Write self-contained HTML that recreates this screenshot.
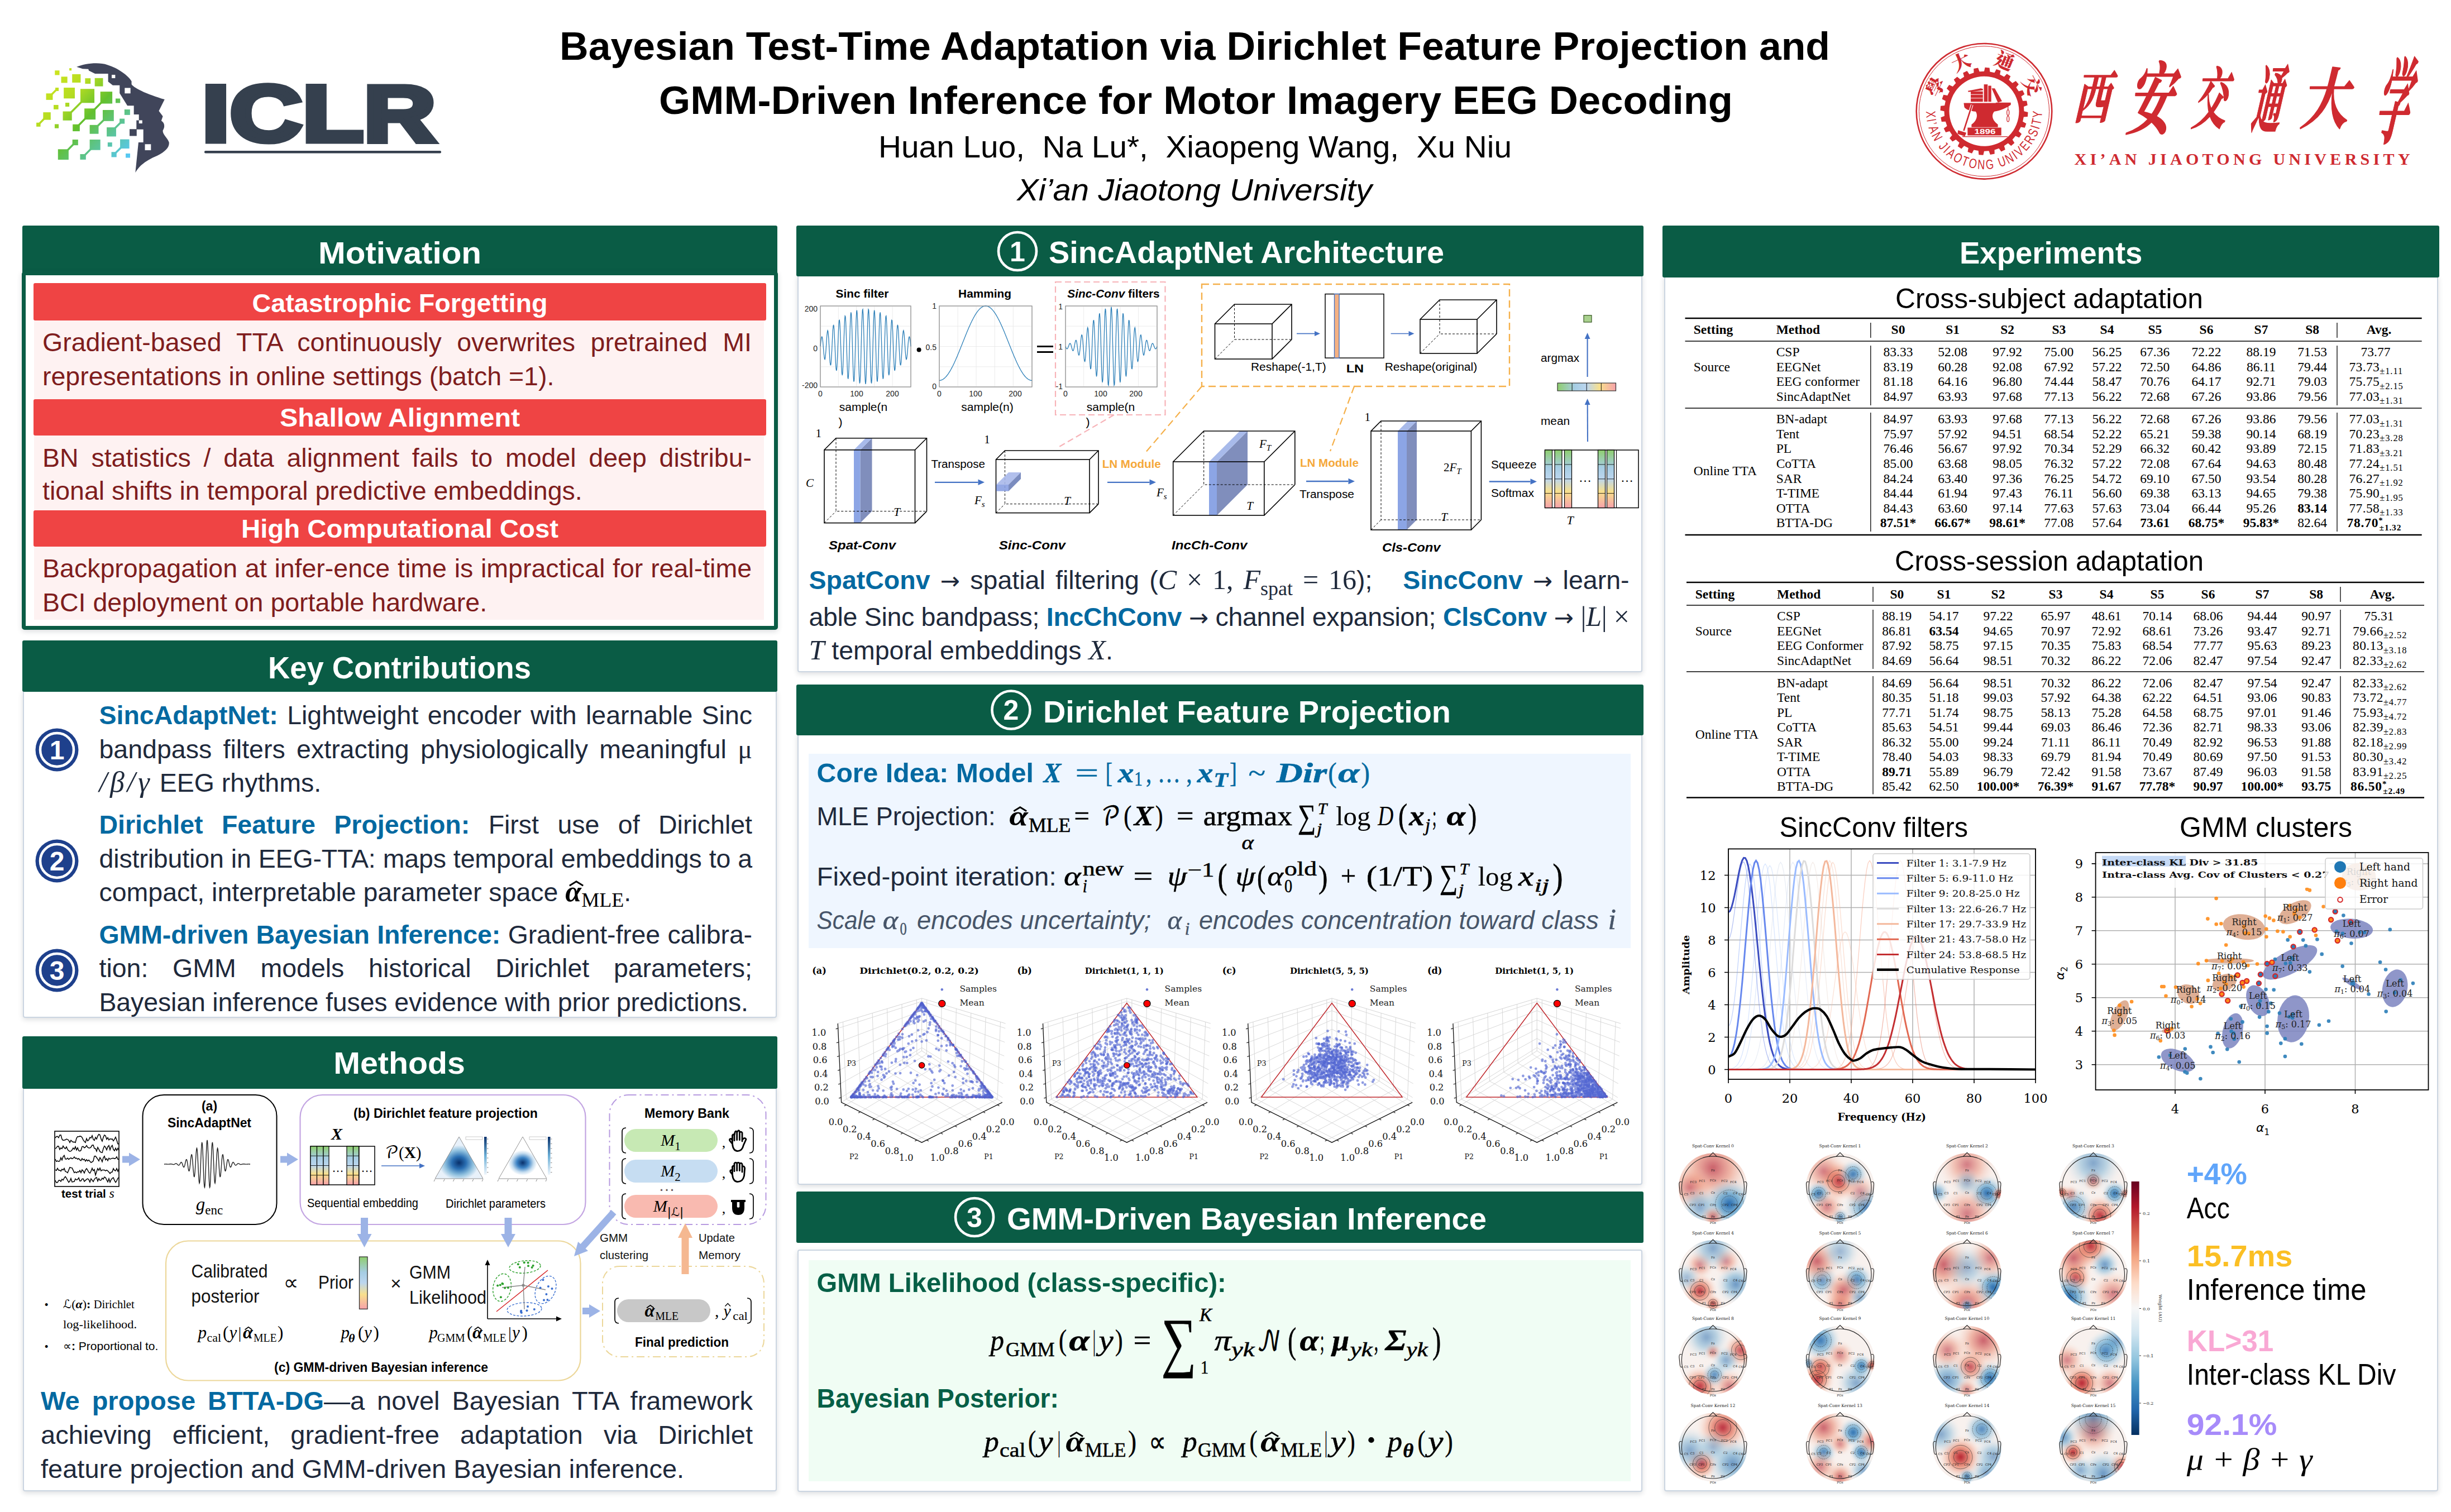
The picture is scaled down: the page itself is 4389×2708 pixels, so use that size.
<!DOCTYPE html>
<html lang="en"><head><meta charset="utf-8"><title>BTTA-DG poster</title><style>
html,body{margin:0;padding:0;background:#fff}
body{width:4389px;height:2708px;position:relative;overflow:hidden;font-family:"Liberation Sans",sans-serif;color:#000}
svg#pg{position:absolute;left:0;top:0}
svg text{white-space:pre}
.ln{position:absolute;white-space:nowrap;text-align:justify;text-align-last:justify;color:#1e293b}
.ln span,.ln i,.ln b,.ln sub,.ln sup{line-height:0}
.m{font-family:"Liberation Serif","DejaVu Serif",serif;font-style:italic}
.mr{font-family:"Liberation Serif","DejaVu Serif",serif;font-style:normal}
.dm{font-family:"DejaVu Math TeX Gyre","DejaVu Serif",serif;font-style:normal}
.bl{color:#0369a1;font-weight:bold}
.box{position:absolute;box-sizing:border-box}
</style></head>
<body>
<div class="box" style="left:40px;top:404px;width:1352px;height:90px;background:#0a5c45;border-radius:3px"></div><div class="box" style="left:39px;top:486px;width:1354px;height:642px;background:#fff;border:7px solid #0a5c45;border-radius:5px;box-shadow:0 3px 10px rgba(30,41,59,.16);"></div><div class="box" style="left:61px;top:574px;width:1307px;height:141px;background:#fef2f2"></div><div class="box" style="left:60px;top:507px;width:1312px;height:67px;background:#ef4444;border-radius:3px"></div><div class="box" style="left:61px;top:780px;width:1307px;height:134px;background:#fef2f2"></div><div class="box" style="left:60px;top:715px;width:1312px;height:65px;background:#ef4444;border-radius:3px"></div><div class="box" style="left:61px;top:979px;width:1307px;height:131px;background:#fef2f2"></div><div class="box" style="left:60px;top:914px;width:1312px;height:65px;background:#ef4444;border-radius:3px"></div><div class="box" style="left:40.5px;top:1236px;width:1350px;height:587px;background:#fff;border:2px solid #cbd5e1;border-radius:4px;box-shadow:0 3px 10px rgba(30,41,59,.16);"></div><div class="box" style="left:40px;top:1147px;width:1352px;height:92px;background:#0a5c45;border-radius:3px"></div><div class="box" style="left:40.5px;top:1946px;width:1350px;height:725px;background:#fff;border:2px solid #cbd5e1;border-radius:4px;box-shadow:0 3px 10px rgba(30,41,59,.16);"></div><div class="box" style="left:40px;top:1856px;width:1352px;height:94px;background:#0a5c45;border-radius:3px"></div><div class="box" style="left:1427.5px;top:492px;width:1513.5px;height:712px;background:#fff;border:2px solid #cbd5e1;border-radius:4px;box-shadow:0 3px 10px rgba(30,41,59,.16);"></div><div class="box" style="left:1427.5px;top:1314px;width:1513.5px;height:808px;background:#fff;border:2px solid #cbd5e1;border-radius:4px;box-shadow:0 3px 10px rgba(30,41,59,.16);"></div><div class="box" style="left:1427.5px;top:2237.6px;width:1513.5px;height:434.4px;background:#fff;border:2px solid #cbd5e1;border-radius:4px;box-shadow:0 3px 10px rgba(30,41,59,.16);"></div><div class="box" style="left:1426px;top:404px;width:1517px;height:91px;background:#0a5c45;border-radius:3px"></div><div class="box" style="left:1426px;top:1226px;width:1517px;height:91px;background:#0a5c45;border-radius:3px"></div><div class="box" style="left:1426px;top:2133.8px;width:1517px;height:92.2px;background:#0a5c45;border-radius:3px"></div><div class="box" style="left:1447.7px;top:1349.5px;width:1472.3px;height:348px;background:#eff6ff"></div><div class="box" style="left:1447.7px;top:2257px;width:1472.3px;height:395.7px;background:#f0fdf4"></div><div class="box" style="left:2980px;top:494px;width:1385.5px;height:2177px;background:#fff;border:2px solid #cbd5e1;border-radius:4px;box-shadow:0 3px 10px rgba(30,41,59,.16);"></div><div class="box" style="left:2977px;top:404px;width:1391px;height:93.4px;background:#0a5c45;border-radius:3px"></div>
<svg id="pg" width="4389" height="2708" viewBox="0 0 4389 2708" font-family='"Liberation Sans", sans-serif'>
<defs><linearGradient id="gq" gradientUnits="userSpaceOnUse" x1="250" y1="250" x2="1200" y2="1200"><stop offset="0" stop-color="#d2e61e"/><stop offset=".3" stop-color="#b4dc22"/><stop offset=".52" stop-color="#62c02e"/><stop offset=".75" stop-color="#5cc492"/><stop offset="1" stop-color="#56c8f6"/></linearGradient></defs><g transform="translate(40 90) scale(.15873)"><g fill="url(#gq)" stroke="url(#gq)"><rect x="367" y="228" width="52" height="52" stroke="none"/><rect x="530" y="202" width="25" height="27" stroke="none"/><rect x="438" y="298" width="70" height="70" stroke="none"/><rect x="562" y="270" width="96" height="95" stroke="none"/><rect x="708" y="316" width="62" height="62" stroke="none"/><rect x="817" y="314" width="93" height="93" stroke="none"/><rect x="372" y="422" width="38" height="38" stroke="none"/><rect x="268" y="487" width="75" height="73" stroke="none"/><rect x="467" y="422" width="125" height="122" stroke="none"/><rect x="655" y="436" width="158" height="158" stroke="none"/><rect x="880" y="467" width="135" height="135" stroke="none"/><rect x="1052" y="545" width="52" height="50" stroke="none"/><rect x="485" y="592" width="45" height="44" stroke="none"/><rect x="353" y="617" width="54" height="50" stroke="none"/><rect x="235" y="700" width="85" height="85" stroke="none"/><rect x="457" y="690" width="102" height="102" stroke="none"/><rect x="700" y="657" width="126" height="125" stroke="none"/><rect x="907" y="674" width="125" height="125" stroke="none"/><rect x="1152" y="668" width="63" height="62" stroke="none"/><rect x="1097" y="772" width="57" height="57" stroke="none"/><rect x="158" y="817" width="47" height="45" stroke="none"/><rect x="365" y="834" width="45" height="46" stroke="none"/><rect x="568" y="836" width="80" height="78" stroke="none"/><rect x="760" y="843" width="100" height="100" stroke="none"/><rect x="952" y="870" width="106" height="103" stroke="none"/><rect x="565" y="1008" width="64" height="64" stroke="none"/><rect x="760" y="1008" width="120" height="118" stroke="none"/><rect x="963" y="1040" width="50" height="48" stroke="none"/><rect x="1103" y="1005" width="104" height="104" stroke="none"/><rect x="402" y="1117" width="120" height="118" stroke="none"/><rect x="652" y="1172" width="65" height="62" stroke="none"/><rect x="1005" y="1148" width="58" height="58" stroke="none"/><rect x="1166" y="1165" width="50" height="48" stroke="none"/><line x1="390" y1="440" x2="305" y2="525" stroke-width="22"/><line x1="735" y1="515" x2="510" y2="740" stroke-width="22"/><line x1="945" y1="535" x2="763" y2="720" stroke-width="22"/><line x1="277" y1="742" x2="181" y2="840" stroke-width="22"/><line x1="760" y1="720" x2="608" y2="875" stroke-width="22"/><line x1="970" y1="737" x2="810" y2="893" stroke-width="22"/><line x1="1125" y1="800" x2="1005" y2="920" stroke-width="22"/><line x1="597" y1="1040" x2="462" y2="1176" stroke-width="22"/><line x1="820" y1="1067" x2="685" y2="1203" stroke-width="22"/><line x1="1155" y1="1057" x2="1034" y2="1177" stroke-width="22"/></g><path d="M612,188C700,150 860,130 960,165C1080,200 1200,290 1232,350L1232,385C1260,430 1420,500 1605,555L1540,685L1585,745L1568,795C1600,815 1615,855 1585,905C1580,950 1640,990 1655,1040C1660,1090 1620,1140 1520,1190C1400,1240 1320,1300 1275,1380L1310,1040L1365,1040L1365,893L1290,893L1290,967L1210,967L1210,890L1287,890L1287,790L1315,790L1315,725L1258,725L1258,625L1185,625L1098,485L1098,395L1020,395L968,355L968,265L820,265L750,230L745,212L680,210Z" fill="#40455a"/><rect x="1008" y="277" width="40" height="38" fill="#fff"/><rect x="1155" y="425" width="65" height="62" fill="#fff"/><rect x="1315" y="790" width="38" height="36" fill="#fff"/><rect x="1383" y="1060" width="68" height="68" fill="#fff"/></g><text x="361.6" y="252.5" font-size="143" textLength="419" lengthAdjust="spacingAndGlyphs" fill="#35404e" font-family='"Liberation Sans", sans-serif' font-weight="bold" stroke="#35404e" stroke-width="9" stroke-linejoin="miter">ICLR</text><rect x="366" y="270" width="424" height="4.5" fill="#35404e" rx="2"/><g fill="none" stroke="#cf2a30"><circle cx="3553" cy="199.3" r="121.3" stroke-width="2.6"/><circle cx="3553" cy="199.3" r="116.6" stroke-width="1"/></g><path d="M3624.5,199.3L3631.5,200.9L3630.9,208.9L3623.8,209.6L3622.1,217.8L3628.4,221.2L3625.8,228.8L3618.7,227.5L3614.9,235.1L3620.1,240.0L3615.7,246.6L3609.2,243.6L3603.6,249.9L3607.3,256.0L3601.3,261.2L3595.8,256.6L3588.8,261.2L3590.8,268.1L3583.6,271.6L3579.5,265.7L3571.5,268.4L3571.7,275.5L3563.9,277.0L3561.4,270.3L3553.0,270.8L3551.4,277.8L3543.4,277.2L3542.7,270.1L3534.5,268.4L3531.1,274.7L3523.5,272.1L3524.8,265.0L3517.2,261.2L3512.3,266.4L3505.7,262.0L3508.7,255.5L3502.4,249.9L3496.3,253.6L3491.1,247.6L3495.7,242.1L3491.1,235.1L3484.2,237.1L3480.7,229.9L3486.6,225.8L3483.9,217.8L3476.8,218.0L3475.3,210.2L3482.0,207.7L3481.5,199.3L3474.5,197.7L3475.1,189.7L3482.2,189.0L3483.9,180.8L3477.6,177.4L3480.2,169.8L3487.3,171.1L3491.1,163.6L3485.9,158.6L3490.3,152.0L3496.8,155.0L3502.4,148.7L3498.7,142.6L3504.7,137.4L3510.2,142.0L3517.2,137.4L3515.2,130.5L3522.4,127.0L3526.5,132.9L3534.5,130.2L3534.3,123.1L3542.1,121.6L3544.6,128.3L3553.0,127.8L3554.6,120.8L3562.6,121.4L3563.3,128.5L3571.5,130.2L3574.9,123.9L3582.5,126.5L3581.2,133.6L3588.8,137.4L3593.7,132.2L3600.3,136.6L3597.3,143.1L3603.6,148.7L3609.7,145.0L3614.9,151.0L3610.3,156.5L3614.9,163.5L3621.8,161.5L3625.3,168.7L3619.4,172.8L3622.1,180.8L3629.2,180.6L3630.7,188.4L3624.0,190.9Z M3490.5,199.3 a62.5,62.5 0 1,0 125,0 a62.5,62.5 0 1,0 -125,0Z" fill="#cf2a30" fill-rule="evenodd"/><g transform="translate(3410 60) scale(0.18519)" fill="#cf2a30" stroke="none"><path d="M575,672L885,672L885,668L1030,668L1030,690C990,720 930,745 870,755C840,790 850,840 905,880L650,880C700,845 715,790 690,755C640,750 590,735 580,710Z"/><rect x="650" y="880" width="255" height="26"/><rect x="612" y="910" width="326" height="76"/><rect x="643" y="560" width="117" height="100"/><rect x="770" y="492" width="36" height="168"/><rect x="812" y="505" width="29" height="155"/><path d="M845,530L875,530L945,655L905,668Z"/><path d="M615,555L740,530L760,536L760,549L620,566Z"/><path d="M520,935L600,960L585,995L515,970Z"/><rect x="560" y="994" width="440" height="7"/><g stroke="#fff" stroke-width="5"><line x1="643" y1="590" x2="760" y2="590"/><line x1="643" y1="625" x2="760" y2="625"/></g><line x1="655" y1="690" x2="575" y2="940" stroke="#fff" stroke-width="26"/><line x1="655" y1="690" x2="575" y2="940" stroke="#cf2a30" stroke-width="14"/><g fill="none" stroke="#cf2a30" stroke-width="7"><ellipse cx="1003" cy="765" rx="11" ry="27"/><ellipse cx="1003" cy="826" rx="11" ry="27"/><line x1="1003" y1="690" x2="1003" y2="740"/></g><text x="780" y="972" text-anchor="middle" font-size="72" font-weight="bold" fill="#fff" textLength="205" lengthAdjust="spacingAndGlyphs" font-family='"Liberation Sans", sans-serif'>1896</text></g><g fill="#cf2a30" font-size="24" font-family='"Liberation Sans", sans-serif' text-anchor="middle"><text transform="translate(3449.4 205.4) rotate(86.6) scale(0.760 1)">X</text><text transform="translate(3450.7 216.7) rotate(80.3) scale(0.760 1)">I</text><text transform="translate(3452.1 223.9) rotate(76.3) scale(0.760 1)">’</text><text transform="translate(3455.3 234.3) rotate(70.3) scale(0.760 1)">A</text><text transform="translate(3461.5 248.4) rotate(61.8) scale(0.760 1)">N</text><text transform="translate(3473.7 266.3) rotate(49.8) scale(0.760 1)">J</text><text transform="translate(3480.5 273.5) rotate(44.3) scale(0.760 1)">I</text><text transform="translate(3489.0 281.0) rotate(38.1) scale(0.760 1)">A</text><text transform="translate(3502.3 289.9) rotate(29.2) scale(0.760 1)">O</text><text transform="translate(3516.3 296.4) rotate(20.7) scale(0.760 1)">T</text><text transform="translate(3531.1 300.8) rotate(12.2) scale(0.760 1)">O</text><text transform="translate(3547.4 302.9) rotate(3.1) scale(0.760 1)">N</text><text transform="translate(3563.8 302.5) rotate(-6.0) scale(0.760 1)">G</text><text transform="translate(3587.5 297.2) rotate(-19.4) scale(0.760 1)">U</text><text transform="translate(3602.1 290.8) rotate(-28.2) scale(0.760 1)">N</text><text transform="translate(3612.2 284.6) rotate(-34.8) scale(0.760 1)">I</text><text transform="translate(3621.2 277.6) rotate(-41.1) scale(0.760 1)">V</text><text transform="translate(3631.7 267.0) rotate(-49.3) scale(0.760 1)">E</text><text transform="translate(3640.9 254.5) rotate(-57.8) scale(0.760 1)">R</text><text transform="translate(3648.1 240.9) rotate(-66.4) scale(0.760 1)">S</text><text transform="translate(3652.1 230.2) rotate(-72.7) scale(0.760 1)">I</text><text transform="translate(3654.8 219.7) rotate(-78.7) scale(0.760 1)">T</text><text transform="translate(3656.6 205.4) rotate(-86.6) scale(0.760 1)">Y</text></g><text x="0" y="12" text-anchor="middle" font-size="34" font-weight="900" fill="#cf2a30" font-family='"Noto Serif CJK TC","Noto Sans CJK TC",serif' transform="translate(3466.3 155.7) rotate(296.7)">學</text><text x="0" y="12" text-anchor="middle" font-size="34" font-weight="900" fill="#cf2a30" font-family='"Noto Serif CJK TC","Noto Sans CJK TC",serif' transform="translate(3512.0 111.4) rotate(335.0)">大</text><text x="0" y="12" text-anchor="middle" font-size="34" font-weight="900" fill="#cf2a30" font-family='"Noto Serif CJK TC","Noto Sans CJK TC",serif' transform="translate(3589.3 109.4) rotate(382.0)">通</text><text x="0" y="12" text-anchor="middle" font-size="34" font-weight="900" fill="#cf2a30" font-family='"Noto Serif CJK TC","Noto Sans CJK TC",serif' transform="translate(3638.4 153.3) rotate(421.7)">交</text><g fill="#cf2a30" stroke="#cf2a30" stroke-width="1.6" stroke-linejoin="round" font-size="100" font-weight="700" font-family='"Noto Serif CJK SC","Noto Sans CJK SC",serif'><text transform="translate(3712.2 212.4) skewX(-13) scale(0.638 1.016)">西</text><text transform="translate(3807.0 228.4) skewX(-13) scale(0.798 1.404)">安</text><text transform="translate(3923.7 220.3) skewX(-13) scale(0.608 1.191)">交</text><text transform="translate(4029.1 226.2) skewX(-13) scale(0.527 1.312)">通</text><text transform="translate(4118.5 220.4) skewX(-13) scale(0.849 1.181)">大</text><text transform="translate(4249.3 242.5) skewX(-13) scale(0.588 1.665)">学</text></g><text x="3714.6" y="295" font-size="30" textLength="601" lengthAdjust="spacing" fill="#cf2a30" font-family='"Liberation Serif", serif' font-weight="bold">XI’AN JIAOTONG UNIVERSITY</text><text x="2139.5" y="107" font-size="71" text-anchor="middle" textLength="2275" lengthAdjust="spacingAndGlyphs" font-family='"Liberation Sans", sans-serif' font-weight="bold">Bayesian Test-Time Adaptation via Dirichlet Feature Projection and</text><text x="2141.5" y="204" font-size="71" text-anchor="middle" textLength="1923" lengthAdjust="spacingAndGlyphs" font-family='"Liberation Sans", sans-serif' font-weight="bold">GMM-Driven Inference for Motor Imagery EEG Decoding</text><text x="2140" y="282" font-size="56" text-anchor="middle" textLength="1134" lengthAdjust="spacingAndGlyphs" font-family='"Liberation Sans", sans-serif' xml:space="preserve">Huan Luo,  Na Lu*,  Xiaopeng Wang,  Xu Niu</text><text x="2139" y="359" font-size="56" text-anchor="middle" textLength="636" lengthAdjust="spacingAndGlyphs" font-family='"Liberation Sans", sans-serif' font-style="italic">Xi’an Jiaotong University</text><text x="716" y="472" font-size="56" text-anchor="middle" textLength="292" lengthAdjust="spacingAndGlyphs" fill="#fff" font-family='"Liberation Sans", sans-serif' font-weight="bold">Motivation</text><text x="716" y="558.7" font-size="47" text-anchor="middle" textLength="529" lengthAdjust="spacingAndGlyphs" fill="#fff" font-family='"Liberation Sans", sans-serif' font-weight="bold">Catastrophic Forgetting</text><text x="716" y="764" font-size="47" text-anchor="middle" textLength="430" lengthAdjust="spacingAndGlyphs" fill="#fff" font-family='"Liberation Sans", sans-serif' font-weight="bold">Shallow Alignment</text><text x="716" y="962.6" font-size="47" text-anchor="middle" textLength="568" lengthAdjust="spacingAndGlyphs" fill="#fff" font-family='"Liberation Sans", sans-serif' font-weight="bold">High Computational Cost</text><text x="715.5" y="1215" font-size="56" text-anchor="middle" textLength="471" lengthAdjust="spacingAndGlyphs" fill="#fff" font-family='"Liberation Sans", sans-serif' font-weight="bold">Key Contributions</text><circle cx="102" cy="1343" r="38.5" fill="#1e408c"/><circle cx="102" cy="1343" r="30" fill="none" stroke="#fff" stroke-width="4.5"/><text x="102" y="1360" font-size="48" text-anchor="middle" fill="#fff" font-family='"Liberation Sans", sans-serif' font-weight="bold">1</text><circle cx="102" cy="1542" r="38.5" fill="#1e408c"/><circle cx="102" cy="1542" r="30" fill="none" stroke="#fff" stroke-width="4.5"/><text x="102" y="1559" font-size="48" text-anchor="middle" fill="#fff" font-family='"Liberation Sans", sans-serif' font-weight="bold">2</text><circle cx="102" cy="1738" r="38.5" fill="#1e408c"/><circle cx="102" cy="1738" r="30" fill="none" stroke="#fff" stroke-width="4.5"/><text x="102" y="1755" font-size="48" text-anchor="middle" fill="#fff" font-family='"Liberation Sans", sans-serif' font-weight="bold">3</text><text x="715" y="1923" font-size="56" text-anchor="middle" textLength="235.5" lengthAdjust="spacingAndGlyphs" fill="#fff" font-family='"Liberation Sans", sans-serif' font-weight="bold">Methods</text><rect x="98" y="2026" width="115" height="99" fill="#fff" stroke="#000" stroke-width="1.6"/><path d="M99,2038.0 L101.0,2035.4 L103.0,2035.3 L105.0,2037.7 L107.0,2033.0 L109.0,2032.8 L111.0,2040.1 L113.0,2042.5 L115.0,2041.9 L117.0,2041.5 L119.0,2040.1 L121.0,2040.9 L123.0,2042.2 L125.0,2046.3 L127.0,2042.3 L129.0,2044.2 L131.0,2045.6 L133.0,2045.2 L135.0,2046.3 L137.0,2038.5 L139.0,2035.5 L141.0,2036.0 L143.0,2034.9 L145.0,2035.2 L147.0,2037.3 L149.0,2041.6 L151.0,2044.3 L153.0,2046.4 L155.0,2039.2 L157.0,2043.3 L159.0,2041.6 L161.0,2037.1 L163.0,2038.2 L165.0,2033.8 L167.0,2040.6 L169.0,2042.4 L171.0,2036.9 L173.0,2040.1 L175.0,2034.6 L177.0,2031.6 L179.0,2032.8 L181.0,2039.9 L183.0,2044.0 L185.0,2037.1 L187.0,2032.8 L189.0,2034.2 L191.0,2040.5 L193.0,2037.5 L195.0,2041.7 L197.0,2039.6 L199.0,2040.3 L201.0,2039.9 L203.0,2043.4 L205.0,2040.3 L207.0,2036.6 L209.0,2042.0 L211.0,2048.7 L213.0,2048.8" fill="none" stroke="#000" stroke-width="1.5"/><path d="M99,2057.0 L101.0,2055.8 L103.0,2052.7 L105.0,2052.9 L107.0,2058.9 L109.0,2055.9 L111.0,2057.3 L113.0,2052.4 L115.0,2055.7 L117.0,2057.3 L119.0,2054.0 L121.0,2058.8 L123.0,2060.9 L125.0,2062.3 L127.0,2061.7 L129.0,2059.6 L131.0,2056.1 L133.0,2058.3 L135.0,2053.7 L137.0,2059.7 L139.0,2055.7 L141.0,2060.9 L143.0,2061.6 L145.0,2060.2 L147.0,2053.6 L149.0,2053.3 L151.0,2055.7 L153.0,2054.7 L155.0,2051.6 L157.0,2054.9 L159.0,2056.0 L161.0,2056.1 L163.0,2054.4 L165.0,2050.9 L167.0,2050.7 L169.0,2056.8 L171.0,2057.0 L173.0,2061.9 L175.0,2055.0 L177.0,2058.4 L179.0,2062.4 L181.0,2063.9 L183.0,2064.4 L185.0,2057.2 L187.0,2052.5 L189.0,2054.6 L191.0,2059.5 L193.0,2053.9 L195.0,2051.5 L197.0,2059.4 L199.0,2053.8 L201.0,2051.4 L203.0,2058.6 L205.0,2061.0 L207.0,2056.4 L209.0,2060.6 L211.0,2056.4 L213.0,2060.5" fill="none" stroke="#000" stroke-width="1.5"/><path d="M99,2076.0 L101.0,2080.2 L103.0,2079.0 L105.0,2080.2 L107.0,2079.5 L109.0,2073.4 L111.0,2077.8 L113.0,2071.7 L115.0,2069.3 L117.0,2075.9 L119.0,2076.0 L121.0,2074.1 L123.0,2076.4 L125.0,2074.8 L127.0,2073.7 L129.0,2075.3 L131.0,2074.4 L133.0,2071.9 L135.0,2074.8 L137.0,2074.1 L139.0,2076.2 L141.0,2074.8 L143.0,2077.4 L145.0,2078.7 L147.0,2074.9 L149.0,2077.4 L151.0,2076.0 L153.0,2079.8 L155.0,2076.8 L157.0,2079.4 L159.0,2077.5 L161.0,2080.0 L163.0,2082.0 L165.0,2081.0 L167.0,2079.4 L169.0,2070.7 L171.0,2070.5 L173.0,2073.2 L175.0,2076.1 L177.0,2079.2 L179.0,2073.3 L181.0,2076.3 L183.0,2080.7 L185.0,2073.6 L187.0,2070.7 L189.0,2077.4 L191.0,2075.0 L193.0,2078.8 L195.0,2074.3 L197.0,2076.2 L199.0,2075.1 L201.0,2074.5 L203.0,2074.3 L205.0,2075.1 L207.0,2074.6 L209.0,2071.8 L211.0,2076.3 L213.0,2076.3" fill="none" stroke="#000" stroke-width="1.5"/><path d="M99,2095.0 L101.0,2096.4 L103.0,2092.3 L105.0,2096.0 L107.0,2095.7 L109.0,2097.6 L111.0,2094.1 L113.0,2095.4 L115.0,2092.5 L117.0,2098.2 L119.0,2098.8 L121.0,2100.6 L123.0,2095.8 L125.0,2090.7 L127.0,2091.4 L129.0,2091.6 L131.0,2095.9 L133.0,2100.4 L135.0,2099.0 L137.0,2100.5 L139.0,2098.6 L141.0,2099.2 L143.0,2096.3 L145.0,2100.3 L147.0,2095.2 L149.0,2097.3 L151.0,2100.9 L153.0,2095.6 L155.0,2092.9 L157.0,2095.9 L159.0,2099.5 L161.0,2101.1 L163.0,2097.6 L165.0,2092.3 L167.0,2096.8 L169.0,2094.6 L171.0,2104.5 L173.0,2098.6 L175.0,2092.7 L177.0,2096.2 L179.0,2091.9 L181.0,2097.1 L183.0,2095.5 L185.0,2095.5 L187.0,2095.6 L189.0,2097.1 L191.0,2095.7 L193.0,2097.1 L195.0,2099.3 L197.0,2101.8 L199.0,2099.4 L201.0,2099.1 L203.0,2092.8 L205.0,2096.1 L207.0,2097.1 L209.0,2092.6 L211.0,2097.9 L213.0,2092.7" fill="none" stroke="#000" stroke-width="1.5"/><path d="M99,2114.0 L101.0,2118.2 L103.0,2117.8 L105.0,2114.1 L107.0,2113.9 L109.0,2116.0 L111.0,2111.9 L113.0,2113.6 L115.0,2109.8 L117.0,2107.2 L119.0,2110.1 L121.0,2113.8 L123.0,2117.6 L125.0,2115.5 L127.0,2110.5 L129.0,2117.0 L131.0,2116.6 L133.0,2116.1 L135.0,2111.3 L137.0,2113.2 L139.0,2112.4 L141.0,2109.4 L143.0,2115.1 L145.0,2115.0 L147.0,2111.4 L149.0,2111.2 L151.0,2115.9 L153.0,2114.1 L155.0,2112.2 L157.0,2111.1 L159.0,2112.7 L161.0,2117.2 L163.0,2111.1 L165.0,2113.7 L167.0,2116.4 L169.0,2112.1 L171.0,2109.9 L173.0,2108.9 L175.0,2115.4 L177.0,2110.9 L179.0,2113.9 L181.0,2113.6 L183.0,2110.0 L185.0,2111.9 L187.0,2108.0 L189.0,2109.0 L191.0,2113.2 L193.0,2116.9 L195.0,2111.0 L197.0,2117.3 L199.0,2112.8 L201.0,2110.4 L203.0,2109.2 L205.0,2114.2 L207.0,2117.6 L209.0,2114.9 L211.0,2110.2 L213.0,2109.0" fill="none" stroke="#000" stroke-width="1.5"/><text x="110" y="2145" font-size="20.5" font-weight="bold" font-family='"Liberation Sans", sans-serif'>test trial <tspan font-family='"Liberation Serif", serif' font-style="italic" font-weight="normal" font-size="24">s</tspan></text><path d="M219,2070.5 L231,2070.5 L231,2064.5 L251,2076.5 L231,2088.5 L231,2082.5 L219,2082.5Z" fill="#9cb3e6"/><rect x="255.5" y="1961" width="240" height="232" fill="#fff" stroke="#000" stroke-width="2" rx="38"/><text x="375" y="1989" font-size="23" text-anchor="middle" font-family='"Liberation Sans", sans-serif' font-weight="bold">(a)</text><text x="375" y="2019" font-size="23.5" text-anchor="middle" textLength="150" lengthAdjust="spacingAndGlyphs" font-family='"Liberation Sans", sans-serif' font-weight="bold">SincAdaptNet</text><path d="M294.0,2085.0L294.5,2085.0L295.0,2085.0L295.5,2085.0L296.0,2084.9L296.5,2084.9L297.0,2084.9L297.5,2084.9L298.0,2085.0L298.5,2085.0L299.0,2085.0L299.5,2085.1L300.0,2085.1L300.5,2085.1L301.0,2085.1L301.5,2085.1L302.0,2085.1L302.5,2085.1L303.0,2085.0L303.5,2085.0L304.0,2084.9L304.5,2084.8L305.0,2084.8L305.5,2084.7L306.0,2084.7L306.5,2084.7L307.0,2084.8L307.5,2084.9L308.0,2085.0L308.5,2085.1L309.0,2085.3L309.5,2085.4L310.0,2085.5L310.5,2085.6L311.0,2085.6L311.5,2085.5L312.0,2085.3L312.5,2085.1L313.0,2084.8L313.5,2084.5L314.0,2084.2L314.5,2084.0L315.0,2083.9L315.5,2083.9L316.0,2084.0L316.5,2084.3L317.0,2084.7L317.5,2085.2L318.0,2085.7L318.5,2086.2L319.0,2086.6L319.5,2086.9L320.0,2087.0L320.5,2086.9L321.0,2086.4L321.5,2085.8L322.0,2085.0L322.5,2084.1L323.0,2083.2L323.5,2082.4L324.0,2081.8L324.5,2081.6L325.0,2081.7L325.5,2082.3L326.0,2083.2L326.5,2084.5L327.0,2086.0L327.5,2087.5L328.0,2088.9L328.5,2089.9L329.0,2090.5L329.5,2090.4L330.0,2089.7L330.5,2088.4L331.0,2086.5L331.5,2084.2L332.0,2081.8L332.5,2079.6L333.0,2077.8L333.5,2076.7L334.0,2076.5L334.5,2077.3L335.0,2079.1L335.5,2081.7L336.0,2085.0L336.5,2088.5L337.0,2091.9L337.5,2094.8L338.0,2096.7L338.5,2097.4L339.0,2096.7L339.5,2094.5L340.0,2091.1L340.5,2086.6L341.0,2081.7L341.5,2076.7L342.0,2072.4L342.5,2069.3L343.0,2067.8L343.5,2068.2L344.0,2070.7L344.5,2074.9L345.0,2080.7L345.5,2087.3L346.0,2094.0L346.5,2100.1L347.0,2104.8L347.5,2107.4L348.0,2107.6L348.5,2105.2L349.0,2100.2L349.5,2093.3L350.0,2085.0L350.5,2076.3L351.0,2068.2L351.5,2061.6L352.0,2057.5L352.5,2056.4L353.0,2058.5L353.5,2063.7L354.0,2071.7L354.5,2081.5L355.0,2092.1L355.5,2102.3L356.0,2110.8L356.5,2116.7L357.0,2119.2L357.5,2117.8L358.0,2112.6L358.5,2104.1L359.0,2093.1L359.5,2080.9L360.0,2068.8L360.5,2058.3L361.0,2050.5L361.5,2046.5L362.0,2046.9L362.5,2051.5L363.0,2060.1L363.5,2071.7L364.0,2085.0L364.5,2098.5L365.0,2110.7L365.5,2120.1L366.0,2125.7L366.5,2126.7L367.0,2123.0L367.5,2115.0L368.0,2103.5L368.5,2089.8L369.0,2075.5L369.5,2062.2L370.0,2051.4L370.5,2044.4L371.0,2042.0L371.5,2044.4L372.0,2051.4L372.5,2062.2L373.0,2075.5L373.5,2089.8L374.0,2103.5L374.5,2115.0L375.0,2123.0L375.5,2126.7L376.0,2125.7L376.5,2120.1L377.0,2110.7L377.5,2098.5L378.0,2085.0L378.5,2071.7L379.0,2060.1L379.5,2051.5L380.0,2046.9L380.5,2046.5L381.0,2050.5L381.5,2058.3L382.0,2068.8L382.5,2080.9L383.0,2093.1L383.5,2104.1L384.0,2112.6L384.5,2117.8L385.0,2119.2L385.5,2116.7L386.0,2110.8L386.5,2102.3L387.0,2092.1L387.5,2081.5L388.0,2071.7L388.5,2063.7L389.0,2058.5L389.5,2056.4L390.0,2057.5L390.5,2061.6L391.0,2068.2L391.5,2076.3L392.0,2085.0L392.5,2093.3L393.0,2100.2L393.5,2105.2L394.0,2107.6L394.5,2107.4L395.0,2104.8L395.5,2100.1L396.0,2094.0L396.5,2087.3L397.0,2080.7L397.5,2074.9L398.0,2070.7L398.5,2068.2L399.0,2067.8L399.5,2069.3L400.0,2072.4L400.5,2076.7L401.0,2081.7L401.5,2086.6L402.0,2091.1L402.5,2094.5L403.0,2096.7L403.5,2097.4L404.0,2096.7L404.5,2094.8L405.0,2091.9L405.5,2088.5L406.0,2085.0L406.5,2081.7L407.0,2079.1L407.5,2077.3L408.0,2076.5L408.5,2076.7L409.0,2077.8L409.5,2079.6L410.0,2081.8L410.5,2084.2L411.0,2086.5L411.5,2088.4L412.0,2089.7L412.5,2090.4L413.0,2090.5L413.5,2089.9L414.0,2088.9L414.5,2087.5L415.0,2086.0L415.5,2084.5L416.0,2083.2L416.5,2082.3L417.0,2081.7L417.5,2081.6L418.0,2081.8L418.5,2082.4L419.0,2083.2L419.5,2084.1L420.0,2085.0L420.5,2085.8L421.0,2086.4L421.5,2086.9L422.0,2087.0L422.5,2086.9L423.0,2086.6L423.5,2086.2L424.0,2085.7L424.5,2085.2L425.0,2084.7L425.5,2084.3L426.0,2084.0L426.5,2083.9L427.0,2083.9L427.5,2084.0L428.0,2084.2L428.5,2084.5L429.0,2084.8L429.5,2085.1L430.0,2085.3L430.5,2085.5L431.0,2085.6L431.5,2085.6L432.0,2085.5L432.5,2085.4L433.0,2085.3L433.5,2085.1L434.0,2085.0L434.5,2084.9L435.0,2084.8L435.5,2084.7L436.0,2084.7L436.5,2084.7L437.0,2084.8L437.5,2084.8L438.0,2084.9L438.5,2085.0L439.0,2085.0L439.5,2085.1L440.0,2085.1L440.5,2085.1L441.0,2085.1L441.5,2085.1L442.0,2085.1L442.5,2085.1L443.0,2085.0L443.5,2085.0L444.0,2085.0L444.5,2084.9L445.0,2084.9L445.5,2084.9L446.0,2084.9L446.5,2085.0L447.0,2085.0L447.5,2085.0L448.0,2085.0" fill="none" stroke="#222" stroke-width="1.4"/><text x="375" y="2168" text-anchor="middle" font-size="33" font-style="italic" font-family='"Liberation Serif", serif'>g<tspan font-style="normal" font-size="23" dy="7">enc</tspan></text><path d="M502,2070.5 L514,2070.5 L514,2064.5 L534,2076.5 L514,2088.5 L514,2082.5 L502,2082.5Z" fill="#9cb3e6"/><rect x="537.5" y="1961" width="511" height="232" fill="#fff" stroke="#c3a5e2" stroke-width="2.2" rx="40"/><text x="798" y="2002" font-size="23.5" text-anchor="middle" textLength="330" lengthAdjust="spacingAndGlyphs" font-family='"Liberation Sans", sans-serif' font-weight="bold">(b) Dirichlet feature projection</text><text x="603" y="2041" font-size="30" text-anchor="middle" font-family='"Liberation Serif", serif' font-weight="bold" font-style="italic">X</text><defs><linearGradient id="rb" x1="0" y1="0" x2="0" y2="1"><stop offset="0" stop-color="#8fce6e"/><stop offset=".3" stop-color="#a6cde4"/><stop offset=".5" stop-color="#bcd6ee"/><stop offset=".72" stop-color="#f8e08c"/><stop offset="1" stop-color="#f6a2aa"/></linearGradient></defs><rect x="556" y="2053" width="115" height="69" fill="#fff" stroke="#000" stroke-width="1.5"/><rect x="556" y="2053" width="11.5" height="69" fill="url(#rb)" stroke="#000" stroke-width="1.2"/><line x1="556" y1="2070.2" x2="566.5" y2="2070.2" stroke="#000" stroke-width="0.8" /><line x1="556" y1="2087.5" x2="566.5" y2="2087.5" stroke="#000" stroke-width="0.8" /><line x1="556" y1="2104.8" x2="566.5" y2="2104.8" stroke="#000" stroke-width="0.8" /><rect x="567.5" y="2053" width="11.5" height="69" fill="url(#rb)" stroke="#000" stroke-width="1.2"/><line x1="567.5" y1="2070.2" x2="578" y2="2070.2" stroke="#000" stroke-width="0.8" /><line x1="567.5" y1="2087.5" x2="578" y2="2087.5" stroke="#000" stroke-width="0.8" /><line x1="567.5" y1="2104.8" x2="578" y2="2104.8" stroke="#000" stroke-width="0.8" /><rect x="579" y="2053" width="10" height="69" fill="url(#rb)" stroke="#000" stroke-width="1.2"/><line x1="579" y1="2070.2" x2="589.5" y2="2070.2" stroke="#000" stroke-width="0.8" /><line x1="579" y1="2087.5" x2="589.5" y2="2087.5" stroke="#000" stroke-width="0.8" /><line x1="579" y1="2104.8" x2="589.5" y2="2104.8" stroke="#000" stroke-width="0.8" /><rect x="621" y="2053" width="11.5" height="69" fill="url(#rb)" stroke="#000" stroke-width="1.2"/><line x1="621" y1="2070.2" x2="631.5" y2="2070.2" stroke="#000" stroke-width="0.8" /><line x1="621" y1="2087.5" x2="631.5" y2="2087.5" stroke="#000" stroke-width="0.8" /><line x1="621" y1="2104.8" x2="631.5" y2="2104.8" stroke="#000" stroke-width="0.8" /><rect x="632.5" y="2053" width="10" height="69" fill="url(#rb)" stroke="#000" stroke-width="1.2"/><line x1="632.5" y1="2070.2" x2="643" y2="2070.2" stroke="#000" stroke-width="0.8" /><line x1="632.5" y1="2087.5" x2="643" y2="2087.5" stroke="#000" stroke-width="0.8" /><line x1="632.5" y1="2104.8" x2="643" y2="2104.8" stroke="#000" stroke-width="0.8" /><line x1="643" y1="2053" x2="643" y2="2122" stroke="#000" stroke-width="1.2" /><text x="605" y="2099" font-size="22" text-anchor="middle" font-family='"Liberation Sans", sans-serif'>…</text><text x="657" y="2099" font-size="22" text-anchor="middle" font-family='"Liberation Sans", sans-serif'>…</text><text x="722" y="2074" text-anchor="middle" font-size="29" font-family='"Liberation Serif", serif'><tspan font-family='"DejaVu Math TeX Gyre", "DejaVu Serif", serif'>𝒫</tspan>(<tspan font-weight="bold">X</tspan>)</text><line x1="683" y1="2088" x2="754" y2="2088" stroke="#4472c4" stroke-width="1.6" /><path d="M761,2088 L751,2083.5 L751,2092.5Z" fill="#4472c4"/><defs><radialGradient id="dg1" cx=".5" cy=".62" r=".42"><stop offset="0" stop-color="#08306b"/><stop offset=".35" stop-color="#2a6fb3"/><stop offset=".7" stop-color="#8fc0de"/><stop offset="1" stop-color="#e8f1fa"/></radialGradient><radialGradient id="dg2" cx=".5" cy=".62" r=".3"><stop offset="0" stop-color="#08306b"/><stop offset=".4" stop-color="#3b82c4"/><stop offset=".75" stop-color="#c4dcef"/><stop offset="1" stop-color="#fff"/></radialGradient><linearGradient id="cbb" x1="0" y1="0" x2="0" y2="1"><stop offset="0" stop-color="#08306b"/><stop offset=".5" stop-color="#6aaed6"/><stop offset="1" stop-color="#f0f6fc"/></linearGradient></defs><path d="M822,2036 L779,2111 L865,2111Z" fill="url(#dg1)" stroke="#777" stroke-width="0.8"/><rect x="867" y="2036" width="4.5" height="68" fill="url(#cbb)"/><rect x="834" y="2036" width="30" height="5" fill="#fff" stroke="#999" stroke-width="0.5"/><line x1="872" y1="2040" x2="874.5" y2="2040" stroke="#555" stroke-width="0.7" /><line x1="872" y1="2048.5" x2="874.5" y2="2048.5" stroke="#555" stroke-width="0.7" /><line x1="872" y1="2057" x2="874.5" y2="2057" stroke="#555" stroke-width="0.7" /><line x1="872" y1="2065.5" x2="874.5" y2="2065.5" stroke="#555" stroke-width="0.7" /><line x1="872" y1="2074" x2="874.5" y2="2074" stroke="#555" stroke-width="0.7" /><line x1="872" y1="2082.5" x2="874.5" y2="2082.5" stroke="#555" stroke-width="0.7" /><line x1="872" y1="2091" x2="874.5" y2="2091" stroke="#555" stroke-width="0.7" /><line x1="872" y1="2099.5" x2="874.5" y2="2099.5" stroke="#555" stroke-width="0.7" /><line x1="779" y1="2112" x2="777" y2="2116" stroke="#555" stroke-width="0.7" /><line x1="796.2" y1="2112" x2="794.2" y2="2116" stroke="#555" stroke-width="0.7" /><line x1="813.4" y1="2112" x2="811.4" y2="2116" stroke="#555" stroke-width="0.7" /><line x1="830.6" y1="2112" x2="828.6" y2="2116" stroke="#555" stroke-width="0.7" /><line x1="847.8" y1="2112" x2="845.8" y2="2116" stroke="#555" stroke-width="0.7" /><line x1="865" y1="2112" x2="863" y2="2116" stroke="#555" stroke-width="0.7" /><path d="M936,2036 L893,2111 L979,2111Z" fill="url(#dg2)" stroke="#777" stroke-width="0.8"/><rect x="981" y="2036" width="4.5" height="68" fill="url(#cbb)"/><rect x="948" y="2036" width="30" height="5" fill="#fff" stroke="#999" stroke-width="0.5"/><line x1="986" y1="2040" x2="988.5" y2="2040" stroke="#555" stroke-width="0.7" /><line x1="986" y1="2048.5" x2="988.5" y2="2048.5" stroke="#555" stroke-width="0.7" /><line x1="986" y1="2057" x2="988.5" y2="2057" stroke="#555" stroke-width="0.7" /><line x1="986" y1="2065.5" x2="988.5" y2="2065.5" stroke="#555" stroke-width="0.7" /><line x1="986" y1="2074" x2="988.5" y2="2074" stroke="#555" stroke-width="0.7" /><line x1="986" y1="2082.5" x2="988.5" y2="2082.5" stroke="#555" stroke-width="0.7" /><line x1="986" y1="2091" x2="988.5" y2="2091" stroke="#555" stroke-width="0.7" /><line x1="986" y1="2099.5" x2="988.5" y2="2099.5" stroke="#555" stroke-width="0.7" /><line x1="893" y1="2112" x2="891" y2="2116" stroke="#555" stroke-width="0.7" /><line x1="910.2" y1="2112" x2="908.2" y2="2116" stroke="#555" stroke-width="0.7" /><line x1="927.4" y1="2112" x2="925.4" y2="2116" stroke="#555" stroke-width="0.7" /><line x1="944.6" y1="2112" x2="942.6" y2="2116" stroke="#555" stroke-width="0.7" /><line x1="961.8" y1="2112" x2="959.8" y2="2116" stroke="#555" stroke-width="0.7" /><line x1="979" y1="2112" x2="977" y2="2116" stroke="#555" stroke-width="0.7" /><text x="550" y="2162" font-size="21.5" textLength="199" lengthAdjust="spacingAndGlyphs" font-family='"Liberation Sans", sans-serif'>Sequential embedding</text><text x="798" y="2163" font-size="21.5" textLength="179" lengthAdjust="spacingAndGlyphs" font-family='"Liberation Sans", sans-serif'>Dirichlet parameters</text><rect x="1091.5" y="1961" width="280" height="232" fill="#fff" stroke="#b79be0" stroke-width="2" rx="34" stroke-dasharray="14 6 3 6"/><text x="1230" y="2002" font-size="23.5" text-anchor="middle" textLength="152" lengthAdjust="spacingAndGlyphs" font-family='"Liberation Sans", sans-serif' font-weight="bold">Memory Bank</text><rect x="1118" y="2022" width="167" height="41" fill="#c7e9b4" rx="20.5"/><path d="M1121,2020 q-7,0 -7,7 v31 q0,7 7,7" fill="none" stroke="#000" stroke-width="1.7"/><path d="M1342,2020 q7,0 7,7 v31 q0,7 -7,7" fill="none" stroke="#000" stroke-width="1.7"/><text x="1201" y="2052" text-anchor="middle" font-size="30" font-style="italic" font-family='"Liberation Serif", serif'>M<tspan font-size="21" dy="8" font-style="normal" font-family='"Liberation Serif", serif'>1</tspan></text><text x="1296" y="2055" font-size="26" text-anchor="middle" font-family='"Liberation Serif", serif'>,</text><g transform="translate(1322 2044) scale(1.17)" fill="none" stroke="#000" stroke-width="2.4" stroke-linecap="round" stroke-linejoin="round"><path d="M-9,4 L-9,-9 Q-7.5,-12 -6,-9 L-6,-1 M-6,-9 L-5,-14 Q-3.5,-17 -2,-14 L-2,-2 M-2,-14 L-1,-15 Q1,-18 2,-15 L2,-2 M2,-13 Q4,-16 6,-13 L6,0 M6,-2 Q10,-7 12,-3 L8,6 Q6,15 -1,15 Q-8,15 -9,4 L-13,-1 Q-14,-4 -11,-4 L-9,-1"/></g><rect x="1118" y="2077" width="167" height="41" fill="#c6ddf2" rx="20.5"/><path d="M1121,2075 q-7,0 -7,7 v31 q0,7 7,7" fill="none" stroke="#000" stroke-width="1.7"/><path d="M1342,2075 q7,0 7,7 v31 q0,7 -7,7" fill="none" stroke="#000" stroke-width="1.7"/><text x="1201" y="2107" text-anchor="middle" font-size="30" font-style="italic" font-family='"Liberation Serif", serif'>M<tspan font-size="21" dy="8" font-style="normal" font-family='"Liberation Serif", serif'>2</tspan></text><text x="1296" y="2110" font-size="26" text-anchor="middle" font-family='"Liberation Serif", serif'>,</text><g transform="translate(1322 2099) scale(1.17)" fill="none" stroke="#000" stroke-width="2.4" stroke-linecap="round" stroke-linejoin="round"><path d="M-9,4 L-9,-8 Q-7.5,-11 -6,-8 L-6,-1 M-6,-8 L-6,-13 Q-4,-16 -2,-13 L-2,-2 M-2,-13 Q0,-16 2,-13 L2,-2 M2,-12 Q4,-15 6,-12 L6,0 M6,-8 Q9,-10 10,-6 L9,6 Q7,15 -1,15 Q-8,15 -9,4 L-12,0 Q-13,-3 -10,-3 L-9,-1"/></g><rect x="1118" y="2140" width="167" height="41" fill="#f9bab0" rx="20.5"/><path d="M1121,2138 q-7,0 -7,7 v31 q0,7 7,7" fill="none" stroke="#000" stroke-width="1.7"/><path d="M1342,2138 q7,0 7,7 v31 q0,7 -7,7" fill="none" stroke="#000" stroke-width="1.7"/><text x="1197" y="2170" text-anchor="middle" font-size="30" font-style="italic" font-family='"Liberation Serif", serif'>M<tspan font-size="21" dy="8" font-style="normal" font-family='"DejaVu Sans", sans-serif'>|ℒ|</tspan></text><text x="1296" y="2173" font-size="26" text-anchor="middle" font-family='"Liberation Serif", serif'>,</text><g transform="translate(1322 2161)"><path d="M-11,-9 L11,-9 L11,2 Q11,15 0,15 Q-11,15 -11,2Z" fill="#000"/><path d="M-3,-9 L-3,1 Q0,4 3,1 L3,-9" fill="#fff" stroke="#000" stroke-width="1.5"/><rect x="-13" y="-12" width="26" height="4" fill="#000"/></g><text x="1194" y="2133" font-size="30" text-anchor="middle" fill="#6b5b5b" font-family='"Liberation Sans", sans-serif'>…</text><rect x="297" y="2222.5" width="742.5" height="250" fill="#fff" stroke="#ecd79a" stroke-width="2.2" rx="40"/><path d="M646.0,2181.0 L646.0,2210.0 L639.5,2210.0 L652.5,2234.0 L665.5,2210.0 L659.0,2210.0 L659.0,2181.0Z" fill="#9cb3e6"/><path d="M903.5,2181.0 L903.5,2210.0 L897.0,2210.0 L910.0,2234.0 L923.0,2210.0 L916.5,2210.0 L916.5,2181.0Z" fill="#9cb3e6"/><path d="M1094.5,2167.0 L1039.6,2228.1 L1035.1,2224.1 L1028.0,2250.0 L1053.0,2240.2 L1048.5,2236.2 L1103.5,2175.0Z" fill="#9cb3e6"/><text x="342.5" y="2288" font-size="33.5" textLength="137" lengthAdjust="spacingAndGlyphs" fill="#111" font-family='"Liberation Sans", sans-serif'>Calibrated</text><text x="342.5" y="2333" font-size="33.5" textLength="122" lengthAdjust="spacingAndGlyphs" fill="#111" font-family='"Liberation Sans", sans-serif'>posterior</text><text x="521" y="2310" font-size="38" text-anchor="middle" fill="#111" font-family='"DejaVu Sans", sans-serif'>∝</text><text x="570" y="2308" font-size="33.5" textLength="63" lengthAdjust="spacingAndGlyphs" fill="#111" font-family='"Liberation Sans", sans-serif'>Prior</text><rect x="643.5" y="2251" width="14.5" height="93.5" fill="url(#rb)" stroke="#333" stroke-width="1.3"/><text x="709" y="2310" font-size="33" text-anchor="middle" fill="#111" font-family='"Liberation Sans", sans-serif'>×</text><text x="733" y="2290" font-size="33.5" textLength="74" lengthAdjust="spacingAndGlyphs" fill="#111" font-family='"Liberation Sans", sans-serif'>GMM</text><text x="733" y="2334.5" font-size="33.5" textLength="138" lengthAdjust="spacingAndGlyphs" fill="#111" font-family='"Liberation Sans", sans-serif'>Likelihood</text><line x1="873" y1="2362" x2="873" y2="2262" stroke="#000" stroke-width="1.6" /><path d="M873,2256 L868.5,2266 L877.5,2266Z" fill="#000"/><line x1="873" y1="2362" x2="1000" y2="2362" stroke="#000" stroke-width="1.6" /><path d="M1006,2362 L996,2357.5 L996,2366.5Z" fill="#000"/><line x1="889" y1="2349" x2="981" y2="2275" stroke="#d62728" stroke-width="1.5" /><ellipse cx="940" cy="2269" rx="28" ry="11" fill="none" stroke="#2ca02c" stroke-width="1.4" stroke-dasharray="4 2.5" transform="rotate(-5 940 2269)"/><line x1="937" y1="2302" x2="940" y2="2269" stroke="#888" stroke-width="1.4" /><circle cx="927.8" cy="2264.3" r="2" fill="#2ca02c"/><circle cx="945.6" cy="2261.4" r="2" fill="#2ca02c"/><circle cx="938.7" cy="2261.2" r="2" fill="#2ca02c"/><circle cx="952.6" cy="2269.9" r="2" fill="#2ca02c"/><circle cx="954.6" cy="2266.8" r="2" fill="#2ca02c"/><circle cx="946.0" cy="2267.3" r="2" fill="#2ca02c"/><circle cx="930.8" cy="2269.7" r="2" fill="#2ca02c"/><ellipse cx="899" cy="2306" rx="16" ry="25" fill="none" stroke="#2ca02c" stroke-width="1.4" stroke-dasharray="4 2.5" transform="rotate(10 899 2306)"/><line x1="937" y1="2302" x2="899" y2="2306" stroke="#888" stroke-width="1.4" /><circle cx="891.1" cy="2302.5" r="2" fill="#2ca02c"/><circle cx="904.1" cy="2306.7" r="2" fill="#2ca02c"/><circle cx="896.9" cy="2323.3" r="2" fill="#2ca02c"/><circle cx="899.4" cy="2298.8" r="2" fill="#2ca02c"/><circle cx="900.3" cy="2299.4" r="2" fill="#2ca02c"/><circle cx="895.8" cy="2301.5" r="2" fill="#2ca02c"/><circle cx="909.9" cy="2306.2" r="2" fill="#2ca02c"/><ellipse cx="977" cy="2310" rx="17" ry="26" fill="none" stroke="#3a6fd0" stroke-width="1.4" stroke-dasharray="4 2.5" transform="rotate(25 977 2310)"/><line x1="937" y1="2302" x2="977" y2="2310" stroke="#888" stroke-width="1.4" /><circle cx="978.4" cy="2318.0" r="2" fill="#3a6fd0"/><circle cx="988.5" cy="2308.0" r="2" fill="#3a6fd0"/><circle cx="974.0" cy="2328.4" r="2" fill="#3a6fd0"/><circle cx="967.6" cy="2306.4" r="2" fill="#3a6fd0"/><circle cx="980.4" cy="2327.9" r="2" fill="#3a6fd0"/><circle cx="972.4" cy="2292.3" r="2" fill="#3a6fd0"/><circle cx="981.9" cy="2304.1" r="2" fill="#3a6fd0"/><ellipse cx="939" cy="2345" rx="31" ry="12" fill="none" stroke="#3a6fd0" stroke-width="1.4" stroke-dasharray="4 2.5" transform="rotate(-3 939 2345)"/><line x1="937" y1="2302" x2="939" y2="2345" stroke="#888" stroke-width="1.4" /><circle cx="933.2" cy="2347.7" r="2" fill="#3a6fd0"/><circle cx="943.5" cy="2347.2" r="2" fill="#3a6fd0"/><circle cx="933.8" cy="2351.1" r="2" fill="#3a6fd0"/><circle cx="956.8" cy="2345.1" r="2" fill="#3a6fd0"/><circle cx="933.0" cy="2348.8" r="2" fill="#3a6fd0"/><circle cx="945.0" cy="2339.9" r="2" fill="#3a6fd0"/><circle cx="933.2" cy="2350.1" r="2" fill="#3a6fd0"/><circle cx="937" cy="2302" r="2.6" fill="#888"/><text x="354.4" y="2397" font-size="31" font-family='"Liberation Serif", serif' font-style="italic">p</text><text x="370.5" y="2403" font-size="22" textLength="25.5" lengthAdjust="spacingAndGlyphs" font-family='"Liberation Serif", serif'>cal</text><text x="399" y="2397" font-size="31" font-family='"Liberation Serif", serif'>(</text><text x="410.5" y="2397" font-size="31" font-family='"Liberation Serif", serif' font-style="italic">y</text><text x="426.5" y="2397" font-size="29" font-family='"Liberation Serif", serif'>|</text><text x="434.9" y="2397" font-size="31" textLength="17.8" lengthAdjust="spacingAndGlyphs" font-family='"Liberation Serif", serif' font-weight="bold" font-style="italic">α</text><path d="M438.5,2381.5 L444.9,2376.8 L451.3,2381.5" fill="none" stroke="#000" stroke-width="1.7"/><text x="454" y="2403" font-size="22" textLength="41.6" lengthAdjust="spacingAndGlyphs" font-family='"Liberation Serif", serif'>MLE</text><text x="497" y="2397" font-size="31" font-family='"Liberation Serif", serif'>)</text><text x="610.6" y="2397" font-size="31" font-family='"Liberation Serif", serif' font-style="italic">p</text><text x="624" y="2404" font-size="22" font-family='"Liberation Serif", serif' font-weight="bold" font-style="italic">θ</text><text x="641" y="2397" font-size="31" font-family='"Liberation Serif", serif'>(</text><text x="652" y="2397" font-size="31" font-family='"Liberation Serif", serif' font-style="italic">y</text><text x="668.5" y="2397" font-size="31" font-family='"Liberation Serif", serif'>)</text><text x="768.5" y="2397" font-size="31" font-family='"Liberation Serif", serif' font-style="italic">p</text><text x="783" y="2403" font-size="22" textLength="49.8" lengthAdjust="spacingAndGlyphs" font-family='"Liberation Serif", serif'>GMM</text><text x="836" y="2397" font-size="31" font-family='"Liberation Serif", serif'>(</text><text x="846" y="2397" font-size="31" textLength="17.8" lengthAdjust="spacingAndGlyphs" font-family='"Liberation Serif", serif' font-weight="bold" font-style="italic">α</text><path d="M849.6,2381.5 L856.0,2376.8 L862.4,2381.5" fill="none" stroke="#000" stroke-width="1.7"/><text x="865" y="2403" font-size="22" textLength="41.7" lengthAdjust="spacingAndGlyphs" font-family='"Liberation Serif", serif'>MLE</text><text x="910" y="2397" font-size="29" font-family='"Liberation Serif", serif'>|</text><text x="917" y="2397" font-size="31" font-family='"Liberation Serif", serif' font-style="italic">y</text><text x="934.5" y="2397" font-size="31" font-family='"Liberation Serif", serif'>)</text><text x="682.5" y="2456.5" font-size="23.5" text-anchor="middle" textLength="383" lengthAdjust="spacingAndGlyphs" font-family='"Liberation Sans", sans-serif' font-weight="bold">(c) GMM-driven Bayesian inference</text><text x="80" y="2343" font-size="18" font-family='"Liberation Sans", sans-serif'>•</text><text x="80" y="2418" font-size="18" font-family='"Liberation Sans", sans-serif'>•</text><text x="113" y="2343" font-size="22" font-family='"Liberation Serif", serif'><tspan font-family='"DejaVu Sans", sans-serif' font-size="21">ℒ</tspan>(<tspan font-weight="bold" font-style="italic">α</tspan>)<tspan font-weight="bold">:</tspan> <tspan font-size="20.5">Dirichlet</tspan></text><text x="113" y="2379" font-size="20.5" textLength="132" lengthAdjust="spacingAndGlyphs" font-family='"Liberation Serif", serif'>log-likelihood.</text><text x="113" y="2418" font-size="21" font-family='"Liberation Sans", sans-serif'><tspan font-family='"DejaVu Sans", sans-serif'>∝</tspan><tspan font-weight="bold">:</tspan> Proportional to.</text><path d="M1043,2342 L1055,2342 L1055,2336 L1075,2348 L1055,2360 L1055,2354 L1043,2354Z" fill="#9cb3e6"/><rect x="1079" y="2268" width="289" height="162" fill="#fff" stroke="#ecd79a" stroke-width="2" rx="30" stroke-dasharray="14 6 3 6"/><rect x="1105" y="2327" width="167" height="41" fill="#c8c8c8" rx="20.5"/><path d="M1108,2325 q-7,0 -7,7 v31 q0,7 7,7" fill="none" stroke="#000" stroke-width="1.7"/><path d="M1338,2325 q7,0 7,7 v31 q0,7 -7,7" fill="none" stroke="#000" stroke-width="1.7"/><text x="1154.5" y="2358" font-size="31" textLength="17.8" lengthAdjust="spacingAndGlyphs" font-family='"Liberation Serif", serif' font-weight="bold" font-style="italic">α</text><path d="M1158.1,2342.5 L1164.5,2337.8 L1170.9,2342.5" fill="none" stroke="#000" stroke-width="1.7"/><text x="1173.5" y="2364" font-size="22" textLength="41.5" lengthAdjust="spacingAndGlyphs" font-family='"Liberation Serif", serif'>MLE</text><text x="1280" y="2358" font-size="30" font-family='"Liberation Serif", serif'>,</text><text x="1295.6" y="2358" font-size="30" font-family='"Liberation Serif", serif' font-style="italic">y</text><path d="M1298.5,2339.5 L1303.3,2334.5 L1308,2339.5" fill="none" stroke="#000" stroke-width="1.4"/><text x="1312.3" y="2364" font-size="22" textLength="26.7" lengthAdjust="spacingAndGlyphs" font-family='"Liberation Serif", serif'>cal</text><text x="1221" y="2412" font-size="23.5" text-anchor="middle" textLength="168" lengthAdjust="spacingAndGlyphs" font-family='"Liberation Sans", sans-serif' font-weight="bold">Final prediction</text><path d="M1233.5,2282.0 L1233.5,2217.0 L1240.0,2217.0 L1227.0,2191.0 L1214.0,2217.0 L1220.5,2217.0 L1220.5,2282.0Z" fill="#f5b891"/><text x="1074" y="2224" font-size="20.5" fill="#111" font-family='"Liberation Sans", sans-serif'>GMM</text><text x="1074" y="2255" font-size="20.5" textLength="87" lengthAdjust="spacingAndGlyphs" fill="#111" font-family='"Liberation Sans", sans-serif'>clustering</text><text x="1251" y="2224" font-size="20.5" textLength="65" lengthAdjust="spacingAndGlyphs" fill="#111" font-family='"Liberation Sans", sans-serif'>Update</text><text x="1251" y="2255" font-size="20.5" textLength="75" lengthAdjust="spacingAndGlyphs" fill="#111" font-family='"Liberation Sans", sans-serif'>Memory</text><circle cx="1822" cy="450" r="34" fill="none" stroke="#fff" stroke-width="4.6"/><text x="1822" y="467.5" font-size="50" text-anchor="middle" fill="#fff" font-family='"Liberation Sans", sans-serif' font-weight="bold">1</text><text x="1878" y="471" font-size="56" textLength="708" lengthAdjust="spacingAndGlyphs" fill="#fff" font-family='"Liberation Sans", sans-serif' font-weight="bold">SincAdaptNet Architecture</text><rect x="1469" y="548" width="162" height="145" fill="#fff" stroke="#bbb" stroke-width="1"/><line x1="1501.3" y1="548" x2="1501.3" y2="693" stroke="#e6e6e6" stroke-width="0.8" /><line x1="1533.5" y1="548" x2="1533.5" y2="693" stroke="#e6e6e6" stroke-width="0.8" /><line x1="1565.8" y1="548" x2="1565.8" y2="693" stroke="#e6e6e6" stroke-width="0.8" /><line x1="1598.1" y1="548" x2="1598.1" y2="693" stroke="#e6e6e6" stroke-width="0.8" /><line x1="1630.4" y1="548" x2="1630.4" y2="693" stroke="#e6e6e6" stroke-width="0.8" /><line x1="1469" y1="584.2" x2="1631" y2="584.2" stroke="#e6e6e6" stroke-width="0.8" /><line x1="1469" y1="620.5" x2="1631" y2="620.5" stroke="#e6e6e6" stroke-width="0.8" /><line x1="1469" y1="656.8" x2="1631" y2="656.8" stroke="#e6e6e6" stroke-width="0.8" /><path d="M1469.0,620.5L1469.6,614.9L1470.2,609.6L1470.9,605.4L1471.5,603.1L1472.1,603.2L1472.7,605.9L1473.4,610.8L1474.0,617.6L1474.6,625.2L1475.2,632.7L1475.9,638.9L1476.5,642.7L1477.1,643.6L1477.7,641.3L1478.3,635.8L1479.0,627.8L1479.6,618.3L1480.2,608.7L1480.8,600.3L1481.5,594.3L1482.1,591.9L1482.7,593.4L1483.3,598.9L1484.0,607.6L1484.6,618.6L1485.2,630.3L1485.8,641.1L1486.4,649.3L1487.1,653.8L1487.7,653.7L1488.3,648.9L1488.9,639.9L1489.6,627.8L1490.2,614.3L1490.8,601.3L1491.4,590.5L1492.1,583.7L1492.7,581.8L1493.3,585.3L1493.9,594.0L1494.5,606.6L1495.2,621.5L1495.8,636.7L1496.4,650.0L1497.0,659.5L1497.7,663.8L1498.3,662.0L1498.9,654.4L1499.5,641.9L1500.2,626.0L1500.8,609.0L1501.4,593.2L1502.0,580.9L1502.6,573.9L1503.3,573.3L1503.9,579.3L1504.5,591.3L1505.1,607.5L1505.8,625.9L1506.4,643.9L1507.0,658.9L1507.6,668.9L1508.3,672.2L1508.9,668.3L1509.5,657.7L1510.1,641.7L1510.7,622.4L1511.4,602.6L1512.0,585.0L1512.6,572.0L1513.2,565.7L1513.9,566.9L1514.5,575.6L1515.1,590.8L1515.7,610.3L1516.4,631.5L1517.0,651.4L1517.6,667.3L1518.2,676.8L1518.8,678.6L1519.5,672.3L1520.1,658.7L1520.7,639.6L1521.3,617.6L1522.0,595.8L1522.6,577.2L1523.2,564.5L1523.8,559.4L1524.5,562.8L1525.1,574.3L1525.7,592.4L1526.3,614.5L1526.9,637.6L1527.6,658.6L1528.2,674.4L1528.8,682.9L1529.4,682.7L1530.1,673.8L1530.7,657.5L1531.3,635.9L1531.9,612.0L1532.6,589.1L1533.2,570.5L1533.8,558.7L1534.4,555.5L1535.0,561.2L1535.7,575.3L1536.3,595.7L1536.9,619.7L1537.5,643.9L1538.2,664.9L1538.8,679.9L1539.4,686.6L1540.0,684.2L1540.7,672.9L1541.3,654.3L1541.9,631.0L1542.5,606.1L1543.1,583.1L1543.8,565.3L1544.4,555.1L1545.0,554.0L1545.6,562.1L1546.3,578.4L1546.9,600.5L1547.5,625.4L1548.1,649.6L1548.8,669.9L1549.4,683.2L1550.0,687.9L1550.6,683.2L1551.2,669.9L1551.9,649.6L1552.5,625.4L1553.1,600.5L1553.7,578.4L1554.4,562.1L1555.0,554.0L1555.6,555.1L1556.2,565.3L1556.9,583.1L1557.5,606.1L1558.1,631.0L1558.7,654.3L1559.3,672.9L1560.0,684.2L1560.6,686.6L1561.2,679.9L1561.8,664.9L1562.5,643.9L1563.1,619.7L1563.7,595.7L1564.3,575.3L1565.0,561.2L1565.6,555.5L1566.2,558.7L1566.8,570.5L1567.4,589.1L1568.1,612.0L1568.7,635.9L1569.3,657.5L1569.9,673.8L1570.6,682.7L1571.2,682.9L1571.8,674.4L1572.4,658.6L1573.1,637.6L1573.7,614.5L1574.3,592.4L1574.9,574.3L1575.5,562.8L1576.2,559.4L1576.8,564.5L1577.4,577.2L1578.0,595.8L1578.7,617.6L1579.3,639.6L1579.9,658.7L1580.5,672.3L1581.2,678.6L1581.8,676.8L1582.4,667.3L1583.0,651.4L1583.6,631.5L1584.3,610.3L1584.9,590.8L1585.5,575.6L1586.1,566.9L1586.8,565.7L1587.4,572.0L1588.0,585.0L1588.6,602.6L1589.3,622.4L1589.9,641.7L1590.5,657.7L1591.1,668.3L1591.7,672.2L1592.4,668.9L1593.0,658.9L1593.6,643.9L1594.2,625.9L1594.9,607.5L1595.5,591.3L1596.1,579.3L1596.7,573.3L1597.4,573.9L1598.0,580.9L1598.6,593.2L1599.2,609.0L1599.8,626.0L1600.5,641.9L1601.1,654.4L1601.7,662.0L1602.3,663.8L1603.0,659.5L1603.6,650.0L1604.2,636.7L1604.8,621.5L1605.5,606.6L1606.1,594.0L1606.7,585.3L1607.3,581.8L1607.9,583.7L1608.6,590.5L1609.2,601.3L1609.8,614.3L1610.4,627.8L1611.1,639.9L1611.7,648.9L1612.3,653.7L1612.9,653.8L1613.6,649.3L1614.2,641.1L1614.8,630.3L1615.4,618.6L1616.0,607.6L1616.7,598.9L1617.3,593.4L1617.9,591.9L1618.5,594.3L1619.2,600.3L1619.8,608.7L1620.4,618.3L1621.0,627.8L1621.7,635.8L1622.3,641.3L1622.9,643.6L1623.5,642.7L1624.1,638.9L1624.8,632.7L1625.4,625.2L1626.0,617.6L1626.6,610.8L1627.3,605.9L1627.9,603.2L1628.5,603.1L1629.1,605.4L1629.8,609.6L1630.4,614.9L1631.0,620.5" fill="none" stroke="#2c7fb8" stroke-width="1.3"/><rect x="1469" y="548" width="162" height="145" fill="none" stroke="#888" stroke-width="1"/><text x="1544" y="533" text-anchor="middle" font-size="20.8" font-weight="bold" font-family='"Liberation Sans", sans-serif'>Sinc filter</text><text x="1464" y="558" font-size="14" text-anchor="end" fill="#222" font-family='"Liberation Sans", sans-serif'>200</text><text x="1464" y="629" font-size="14" text-anchor="end" fill="#222" font-family='"Liberation Sans", sans-serif'>0</text><text x="1464" y="695" font-size="14" text-anchor="end" fill="#222" font-family='"Liberation Sans", sans-serif'>-200</text><text x="1469" y="710" font-size="14" text-anchor="middle" fill="#222" font-family='"Liberation Sans", sans-serif'>0</text><text x="1534" y="710" font-size="14" text-anchor="middle" fill="#222" font-family='"Liberation Sans", sans-serif'>100</text><text x="1598" y="710" font-size="14" text-anchor="middle" fill="#222" font-family='"Liberation Sans", sans-serif'>200</text><rect x="1682" y="548" width="166" height="145" fill="#fff" stroke="#bbb" stroke-width="1"/><line x1="1715.1" y1="548" x2="1715.1" y2="693" stroke="#e6e6e6" stroke-width="0.8" /><line x1="1748.1" y1="548" x2="1748.1" y2="693" stroke="#e6e6e6" stroke-width="0.8" /><line x1="1781.2" y1="548" x2="1781.2" y2="693" stroke="#e6e6e6" stroke-width="0.8" /><line x1="1814.3" y1="548" x2="1814.3" y2="693" stroke="#e6e6e6" stroke-width="0.8" /><line x1="1847.3" y1="548" x2="1847.3" y2="693" stroke="#e6e6e6" stroke-width="0.8" /><line x1="1682" y1="584.2" x2="1848" y2="584.2" stroke="#e6e6e6" stroke-width="0.8" /><line x1="1682" y1="620.5" x2="1848" y2="620.5" stroke="#e6e6e6" stroke-width="0.8" /><line x1="1682" y1="656.8" x2="1848" y2="656.8" stroke="#e6e6e6" stroke-width="0.8" /><path d="M1682.0,681.4L1682.6,681.4L1683.3,681.3L1683.9,681.2L1684.6,681.1L1685.2,680.9L1685.8,680.7L1686.5,680.4L1687.1,680.2L1687.7,679.8L1688.4,679.5L1689.0,679.1L1689.7,678.6L1690.3,678.1L1690.9,677.6L1691.6,677.1L1692.2,676.5L1692.9,675.9L1693.5,675.2L1694.1,674.5L1694.8,673.8L1695.4,673.0L1696.0,672.2L1696.7,671.4L1697.3,670.5L1698.0,669.6L1698.6,668.7L1699.2,667.7L1699.9,666.7L1700.5,665.7L1701.2,664.6L1701.8,663.5L1702.4,662.4L1703.1,661.3L1703.7,660.1L1704.3,658.9L1705.0,657.7L1705.6,656.5L1706.3,655.2L1706.9,653.9L1707.5,652.6L1708.2,651.3L1708.8,649.9L1709.5,648.5L1710.1,647.1L1710.7,645.7L1711.4,644.3L1712.0,642.8L1712.6,641.3L1713.3,639.9L1713.9,638.4L1714.6,636.8L1715.2,635.3L1715.8,633.8L1716.5,632.2L1717.1,630.7L1717.8,629.1L1718.4,627.5L1719.0,625.9L1719.7,624.3L1720.3,622.7L1720.9,621.1L1721.6,619.5L1722.2,617.9L1722.9,616.3L1723.5,614.7L1724.1,613.1L1724.8,611.5L1725.4,609.9L1726.1,608.3L1726.7,606.7L1727.3,605.1L1728.0,603.5L1728.6,601.9L1729.2,600.3L1729.9,598.7L1730.5,597.2L1731.2,595.6L1731.8,594.1L1732.4,592.6L1733.1,591.0L1733.7,589.5L1734.4,588.1L1735.0,586.6L1735.6,585.1L1736.3,583.7L1736.9,582.3L1737.5,580.9L1738.2,579.5L1738.8,578.1L1739.5,576.8L1740.1,575.5L1740.7,574.2L1741.4,572.9L1742.0,571.7L1742.7,570.5L1743.3,569.3L1743.9,568.1L1744.6,567.0L1745.2,565.9L1745.8,564.8L1746.5,563.7L1747.1,562.7L1747.8,561.7L1748.4,560.7L1749.0,559.8L1749.7,558.9L1750.3,558.0L1751.0,557.2L1751.6,556.4L1752.2,555.6L1752.9,554.9L1753.5,554.2L1754.1,553.5L1754.8,552.9L1755.4,552.3L1756.1,551.8L1756.7,551.3L1757.3,550.8L1758.0,550.3L1758.6,549.9L1759.3,549.6L1759.9,549.2L1760.5,549.0L1761.2,548.7L1761.8,548.5L1762.4,548.3L1763.1,548.2L1763.7,548.1L1764.4,548.0L1765.0,548.0L1765.6,548.0L1766.3,548.1L1766.9,548.2L1767.6,548.3L1768.2,548.5L1768.8,548.7L1769.5,549.0L1770.1,549.2L1770.7,549.6L1771.4,549.9L1772.0,550.3L1772.7,550.8L1773.3,551.3L1773.9,551.8L1774.6,552.3L1775.2,552.9L1775.9,553.5L1776.5,554.2L1777.1,554.9L1777.8,555.6L1778.4,556.4L1779.0,557.2L1779.7,558.0L1780.3,558.9L1781.0,559.8L1781.6,560.7L1782.2,561.7L1782.9,562.7L1783.5,563.7L1784.2,564.8L1784.8,565.9L1785.4,567.0L1786.1,568.1L1786.7,569.3L1787.3,570.5L1788.0,571.7L1788.6,572.9L1789.3,574.2L1789.9,575.5L1790.5,576.8L1791.2,578.1L1791.8,579.5L1792.5,580.9L1793.1,582.3L1793.7,583.7L1794.4,585.1L1795.0,586.6L1795.6,588.1L1796.3,589.5L1796.9,591.0L1797.6,592.6L1798.2,594.1L1798.8,595.6L1799.5,597.2L1800.1,598.7L1800.8,600.3L1801.4,601.9L1802.0,603.5L1802.7,605.1L1803.3,606.7L1803.9,608.3L1804.6,609.9L1805.2,611.5L1805.9,613.1L1806.5,614.7L1807.1,616.3L1807.8,617.9L1808.4,619.5L1809.1,621.1L1809.7,622.7L1810.3,624.3L1811.0,625.9L1811.6,627.5L1812.2,629.1L1812.9,630.7L1813.5,632.2L1814.2,633.8L1814.8,635.3L1815.4,636.8L1816.1,638.4L1816.7,639.9L1817.4,641.3L1818.0,642.8L1818.6,644.3L1819.3,645.7L1819.9,647.1L1820.5,648.5L1821.2,649.9L1821.8,651.3L1822.5,652.6L1823.1,653.9L1823.7,655.2L1824.4,656.5L1825.0,657.7L1825.7,658.9L1826.3,660.1L1826.9,661.3L1827.6,662.4L1828.2,663.5L1828.8,664.6L1829.5,665.7L1830.1,666.7L1830.8,667.7L1831.4,668.7L1832.0,669.6L1832.7,670.5L1833.3,671.4L1834.0,672.2L1834.6,673.0L1835.2,673.8L1835.9,674.5L1836.5,675.2L1837.1,675.9L1837.8,676.5L1838.4,677.1L1839.1,677.6L1839.7,678.1L1840.3,678.6L1841.0,679.1L1841.6,679.5L1842.3,679.8L1842.9,680.2L1843.5,680.4L1844.2,680.7L1844.8,680.9L1845.4,681.1L1846.1,681.2L1846.7,681.3L1847.4,681.4L1848.0,681.4" fill="none" stroke="#2c7fb8" stroke-width="1.3"/><rect x="1682" y="548" width="166" height="145" fill="none" stroke="#888" stroke-width="1"/><text x="1763.5" y="533" text-anchor="middle" font-size="20.8" font-weight="bold" font-family='"Liberation Sans", sans-serif'>Hamming</text><text x="1677" y="553" font-size="14" text-anchor="end" fill="#222" font-family='"Liberation Sans", sans-serif'>1</text><text x="1677" y="627" font-size="14" text-anchor="end" fill="#222" font-family='"Liberation Sans", sans-serif'>0.5</text><text x="1677" y="697" font-size="14" text-anchor="end" fill="#222" font-family='"Liberation Sans", sans-serif'>0</text><text x="1682" y="710" font-size="14" text-anchor="middle" fill="#222" font-family='"Liberation Sans", sans-serif'>0</text><text x="1747" y="710" font-size="14" text-anchor="middle" fill="#222" font-family='"Liberation Sans", sans-serif'>100</text><text x="1818" y="710" font-size="14" text-anchor="middle" fill="#222" font-family='"Liberation Sans", sans-serif'>200</text><rect x="1890" y="505" width="196.5" height="238" fill="none" stroke="#f7b3b8" stroke-width="2.2" stroke-dasharray="11 6"/><rect x="1908" y="548" width="164" height="145" fill="#fff" stroke="#bbb" stroke-width="1"/><line x1="1940.7" y1="548" x2="1940.7" y2="693" stroke="#e6e6e6" stroke-width="0.8" /><line x1="1973.3" y1="548" x2="1973.3" y2="693" stroke="#e6e6e6" stroke-width="0.8" /><line x1="2006" y1="548" x2="2006" y2="693" stroke="#e6e6e6" stroke-width="0.8" /><line x1="2038.7" y1="548" x2="2038.7" y2="693" stroke="#e6e6e6" stroke-width="0.8" /><line x1="2071.3" y1="548" x2="2071.3" y2="693" stroke="#e6e6e6" stroke-width="0.8" /><line x1="1908" y1="584.2" x2="2072" y2="584.2" stroke="#e6e6e6" stroke-width="0.8" /><line x1="1908" y1="620.5" x2="2072" y2="620.5" stroke="#e6e6e6" stroke-width="0.8" /><line x1="1908" y1="656.8" x2="2072" y2="656.8" stroke="#e6e6e6" stroke-width="0.8" /><path d="M1908.0,620.5L1908.6,622.0L1909.3,623.3L1909.9,624.2L1910.5,624.7L1911.2,624.6L1911.8,623.9L1912.4,622.7L1913.0,621.2L1913.7,619.4L1914.3,617.7L1914.9,616.2L1915.6,615.3L1916.2,615.0L1916.8,615.5L1917.5,616.8L1918.1,618.7L1918.7,621.1L1919.4,623.5L1920.0,625.8L1920.6,627.4L1921.2,628.3L1921.9,628.0L1922.5,626.6L1923.1,624.2L1923.8,621.1L1924.4,617.5L1925.0,614.1L1925.7,611.3L1926.3,609.6L1926.9,609.4L1927.6,610.8L1928.2,613.7L1928.8,617.9L1929.4,622.8L1930.1,627.8L1930.7,632.1L1931.3,635.1L1932.0,636.2L1932.6,635.1L1933.2,631.7L1933.9,626.5L1934.5,620.1L1935.1,613.2L1935.8,606.9L1936.4,602.1L1937.0,599.7L1937.6,600.1L1938.3,603.5L1938.9,609.6L1939.5,617.6L1940.2,626.6L1940.8,635.3L1941.4,642.4L1942.1,646.7L1942.7,647.5L1943.3,644.5L1944.0,637.8L1944.6,628.3L1945.2,617.2L1945.8,605.9L1946.5,596.1L1947.1,589.4L1947.7,586.7L1948.4,588.8L1949.0,595.4L1949.6,606.0L1950.3,619.2L1950.9,633.1L1951.5,645.8L1952.2,655.5L1952.8,660.6L1953.4,660.3L1954.0,654.2L1954.7,643.1L1955.3,628.4L1955.9,612.0L1956.6,596.1L1957.2,583.2L1957.8,575.1L1958.5,573.2L1959.1,577.8L1959.7,588.7L1960.4,604.5L1961.0,623.0L1961.6,641.7L1962.2,658.0L1962.9,669.4L1963.5,674.3L1964.1,671.7L1964.8,661.9L1965.4,645.9L1966.0,626.0L1966.7,604.8L1967.3,585.3L1967.9,570.3L1968.6,562.0L1969.2,561.8L1969.8,569.8L1970.4,585.1L1971.1,605.7L1971.7,628.8L1972.3,651.1L1973.0,669.5L1973.6,681.4L1974.2,684.9L1974.9,679.5L1975.5,665.7L1976.1,645.4L1976.8,621.3L1977.4,596.8L1978.0,575.3L1978.6,559.9L1979.3,552.8L1979.9,555.0L1980.5,566.5L1981.2,585.5L1981.8,609.7L1982.4,635.5L1983.1,659.4L1983.7,678.1L1984.3,688.8L1985.0,690.1L1985.6,681.7L1986.2,664.7L1986.8,641.6L1987.5,615.4L1988.1,589.8L1988.7,568.5L1989.4,554.4L1990.0,549.5L1990.6,554.4L1991.3,568.5L1991.9,589.8L1992.5,615.4L1993.2,641.6L1993.8,664.7L1994.4,681.7L1995.0,690.1L1995.7,688.8L1996.3,678.1L1996.9,659.4L1997.6,635.5L1998.2,609.7L1998.8,585.5L1999.5,566.5L2000.1,555.0L2000.7,552.8L2001.4,559.9L2002.0,575.3L2002.6,596.8L2003.2,621.3L2003.9,645.4L2004.5,665.7L2005.1,679.5L2005.8,684.9L2006.4,681.4L2007.0,669.5L2007.7,651.1L2008.3,628.8L2008.9,605.7L2009.6,585.1L2010.2,569.8L2010.8,561.8L2011.4,562.0L2012.1,570.3L2012.7,585.3L2013.3,604.8L2014.0,626.0L2014.6,645.9L2015.2,661.9L2015.9,671.7L2016.5,674.3L2017.1,669.4L2017.8,658.0L2018.4,641.7L2019.0,623.0L2019.6,604.5L2020.3,588.7L2020.9,577.8L2021.5,573.2L2022.2,575.1L2022.8,583.2L2023.4,596.1L2024.1,612.0L2024.7,628.4L2025.3,643.1L2026.0,654.2L2026.6,660.3L2027.2,660.6L2027.8,655.5L2028.5,645.8L2029.1,633.1L2029.7,619.2L2030.4,606.0L2031.0,595.4L2031.6,588.8L2032.3,586.7L2032.9,589.4L2033.5,596.1L2034.2,605.9L2034.8,617.2L2035.4,628.3L2036.0,637.8L2036.7,644.5L2037.3,647.5L2037.9,646.7L2038.6,642.4L2039.2,635.3L2039.8,626.6L2040.5,617.6L2041.1,609.6L2041.7,603.5L2042.4,600.1L2043.0,599.7L2043.6,602.1L2044.2,606.9L2044.9,613.2L2045.5,620.1L2046.1,626.5L2046.8,631.7L2047.4,635.1L2048.0,636.2L2048.7,635.1L2049.3,632.1L2049.9,627.8L2050.6,622.8L2051.2,617.9L2051.8,613.7L2052.4,610.8L2053.1,609.4L2053.7,609.6L2054.3,611.3L2055.0,614.1L2055.6,617.5L2056.2,621.1L2056.9,624.2L2057.5,626.6L2058.1,628.0L2058.8,628.3L2059.4,627.4L2060.0,625.8L2060.6,623.5L2061.3,621.1L2061.9,618.7L2062.5,616.8L2063.2,615.5L2063.8,615.0L2064.4,615.3L2065.1,616.2L2065.7,617.7L2066.3,619.4L2067.0,621.2L2067.6,622.7L2068.2,623.9L2068.8,624.6L2069.5,624.7L2070.1,624.2L2070.7,623.3L2071.4,622.0L2072.0,620.5" fill="none" stroke="#2c7fb8" stroke-width="1.3"/><rect x="1908" y="548" width="164" height="145" fill="none" stroke="#888" stroke-width="1"/><text x="1994" y="533" text-anchor="middle" font-size="20.8" font-weight="bold" font-family='"Liberation Sans", sans-serif'><tspan font-style="italic">Sinc-Conv</tspan> filters</text><text x="1903" y="554" font-size="14" text-anchor="end" fill="#222" font-family='"Liberation Sans", sans-serif'>1</text><text x="1903" y="626" font-size="14" text-anchor="end" fill="#222" font-family='"Liberation Sans", sans-serif'>1</text><text x="1903" y="697" font-size="14" text-anchor="end" fill="#222" font-family='"Liberation Sans", sans-serif'>-1</text><text x="1908" y="710" font-size="14" text-anchor="middle" fill="#222" font-family='"Liberation Sans", sans-serif'>0</text><text x="1971" y="710" font-size="14" text-anchor="middle" fill="#222" font-family='"Liberation Sans", sans-serif'>100</text><text x="2034" y="710" font-size="14" text-anchor="middle" fill="#222" font-family='"Liberation Sans", sans-serif'>200</text><text x="1546" y="736" font-size="21" text-anchor="middle" font-family='"Liberation Sans", sans-serif'>sample(n</text><text x="1505" y="762.5" font-size="21" text-anchor="middle" font-family='"Liberation Sans", sans-serif'>)</text><text x="1768" y="736" font-size="21" text-anchor="middle" font-family='"Liberation Sans", sans-serif'>sample(n)</text><text x="1989" y="736" font-size="21" text-anchor="middle" font-family='"Liberation Sans", sans-serif'>sample(n</text><text x="1948" y="762.5" font-size="21" text-anchor="middle" font-family='"Liberation Sans", sans-serif'>)</text><circle cx="1645.6" cy="626.5" r="4" fill="#000"/><rect x="1857" y="619" width="29" height="3" fill="#000"/><rect x="1857" y="629" width="29" height="3" fill="#000"/><line x1="1995" y1="743" x2="1897" y2="800" stroke="#f7b3b8" stroke-width="2.2" stroke-dasharray="11 6"/><rect x="2152" y="509" width="551" height="183" fill="none" stroke="#f5b04a" stroke-width="2.4" stroke-dasharray="13 7"/><line x1="2152" y1="692" x2="2050" y2="812" stroke="#f5b04a" stroke-width="2.2" stroke-dasharray="13 7"/><line x1="2425" y1="692" x2="2382" y2="808" stroke="#f5b04a" stroke-width="2.2" stroke-dasharray="13 7"/><rect x="2175.5" y="580" width="102.5" height="63" fill="none" stroke="#000" stroke-width="1.6"/><path d="M2175.5,580 L2210.5,545 L2313,545 L2313,608 M2278,580 L2313,545" fill="none" stroke="#000" stroke-width="1.6"/><line x1="2278" y1="643" x2="2313" y2="608" stroke="#000" stroke-width="1.6" /><path d="M2210.5,545 L2210.5,608 L2313,608 M2175.5,643 L2210.5,608" fill="none" stroke="#000" stroke-width="1" stroke-dasharray="4 3"/><line x1="2322" y1="597.5" x2="2354" y2="597.5" stroke="#4472c4" stroke-width="1.7" /><path d="M2364.0,597.5 L2354.0,602.0 L2354.0,593.0Z" fill="#4472c4"/><rect x="2373" y="526.6" width="105" height="114.5" fill="#fff" stroke="#000" stroke-width="1.5"/><rect x="2389.5" y="526.6" width="8.5" height="114.5" fill="#f4b183" stroke="#4472c4" stroke-width="1.4"/><line x1="2490.6" y1="597.5" x2="2522.5" y2="597.5" stroke="#4472c4" stroke-width="1.7" /><path d="M2532.5,597.5 L2522.5,602.0 L2522.5,593.0Z" fill="#4472c4"/><rect x="2543" y="572" width="102" height="61" fill="none" stroke="#000" stroke-width="1.6"/><path d="M2543,572 L2578,537 L2680,537 L2680,598 M2645,572 L2680,537" fill="none" stroke="#000" stroke-width="1.6"/><line x1="2645" y1="633" x2="2680" y2="598" stroke="#000" stroke-width="1.6" /><path d="M2578,537 L2578,598 L2680,598 M2543,633 L2578,598" fill="none" stroke="#000" stroke-width="1" stroke-dasharray="4 3"/><text x="2240" y="664" font-size="20" textLength="134.6" lengthAdjust="spacingAndGlyphs" font-family='"Liberation Sans", sans-serif'>Reshape(-1,T)</text><text x="2410.7" y="667" font-size="21" textLength="31.5" lengthAdjust="spacingAndGlyphs" font-family='"Liberation Sans", sans-serif' font-weight="bold">LN</text><text x="2479.7" y="664" font-size="20" textLength="165.5" lengthAdjust="spacingAndGlyphs" font-family='"Liberation Sans", sans-serif'>Reshape(original)</text><rect x="2836" y="564.7" width="14" height="12.3" fill="#a9d18e" stroke="#385723" stroke-width="1.2"/><line x1="2842.6" y1="675" x2="2842.6" y2="607" stroke="#4472c4" stroke-width="2.1" /><path d="M2842.6,596.0 L2847.5,607.0 L2837.7,607.0Z" fill="#4472c4"/><text x="2759" y="648" font-size="20" textLength="69" lengthAdjust="spacingAndGlyphs" font-family='"Liberation Sans", sans-serif'>argmax</text><defs><linearGradient id="rbh" x1="0" y1="0" x2="1" y2="0"><stop offset="0" stop-color="#8fce6e"/><stop offset=".3" stop-color="#a6cde4"/><stop offset=".5" stop-color="#bcd6ee"/><stop offset=".72" stop-color="#f8e08c"/><stop offset="1" stop-color="#f6a2aa"/></linearGradient></defs><rect x="2789" y="686" width="104.5" height="14" fill="url(#rbh)" stroke="#333" stroke-width="1.2"/><line x1="2815.1" y1="686" x2="2815.1" y2="700" stroke="#000" stroke-width="0.9" /><line x1="2841.2" y1="686" x2="2841.2" y2="700" stroke="#000" stroke-width="0.9" /><line x1="2867.3" y1="686" x2="2867.3" y2="700" stroke="#000" stroke-width="0.9" /><line x1="2843" y1="791" x2="2842.7" y2="725" stroke="#4472c4" stroke-width="2.1" /><path d="M2842.6,714.0 L2847.6,725.0 L2837.7,725.0Z" fill="#4472c4"/><text x="2759" y="760.6" font-size="20" textLength="52" lengthAdjust="spacingAndGlyphs" font-family='"Liberation Sans", sans-serif'>mean</text><rect x="2766.5" y="806" width="167.5" height="103.5" fill="#fff" stroke="#000" stroke-width="1.5"/><rect x="2766.5" y="806" width="13" height="103.5" fill="url(#rb)" stroke="#000" stroke-width="1.2"/><line x1="2766.5" y1="831.9" x2="2779.5" y2="831.9" stroke="#000" stroke-width="0.8" /><line x1="2766.5" y1="857.8" x2="2779.5" y2="857.8" stroke="#000" stroke-width="0.8" /><line x1="2766.5" y1="883.6" x2="2779.5" y2="883.6" stroke="#000" stroke-width="0.8" /><rect x="2784" y="806" width="13" height="103.5" fill="url(#rb)" stroke="#000" stroke-width="1.2"/><line x1="2784" y1="831.9" x2="2797" y2="831.9" stroke="#000" stroke-width="0.8" /><line x1="2784" y1="857.8" x2="2797" y2="857.8" stroke="#000" stroke-width="0.8" /><line x1="2784" y1="883.6" x2="2797" y2="883.6" stroke="#000" stroke-width="0.8" /><rect x="2801.5" y="806" width="13" height="103.5" fill="url(#rb)" stroke="#000" stroke-width="1.2"/><line x1="2801.5" y1="831.9" x2="2814.5" y2="831.9" stroke="#000" stroke-width="0.8" /><line x1="2801.5" y1="857.8" x2="2814.5" y2="857.8" stroke="#000" stroke-width="0.8" /><line x1="2801.5" y1="883.6" x2="2814.5" y2="883.6" stroke="#000" stroke-width="0.8" /><rect x="2861.5" y="806" width="13" height="103.5" fill="url(#rb)" stroke="#000" stroke-width="1.2"/><line x1="2861.5" y1="831.9" x2="2874.5" y2="831.9" stroke="#000" stroke-width="0.8" /><line x1="2861.5" y1="857.8" x2="2874.5" y2="857.8" stroke="#000" stroke-width="0.8" /><line x1="2861.5" y1="883.6" x2="2874.5" y2="883.6" stroke="#000" stroke-width="0.8" /><rect x="2877.5" y="806" width="13" height="103.5" fill="url(#rb)" stroke="#000" stroke-width="1.2"/><line x1="2877.5" y1="831.9" x2="2890.5" y2="831.9" stroke="#000" stroke-width="0.8" /><line x1="2877.5" y1="857.8" x2="2890.5" y2="857.8" stroke="#000" stroke-width="0.8" /><line x1="2877.5" y1="883.6" x2="2890.5" y2="883.6" stroke="#000" stroke-width="0.8" /><line x1="2894.5" y1="806" x2="2894.5" y2="909.5" stroke="#000" stroke-width="1.2" /><text x="2838.5" y="863" font-size="24" text-anchor="middle" font-family='"Liberation Sans", sans-serif'>…</text><text x="2913.5" y="863" font-size="24" text-anchor="middle" font-family='"Liberation Sans", sans-serif'>…</text><text x="2811.7" y="939" font-size="22" text-anchor="middle" font-family='"Liberation Serif", serif' font-style="italic">T</text><path d="M1540.5,805.8 L1561.5,784.8 L1561.5,915.6 L1540.5,936.6Z" fill="#6475ad" fill-opacity=".82"/><path d="M1529,805.8 L1550,784.8 L1561.5,784.8 L1540.5,805.8Z" fill="#9fb2e8" fill-opacity=".9"/><rect x="1529" y="805.8" width="11.5" height="130.8" fill="#7f9be2" fill-opacity=".9"/><rect x="1476" y="805.8" width="162.5" height="130.8" fill="none" stroke="#000" stroke-width="1.6"/><path d="M1476,805.8 L1497,784.8 L1659.5,784.8 L1659.5,915.6 M1638.5,805.8 L1659.5,784.8" fill="none" stroke="#000" stroke-width="1.6"/><line x1="1638.5" y1="936.6" x2="1659.5" y2="915.6" stroke="#000" stroke-width="1.6" /><path d="M1497,784.8 L1497,915.6 L1659.5,915.6 M1476,936.6 L1497,915.6" fill="none" stroke="#000" stroke-width="1" stroke-dasharray="4 3"/><text x="1465.7" y="783" font-size="21" text-anchor="middle" font-family='"Liberation Serif", serif'>1</text><text x="1450" y="872" font-size="21" text-anchor="middle" font-family='"Liberation Serif", serif' font-style="italic">C</text><text x="1606" y="923.7" font-size="21" text-anchor="middle" font-family='"Liberation Serif", serif' font-style="italic">T</text><text x="1544" y="984" font-size="21.5" text-anchor="middle" textLength="120" lengthAdjust="spacingAndGlyphs" font-family='"Liberation Sans", sans-serif' font-weight="bold" font-style="italic">Spat-Conv</text><text x="1715.7" y="838" font-size="20" text-anchor="middle" textLength="96.5" lengthAdjust="spacingAndGlyphs" font-family='"Liberation Sans", sans-serif'>Transpose</text><line x1="1674" y1="863.8" x2="1751.5" y2="863.8" stroke="#4472c4" stroke-width="2.3" /><path d="M1763.0,863.8 L1751.5,869.0 L1751.5,858.6Z" fill="#4472c4"/><rect x="1783.5" y="823" width="167.5" height="95.6" fill="none" stroke="#000" stroke-width="1.6"/><path d="M1783.5,823 L1799.5,807 L1967,807 L1967,902.6 M1951,823 L1967,807" fill="none" stroke="#000" stroke-width="1.6"/><line x1="1951" y1="918.6" x2="1967" y2="902.6" stroke="#000" stroke-width="1.6" /><path d="M1799.5,807 L1799.5,902.6 L1967,902.6 M1783.5,918.6 L1799.5,902.6" fill="none" stroke="#000" stroke-width="1" stroke-dasharray="4 3"/><path d="M1784,868 L1806,868 L1828,846 L1806,846Z" fill="#a9b8ea" fill-opacity=".9"/><path d="M1806,868 L1806,879.7 L1828,857.7 L1828,846Z" fill="#6d7fb8" fill-opacity=".9"/><rect x="1784" y="868" width="22" height="11.7" fill="#8aa0e2" fill-opacity=".9"/><text x="1767.4" y="794" font-size="21" text-anchor="middle" font-family='"Liberation Serif", serif'>1</text><text x="1745" y="903" font-size="21" font-style="italic" font-family='"Liberation Serif", serif'>F<tspan font-size="15" dy="5">s</tspan></text><text x="1911" y="903.7" font-size="21" text-anchor="middle" font-family='"Liberation Serif", serif' font-style="italic">T</text><text x="1848.4" y="984" font-size="21.5" text-anchor="middle" textLength="119.3" lengthAdjust="spacingAndGlyphs" font-family='"Liberation Sans", sans-serif' font-weight="bold" font-style="italic">Sinc-Conv</text><text x="2026.2" y="838" font-size="19.5" text-anchor="middle" textLength="105" lengthAdjust="spacingAndGlyphs" fill="#f5a83a" font-family='"Liberation Sans", sans-serif' font-weight="bold">LN Module</text><line x1="1983" y1="863.8" x2="2058.5" y2="863.8" stroke="#4472c4" stroke-width="2.3" /><path d="M2070.0,863.8 L2058.5,869.0 L2058.5,858.6Z" fill="#4472c4"/><path d="M2179,827 L2234,772 L2234,868 L2179,923Z" fill="#6475ad" fill-opacity=".82"/><path d="M2165,827 L2220,772 L2234,772 L2179,827Z" fill="#9fb2e8" fill-opacity=".9"/><rect x="2165" y="827" width="14" height="96" fill="#7f9be2" fill-opacity=".9"/><rect x="2100.7" y="827" width="163.1" height="96" fill="none" stroke="#000" stroke-width="1.6"/><path d="M2100.7,827 L2155.7,772 L2318.8,772 L2318.8,868 M2263.8,827 L2318.8,772" fill="none" stroke="#000" stroke-width="1.6"/><line x1="2263.8" y1="923" x2="2318.8" y2="868" stroke="#000" stroke-width="1.6" /><path d="M2155.7,772 L2155.7,868 L2318.8,868 M2100.7,923 L2155.7,868" fill="none" stroke="#000" stroke-width="1" stroke-dasharray="4 3"/><text x="2255" y="802" font-size="21" font-style="italic" font-family='"Liberation Serif", serif'>F<tspan font-size="15" dy="5">T</tspan></text><text x="2071" y="889" font-size="21" font-style="italic" font-family='"Liberation Serif", serif'>F<tspan font-size="15" dy="5">s</tspan></text><text x="2238" y="913" font-size="21" text-anchor="middle" font-family='"Liberation Serif", serif' font-style="italic">T</text><text x="2165.8" y="984" font-size="21.5" text-anchor="middle" textLength="135.5" lengthAdjust="spacingAndGlyphs" font-family='"Liberation Sans", sans-serif' font-weight="bold" font-style="italic">IncCh-Conv</text><text x="2380.5" y="836" font-size="19.5" text-anchor="middle" textLength="105" lengthAdjust="spacingAndGlyphs" fill="#f5a83a" font-family='"Liberation Sans", sans-serif' font-weight="bold">LN Module</text><line x1="2339" y1="862" x2="2414.5" y2="862" stroke="#4472c4" stroke-width="2.3" /><path d="M2426.0,862.0 L2414.5,867.2 L2414.5,856.8Z" fill="#4472c4"/><text x="2376" y="891.5" font-size="20" text-anchor="middle" textLength="98" lengthAdjust="spacingAndGlyphs" font-family='"Liberation Sans", sans-serif'>Transpose</text><path d="M2519,772 L2537,754 L2537,931 L2519,949Z" fill="#6475ad" fill-opacity=".82"/><path d="M2503,772 L2521,754 L2537,754 L2519,772Z" fill="#9fb2e8" fill-opacity=".9"/><rect x="2503" y="772" width="16" height="177" fill="#7f9be2" fill-opacity=".9"/><rect x="2455" y="772" width="179.4" height="177" fill="none" stroke="#000" stroke-width="1.6"/><path d="M2455,772 L2473,754 L2652.4,754 L2652.4,931 M2634.4,772 L2652.4,754" fill="none" stroke="#000" stroke-width="1.6"/><line x1="2634.4" y1="949" x2="2652.4" y2="931" stroke="#000" stroke-width="1.6" /><path d="M2473,754 L2473,931 L2652.4,931 M2455,949 L2473,931" fill="none" stroke="#000" stroke-width="1" stroke-dasharray="4 3"/><text x="2448.8" y="754" font-size="21" text-anchor="middle" font-family='"Liberation Serif", serif'>1</text><text x="2585" y="844" font-size="21" font-family='"Liberation Serif", serif'>2<tspan font-style="italic">F</tspan><tspan font-style="italic" font-size="15" dy="5">T</tspan></text><text x="2586" y="933" font-size="21" text-anchor="middle" font-family='"Liberation Serif", serif' font-style="italic">T</text><text x="2527.3" y="988" font-size="21.5" text-anchor="middle" textLength="104.6" lengthAdjust="spacingAndGlyphs" font-family='"Liberation Sans", sans-serif' font-weight="bold" font-style="italic">Cls-Conv</text><text x="2710.8" y="839" font-size="20" text-anchor="middle" textLength="81.7" lengthAdjust="spacingAndGlyphs" font-family='"Liberation Sans", sans-serif'>Squeeze</text><line x1="2666.7" y1="862.5" x2="2740.5" y2="862.5" stroke="#4472c4" stroke-width="2.3" /><path d="M2752.0,862.5 L2740.5,867.7 L2740.5,857.3Z" fill="#4472c4"/><text x="2708.5" y="889.6" font-size="20" text-anchor="middle" textLength="77" lengthAdjust="spacingAndGlyphs" font-family='"Liberation Sans", sans-serif'>Softmax</text><circle cx="1810.5" cy="1271.5" r="34" fill="none" stroke="#fff" stroke-width="4.6"/><text x="1810.5" y="1289" font-size="50" text-anchor="middle" fill="#fff" font-family='"Liberation Sans", sans-serif' font-weight="bold">2</text><text x="1868" y="1293.5" font-size="56" textLength="730" lengthAdjust="spacingAndGlyphs" fill="#fff" font-family='"Liberation Sans", sans-serif' font-weight="bold">Dirichlet Feature Projection</text><text x="1462.6" y="1401" font-size="49" textLength="388.4" lengthAdjust="spacingAndGlyphs" fill="#0369a1" font-family='"Liberation Sans", sans-serif' font-weight="bold">Core Idea: Model</text><text x="1868.4" y="1401.2" font-size="50" textLength="31.8" lengthAdjust="spacingAndGlyphs" fill="#0369a1" font-family='"Liberation Serif", serif' font-weight="bold" font-style="italic" stroke="#0369a1" stroke-width=".55">X</text><text x="1925.3" y="1401.2" font-size="50" textLength="42.2" lengthAdjust="spacingAndGlyphs" fill="#0369a1" font-family='"Liberation Serif", serif' stroke="#0369a1" stroke-width=".55">=</text><text x="1979.8" y="1401.2" font-size="50" textLength="12.2" lengthAdjust="spacingAndGlyphs" fill="#0369a1" font-family='"Liberation Serif", serif' stroke="#0369a1" stroke-width=".55">[</text><text x="2001.8" y="1401.2" font-size="50" textLength="28.8" lengthAdjust="spacingAndGlyphs" fill="#0369a1" font-family='"Liberation Serif", serif' font-weight="bold" font-style="italic" stroke="#0369a1" stroke-width=".55">x</text><text x="2031.2" y="1407.3" font-size="35" textLength="14.7" lengthAdjust="spacingAndGlyphs" fill="#0369a1" font-family='"Liberation Serif", serif' stroke="#0369a1" stroke-width=".55">1</text><text x="2052" y="1401.2" font-size="50" textLength="82.6" lengthAdjust="spacingAndGlyphs" fill="#0369a1" font-family='"Liberation Serif", serif' stroke="#0369a1" stroke-width=".55">, … ,</text><text x="2143.8" y="1401.2" font-size="50" textLength="28.8" lengthAdjust="spacingAndGlyphs" fill="#0369a1" font-family='"Liberation Serif", serif' font-weight="bold" font-style="italic" stroke="#0369a1" stroke-width=".55">x</text><text x="2173.2" y="1408.5" font-size="35" textLength="25.7" lengthAdjust="spacingAndGlyphs" fill="#0369a1" font-family='"Liberation Serif", serif' font-weight="bold" font-style="italic" stroke="#0369a1" stroke-width=".55">T</text><text x="2201.9" y="1401.2" font-size="50" textLength="12.9" lengthAdjust="spacingAndGlyphs" fill="#0369a1" font-family='"Liberation Serif", serif' stroke="#0369a1" stroke-width=".55">]</text><text x="2235.6" y="1401.2" font-size="50" textLength="30.6" lengthAdjust="spacingAndGlyphs" fill="#0369a1" font-family='"Liberation Serif", serif' stroke="#0369a1" stroke-width=".55">~</text><text x="2285.8" y="1401.2" font-size="50" textLength="90.6" lengthAdjust="spacingAndGlyphs" fill="#0369a1" font-family='"Liberation Serif", serif' font-weight="bold" font-style="italic" stroke="#0369a1" stroke-width=".55">Dir</text><text x="2378.2" y="1401.2" font-size="50" textLength="15.3" lengthAdjust="spacingAndGlyphs" fill="#0369a1" font-family='"Liberation Serif", serif' stroke="#0369a1" stroke-width=".55">(</text><text x="2395.9" y="1401.2" font-size="50" textLength="38.6" lengthAdjust="spacingAndGlyphs" fill="#0369a1" font-family='"Liberation Serif", serif' font-weight="bold" font-style="italic" stroke="#0369a1" stroke-width=".55">α</text><text x="2437.6" y="1401.2" font-size="50" textLength="15.3" lengthAdjust="spacingAndGlyphs" fill="#0369a1" font-family='"Liberation Serif", serif' stroke="#0369a1" stroke-width=".55">)</text><text x="1462.6" y="1477.7" font-size="46.5" textLength="320" lengthAdjust="spacingAndGlyphs" fill="#1e293b" font-family='"Liberation Sans", sans-serif'>MLE Projection:</text><text x="1807.2" y="1477.7" font-size="50" textLength="33.7" lengthAdjust="spacingAndGlyphs" fill="#000" font-family='"Liberation Serif", serif' font-weight="bold" font-style="italic">α</text><path d="M1815.3,1452.7 L1826.7,1445.7 L1838.2,1452.7" fill="none" stroke="#000" stroke-width="2.8" stroke-linejoin="miter"/><text x="1842.1" y="1489.9" font-size="35" textLength="75.3" lengthAdjust="spacingAndGlyphs" font-family='"Liberation Serif", serif' stroke="#000" stroke-width=".55">MLE</text><text x="1923.5" y="1477.7" font-size="50" textLength="27.5" lengthAdjust="spacingAndGlyphs" font-family='"Liberation Serif", serif' stroke="#000" stroke-width=".55">=</text><text x="1972.4" y="1477.7" font-size="46" textLength="33.7" lengthAdjust="spacingAndGlyphs" font-family='"DejaVu Math TeX Gyre", "DejaVu Serif", serif' stroke="#000" stroke-width=".55">𝒫</text><text x="2012.2" y="1477.7" font-size="50" textLength="14.1" lengthAdjust="spacingAndGlyphs" font-family='"Liberation Serif", serif' stroke="#000" stroke-width=".55">(</text><text x="2030.6" y="1477.7" font-size="50" textLength="34.9" lengthAdjust="spacingAndGlyphs" font-family='"Liberation Serif", serif' font-weight="bold" font-style="italic" stroke="#000" stroke-width=".55">X</text><text x="2069.1" y="1477.7" font-size="50" textLength="13.5" lengthAdjust="spacingAndGlyphs" font-family='"Liberation Serif", serif' stroke="#000" stroke-width=".55">)</text><text x="2107.1" y="1477.7" font-size="50" textLength="30.6" lengthAdjust="spacingAndGlyphs" font-family='"Liberation Serif", serif' stroke="#000" stroke-width=".55">=</text><text x="2154.8" y="1477.7" font-size="50" textLength="159.1" lengthAdjust="spacingAndGlyphs" font-family='"Liberation Serif", serif' stroke="#000" stroke-width=".55">argmax</text><text x="2223.4" y="1520.5" font-size="36" textLength="21.4" lengthAdjust="spacingAndGlyphs" font-family='"Liberation Serif", serif' font-style="italic" stroke="#000" stroke-width=".55">α</text><text x="2323.7" y="1482" font-size="60" textLength="32.4" lengthAdjust="spacingAndGlyphs" font-family='"Liberation Serif", serif' stroke="#000" stroke-width=".55">∑</text><text x="2359.8" y="1458.1" font-size="30" textLength="16.5" lengthAdjust="spacingAndGlyphs" font-family='"Liberation Serif", serif' font-style="italic" stroke="#000" stroke-width=".55">T</text><text x="2358" y="1494.2" font-size="30" textLength="9.2" lengthAdjust="spacingAndGlyphs" font-family='"Liberation Serif", serif' font-style="italic" stroke="#000" stroke-width=".55">j</text><text x="2392" y="1477.7" font-size="49" textLength="62.3" lengthAdjust="spacingAndGlyphs" font-family='"Liberation Serif", serif'>log</text><text x="2467" y="1477.7" font-size="50" textLength="28.4" lengthAdjust="spacingAndGlyphs" font-family='"Liberation Serif", serif' font-style="italic">D</text><text x="2503.7" y="1482" font-size="62" textLength="16.5" lengthAdjust="spacingAndGlyphs" font-family='"Liberation Serif", serif' stroke="#000" stroke-width=".55">(</text><text x="2523.2" y="1477.7" font-size="50" textLength="27.5" lengthAdjust="spacingAndGlyphs" font-family='"Liberation Serif", serif' font-weight="bold" font-style="italic" stroke="#000" stroke-width=".55">x</text><text x="2552" y="1488.7" font-size="34" textLength="9.2" lengthAdjust="spacingAndGlyphs" font-family='"Liberation Serif", serif' font-style="italic" stroke="#000" stroke-width=".55">j</text><text x="2564.9" y="1477.7" font-size="50" textLength="7.3" lengthAdjust="spacingAndGlyphs" font-family='"Liberation Serif", serif' stroke="#000" stroke-width=".55">;</text><text x="2590.6" y="1477.7" font-size="50" textLength="33.7" lengthAdjust="spacingAndGlyphs" font-family='"Liberation Serif", serif' font-weight="bold" font-style="italic" stroke="#000" stroke-width=".55">α</text><text x="2629.1" y="1482" font-size="62" textLength="15.3" lengthAdjust="spacingAndGlyphs" font-family='"Liberation Serif", serif' stroke="#000" stroke-width=".55">)</text><text x="1462.6" y="1586" font-size="46.5" textLength="429" lengthAdjust="spacingAndGlyphs" fill="#1e293b" font-family='"Liberation Sans", sans-serif'>Fixed-point iteration:</text><text x="1905.1" y="1586" font-size="50" textLength="30.6" lengthAdjust="spacingAndGlyphs" font-family='"Liberation Serif", serif' font-style="italic" stroke="#000" stroke-width=".55">α</text><text x="1938.8" y="1598.3" font-size="34" textLength="8" lengthAdjust="spacingAndGlyphs" font-family='"Liberation Serif", serif' font-style="italic" stroke="#000" stroke-width=".55">i</text><text x="1938.8" y="1567.7" font-size="35" textLength="73.4" lengthAdjust="spacingAndGlyphs" font-family='"Liberation Serif", serif' stroke="#000" stroke-width=".55">new</text><text x="2029.4" y="1586" font-size="50" textLength="34.9" lengthAdjust="spacingAndGlyphs" font-family='"Liberation Serif", serif' stroke="#000" stroke-width=".55">=</text><text x="2090.6" y="1586" font-size="50" textLength="34.9" lengthAdjust="spacingAndGlyphs" font-family='"Liberation Serif", serif' font-style="italic" stroke="#000" stroke-width=".55">ψ</text><text x="2126.7" y="1569.5" font-size="35" textLength="47.7" lengthAdjust="spacingAndGlyphs" font-family='"Liberation Serif", serif' stroke="#000" stroke-width=".55">−1</text><text x="2180.5" y="1590.9" font-size="64" textLength="17.1" lengthAdjust="spacingAndGlyphs" font-family='"Liberation Serif", serif' stroke="#000" stroke-width=".55">(</text><text x="2212.3" y="1586" font-size="50" textLength="35.5" lengthAdjust="spacingAndGlyphs" font-family='"Liberation Serif", serif' font-style="italic" stroke="#000" stroke-width=".55">ψ</text><text x="2250.9" y="1589.7" font-size="58" textLength="15.3" lengthAdjust="spacingAndGlyphs" font-family='"Liberation Serif", serif' stroke="#000" stroke-width=".55">(</text><text x="2269.3" y="1586" font-size="50" textLength="28.8" lengthAdjust="spacingAndGlyphs" font-family='"Liberation Serif", serif' font-style="italic" stroke="#000" stroke-width=".55">α</text><text x="2299.9" y="1598.3" font-size="34" textLength="14.1" lengthAdjust="spacingAndGlyphs" font-family='"Liberation Serif", serif' stroke="#000" stroke-width=".55">0</text><text x="2299.9" y="1567.7" font-size="35" textLength="58.1" lengthAdjust="spacingAndGlyphs" font-family='"Liberation Serif", serif' stroke="#000" stroke-width=".55">old</text><text x="2361.1" y="1589.7" font-size="58" textLength="16.5" lengthAdjust="spacingAndGlyphs" font-family='"Liberation Serif", serif' stroke="#000" stroke-width=".55">)</text><text x="2400.8" y="1586" font-size="50" textLength="27.5" lengthAdjust="spacingAndGlyphs" font-family='"Liberation Serif", serif' stroke="#000" stroke-width=".55">+</text><text x="2446.7" y="1586" font-size="50" textLength="119.3" lengthAdjust="spacingAndGlyphs" font-family='"Liberation Serif", serif' stroke="#000" stroke-width=".55">(1/T)</text><text x="2577.7" y="1590.3" font-size="60" textLength="32.4" lengthAdjust="spacingAndGlyphs" font-family='"Liberation Serif", serif' stroke="#000" stroke-width=".55">∑</text><text x="2613.8" y="1566.4" font-size="30" textLength="16.5" lengthAdjust="spacingAndGlyphs" font-family='"Liberation Serif", serif' font-style="italic" stroke="#000" stroke-width=".55">T</text><text x="2612" y="1603.2" font-size="30" textLength="9.2" lengthAdjust="spacingAndGlyphs" font-family='"Liberation Serif", serif' font-style="italic" stroke="#000" stroke-width=".55">j</text><text x="2646.5" y="1586" font-size="49" textLength="62.5" lengthAdjust="spacingAndGlyphs" font-family='"Liberation Serif", serif'>log</text><text x="2719.1" y="1586" font-size="50" textLength="27.5" lengthAdjust="spacingAndGlyphs" font-family='"Liberation Serif", serif' font-style="italic" stroke="#000" stroke-width=".55">x</text><text x="2747.8" y="1597" font-size="34" textLength="26.3" lengthAdjust="spacingAndGlyphs" font-family='"Liberation Serif", serif' font-style="italic" stroke="#000" stroke-width=".55">ij</text><text x="2780.3" y="1590.9" font-size="64" textLength="18.4" lengthAdjust="spacingAndGlyphs" font-family='"Liberation Serif", serif' stroke="#000" stroke-width=".55">)</text><text x="1462.6" y="1664.4" font-size="46.5" textLength="105.9" lengthAdjust="spacingAndGlyphs" fill="#475569" font-family='"Liberation Sans", sans-serif' font-style="italic">Scale</text><text x="1580.8" y="1664.4" font-size="48" textLength="27.5" lengthAdjust="spacingAndGlyphs" fill="#475569" font-family='"Liberation Serif", serif' font-style="italic" stroke="#475569" stroke-width=".55">α</text><text x="1611.4" y="1673.5" font-size="32" textLength="12.2" lengthAdjust="spacingAndGlyphs" fill="#475569" font-family='"Liberation Serif", serif' stroke="#475569" stroke-width=".55">0</text><text x="1642" y="1664.4" font-size="46.5" textLength="419.2" lengthAdjust="spacingAndGlyphs" fill="#475569" font-family='"Liberation Sans", sans-serif' font-style="italic">encodes uncertainty;</text><text x="2090.6" y="1664.4" font-size="48" textLength="25.7" lengthAdjust="spacingAndGlyphs" fill="#475569" font-family='"Liberation Serif", serif' font-style="italic" stroke="#475569" stroke-width=".55">α</text><text x="2121.8" y="1673.5" font-size="32" textLength="8.6" lengthAdjust="spacingAndGlyphs" fill="#475569" font-family='"Liberation Serif", serif' font-style="italic" stroke="#475569" stroke-width=".55">i</text><text x="2146.9" y="1664.4" font-size="46.5" textLength="716" lengthAdjust="spacingAndGlyphs" fill="#475569" font-family='"Liberation Sans", sans-serif' font-style="italic">encodes concentration toward class</text><text x="2879.4" y="1664.4" font-size="52" fill="#475569" font-family='"Liberation Serif", serif' font-style="italic" stroke="#475569" stroke-width=".55">i</text><path d="M1641.8,1887.7 L1786.0,1978.7 M1659.4,1887.7 L1515.4,1978.7 M1616.5,1903.9 L1760.6,1991.3 M1684.8,1903.9 L1540.7,1991.3 M1591.3,1920.1 L1735.4,2003.9 M1710.0,1920.1 L1565.9,2003.9 M1565.9,1936.3 L1710.0,2016.6 M1735.4,1936.3 L1591.3,2016.6 M1540.7,1952.5 L1684.8,2029.2 M1760.6,1952.5 L1616.5,2029.2 M1515.4,1968.7 L1659.4,2041.8 M1786.0,1968.7 L1641.8,2041.8 M1641.8,1887.7 L1641.4,1790.6 M1650.6,1876.3 L1506.2,1965.7 M1616.5,1903.9 L1615.0,1798.6 M1650.6,1859.8 L1505.1,1940.8 M1591.3,1920.1 L1588.7,1806.5 M1650.6,1843.3 L1504.0,1916.1 M1565.9,1936.3 L1562.2,1814.4 M1650.6,1826.7 L1502.9,1891.3 M1540.7,1952.5 L1535.9,1822.4 M1650.6,1810.2 L1501.8,1866.6 M1515.4,1968.7 L1509.5,1830.3 M1650.6,1793.6 L1500.7,1841.7 M1659.4,1887.7 L1659.7,1790.6 M1650.6,1876.3 L1795.2,1965.7 M1684.8,1903.9 L1686.1,1798.6 M1650.6,1859.8 L1796.2,1940.8 M1710.0,1920.1 L1712.4,1806.5 M1650.6,1843.3 L1797.2,1916.1 M1735.4,1936.3 L1738.8,1814.4 M1650.6,1826.7 L1798.2,1891.3 M1760.6,1952.5 L1765.1,1822.4 M1650.6,1810.2 L1799.2,1866.6 M1786.0,1968.7 L1791.5,1830.3 M1650.6,1793.6 L1800.3,1841.7 " fill="none" stroke="#d4d4d4" stroke-width="0.9"/><path d="M1500.3,1833.1 L1650.6,1787.9 L1800.6,1833.1 M1650.6,1787.9 L1650.6,1882.1 M1506.6,1974.3 L1650.6,1882.1 L1794.8,1974.3" fill="none" stroke="#cfcfcf" stroke-width="0.9"/><path d="M1500.3,1833.1 L1506.6,1974.3 L1650.6,2046.2 L1794.8,1974.3" fill="none" stroke="#111" stroke-width="1.3"/><path d="M1506.2,1965.7 l-4,1.2 M1515.4,1978.7 l-3.5,2 M1786.0,1978.7 l3.5,2 M1505.1,1940.8 l-4,1.2 M1540.7,1991.3 l-3.5,2 M1760.6,1991.3 l3.5,2 M1504.0,1916.1 l-4,1.2 M1565.9,2003.9 l-3.5,2 M1735.4,2003.9 l3.5,2 M1502.9,1891.3 l-4,1.2 M1591.3,2016.6 l-3.5,2 M1710.0,2016.6 l3.5,2 M1501.8,1866.6 l-4,1.2 M1616.5,2029.2 l-3.5,2 M1684.8,2029.2 l3.5,2 M1500.7,1841.7 l-4,1.2 M1641.8,2041.8 l-3.5,2 M1659.4,2041.8 l3.5,2 " fill="none" stroke="#111" stroke-width="1.1"/><path d="M1776.7,1965.0 L1524.2,1965.0 L1650.6,1796.6Z" fill="none" stroke="#c0282d" stroke-width="1.5"/><path d="M1615.1 1964.3h0M1775.2 1965.0h0M1619.6 1965.0h0M1740.0 1964.9h0M1525.6 1963.6h0M1656.4 1811.2h0M1645.3 1826.9h0M1776.7 1965.0h0M1681.7 1838.2h0M1606.0 1950.3h0M1546.8 1961.4h0M1666.5 1817.9h0M1525.2 1963.7h0M1541.4 1944.7h0M1657.4 1827.6h0M1648.8 1800.6h0M1769.4 1957.9h0M1701.6 1965.0h0M1563.4 1963.8h0M1650.5 1797.5h0M1651.1 1797.5h0M1604.3 1964.7h0M1682.3 1908.6h0M1681.2 1880.5h0M1559.3 1928.8h0M1676.2 1843.9h0M1649.2 1798.4h0M1647.4 1856.2h0M1582.5 1964.5h0M1763.0 1965.0h0M1615.9 1842.9h0M1608.6 1856.9h0M1698.2 1860.2h0M1524.9 1964.3h0M1764.7 1961.5h0M1621.7 1835.1h0M1766.8 1965.0h0M1774.3 1961.9h0M1689.0 1935.9h0M1722.9 1964.9h0M1754.5 1961.0h0M1524.4 1964.8h0M1543.4 1965.0h0M1525.0 1965.0h0M1772.2 1959.1h0M1530.2 1964.9h0M1761.8 1951.6h0M1717.5 1965.0h0M1526.5 1965.0h0M1637.3 1814.3h0M1584.6 1884.5h0M1594.8 1964.6h0M1650.7 1796.8h0M1637.5 1824.0h0M1663.5 1964.8h0M1650.7 1796.8h0M1701.3 1867.4h0M1562.8 1916.6h0M1691.2 1939.8h0M1644.7 1804.8h0M1726.0 1965.0h0M1648.3 1800.9h0M1731.8 1961.1h0M1653.9 1801.2h0M1543.5 1939.2h0M1776.2 1964.3h0M1650.0 1809.7h0M1774.0 1962.5h0M1727.1 1899.2h0M1662.5 1812.5h0M1557.0 1944.0h0M1766.9 1964.2h0M1649.0 1798.8h0M1650.1 1797.3h0M1705.6 1904.2h0M1587.7 1880.4h0M1674.2 1828.4h0M1646.6 1942.6h0M1654.0 1829.6h0M1775.6 1963.7h0M1771.7 1965.0h0M1585.4 1891.7h0M1671.7 1826.2h0M1583.2 1930.1h0M1758.0 1946.7h0M1559.0 1965.0h0M1773.9 1965.0h0M1636.7 1815.3h0M1645.1 1964.4h0M1650.1 1797.5h0M1776.7 1965.0h0M1774.7 1964.1h0M1775.7 1965.0h0M1563.1 1952.8h0M1728.8 1901.0h0M1666.3 1892.3h0M1545.8 1942.2h0M1645.2 1821.8h0M1748.6 1927.7h0M1765.0 1964.9h0M1536.8 1948.3h0M1676.4 1838.6h0M1572.6 1945.4h0M1551.2 1965.0h0M1623.4 1835.2h0M1679.4 1854.1h0M1645.5 1820.8h0M1524.2 1965.0h0M1631.4 1822.2h0M1678.9 1834.5h0M1776.7 1965.0h0M1671.5 1964.8h0M1772.0 1958.7h0M1586.3 1888.1h0M1670.0 1822.6h0M1688.6 1960.6h0M1600.7 1863.9h0M1666.5 1817.9h0M1728.5 1915.9h0M1534.7 1965.0h0M1524.6 1965.0h0M1656.6 1806.6h0M1649.1 1809.2h0M1775.9 1965.0h0M1760.0 1944.2h0M1597.3 1964.5h0M1712.5 1879.8h0M1621.2 1837.0h0M1763.6 1947.5h0M1596.8 1946.5h0M1741.7 1938.1h0M1766.3 1965.0h0M1569.1 1964.7h0M1611.6 1857.1h0M1679.8 1863.8h0M1609.9 1965.0h0M1775.7 1965.0h0M1706.8 1871.6h0M1659.0 1863.4h0M1749.1 1963.6h0M1732.4 1923.1h0M1617.8 1951.4h0M1538.1 1965.0h0M1613.2 1958.6h0M1687.7 1846.2h0M1541.0 1964.9h0M1638.2 1813.3h0M1650.6 1796.7h0M1747.6 1965.0h0M1669.5 1920.8h0M1524.5 1964.7h0M1652.1 1798.6h0M1650.6 1796.9h0M1650.6 1796.6h0M1689.8 1950.3h0M1567.5 1907.4h0M1571.6 1927.1h0M1524.3 1964.9h0M1632.8 1853.0h0M1774.6 1963.0h0M1621.5 1964.1h0M1680.5 1947.8h0M1535.9 1950.1h0M1743.3 1922.0h0M1776.7 1965.0h0M1759.5 1947.6h0M1585.6 1964.9h0M1648.1 1960.7h0M1605.4 1856.9h0M1604.3 1896.8h0M1742.9 1920.0h0M1650.6 1796.6h0M1616.2 1878.3h0M1524.4 1964.7h0M1540.9 1965.0h0M1650.6 1796.7h0M1542.8 1941.0h0M1651.9 1798.5h0M1635.4 1965.0h0M1753.9 1965.0h0M1760.7 1954.9h0M1768.7 1954.7h0M1642.4 1925.6h0M1650.3 1797.0h0M1635.5 1876.9h0M1654.9 1804.6h0M1717.8 1891.3h0M1684.1 1916.6h0M1776.7 1965.0h0M1579.0 1901.2h0M1530.6 1961.5h0M1776.7 1965.0h0M1533.3 1963.0h0M1773.5 1965.0h0M1652.7 1965.0h0M1721.4 1957.4h0M1776.3 1964.4h0M1609.4 1851.5h0M1638.0 1900.2h0M1636.2 1827.8h0M1555.8 1923.3h0M1769.9 1965.0h0M1763.6 1947.6h0M1554.6 1961.6h0M1652.8 1800.0h0M1644.2 1807.0h0M1568.6 1965.0h0M1557.4 1946.9h0M1753.9 1935.0h0M1543.7 1939.0h0M1697.0 1959.8h0M1663.0 1813.4h0M1761.2 1947.0h0M1689.1 1848.1h0M1524.3 1965.0h0M1628.3 1826.4h0M1634.7 1951.4h0M1595.1 1962.2h0M1708.2 1961.5h0M1524.3 1964.9h0M1552.7 1931.1h0M1643.5 1806.1h0M1753.0 1933.4h0M1669.5 1821.8h0M1643.1 1965.0h0M1666.0 1965.0h0M1776.2 1964.4h0M1662.7 1841.8h0M1657.6 1806.4h0M1527.6 1960.5h0M1703.4 1964.9h0M1776.6 1965.0h0M1697.1 1962.8h0M1628.1 1960.5h0M1769.3 1955.2h0M1650.3 1797.1h0M1581.8 1925.3h0M1644.0 1829.5h0M1763.2 1964.6h0M1762.4 1949.9h0M1700.9 1864.0h0M1590.7 1876.5h0M1651.8 1798.2h0M1565.0 1964.9h0M1649.6 1809.5h0M1762.2 1945.7h0M1705.8 1952.9h0M1651.2 1797.7h0M1524.5 1964.9h0M1772.5 1961.4h0M1682.5 1918.5h0M1655.5 1851.8h0M1769.2 1960.3h0M1775.9 1963.9h0M1598.9 1937.3h0M1556.4 1935.9h0M1583.6 1962.4h0M1643.5 1806.3h0M1556.8 1961.1h0M1651.0 1797.3h0M1684.7 1843.0h0M1710.3 1910.8h0M1645.5 1810.0h0M1546.0 1952.1h0M1629.8 1824.4h0M1573.5 1899.3h0M1573.7 1949.3h0M1643.0 1806.8h0M1559.7 1946.3h0M1533.4 1962.8h0M1650.6 1796.6h0M1769.8 1955.9h0M1600.1 1940.9h0M1650.4 1796.9h0M1654.3 1802.5h0M1619.0 1965.0h0M1627.3 1833.2h0M1752.9 1960.5h0M1543.4 1939.4h0M1726.9 1913.3h0M1667.1 1952.4h0M1524.4 1965.0h0M1776.7 1965.0h0M1532.2 1956.0h0M1524.3 1965.0h0M1775.0 1964.9h0M1525.6 1963.4h0M1747.0 1963.4h0M1624.3 1964.3h0M1641.1 1964.5h0M1526.3 1962.8h0M1704.1 1963.0h0M1660.4 1810.8h0M1616.7 1965.0h0M1776.7 1965.0h0M1656.2 1804.4h0M1742.3 1961.5h0M1557.7 1942.0h0M1539.5 1958.6h0M1776.6 1964.8h0" fill="none" stroke="#4a5fd0" stroke-width="4.8" stroke-linecap="round" stroke-opacity=".62"/><path d="M1776.7 1965.0h0M1619.3 1903.6h0M1757.4 1939.2h0M1654.9 1817.0h0M1637.2 1814.7h0M1599.1 1865.2h0M1525.4 1963.4h0M1664.1 1814.7h0M1758.6 1965.0h0M1729.7 1962.5h0M1657.3 1806.2h0M1751.4 1931.3h0M1687.7 1959.0h0M1739.4 1916.2h0M1773.5 1965.0h0M1650.8 1797.1h0M1719.8 1963.9h0M1767.7 1965.0h0M1612.1 1878.6h0M1768.3 1965.0h0M1660.6 1810.2h0M1759.1 1941.8h0M1770.9 1965.0h0M1763.2 1964.9h0M1776.6 1964.8h0M1639.3 1935.2h0M1587.5 1922.4h0M1668.6 1965.0h0M1648.7 1799.2h0M1701.5 1872.0h0M1776.3 1965.0h0M1525.5 1964.8h0M1634.9 1817.5h0M1697.9 1901.3h0M1560.5 1965.0h0M1775.8 1964.7h0M1748.5 1964.3h0M1763.0 1965.0h0M1681.1 1957.6h0M1663.7 1814.2h0M1655.3 1804.6h0M1649.6 1798.2h0M1665.7 1817.0h0M1753.0 1951.0h0M1538.6 1946.4h0M1573.3 1899.8h0M1596.9 1903.3h0M1706.5 1871.2h0M1524.3 1964.9h0M1577.2 1895.1h0M1661.3 1811.9h0M1626.8 1869.2h0M1676.6 1878.3h0M1717.2 1957.8h0M1533.7 1952.4h0M1762.9 1947.8h0M1654.9 1802.3h0M1657.2 1805.4h0M1650.0 1797.8h0M1581.7 1889.9h0M1722.8 1901.1h0M1731.2 1965.0h0M1563.5 1912.7h0M1763.7 1965.0h0M1539.2 1947.4h0M1765.3 1949.8h0M1652.1 1804.6h0M1776.7 1965.0h0M1650.6 1963.2h0M1676.9 1965.0h0M1644.0 1805.8h0M1619.7 1964.4h0M1743.5 1920.7h0M1650.9 1797.1h0M1686.2 1859.4h0M1772.3 1959.1h0M1526.0 1963.6h0M1581.7 1888.4h0M1765.2 1965.0h0M1775.9 1965.0h0M1524.8 1965.0h0M1524.5 1965.0h0M1594.9 1948.2h0M1664.3 1906.2h0M1650.7 1797.0h0M1761.2 1959.0h0M1650.6 1796.6h0M1672.6 1828.5h0M1776.6 1965.0h0M1766.7 1963.3h0M1758.5 1943.9h0M1733.0 1915.1h0M1721.1 1892.3h0M1603.5 1922.6h0M1644.4 1805.0h0M1774.6 1962.6h0M1752.9 1964.9h0M1656.1 1804.0h0M1660.5 1848.5h0M1650.6 1797.7h0M1534.3 1954.2h0M1724.6 1965.0h0M1529.2 1965.0h0M1524.2 1965.0h0M1686.0 1873.4h0M1624.2 1965.0h0M1745.7 1923.6h0M1774.6 1964.7h0M1776.2 1964.5h0M1776.7 1964.9h0M1722.5 1960.4h0M1664.8 1835.4h0M1750.9 1930.5h0M1540.4 1963.6h0M1776.7 1965.0h0M1558.6 1919.2h0M1548.3 1965.0h0M1773.3 1964.9h0M1649.7 1797.9h0M1741.8 1918.4h0M1639.3 1955.1h0M1637.4 1832.6h0M1747.5 1964.3h0M1598.8 1872.9h0M1634.9 1820.4h0M1740.9 1964.8h0M1762.3 1960.0h0M1524.8 1964.4h0M1776.7 1965.0h0M1612.1 1922.1h0M1766.5 1955.6h0M1697.4 1862.7h0M1597.7 1868.5h0M1776.7 1965.0h0M1585.1 1914.5h0M1651.2 1797.5h0M1625.7 1829.8h0M1600.6 1873.5h0M1649.8 1799.5h0M1546.7 1964.9h0M1596.4 1951.3h0M1652.3 1812.4h0M1540.2 1943.7h0M1693.2 1963.4h0M1562.8 1929.0h0M1726.0 1954.0h0M1650.6 1796.8h0M1774.8 1962.4h0M1719.3 1962.7h0M1624.1 1953.8h0M1554.0 1956.2h0M1524.2 1965.0h0M1720.6 1909.6h0M1636.2 1831.1h0M1557.2 1965.0h0M1539.0 1957.1h0M1524.3 1964.9h0M1650.3 1797.0h0M1774.7 1964.8h0M1582.6 1887.3h0M1539.4 1959.9h0M1578.5 1910.7h0M1524.2 1965.0h0M1596.7 1868.6h0M1775.9 1964.5h0M1555.5 1965.0h0M1768.7 1954.3h0M1648.8 1952.8h0M1772.5 1965.0h0M1644.4 1955.1h0M1776.6 1964.9h0M1776.7 1965.0h0M1579.8 1902.9h0M1544.2 1964.9h0M1699.1 1926.3h0M1642.2 1821.2h0M1774.9 1963.2h0M1650.6 1796.7h0M1679.8 1853.9h0M1776.7 1965.0h0M1525.6 1963.8h0M1776.6 1965.0h0M1608.3 1862.0h0M1722.8 1900.7h0M1771.5 1958.2h0M1656.8 1915.1h0M1524.9 1964.2h0M1635.6 1816.7h0M1759.3 1942.0h0M1524.7 1964.4h0M1752.6 1953.1h0M1767.3 1952.4h0M1733.3 1964.7h0M1653.6 1805.4h0M1638.7 1816.7h0M1632.5 1820.7h0M1720.7 1951.3h0M1539.0 1946.0h0M1708.5 1964.7h0M1694.8 1881.5h0M1650.6 1796.6h0M1676.0 1846.3h0M1694.8 1953.6h0M1654.0 1803.1h0M1571.4 1953.5h0M1724.5 1932.1h0M1668.6 1965.0h0M1524.4 1964.8h0M1650.5 1796.8h0M1667.7 1939.9h0M1737.9 1937.0h0M1588.9 1878.9h0M1546.9 1965.0h0M1650.1 1797.3h0M1581.7 1953.3h0M1770.2 1957.4h0M1674.3 1828.3h0M1652.9 1802.5h0M1650.4 1796.9h0M1634.3 1818.4h0M1649.7 1797.9h0M1615.3 1964.9h0M1768.5 1960.0h0M1574.9 1904.2h0M1776.7 1965.0h0M1650.2 1797.1h0M1765.1 1950.6h0M1776.7 1965.0h0M1546.2 1964.8h0M1649.8 1797.6h0M1769.4 1955.3h0M1649.4 1798.5h0M1541.5 1963.8h0M1753.5 1963.4h0M1524.2 1965.0h0M1750.5 1930.0h0M1711.8 1964.3h0M1526.9 1961.6h0M1524.2 1965.0h0M1764.3 1965.0h0M1705.5 1965.0h0M1713.1 1886.1h0M1693.4 1855.9h0M1584.3 1963.8h0M1771.8 1964.0h0M1754.5 1951.0h0M1574.1 1964.9h0M1638.3 1814.6h0M1545.0 1937.5h0M1664.8 1965.0h0M1624.7 1831.2h0M1568.2 1964.9h0M1644.0 1845.2h0M1572.5 1965.0h0M1774.9 1964.6h0M1602.2 1861.2h0M1537.0 1952.6h0M1633.3 1865.2h0M1775.9 1964.2h0M1651.7 1798.1h0M1776.2 1965.0h0M1633.6 1819.3h0M1742.1 1949.0h0M1611.8 1907.0h0M1670.5 1823.3h0M1549.9 1944.3h0M1761.4 1961.2h0M1582.4 1965.0h0M1686.0 1846.0h0M1524.4 1964.8h0M1720.5 1890.0h0M1730.1 1936.0h0M1598.2 1961.8h0M1697.3 1859.0h0M1646.2 1803.0h0M1756.6 1965.0h0M1651.3 1797.7h0M1525.3 1963.7h0M1652.9 1800.5h0M1548.4 1965.0h0M1723.2 1894.3h0M1775.7 1963.9h0M1624.0 1832.2h0M1659.5 1808.5h0M1570.7 1903.1h0M1650.6 1796.7h0M1530.9 1964.8h0M1524.3 1964.9h0M1713.5 1880.7h0M1643.4 1963.9h0M1659.6 1811.1h0M1711.4 1879.4h0M1596.4 1869.3h0M1535.4 1965.0h0M1572.8 1963.4h0M1551.3 1928.9h0M1776.4 1964.5h0M1524.6 1964.5h0M1759.0 1964.8h0M1770.0 1956.0h0" fill="none" stroke="#4a5fd0" stroke-width="4.8" stroke-linecap="round" stroke-opacity=".62"/><path d="M1668.8 1965.0h0M1735.3 1951.5h0M1591.9 1918.9h0M1741.7 1964.5h0M1762.7 1965.0h0M1776.2 1965.0h0M1681.4 1847.1h0M1642.5 1823.4h0M1633.6 1819.2h0M1748.2 1965.0h0M1557.1 1921.1h0M1626.9 1950.1h0M1640.8 1965.0h0M1526.0 1965.0h0M1592.8 1880.4h0M1662.4 1892.0h0M1525.8 1963.3h0M1647.8 1800.6h0M1651.2 1797.7h0M1767.3 1960.9h0M1543.2 1939.7h0M1665.6 1963.9h0M1706.6 1872.3h0M1539.0 1945.3h0M1639.2 1811.9h0M1646.0 1802.9h0M1738.1 1914.2h0M1731.5 1909.0h0M1711.1 1877.4h0M1575.5 1964.9h0M1771.0 1960.3h0M1626.3 1962.1h0M1776.7 1965.0h0M1566.7 1959.8h0M1524.2 1965.0h0M1526.6 1964.5h0M1769.9 1955.8h0M1539.2 1945.0h0M1532.4 1964.9h0M1669.4 1821.7h0M1708.1 1919.9h0M1710.7 1928.9h0M1530.0 1963.3h0M1650.5 1796.9h0M1590.4 1876.8h0M1629.9 1889.7h0M1657.0 1810.3h0M1665.4 1831.2h0M1640.9 1824.3h0M1771.9 1963.2h0M1531.2 1956.2h0M1651.1 1797.3h0M1667.4 1824.8h0M1651.4 1803.2h0M1630.3 1823.7h0M1652.6 1799.4h0M1626.4 1965.0h0M1624.3 1903.9h0M1537.8 1963.5h0M1712.0 1878.8h0M1642.2 1965.0h0M1534.1 1965.0h0M1765.2 1953.4h0M1530.5 1956.5h0M1653.0 1800.8h0M1619.7 1837.8h0M1549.5 1932.3h0M1524.3 1964.9h0M1587.3 1965.0h0M1650.5 1796.8h0M1607.4 1965.0h0M1652.0 1798.6h0M1641.7 1811.1h0M1652.7 1801.2h0M1650.8 1799.9h0M1528.3 1959.5h0M1689.2 1848.3h0M1578.8 1915.3h0M1567.1 1916.4h0M1758.3 1941.2h0M1651.2 1804.0h0M1748.8 1929.6h0M1618.2 1893.2h0M1537.7 1951.9h0M1758.5 1940.6h0M1524.3 1964.9h0M1527.4 1963.0h0M1650.6 1865.4h0M1529.7 1965.0h0M1757.7 1948.6h0M1549.7 1965.0h0M1650.2 1797.2h0M1650.6 1796.6h0M1759.1 1965.0h0M1526.6 1964.9h0M1651.0 1797.7h0M1763.0 1946.7h0M1558.6 1920.3h0M1527.3 1964.2h0M1622.3 1883.3h0M1651.3 1797.6h0M1648.2 1908.0h0M1657.6 1806.1h0M1774.1 1965.0h0M1775.6 1964.3h0M1603.8 1876.7h0M1775.7 1963.8h0M1568.4 1906.2h0M1557.0 1921.8h0M1650.2 1801.6h0M1649.1 1805.0h0M1632.6 1820.6h0M1748.7 1931.1h0M1623.6 1893.1h0M1756.8 1938.5h0M1771.7 1964.8h0M1565.0 1964.8h0M1749.5 1932.5h0M1675.4 1959.4h0M1541.2 1965.0h0M1648.8 1799.3h0M1646.7 1803.4h0M1652.8 1799.6h0M1647.0 1801.6h0M1760.9 1965.0h0M1702.9 1869.9h0M1532.1 1965.0h0M1776.5 1964.8h0M1527.7 1960.7h0M1740.0 1937.0h0M1735.8 1911.7h0M1771.2 1957.6h0M1524.2 1965.0h0M1540.1 1943.9h0M1715.3 1883.3h0M1663.9 1816.3h0M1525.6 1964.8h0M1525.2 1964.7h0M1650.8 1800.7h0M1584.4 1927.9h0M1650.6 1796.6h0M1776.1 1964.9h0M1775.2 1964.8h0M1775.2 1962.9h0M1650.6 1798.6h0M1755.2 1964.6h0M1529.1 1960.0h0M1616.8 1879.3h0M1622.8 1833.7h0M1525.6 1963.1h0M1576.1 1910.1h0M1645.0 1964.6h0M1653.5 1853.0h0M1547.8 1933.6h0M1662.6 1812.7h0M1601.8 1868.7h0M1775.7 1963.6h0M1616.0 1852.3h0M1650.3 1797.1h0M1548.6 1936.7h0M1535.4 1950.0h0M1526.2 1962.3h0M1580.1 1965.0h0M1626.2 1831.2h0M1724.7 1939.5h0M1607.1 1882.8h0M1535.8 1965.0h0M1665.8 1820.0h0M1712.7 1962.4h0M1776.7 1964.9h0M1635.7 1939.7h0M1730.3 1913.9h0M1620.7 1884.0h0M1548.3 1933.6h0M1540.8 1943.5h0M1705.4 1961.6h0M1524.6 1964.7h0M1650.5 1796.8h0M1635.2 1818.0h0M1528.7 1959.0h0M1762.0 1945.3h0M1776.5 1964.7h0M1524.3 1965.0h0M1767.5 1952.6h0M1775.5 1965.0h0M1674.5 1830.0h0M1600.7 1863.1h0M1649.3 1798.5h0M1641.8 1808.3h0M1608.1 1882.2h0M1603.8 1901.0h0M1650.6 1796.6h0M1690.4 1851.7h0M1768.9 1954.6h0M1715.7 1963.5h0M1615.6 1858.5h0M1650.6 1796.7h0M1775.7 1964.5h0M1667.7 1917.9h0M1745.1 1962.6h0M1651.3 1797.7h0M1748.1 1927.9h0M1650.7 1797.1h0M1764.7 1961.8h0M1596.2 1958.5h0M1537.8 1964.2h0M1776.7 1965.0h0M1712.3 1879.0h0M1775.0 1965.0h0M1530.9 1965.0h0M1705.7 1944.4h0M1760.5 1964.0h0M1776.6 1964.9h0M1674.4 1828.4h0M1671.4 1825.2h0M1669.0 1821.2h0M1526.0 1962.7h0M1539.0 1964.7h0M1571.7 1962.4h0M1734.9 1965.0h0M1569.7 1911.5h0M1640.5 1863.4h0M1525.5 1964.8h0M1775.8 1964.0h0M1640.0 1950.2h0M1688.3 1935.2h0M1676.8 1831.7h0M1611.1 1861.4h0M1525.0 1964.8h0M1524.2 1965.0h0M1652.7 1801.1h0M1651.5 1797.9h0M1769.1 1955.5h0M1674.9 1829.2h0M1572.2 1919.9h0M1527.1 1964.3h0M1628.0 1856.0h0M1524.3 1964.9h0M1570.9 1905.2h0M1729.3 1901.8h0M1772.7 1963.8h0M1524.3 1964.9h0M1775.9 1963.9h0M1673.2 1933.9h0M1541.1 1942.5h0M1719.9 1889.2h0M1631.0 1921.5h0M1716.7 1884.9h0M1600.8 1866.6h0M1773.8 1961.1h0M1756.0 1944.8h0M1539.2 1961.1h0M1581.0 1890.3h0M1644.5 1804.8h0M1612.4 1962.4h0M1714.2 1891.2h0M1610.1 1881.1h0M1722.1 1965.0h0M1531.0 1956.6h0M1595.4 1870.2h0M1749.4 1937.6h0M1717.6 1889.4h0M1566.7 1964.1h0M1694.3 1855.5h0M1653.6 1803.7h0M1561.1 1921.4h0M1776.7 1965.0h0M1669.5 1945.9h0M1630.7 1880.6h0M1711.1 1965.0h0M1646.9 1820.3h0M1737.2 1964.9h0M1650.6 1796.6h0M1749.4 1962.7h0M1634.1 1960.6h0M1533.4 1963.1h0M1732.6 1906.2h0M1578.6 1933.7h0M1649.1 1799.3h0M1695.1 1872.5h0M1531.0 1956.1h0M1531.7 1955.1h0M1776.6 1964.8h0M1618.4 1877.3h0M1708.7 1907.9h0M1681.3 1841.1h0M1754.2 1964.9h0M1650.6 1796.6h0M1630.5 1829.1h0M1749.0 1964.7h0M1621.1 1836.3h0M1764.6 1962.0h0M1665.0 1914.8h0M1776.5 1964.8h0M1776.5 1964.8h0M1537.3 1948.5h0M1651.6 1798.0h0M1598.1 1875.0h0M1773.4 1960.6h0M1525.2 1964.4h0" fill="none" stroke="#4a5fd0" stroke-width="4.8" stroke-linecap="round" stroke-opacity=".62"/><circle cx="1650.6" cy="1908.0" r="5.2" fill="#f00" stroke="#000" stroke-width="1.2"/><text x="1454.3" y="1744.4" font-size="16" font-family='"DejaVu Serif", serif' font-weight="bold">(a)</text><text x="1646.1" y="1744.4" font-size="15" text-anchor="middle" textLength="213.6" lengthAdjust="spacingAndGlyphs" font-family='"DejaVu Serif", serif' font-weight="bold">Dirichlet(0.2, 0.2, 0.2)</text><circle cx="1686.8" cy="1772.3" r="2.2" fill="#6b7bd6"/><circle cx="1686.8" cy="1797.4" r="6" fill="#f00" stroke="#000" stroke-width="1.3"/><text x="1718.4" y="1775.8" font-size="15.5" fill="#222" font-family='"DejaVu Serif", serif'>Samples</text><text x="1718.4" y="1800.9" font-size="15.5" fill="#222" font-family='"DejaVu Serif", serif'>Mean</text><text x="1466.4" y="1855.4" font-size="16.2" text-anchor="middle" fill="#111" font-family='"DejaVu Serif", serif'>1.0</text><text x="1467.5" y="1879.8" font-size="16.2" text-anchor="middle" fill="#111" font-family='"DejaVu Serif", serif'>0.8</text><text x="1468.6" y="1904.3" font-size="16.2" text-anchor="middle" fill="#111" font-family='"DejaVu Serif", serif'>0.6</text><text x="1469.8" y="1928.7" font-size="16.2" text-anchor="middle" fill="#111" font-family='"DejaVu Serif", serif'>0.4</text><text x="1470.9" y="1953.1" font-size="16.2" text-anchor="middle" fill="#111" font-family='"DejaVu Serif", serif'>0.2</text><text x="1472" y="1977.6" font-size="16.2" text-anchor="middle" fill="#111" font-family='"DejaVu Serif", serif'>0.0</text><text x="1496.5" y="2015.2" font-size="16.2" text-anchor="middle" fill="#111" font-family='"DejaVu Serif", serif'>0.0</text><text x="1803.6" y="2015.2" font-size="16.2" text-anchor="middle" fill="#111" font-family='"DejaVu Serif", serif'>0.0</text><text x="1521.8" y="2028.1" font-size="16.2" text-anchor="middle" fill="#111" font-family='"DejaVu Serif", serif'>0.2</text><text x="1778.7" y="2028.1" font-size="16.2" text-anchor="middle" fill="#111" font-family='"DejaVu Serif", serif'>0.2</text><text x="1547" y="2040.9" font-size="16.2" text-anchor="middle" fill="#111" font-family='"DejaVu Serif", serif'>0.4</text><text x="1753.7" y="2040.9" font-size="16.2" text-anchor="middle" fill="#111" font-family='"DejaVu Serif", serif'>0.4</text><text x="1572.2" y="2053.7" font-size="16.2" text-anchor="middle" fill="#111" font-family='"DejaVu Serif", serif'>0.6</text><text x="1728.7" y="2053.7" font-size="16.2" text-anchor="middle" fill="#111" font-family='"DejaVu Serif", serif'>0.6</text><text x="1597.5" y="2066.5" font-size="16.2" text-anchor="middle" fill="#111" font-family='"DejaVu Serif", serif'>0.8</text><text x="1703.7" y="2066.5" font-size="16.2" text-anchor="middle" fill="#111" font-family='"DejaVu Serif", serif'>0.8</text><text x="1622.7" y="2079.3" font-size="16.2" text-anchor="middle" fill="#111" font-family='"DejaVu Serif", serif'>1.0</text><text x="1678.7" y="2079.3" font-size="16.2" text-anchor="middle" fill="#111" font-family='"DejaVu Serif", serif'>1.0</text><text x="1529.2" y="2075.6" font-size="12.5" text-anchor="middle" fill="#111" font-family='"DejaVu Serif", serif'>P2</text><text x="1770.5" y="2075.6" font-size="12.5" text-anchor="middle" fill="#111" font-family='"DejaVu Serif", serif'>P1</text><text x="1524.9" y="1908.7" font-size="12.5" text-anchor="middle" fill="#111" font-family='"DejaVu Serif", serif'>P3</text><path d="M2009.0,1887.7 L2153.2,1978.7 M2026.6,1887.7 L1882.6,1978.7 M1983.7,1903.9 L2127.8,1991.3 M2052.0,1903.9 L1907.9,1991.3 M1958.5,1920.1 L2102.6,2003.9 M2077.2,1920.1 L1933.1,2003.9 M1933.1,1936.3 L2077.2,2016.6 M2102.6,1936.3 L1958.5,2016.6 M1907.9,1952.5 L2052.0,2029.2 M2127.8,1952.5 L1983.7,2029.2 M1882.6,1968.7 L2026.6,2041.8 M2153.2,1968.7 L2009.0,2041.8 M2009.0,1887.7 L2008.6,1790.6 M2017.8,1876.3 L1873.4,1965.7 M1983.7,1903.9 L1982.2,1798.6 M2017.8,1859.8 L1872.3,1940.8 M1958.5,1920.1 L1955.9,1806.5 M2017.8,1843.3 L1871.2,1916.1 M1933.1,1936.3 L1929.4,1814.4 M2017.8,1826.7 L1870.1,1891.3 M1907.9,1952.5 L1903.1,1822.4 M2017.8,1810.2 L1869.0,1866.6 M1882.6,1968.7 L1876.7,1830.3 M2017.8,1793.6 L1867.9,1841.7 M2026.6,1887.7 L2026.9,1790.6 M2017.8,1876.3 L2162.4,1965.7 M2052.0,1903.9 L2053.3,1798.6 M2017.8,1859.8 L2163.4,1940.8 M2077.2,1920.1 L2079.6,1806.5 M2017.8,1843.3 L2164.4,1916.1 M2102.6,1936.3 L2106.0,1814.4 M2017.8,1826.7 L2165.4,1891.3 M2127.8,1952.5 L2132.3,1822.4 M2017.8,1810.2 L2166.4,1866.6 M2153.2,1968.7 L2158.7,1830.3 M2017.8,1793.6 L2167.5,1841.7 " fill="none" stroke="#d4d4d4" stroke-width="0.9"/><path d="M1867.5,1833.1 L2017.8,1787.9 L2167.8,1833.1 M2017.8,1787.9 L2017.8,1882.1 M1873.8,1974.3 L2017.8,1882.1 L2162.0,1974.3" fill="none" stroke="#cfcfcf" stroke-width="0.9"/><path d="M1867.5,1833.1 L1873.8,1974.3 L2017.8,2046.2 L2162.0,1974.3" fill="none" stroke="#111" stroke-width="1.3"/><path d="M1873.4,1965.7 l-4,1.2 M1882.6,1978.7 l-3.5,2 M2153.2,1978.7 l3.5,2 M1872.3,1940.8 l-4,1.2 M1907.9,1991.3 l-3.5,2 M2127.8,1991.3 l3.5,2 M1871.2,1916.1 l-4,1.2 M1933.1,2003.9 l-3.5,2 M2102.6,2003.9 l3.5,2 M1870.1,1891.3 l-4,1.2 M1958.5,2016.6 l-3.5,2 M2077.2,2016.6 l3.5,2 M1869.0,1866.6 l-4,1.2 M1983.7,2029.2 l-3.5,2 M2052.0,2029.2 l3.5,2 M1867.9,1841.7 l-4,1.2 M2009.0,2041.8 l-3.5,2 M2026.6,2041.8 l3.5,2 " fill="none" stroke="#111" stroke-width="1.1"/><path d="M2143.9,1965.0 L1891.4,1965.0 L2017.8,1796.6Z" fill="none" stroke="#c0282d" stroke-width="1.5"/><path d="M1998.5 1899.3h0M2022.3 1900.4h0M1934.7 1923.1h0M1944.9 1898.1h0M2118.1 1943.0h0M1984.1 1843.7h0M1995.6 1874.5h0M2057.1 1904.1h0M1971.6 1874.3h0M2063.6 1889.6h0M1996.2 1826.6h0M2119.0 1964.5h0M1995.7 1938.6h0M2074.5 1923.2h0M1927.9 1932.9h0M2062.0 1947.6h0M2046.8 1963.7h0M2081.4 1956.9h0M1979.9 1868.5h0M1996.5 1844.3h0M2043.8 1866.7h0M2029.4 1879.8h0M1979.9 1949.3h0M1989.0 1897.4h0M2038.2 1924.0h0M1941.5 1926.6h0M2044.4 1905.2h0M1956.4 1951.6h0M2028.0 1947.3h0M2122.9 1940.3h0M2009.3 1834.6h0M1996.8 1929.9h0M2045.9 1860.5h0M1999.4 1882.4h0M1933.0 1916.4h0M2007.7 1813.4h0M2035.8 1844.2h0M2063.2 1924.5h0M2014.9 1849.0h0M2001.0 1871.0h0M1954.2 1896.1h0M1914.9 1955.2h0M2018.7 1837.4h0M1916.7 1951.2h0M1939.6 1946.7h0M1947.6 1943.4h0M2042.3 1905.6h0M2042.3 1859.9h0M2112.7 1951.4h0M2010.5 1859.1h0M2027.9 1833.1h0M1934.3 1938.1h0M2009.6 1951.9h0M1973.6 1939.9h0M2003.2 1851.2h0M2034.0 1948.5h0M2094.0 1957.5h0M1990.7 1879.7h0M2035.4 1826.1h0M2018.2 1840.3h0M1947.6 1921.1h0M1975.2 1908.9h0M2038.8 1936.7h0M2008.2 1943.6h0M2031.4 1950.9h0M2030.4 1836.7h0M2056.5 1926.2h0M1958.7 1915.2h0M2035.0 1830.9h0M2107.0 1959.1h0M1905.5 1953.4h0M1905.7 1947.8h0M1997.6 1872.2h0M2006.8 1822.1h0M1994.2 1941.1h0M1987.8 1865.8h0M1942.5 1918.3h0M1910.1 1953.3h0M2064.0 1863.1h0M2010.1 1826.3h0M1961.1 1911.6h0M2097.6 1953.7h0M2012.9 1811.3h0M2011.8 1852.7h0M2054.6 1854.5h0M1903.0 1961.7h0M2041.3 1913.5h0M1970.6 1916.9h0M1993.6 1887.0h0M2041.5 1917.0h0M1988.7 1964.5h0M2029.5 1896.3h0M2061.9 1928.2h0M1976.2 1961.6h0M1961.3 1888.5h0M1981.1 1897.4h0M2030.5 1881.2h0M1978.4 1880.7h0M2007.9 1880.0h0M2023.3 1805.1h0M2079.1 1904.5h0M2001.9 1862.6h0M2054.4 1896.9h0M1998.4 1842.7h0M2050.0 1854.7h0M2059.3 1919.0h0M2102.2 1945.2h0M1937.9 1944.4h0M1990.6 1851.4h0M2018.1 1941.4h0M2057.2 1926.4h0M2056.1 1872.6h0M1937.6 1930.1h0M1970.1 1938.4h0M1992.3 1941.6h0M2009.9 1861.1h0M1968.3 1923.0h0M1975.9 1960.4h0M2102.2 1917.9h0M2026.2 1900.4h0M2000.4 1908.1h0M2050.9 1963.0h0M1983.5 1916.2h0M2019.4 1843.8h0M2050.0 1883.7h0M1982.0 1848.3h0M2032.2 1899.0h0M2009.5 1862.7h0M2084.7 1887.9h0M2031.8 1934.8h0M2022.5 1868.4h0M2032.4 1958.0h0M1965.2 1930.6h0M2025.3 1844.8h0M2014.9 1853.8h0M2001.4 1899.7h0M2004.3 1962.8h0M1974.5 1945.2h0M1996.6 1851.4h0M2078.6 1946.6h0M2098.5 1956.6h0M2033.9 1865.5h0M1998.5 1877.3h0M2032.6 1882.6h0M2014.7 1870.5h0M2060.7 1942.4h0M2102.7 1947.8h0M1991.1 1905.6h0M2026.3 1852.8h0M1977.7 1954.8h0M2031.2 1835.4h0M2114.2 1940.6h0M2075.1 1939.0h0M2091.3 1901.6h0M2014.9 1960.7h0M2055.5 1895.2h0M1989.7 1926.5h0M2010.2 1942.4h0M2004.6 1819.1h0M2023.9 1849.8h0M2092.8 1954.4h0M1955.0 1887.7h0M2098.1 1905.5h0M2032.7 1893.6h0M1992.2 1856.9h0M2000.3 1843.9h0M2009.1 1945.2h0M1954.9 1885.9h0M1998.2 1881.3h0M1982.6 1858.0h0M2015.0 1865.6h0M2015.7 1869.5h0M2017.2 1947.6h0M2039.3 1885.2h0M1985.8 1946.4h0M1995.1 1871.8h0M1961.3 1917.7h0M1915.4 1963.5h0M2037.1 1897.4h0M2052.8 1948.0h0M2086.7 1962.5h0M1922.8 1956.7h0M1996.2 1953.3h0M2053.8 1947.6h0M2104.5 1961.7h0M1953.6 1940.2h0M1991.6 1877.4h0M2109.8 1957.7h0M1962.7 1877.8h0M2026.3 1851.8h0M2098.4 1915.8h0M2035.0 1936.8h0M2112.4 1957.0h0M2059.3 1873.6h0M2036.4 1887.8h0M1965.9 1920.3h0M2038.4 1860.5h0M2110.0 1949.5h0M2039.6 1943.5h0M1959.6 1944.2h0M2012.6 1928.4h0M1982.3 1870.3h0M2113.6 1938.2h0M2013.5 1941.0h0M2021.9 1805.7h0M2095.3 1952.0h0M1906.0 1950.9h0M2004.4 1882.7h0M2067.5 1941.0h0M2025.7 1847.7h0M2072.4 1935.1h0M2016.9 1854.8h0M2078.4 1937.1h0M2000.3 1851.5h0M2004.3 1830.3h0M2084.1 1924.0h0M2048.0 1948.5h0M2052.9 1905.4h0M2095.8 1954.3h0M2068.8 1945.8h0M2017.4 1845.0h0M1948.9 1958.3h0M2107.3 1953.9h0M2069.2 1909.4h0M1928.6 1922.0h0M1976.9 1903.7h0M2009.3 1818.2h0M2082.8 1962.6h0M2012.8 1823.0h0M2021.4 1961.0h0M1950.5 1915.0h0M1917.7 1936.6h0M1979.3 1931.8h0M2021.1 1910.1h0M1925.7 1943.4h0M2098.1 1950.6h0M2022.8 1881.4h0M2048.2 1918.8h0M1973.6 1909.3h0M2059.4 1883.7h0M2015.3 1943.8h0M2016.3 1887.2h0M2050.4 1854.7h0M1952.3 1949.3h0M1930.1 1944.0h0M1983.1 1941.8h0M1927.4 1945.0h0M2077.5 1915.1h0M2017.8 1861.2h0M2091.6 1957.8h0M2044.9 1953.7h0M1977.5 1935.8h0M2028.0 1858.5h0M1959.3 1909.7h0M1965.8 1931.0h0M1996.2 1872.3h0M2031.2 1835.6h0M1908.3 1949.5h0M2087.4 1961.2h0M1980.7 1955.9h0M1944.3 1915.2h0M1932.3 1927.9h0M2035.7 1868.8h0M1980.5 1943.6h0M2038.7 1874.2h0M1942.8 1915.5h0M2002.0 1828.7h0M1943.3 1923.3h0M2040.0 1931.4h0M2019.5 1940.0h0M1953.0 1906.1h0M1993.6 1961.9h0M2094.3 1958.8h0M1975.8 1936.4h0M1982.6 1946.8h0M2114.1 1950.5h0M2020.7 1915.3h0M2091.6 1957.3h0M1938.8 1915.0h0M1906.8 1963.6h0M1993.4 1921.9h0M1922.0 1964.2h0M2083.6 1885.6h0M1984.4 1901.5h0M2089.4 1911.4h0M2005.0 1947.2h0M1964.6 1964.3h0M2070.7 1890.2h0M1970.2 1871.3h0M1966.0 1890.5h0M2088.5 1905.4h0M1985.6 1946.2h0M2035.6 1918.7h0M1984.0 1917.7h0M2101.5 1953.2h0M2132.4 1957.0h0M2115.9 1950.4h0M1971.2 1887.7h0M2054.7 1854.1h0M2010.7 1806.3h0" fill="none" stroke="#4a5fd0" stroke-width="4.8" stroke-linecap="round" stroke-opacity=".62"/><path d="M2046.2 1840.4h0M1959.3 1932.4h0M1947.3 1963.7h0M1950.9 1935.0h0M2071.9 1931.7h0M2081.2 1950.9h0M1978.8 1927.0h0M1957.7 1956.2h0M2089.8 1903.5h0M1923.6 1941.3h0M2043.1 1962.9h0M1978.4 1884.3h0M2033.8 1959.5h0M2086.5 1933.6h0M2009.9 1826.8h0M1979.9 1909.9h0M1990.8 1913.0h0M2020.0 1835.3h0M2038.9 1897.7h0M2026.1 1877.2h0M2034.6 1903.5h0M1935.0 1931.1h0M1979.4 1895.7h0M2081.1 1930.3h0M2006.1 1853.6h0M1976.7 1885.7h0M1987.5 1936.4h0M2015.8 1818.3h0M2083.7 1951.5h0M1959.5 1885.8h0M2065.2 1876.5h0M2035.8 1901.0h0M1975.7 1912.8h0M2122.7 1959.7h0M2022.3 1861.5h0M2040.6 1861.1h0M1999.5 1937.4h0M1984.3 1845.9h0M2108.1 1958.3h0M1997.2 1835.5h0M1977.3 1884.3h0M2024.6 1943.8h0M2014.2 1866.3h0M1991.1 1847.0h0M1972.9 1889.1h0M2027.5 1874.2h0M2003.6 1937.1h0M2081.2 1894.1h0M1971.5 1921.3h0M2012.4 1826.1h0M2039.1 1895.9h0M2017.4 1927.8h0M2073.0 1931.1h0M2091.2 1896.7h0M2039.7 1895.2h0M2020.6 1804.2h0M2014.1 1879.8h0M2008.1 1913.2h0M2053.5 1871.7h0M2070.7 1892.3h0M2097.2 1951.2h0M2090.7 1953.7h0M2065.3 1928.1h0M2036.7 1887.4h0M2021.7 1944.8h0M2039.6 1925.9h0M1947.2 1937.5h0M2121.5 1958.7h0M1950.9 1956.8h0M2012.7 1820.8h0M2001.9 1844.8h0M2031.0 1881.6h0M1989.9 1964.0h0M1945.9 1952.5h0M2077.9 1899.7h0M1956.6 1919.7h0M2005.2 1948.1h0M1994.5 1891.3h0M2005.6 1914.6h0M2128.4 1944.7h0M2014.1 1808.9h0M2075.1 1932.2h0M2113.9 1952.7h0M2065.6 1935.4h0M2023.0 1875.8h0M2057.4 1890.0h0M1971.4 1922.7h0M1960.9 1941.9h0M2067.6 1895.1h0M1949.7 1924.7h0M2073.4 1877.3h0M1997.4 1895.3h0M2014.8 1820.6h0M1970.1 1934.5h0M1991.0 1880.3h0M2006.3 1915.4h0M2057.4 1890.0h0M2036.1 1832.6h0M1939.6 1906.3h0M2072.6 1923.4h0M1987.6 1922.9h0M1960.4 1906.9h0M2096.9 1928.3h0M1936.3 1937.5h0M1995.1 1836.3h0M2051.8 1956.4h0M2106.2 1955.7h0M2083.6 1886.4h0M1976.5 1908.9h0M2052.5 1910.7h0M2027.1 1944.3h0M2080.3 1951.3h0M2051.2 1950.9h0M2120.0 1960.0h0M1969.7 1878.8h0M1968.2 1897.8h0M2029.8 1928.4h0M1990.9 1944.7h0M2005.1 1871.1h0M2036.4 1909.4h0M1992.9 1922.5h0M1953.8 1933.8h0M2048.7 1872.8h0M2048.8 1925.1h0M2003.8 1843.6h0M2012.2 1872.8h0M2058.1 1932.6h0M1959.3 1941.9h0M2042.9 1875.2h0M2032.4 1829.9h0M1999.3 1833.4h0M2083.9 1958.9h0M2048.2 1956.8h0M1990.0 1846.8h0M1905.1 1955.8h0M2015.2 1819.3h0M2101.9 1923.6h0M1915.8 1953.0h0M2013.0 1964.1h0M2051.6 1880.6h0M2109.2 1949.7h0M1983.8 1906.2h0M2086.7 1943.5h0M2001.5 1834.8h0M2059.8 1878.1h0M2004.5 1889.5h0M1965.1 1878.7h0M1986.4 1846.1h0M2030.5 1909.5h0M1983.7 1888.2h0M2042.2 1862.9h0M2033.0 1871.4h0M1998.9 1859.3h0M2040.5 1915.8h0M2067.8 1952.0h0M2015.1 1895.7h0M2044.4 1836.9h0M1944.4 1947.8h0M2032.7 1949.1h0M2006.5 1939.8h0M1982.3 1909.7h0M2014.0 1955.4h0M1948.0 1940.0h0M2087.2 1937.8h0M1937.3 1953.6h0M2017.5 1893.9h0M1994.5 1911.8h0M2088.0 1900.3h0M1978.8 1908.6h0M2052.5 1850.4h0M2009.3 1823.3h0M2072.3 1949.1h0M1929.8 1947.4h0M2010.0 1932.8h0M2088.9 1915.4h0M2081.9 1916.3h0M2023.7 1960.0h0M2003.5 1839.3h0M2050.8 1941.2h0M2036.4 1832.5h0M2055.3 1889.7h0M1950.0 1928.4h0M1945.7 1931.7h0M1990.0 1957.6h0M2014.0 1900.8h0M1963.4 1912.9h0M2107.7 1959.5h0M1952.1 1913.6h0M2021.6 1883.2h0M2070.1 1911.9h0M2008.1 1845.3h0M2034.8 1830.6h0M1979.0 1876.2h0M2017.5 1829.1h0M2057.1 1960.1h0M1982.8 1964.0h0M1988.2 1870.2h0M2104.7 1964.7h0M2121.2 1962.2h0M2083.7 1897.5h0M2055.0 1952.8h0M1912.2 1938.2h0M2002.2 1817.9h0M1966.4 1869.8h0M2013.8 1850.1h0M2086.9 1925.8h0M2072.8 1938.4h0M1910.8 1962.1h0M2038.7 1907.7h0M2098.9 1912.9h0M2001.3 1908.3h0M1932.4 1916.1h0M2057.9 1896.9h0M1963.3 1943.3h0M2020.7 1939.6h0M2037.0 1826.7h0M2057.8 1933.6h0M1970.9 1954.5h0M2052.1 1898.3h0M2000.3 1834.7h0M2019.9 1864.7h0M2059.9 1889.2h0M2032.3 1846.1h0M1961.6 1913.1h0M1976.2 1889.5h0M1925.0 1950.0h0M2013.2 1916.9h0M2046.5 1909.6h0M2004.8 1898.2h0M2078.7 1890.9h0M1944.1 1921.3h0M1909.3 1951.3h0M2080.3 1948.7h0M2027.2 1921.7h0M2086.3 1912.8h0M1966.9 1926.2h0M2067.3 1929.2h0M1987.8 1916.0h0M1902.3 1960.2h0M2073.6 1962.3h0M2012.2 1837.0h0M1960.9 1890.1h0M1961.6 1917.6h0M2015.2 1839.3h0M2018.2 1838.3h0M1994.2 1950.9h0M1988.3 1926.3h0M1915.2 1935.3h0M1996.4 1876.3h0M2014.9 1831.7h0M2060.1 1912.3h0M2026.2 1964.0h0M1966.7 1934.8h0M2019.9 1940.5h0M1997.7 1864.7h0M2096.6 1925.6h0M2056.7 1915.3h0M2094.1 1931.2h0M2006.0 1944.0h0M1989.1 1902.7h0M2048.4 1876.0h0M2058.5 1863.1h0M2020.7 1921.0h0M2105.5 1934.3h0M2023.9 1905.4h0M2066.5 1877.9h0M2008.3 1838.3h0M2029.0 1922.9h0M1925.0 1951.2h0M2069.3 1922.3h0M2025.8 1946.8h0M2064.3 1946.5h0M2051.7 1904.8h0M2007.4 1840.5h0M1998.5 1865.2h0M1946.6 1895.2h0M2057.0 1909.8h0M1941.5 1935.4h0M2095.4 1906.0h0M1980.1 1856.6h0M1985.0 1842.5h0M2032.8 1828.6h0M1930.0 1921.5h0M2042.3 1869.3h0M2039.4 1931.6h0M2066.0 1901.3h0M1924.6 1927.0h0M2011.5 1939.9h0M2040.9 1837.1h0M1915.4 1934.1h0M2023.6 1960.5h0M2020.7 1890.5h0M2047.0 1957.1h0M2051.2 1929.2h0M2048.0 1887.4h0M2028.0 1952.9h0M2096.6 1962.9h0M2113.6 1953.0h0M1959.2 1901.0h0M2015.4 1811.5h0" fill="none" stroke="#4a5fd0" stroke-width="4.8" stroke-linecap="round" stroke-opacity=".62"/><path d="M1964.0 1902.4h0M2088.1 1895.4h0M1924.0 1928.1h0M1968.3 1945.3h0M2033.7 1924.9h0M1984.6 1896.3h0M1925.1 1924.2h0M2052.5 1873.3h0M2007.6 1875.2h0M1981.0 1863.2h0M1995.0 1829.7h0M2064.9 1902.9h0M1938.3 1944.9h0M1976.6 1889.1h0M2013.1 1866.7h0M2049.4 1920.9h0M2014.5 1941.4h0M2034.5 1908.9h0M1960.8 1949.9h0M2064.2 1867.4h0M2126.4 1942.5h0M2082.1 1912.4h0M1991.4 1867.1h0M1965.3 1934.4h0M2033.4 1825.5h0M2038.4 1853.5h0M2021.5 1910.0h0M2051.1 1848.1h0M2024.4 1955.1h0M2080.5 1945.5h0M2028.1 1905.3h0M2014.5 1895.3h0M2069.5 1945.6h0M2030.5 1927.5h0M2048.6 1898.8h0M2000.6 1927.7h0M2098.9 1948.0h0M2005.4 1911.8h0M2029.9 1930.6h0M2079.5 1923.5h0M2046.2 1928.4h0M2049.1 1907.0h0M2005.6 1887.8h0M2080.1 1913.5h0M2024.1 1851.5h0M2076.3 1912.9h0M2034.3 1822.0h0M2035.1 1923.7h0M1930.4 1931.4h0M2011.6 1943.4h0M2000.8 1848.8h0M2072.3 1875.1h0M2006.9 1937.7h0M2013.3 1842.2h0M1990.6 1923.1h0M1937.7 1945.1h0M1999.8 1866.6h0M1959.1 1923.6h0M2027.9 1885.3h0M1923.6 1961.9h0M2132.0 1955.7h0M2108.0 1961.9h0M2013.3 1831.2h0M1966.3 1921.8h0M1977.1 1930.7h0M2026.4 1826.9h0M1975.2 1943.5h0M2065.3 1924.5h0M1975.0 1930.9h0M2051.1 1940.2h0M2024.3 1813.6h0M2035.2 1939.9h0M1923.9 1957.8h0M2069.6 1894.6h0M1960.8 1963.0h0M1910.8 1952.8h0M2022.4 1907.2h0M2087.8 1941.0h0M2102.0 1949.6h0M2024.7 1907.4h0M1967.2 1924.7h0M1946.0 1913.2h0M2066.4 1920.7h0M2094.2 1951.1h0M1981.1 1893.7h0M1968.8 1865.6h0M2032.7 1892.6h0M2013.5 1884.1h0M2085.3 1950.6h0M2091.3 1933.1h0M2068.9 1896.9h0M1960.7 1873.5h0M1904.5 1956.2h0M2023.0 1810.0h0M2015.8 1824.6h0M2031.7 1956.3h0M2056.4 1912.9h0M2092.5 1896.9h0M1998.8 1936.1h0M1983.5 1955.8h0M1937.6 1931.5h0M2053.8 1880.3h0M1932.6 1930.2h0M2023.3 1909.0h0M1997.1 1874.4h0M1993.1 1926.0h0M1955.7 1892.7h0M2045.8 1911.0h0M2029.2 1946.8h0M1996.9 1920.1h0M2045.4 1930.5h0M2083.0 1951.6h0M2080.6 1915.7h0M2082.7 1944.0h0M2045.3 1853.2h0M2079.8 1935.1h0M1968.3 1918.9h0M2035.7 1824.6h0M2050.0 1848.9h0M1892.8 1964.9h0M2104.2 1918.7h0M2036.0 1849.4h0M2047.5 1920.9h0M1903.3 1953.7h0M2035.4 1829.4h0M1947.8 1920.7h0M2040.9 1845.5h0M2026.5 1875.3h0M1991.0 1950.0h0M2005.3 1917.6h0M2103.1 1920.5h0M2055.0 1852.5h0M1999.8 1827.7h0M1940.0 1941.1h0M2077.7 1924.3h0M2011.0 1949.5h0M2056.4 1918.1h0M1957.5 1883.8h0M1960.6 1899.3h0M2072.2 1899.7h0M2031.6 1922.3h0M1953.6 1936.3h0M2094.9 1953.5h0M1985.3 1893.7h0M2022.9 1847.6h0M2126.4 1941.9h0M2026.8 1948.3h0M1989.8 1918.1h0M2084.8 1952.0h0M1916.0 1941.3h0M1985.0 1847.7h0M2046.6 1935.4h0M2067.9 1924.6h0M2081.0 1911.3h0M2096.6 1933.2h0M2009.1 1832.8h0M2053.6 1954.4h0M2129.1 1961.2h0M2101.2 1953.6h0M2067.4 1905.5h0M2092.7 1955.7h0M2136.9 1959.0h0M1942.9 1946.7h0M2045.7 1897.7h0M2111.5 1931.8h0M1930.7 1939.1h0M1997.4 1923.6h0M1992.7 1940.3h0M1957.8 1926.3h0M1899.4 1963.4h0M2133.6 1958.5h0M2078.0 1934.4h0M1940.5 1963.5h0M2065.8 1903.8h0M2052.8 1923.4h0M2026.6 1947.4h0M2024.5 1958.3h0M1978.5 1857.9h0M1988.2 1958.7h0M2026.9 1865.3h0M1965.4 1876.1h0M2019.7 1864.3h0M1950.9 1923.2h0M1966.1 1938.0h0M1975.8 1941.1h0M1959.9 1945.9h0M1939.8 1916.6h0M1992.1 1944.5h0M2032.6 1818.3h0M2113.2 1951.6h0M1938.5 1909.3h0M2081.1 1939.3h0M1973.6 1899.9h0M2044.7 1905.2h0M1998.9 1887.9h0M1913.1 1961.0h0M2081.2 1916.6h0M2103.7 1958.7h0M1942.5 1916.2h0M1944.9 1920.4h0M2000.9 1916.3h0M1972.5 1943.3h0M2050.6 1955.4h0M2035.9 1838.6h0M2029.5 1952.7h0M1999.7 1864.0h0M2102.6 1931.8h0M2040.7 1845.5h0M2092.7 1957.6h0M2031.8 1936.9h0M2037.6 1963.1h0M1966.5 1905.4h0M1967.2 1924.9h0M1918.4 1939.0h0M1954.7 1911.3h0M1984.4 1891.0h0M2009.8 1910.2h0M2034.4 1859.8h0M2019.6 1921.9h0M2082.0 1903.0h0M2016.0 1940.1h0M1944.9 1903.8h0M1988.1 1925.3h0M2061.0 1918.8h0M2029.0 1947.9h0M2059.2 1886.5h0M2100.7 1958.7h0M2025.9 1842.9h0M2016.5 1871.7h0M2072.0 1945.5h0M2062.0 1897.2h0M2040.9 1902.1h0M1976.6 1932.1h0M2041.0 1942.7h0M1938.8 1953.7h0M1915.9 1953.3h0M2003.9 1949.8h0M1959.8 1934.6h0M2030.3 1818.4h0M1993.0 1880.5h0M2023.8 1887.3h0M1966.8 1926.4h0M2058.0 1952.2h0M2043.5 1921.5h0M1950.0 1944.6h0M2074.4 1956.6h0M2066.3 1886.0h0M2112.2 1926.7h0M2027.8 1873.4h0M2023.8 1946.7h0M2022.5 1934.4h0M1952.8 1955.8h0M1951.0 1900.6h0M2077.1 1919.5h0M2050.7 1860.5h0M1981.4 1925.3h0M2035.6 1921.4h0M2040.4 1920.1h0M1957.5 1905.8h0M2091.1 1930.1h0M2006.4 1917.3h0M2049.9 1923.1h0M2054.5 1898.6h0M1957.6 1926.4h0M2007.8 1956.6h0M2025.6 1873.7h0M1936.4 1964.9h0M1928.5 1937.1h0M2089.4 1905.5h0M1987.8 1935.9h0M2090.5 1964.9h0M1995.6 1887.7h0M2026.6 1897.1h0M2118.9 1940.7h0M2031.9 1891.5h0M1957.5 1910.6h0M1973.5 1936.0h0M2097.2 1946.6h0M1950.2 1928.7h0M2021.2 1931.6h0M1996.2 1850.3h0M2030.5 1925.7h0M2126.7 1961.9h0M2002.4 1890.1h0M2061.1 1868.4h0M2061.4 1911.4h0M2072.3 1897.7h0M2033.8 1963.8h0M1947.0 1920.1h0M2018.7 1866.0h0M1962.0 1892.8h0M2047.5 1863.7h0M1987.8 1838.0h0M2032.2 1843.3h0M1943.0 1899.7h0M1985.3 1934.6h0M2028.0 1830.2h0M2001.1 1857.2h0M2071.6 1929.6h0M2079.3 1942.0h0" fill="none" stroke="#4a5fd0" stroke-width="4.8" stroke-linecap="round" stroke-opacity=".62"/><circle cx="2017.8" cy="1908.0" r="5.2" fill="#f00" stroke="#000" stroke-width="1.2"/><text x="1821.5" y="1744.4" font-size="16" font-family='"DejaVu Serif", serif' font-weight="bold">(b)</text><text x="2013.3" y="1744.4" font-size="15" text-anchor="middle" font-family='"DejaVu Serif", serif' font-weight="bold">Dirichlet(1, 1, 1)</text><circle cx="2054.0" cy="1772.3" r="2.2" fill="#6b7bd6"/><circle cx="2054.0" cy="1797.4" r="6" fill="#f00" stroke="#000" stroke-width="1.3"/><text x="2085.6" y="1775.8" font-size="15.5" fill="#222" font-family='"DejaVu Serif", serif'>Samples</text><text x="2085.6" y="1800.9" font-size="15.5" fill="#222" font-family='"DejaVu Serif", serif'>Mean</text><text x="1833.6" y="1855.4" font-size="16.2" text-anchor="middle" fill="#111" font-family='"DejaVu Serif", serif'>1.0</text><text x="1834.7" y="1879.8" font-size="16.2" text-anchor="middle" fill="#111" font-family='"DejaVu Serif", serif'>0.8</text><text x="1835.8" y="1904.3" font-size="16.2" text-anchor="middle" fill="#111" font-family='"DejaVu Serif", serif'>0.6</text><text x="1837" y="1928.7" font-size="16.2" text-anchor="middle" fill="#111" font-family='"DejaVu Serif", serif'>0.4</text><text x="1838.1" y="1953.1" font-size="16.2" text-anchor="middle" fill="#111" font-family='"DejaVu Serif", serif'>0.2</text><text x="1839.2" y="1977.6" font-size="16.2" text-anchor="middle" fill="#111" font-family='"DejaVu Serif", serif'>0.0</text><text x="1863.7" y="2015.2" font-size="16.2" text-anchor="middle" fill="#111" font-family='"DejaVu Serif", serif'>0.0</text><text x="2170.8" y="2015.2" font-size="16.2" text-anchor="middle" fill="#111" font-family='"DejaVu Serif", serif'>0.0</text><text x="1889" y="2028.1" font-size="16.2" text-anchor="middle" fill="#111" font-family='"DejaVu Serif", serif'>0.2</text><text x="2145.9" y="2028.1" font-size="16.2" text-anchor="middle" fill="#111" font-family='"DejaVu Serif", serif'>0.2</text><text x="1914.2" y="2040.9" font-size="16.2" text-anchor="middle" fill="#111" font-family='"DejaVu Serif", serif'>0.4</text><text x="2120.9" y="2040.9" font-size="16.2" text-anchor="middle" fill="#111" font-family='"DejaVu Serif", serif'>0.4</text><text x="1939.4" y="2053.7" font-size="16.2" text-anchor="middle" fill="#111" font-family='"DejaVu Serif", serif'>0.6</text><text x="2095.9" y="2053.7" font-size="16.2" text-anchor="middle" fill="#111" font-family='"DejaVu Serif", serif'>0.6</text><text x="1964.7" y="2066.5" font-size="16.2" text-anchor="middle" fill="#111" font-family='"DejaVu Serif", serif'>0.8</text><text x="2070.9" y="2066.5" font-size="16.2" text-anchor="middle" fill="#111" font-family='"DejaVu Serif", serif'>0.8</text><text x="1989.9" y="2079.3" font-size="16.2" text-anchor="middle" fill="#111" font-family='"DejaVu Serif", serif'>1.0</text><text x="2045.9" y="2079.3" font-size="16.2" text-anchor="middle" fill="#111" font-family='"DejaVu Serif", serif'>1.0</text><text x="1896.4" y="2075.6" font-size="12.5" text-anchor="middle" fill="#111" font-family='"DejaVu Serif", serif'>P2</text><text x="2137.7" y="2075.6" font-size="12.5" text-anchor="middle" fill="#111" font-family='"DejaVu Serif", serif'>P1</text><text x="1892.1" y="1908.7" font-size="12.5" text-anchor="middle" fill="#111" font-family='"DejaVu Serif", serif'>P3</text><path d="M2376.2,1887.7 L2520.4,1978.7 M2393.8,1887.7 L2249.8,1978.7 M2350.9,1903.9 L2495.0,1991.3 M2419.2,1903.9 L2275.1,1991.3 M2325.7,1920.1 L2469.8,2003.9 M2444.4,1920.1 L2300.3,2003.9 M2300.3,1936.3 L2444.4,2016.6 M2469.8,1936.3 L2325.7,2016.6 M2275.1,1952.5 L2419.2,2029.2 M2495.0,1952.5 L2350.9,2029.2 M2249.8,1968.7 L2393.8,2041.8 M2520.4,1968.7 L2376.2,2041.8 M2376.2,1887.7 L2375.8,1790.6 M2385.0,1876.3 L2240.6,1965.7 M2350.9,1903.9 L2349.4,1798.6 M2385.0,1859.8 L2239.5,1940.8 M2325.7,1920.1 L2323.1,1806.5 M2385.0,1843.3 L2238.4,1916.1 M2300.3,1936.3 L2296.6,1814.4 M2385.0,1826.7 L2237.3,1891.3 M2275.1,1952.5 L2270.3,1822.4 M2385.0,1810.2 L2236.2,1866.6 M2249.8,1968.7 L2243.9,1830.3 M2385.0,1793.6 L2235.1,1841.7 M2393.8,1887.7 L2394.1,1790.6 M2385.0,1876.3 L2529.6,1965.7 M2419.2,1903.9 L2420.5,1798.6 M2385.0,1859.8 L2530.6,1940.8 M2444.4,1920.1 L2446.8,1806.5 M2385.0,1843.3 L2531.6,1916.1 M2469.8,1936.3 L2473.2,1814.4 M2385.0,1826.7 L2532.6,1891.3 M2495.0,1952.5 L2499.5,1822.4 M2385.0,1810.2 L2533.6,1866.6 M2520.4,1968.7 L2525.9,1830.3 M2385.0,1793.6 L2534.7,1841.7 " fill="none" stroke="#d4d4d4" stroke-width="0.9"/><path d="M2234.7,1833.1 L2385.0,1787.9 L2535.0,1833.1 M2385.0,1787.9 L2385.0,1882.1 M2241.0,1974.3 L2385.0,1882.1 L2529.2,1974.3" fill="none" stroke="#cfcfcf" stroke-width="0.9"/><path d="M2234.7,1833.1 L2241.0,1974.3 L2385.0,2046.2 L2529.2,1974.3" fill="none" stroke="#111" stroke-width="1.3"/><path d="M2240.6,1965.7 l-4,1.2 M2249.8,1978.7 l-3.5,2 M2520.4,1978.7 l3.5,2 M2239.5,1940.8 l-4,1.2 M2275.1,1991.3 l-3.5,2 M2495.0,1991.3 l3.5,2 M2238.4,1916.1 l-4,1.2 M2300.3,2003.9 l-3.5,2 M2469.8,2003.9 l3.5,2 M2237.3,1891.3 l-4,1.2 M2325.7,2016.6 l-3.5,2 M2444.4,2016.6 l3.5,2 M2236.2,1866.6 l-4,1.2 M2350.9,2029.2 l-3.5,2 M2419.2,2029.2 l3.5,2 M2235.1,1841.7 l-4,1.2 M2376.2,2041.8 l-3.5,2 M2393.8,2041.8 l3.5,2 " fill="none" stroke="#111" stroke-width="1.1"/><path d="M2511.1,1965.0 L2258.6,1965.0 L2385.0,1796.6Z" fill="none" stroke="#c0282d" stroke-width="1.5"/><path d="M2356.4 1925.6h0M2382.9 1935.5h0M2361.5 1914.2h0M2423.3 1883.8h0M2406.8 1900.5h0M2339.7 1946.3h0M2416.8 1867.8h0M2405.4 1924.2h0M2371.5 1889.6h0M2408.9 1883.1h0M2400.8 1903.4h0M2380.4 1915.0h0M2352.5 1936.4h0M2427.7 1885.6h0M2364.0 1915.6h0M2424.0 1920.3h0M2376.0 1857.9h0M2392.8 1898.2h0M2403.9 1926.0h0M2391.8 1901.6h0M2375.6 1892.1h0M2343.9 1887.9h0M2408.1 1923.9h0M2365.7 1879.4h0M2397.0 1912.6h0M2370.6 1938.9h0M2372.1 1913.9h0M2364.9 1927.5h0M2409.4 1919.4h0M2372.3 1931.3h0M2421.5 1930.2h0M2432.8 1942.5h0M2374.5 1915.7h0M2400.3 1913.0h0M2419.3 1934.3h0M2406.7 1903.2h0M2318.6 1934.3h0M2385.5 1894.4h0M2351.7 1928.8h0M2405.4 1919.9h0M2409.5 1897.1h0M2393.2 1889.6h0M2392.5 1908.4h0M2384.8 1924.6h0M2412.4 1930.9h0M2384.5 1921.1h0M2373.6 1897.1h0M2400.7 1904.2h0M2404.1 1899.2h0M2398.4 1870.5h0M2371.0 1929.4h0M2349.5 1893.3h0M2417.0 1923.1h0M2406.3 1938.5h0M2374.5 1910.9h0M2409.5 1895.6h0M2359.8 1913.7h0M2390.1 1932.8h0M2369.4 1928.7h0M2387.2 1912.5h0M2371.0 1871.5h0M2384.1 1921.1h0M2411.6 1881.9h0M2372.0 1898.7h0M2336.6 1918.6h0M2421.4 1888.2h0M2338.8 1935.4h0M2385.6 1883.0h0M2372.9 1881.8h0M2358.7 1918.2h0M2401.8 1897.3h0M2362.4 1888.4h0M2369.0 1896.1h0M2350.1 1923.9h0M2375.2 1889.5h0M2392.9 1883.2h0M2401.5 1895.8h0M2370.9 1922.2h0M2350.8 1905.0h0M2353.0 1902.8h0M2435.2 1912.2h0M2402.3 1940.3h0M2387.6 1919.4h0M2384.5 1892.7h0M2407.7 1915.2h0M2400.6 1916.6h0M2384.4 1899.8h0M2333.5 1935.1h0M2430.2 1912.2h0M2375.5 1905.9h0M2392.4 1929.5h0M2356.1 1933.7h0M2408.1 1909.0h0M2368.1 1872.3h0M2390.9 1901.6h0M2397.2 1847.1h0M2348.0 1931.0h0M2371.1 1906.0h0M2378.0 1873.3h0M2380.5 1879.2h0M2413.5 1925.7h0M2396.7 1908.7h0M2344.9 1912.7h0M2379.7 1876.4h0M2397.4 1911.0h0M2361.8 1902.3h0M2347.9 1920.6h0M2377.0 1862.0h0M2344.3 1929.0h0M2394.3 1862.1h0M2353.2 1911.6h0M2391.1 1916.9h0M2382.8 1923.6h0M2379.5 1877.4h0M2406.2 1930.1h0M2414.0 1880.0h0M2364.3 1888.0h0M2400.9 1899.4h0M2398.5 1943.6h0M2342.3 1920.3h0M2348.9 1892.3h0M2422.9 1933.0h0M2347.3 1898.2h0M2411.5 1914.4h0M2396.3 1871.5h0M2389.0 1896.2h0M2357.8 1894.3h0M2429.2 1916.4h0M2420.0 1885.0h0M2380.8 1892.9h0M2374.8 1913.0h0M2365.5 1943.6h0M2398.3 1917.1h0M2408.9 1897.3h0M2384.3 1902.1h0M2348.6 1930.6h0M2427.4 1923.5h0M2355.0 1935.5h0M2388.8 1894.2h0M2372.3 1900.3h0M2374.6 1911.5h0M2417.1 1921.2h0M2377.5 1894.8h0M2352.2 1923.0h0M2388.0 1890.1h0M2385.4 1887.7h0M2371.1 1907.6h0M2373.4 1869.6h0M2420.4 1887.0h0M2435.3 1925.6h0M2410.8 1930.3h0M2381.4 1904.7h0M2413.7 1945.3h0M2413.6 1884.2h0M2430.9 1905.3h0M2393.9 1940.1h0M2323.4 1920.2h0M2434.3 1917.7h0M2418.0 1875.2h0M2393.0 1894.4h0M2431.0 1935.2h0M2372.7 1937.5h0M2422.8 1896.4h0M2403.4 1904.6h0M2389.1 1916.2h0M2399.0 1929.5h0M2417.1 1895.9h0M2298.2 1933.1h0M2393.4 1912.4h0M2390.3 1932.5h0M2390.5 1906.4h0M2376.2 1900.7h0M2383.8 1900.1h0M2388.6 1918.5h0M2421.7 1916.3h0M2374.8 1887.2h0M2366.6 1923.8h0M2376.3 1908.5h0M2396.5 1902.3h0M2385.2 1919.6h0M2377.2 1902.6h0M2383.8 1921.9h0M2375.7 1925.9h0M2401.8 1910.2h0M2430.2 1922.7h0M2342.4 1930.7h0M2409.9 1900.8h0M2372.7 1888.4h0M2401.1 1886.9h0M2370.3 1942.3h0M2398.6 1912.9h0M2373.8 1888.1h0M2330.6 1930.5h0M2362.0 1911.9h0M2387.2 1903.5h0M2379.1 1882.2h0M2391.0 1898.9h0M2360.7 1918.8h0M2410.7 1875.7h0M2397.8 1911.3h0M2382.3 1920.0h0M2425.9 1897.8h0M2380.3 1871.7h0M2334.4 1892.5h0M2396.6 1901.7h0M2373.0 1914.7h0M2415.0 1924.7h0M2389.9 1920.4h0M2353.0 1921.9h0M2362.0 1912.2h0M2379.3 1926.2h0M2373.1 1902.6h0M2393.0 1911.1h0M2442.6 1917.9h0M2359.3 1915.0h0M2434.0 1913.1h0M2392.5 1883.2h0M2340.7 1899.1h0M2385.1 1926.4h0M2358.3 1930.4h0M2394.8 1920.0h0M2390.5 1927.9h0M2408.3 1920.0h0M2393.3 1890.5h0M2394.8 1922.0h0M2424.6 1926.8h0M2369.6 1907.8h0M2359.4 1933.2h0M2412.9 1915.5h0M2376.1 1869.3h0M2375.8 1938.8h0M2374.3 1873.7h0M2391.4 1910.8h0M2387.1 1921.4h0M2402.6 1876.1h0M2396.5 1881.6h0M2343.6 1910.0h0M2347.8 1937.1h0M2403.5 1926.9h0M2409.9 1847.7h0M2361.9 1907.6h0M2346.4 1918.5h0M2362.7 1897.3h0M2420.6 1902.7h0M2362.2 1940.2h0M2368.0 1869.8h0M2393.2 1879.4h0M2316.2 1942.0h0M2362.0 1870.0h0M2387.6 1892.7h0M2367.5 1912.5h0M2429.7 1904.9h0M2359.4 1916.0h0M2376.8 1862.3h0M2371.1 1903.6h0M2333.1 1936.6h0M2376.3 1905.9h0M2379.3 1865.4h0M2384.8 1887.4h0M2365.5 1925.7h0M2404.1 1942.7h0M2406.8 1903.0h0M2401.2 1897.9h0M2374.7 1935.6h0M2404.5 1911.9h0M2393.1 1931.5h0M2381.2 1904.8h0" fill="none" stroke="#4a5fd0" stroke-width="4.8" stroke-linecap="round" stroke-opacity=".62"/><path d="M2349.3 1906.5h0M2380.2 1916.8h0M2360.7 1927.4h0M2394.8 1883.3h0M2386.1 1920.7h0M2369.8 1920.9h0M2363.7 1919.1h0M2356.4 1926.9h0M2393.5 1920.1h0M2385.0 1884.3h0M2423.6 1899.6h0M2408.5 1899.6h0M2404.8 1945.9h0M2394.8 1919.8h0M2383.9 1940.4h0M2391.6 1906.2h0M2381.4 1943.1h0M2403.0 1910.6h0M2336.2 1915.1h0M2399.2 1912.1h0M2375.7 1888.6h0M2393.1 1895.0h0M2388.8 1893.4h0M2362.2 1890.3h0M2339.4 1892.0h0M2378.2 1921.5h0M2403.3 1931.3h0M2400.7 1915.8h0M2376.0 1918.6h0M2349.9 1898.1h0M2356.7 1904.6h0M2424.9 1928.1h0M2384.0 1914.8h0M2335.9 1912.1h0M2418.1 1925.1h0M2357.9 1899.9h0M2385.4 1910.4h0M2359.6 1893.3h0M2392.3 1881.7h0M2366.5 1881.9h0M2353.1 1903.9h0M2395.4 1935.6h0M2371.3 1893.1h0M2402.5 1891.8h0M2363.5 1892.5h0M2402.2 1917.4h0M2366.8 1909.2h0M2369.1 1905.0h0M2360.0 1912.2h0M2386.7 1892.8h0M2366.1 1930.9h0M2369.8 1916.8h0M2391.8 1884.6h0M2385.4 1922.7h0M2382.8 1896.7h0M2370.4 1927.1h0M2380.8 1928.7h0M2397.3 1912.8h0M2360.6 1901.0h0M2377.6 1863.8h0M2347.8 1940.4h0M2353.9 1930.9h0M2388.6 1898.2h0M2393.4 1934.6h0M2389.2 1905.0h0M2413.6 1895.8h0M2409.4 1926.7h0M2399.0 1895.0h0M2406.6 1919.2h0M2344.1 1909.0h0M2403.1 1928.8h0M2366.9 1870.2h0M2393.6 1874.7h0M2347.6 1912.7h0M2349.9 1942.1h0M2366.1 1906.0h0M2374.8 1883.6h0M2403.3 1927.6h0M2366.1 1918.4h0M2332.6 1916.0h0M2412.6 1947.2h0M2378.8 1904.3h0M2446.2 1917.7h0M2349.9 1920.5h0M2383.6 1918.3h0M2355.7 1896.5h0M2442.8 1926.9h0M2427.7 1924.4h0M2355.1 1925.4h0M2384.9 1924.5h0M2358.9 1921.0h0M2369.2 1900.8h0M2387.6 1887.2h0M2391.6 1887.5h0M2363.2 1929.8h0M2401.8 1931.2h0M2325.1 1916.6h0M2372.4 1901.8h0M2383.0 1932.2h0M2365.3 1897.1h0M2416.4 1924.3h0M2358.8 1901.3h0M2414.0 1939.9h0M2404.4 1910.2h0M2356.3 1899.7h0M2342.0 1934.2h0M2375.2 1878.3h0M2370.7 1868.5h0M2439.1 1928.5h0M2388.7 1940.4h0M2434.2 1903.7h0M2354.3 1925.4h0M2390.7 1905.3h0M2411.5 1918.1h0M2400.4 1887.8h0M2348.4 1895.7h0M2329.5 1944.6h0M2333.0 1911.4h0M2384.8 1928.2h0M2376.5 1926.9h0M2410.8 1886.4h0M2390.5 1920.9h0M2365.9 1920.0h0M2380.7 1892.7h0M2361.2 1890.8h0M2416.6 1920.3h0M2395.9 1891.2h0M2421.0 1909.4h0M2396.5 1906.9h0M2401.0 1916.6h0M2401.4 1881.3h0M2354.5 1888.8h0M2386.9 1929.1h0M2381.8 1884.6h0M2416.7 1936.1h0M2400.1 1923.7h0M2444.9 1914.9h0M2440.4 1921.3h0M2357.6 1901.5h0M2346.2 1901.0h0M2418.3 1880.7h0M2357.4 1926.8h0M2400.3 1875.9h0M2414.8 1884.3h0M2381.4 1924.4h0M2398.5 1892.4h0M2431.1 1904.4h0M2399.3 1922.4h0M2346.7 1917.8h0M2422.4 1909.2h0M2397.9 1906.3h0M2394.3 1944.2h0M2366.4 1945.4h0M2383.4 1884.8h0M2370.9 1860.6h0M2362.8 1901.4h0M2394.5 1889.5h0M2321.0 1943.4h0M2330.1 1912.3h0M2363.8 1889.6h0M2394.4 1921.5h0M2388.1 1912.6h0M2356.0 1914.0h0M2440.2 1939.0h0M2402.8 1892.3h0M2365.1 1901.7h0M2347.9 1930.2h0M2380.5 1917.1h0M2412.1 1894.7h0M2420.5 1895.2h0M2316.8 1924.5h0M2399.9 1914.7h0M2371.8 1909.3h0M2412.6 1919.9h0M2342.3 1901.7h0M2389.3 1928.3h0M2378.3 1897.6h0M2389.5 1881.5h0M2355.9 1900.6h0M2386.1 1910.7h0M2389.8 1902.9h0M2360.6 1924.9h0M2409.4 1892.6h0M2383.9 1936.9h0M2338.6 1919.8h0M2353.9 1936.0h0M2417.3 1901.7h0M2401.7 1898.2h0M2380.4 1916.6h0M2378.3 1891.4h0M2427.8 1899.3h0M2382.6 1879.1h0M2373.4 1889.5h0M2353.4 1910.8h0M2359.0 1933.0h0M2404.8 1938.8h0M2365.1 1923.7h0M2357.7 1869.2h0M2371.7 1874.4h0M2385.6 1904.5h0M2384.1 1923.1h0M2405.2 1899.8h0M2419.8 1894.9h0M2396.1 1905.3h0M2332.2 1923.1h0M2344.4 1919.2h0M2402.0 1914.0h0M2388.7 1913.9h0M2353.7 1921.7h0M2379.5 1938.5h0M2400.5 1923.9h0M2391.2 1897.4h0M2369.5 1872.4h0M2363.7 1877.8h0M2413.6 1890.2h0M2401.4 1945.6h0M2370.7 1873.9h0M2369.7 1902.7h0M2363.9 1883.2h0M2363.3 1920.4h0M2378.1 1893.7h0M2363.1 1917.0h0M2354.4 1916.5h0M2367.8 1876.6h0M2386.3 1886.7h0M2445.3 1929.9h0M2399.6 1901.2h0M2365.4 1895.1h0M2339.2 1905.3h0M2364.7 1923.5h0M2372.4 1927.0h0M2316.9 1917.5h0M2335.0 1907.4h0M2346.2 1921.7h0M2448.2 1907.3h0M2354.6 1892.2h0M2412.9 1916.4h0M2404.8 1881.5h0M2375.3 1896.9h0M2384.4 1895.2h0M2353.2 1899.4h0M2389.1 1915.7h0M2378.2 1897.9h0M2384.0 1930.1h0M2385.7 1909.6h0M2389.8 1908.1h0M2371.5 1903.5h0M2410.0 1899.2h0M2418.0 1878.0h0M2402.3 1916.8h0M2398.0 1919.2h0M2372.4 1907.6h0M2331.9 1927.3h0M2355.7 1902.8h0M2405.4 1920.5h0M2396.0 1891.3h0M2348.7 1914.9h0M2407.8 1920.2h0M2352.6 1907.6h0M2420.4 1883.1h0M2400.6 1898.9h0M2408.4 1917.0h0M2367.1 1923.2h0M2361.4 1869.4h0M2409.1 1951.8h0M2416.5 1901.8h0M2379.2 1891.4h0" fill="none" stroke="#4a5fd0" stroke-width="4.8" stroke-linecap="round" stroke-opacity=".62"/><path d="M2344.0 1934.1h0M2353.0 1913.3h0M2388.7 1923.2h0M2371.8 1919.9h0M2390.1 1874.3h0M2377.7 1904.6h0M2410.8 1911.4h0M2340.4 1945.7h0M2394.1 1916.6h0M2399.5 1892.6h0M2344.5 1917.5h0M2359.0 1923.1h0M2414.6 1900.3h0M2358.6 1894.3h0M2360.6 1918.3h0M2392.0 1895.5h0M2368.5 1907.1h0M2417.6 1917.8h0M2378.8 1883.1h0M2348.3 1896.5h0M2403.0 1904.1h0M2370.1 1900.6h0M2377.0 1873.3h0M2389.0 1917.1h0M2349.0 1925.1h0M2402.9 1906.3h0M2419.7 1908.9h0M2384.7 1884.4h0M2389.5 1902.1h0M2342.3 1922.7h0M2459.9 1934.1h0M2404.5 1896.1h0M2407.5 1906.3h0M2414.2 1933.4h0M2381.0 1919.0h0M2386.4 1899.1h0M2346.6 1933.0h0M2395.6 1928.2h0M2369.9 1945.6h0M2406.0 1936.3h0M2400.4 1906.2h0M2388.2 1913.2h0M2384.2 1896.6h0M2403.5 1936.3h0M2347.5 1907.6h0M2346.5 1913.1h0M2458.3 1937.2h0M2366.4 1929.3h0M2393.0 1891.6h0M2395.8 1902.5h0M2402.6 1918.4h0M2423.0 1915.6h0M2402.0 1921.1h0M2425.7 1869.2h0M2358.0 1893.8h0M2400.0 1904.3h0M2378.0 1859.2h0M2400.8 1899.5h0M2405.8 1899.0h0M2362.0 1881.0h0M2408.1 1929.6h0M2395.6 1909.0h0M2369.4 1929.9h0M2403.2 1923.4h0M2411.0 1920.8h0M2375.4 1901.9h0M2395.1 1921.8h0M2380.1 1933.8h0M2371.7 1937.8h0M2383.6 1895.2h0M2396.8 1893.2h0M2345.3 1899.1h0M2377.9 1924.8h0M2448.8 1923.5h0M2372.4 1903.5h0M2339.3 1920.4h0M2350.6 1927.9h0M2368.1 1890.0h0M2393.0 1907.5h0M2417.8 1915.3h0M2356.6 1922.7h0M2403.3 1916.9h0M2383.1 1939.6h0M2408.8 1928.0h0M2433.1 1928.9h0M2413.9 1901.9h0M2383.7 1912.4h0M2369.8 1881.8h0M2403.1 1877.6h0M2353.0 1915.5h0M2352.0 1927.2h0M2392.2 1894.2h0M2426.7 1919.8h0M2365.9 1891.6h0M2383.6 1903.0h0M2372.8 1938.8h0M2359.5 1895.4h0M2380.3 1898.3h0M2375.2 1897.7h0M2382.9 1894.4h0M2392.7 1860.0h0M2338.8 1901.0h0M2410.3 1921.2h0M2393.3 1916.6h0M2389.0 1914.5h0M2398.5 1922.2h0M2408.7 1864.7h0M2353.3 1895.8h0M2390.9 1934.3h0M2406.4 1905.6h0M2427.3 1920.2h0M2416.1 1925.0h0M2400.2 1929.3h0M2409.8 1928.7h0M2431.1 1912.2h0M2356.2 1925.4h0M2374.3 1918.8h0M2360.8 1869.9h0M2394.5 1898.8h0M2381.3 1903.8h0M2395.4 1944.8h0M2395.3 1872.3h0M2375.4 1910.7h0M2361.5 1869.1h0M2368.3 1893.1h0M2365.0 1878.1h0M2409.6 1906.8h0M2363.5 1930.4h0M2388.5 1903.7h0M2373.7 1936.2h0M2354.6 1915.2h0M2378.1 1885.2h0M2448.2 1917.2h0M2444.4 1942.5h0M2383.8 1908.0h0M2404.3 1922.3h0M2407.0 1914.3h0M2393.5 1870.5h0M2381.6 1942.4h0M2380.4 1928.9h0M2379.5 1917.3h0M2329.1 1931.8h0M2367.4 1901.0h0M2433.3 1918.5h0M2381.1 1857.8h0M2420.5 1930.0h0M2401.9 1922.2h0M2399.8 1885.3h0M2387.1 1909.7h0M2371.6 1910.1h0M2398.5 1871.0h0M2377.4 1846.5h0M2391.5 1898.0h0M2378.8 1884.6h0M2357.4 1925.8h0M2420.6 1917.9h0M2389.2 1933.9h0M2393.6 1922.1h0M2425.5 1918.5h0M2381.7 1896.8h0M2420.4 1889.2h0M2400.7 1863.2h0M2346.3 1905.4h0M2388.6 1911.2h0M2377.6 1878.1h0M2392.9 1936.4h0M2417.4 1925.1h0M2393.3 1947.4h0M2348.9 1925.0h0M2374.9 1864.5h0M2381.3 1887.2h0M2377.2 1905.7h0M2345.1 1923.8h0M2368.3 1892.4h0M2375.2 1860.3h0M2360.4 1876.3h0M2397.4 1887.0h0M2364.0 1914.1h0M2324.8 1949.1h0M2360.0 1942.8h0M2413.3 1898.2h0M2423.8 1918.6h0M2411.0 1853.5h0M2388.6 1925.5h0M2394.5 1922.6h0M2427.3 1903.9h0M2402.8 1905.4h0M2365.1 1903.7h0M2367.4 1920.7h0M2409.9 1888.2h0M2387.3 1890.7h0M2418.5 1928.9h0M2362.1 1941.0h0M2373.9 1925.2h0M2353.8 1909.8h0M2360.4 1901.9h0M2442.8 1923.6h0M2403.8 1915.2h0M2373.3 1933.8h0M2369.0 1931.0h0M2394.7 1887.1h0M2376.8 1919.1h0M2374.1 1929.4h0M2374.8 1898.2h0M2400.8 1910.1h0M2355.6 1936.9h0M2407.8 1881.6h0M2404.1 1936.5h0M2407.4 1921.3h0M2389.8 1946.1h0M2388.0 1880.4h0M2421.1 1910.3h0M2400.9 1897.5h0M2408.3 1923.3h0M2407.9 1909.6h0M2424.0 1906.7h0M2371.2 1895.1h0M2409.8 1885.3h0M2394.6 1922.4h0M2342.6 1886.6h0M2366.3 1902.8h0M2389.0 1941.4h0M2423.3 1909.5h0M2387.9 1918.2h0M2413.3 1936.6h0M2411.1 1942.0h0M2428.3 1920.5h0M2400.8 1900.0h0M2405.8 1895.9h0M2394.8 1913.6h0M2400.6 1904.0h0M2409.3 1932.2h0M2408.4 1891.9h0M2401.0 1924.9h0M2384.7 1886.8h0M2419.7 1926.3h0M2398.3 1911.8h0M2403.6 1908.8h0M2365.0 1902.3h0M2396.1 1906.4h0M2415.3 1907.0h0M2407.9 1903.7h0M2350.6 1913.1h0M2360.1 1931.2h0M2402.5 1898.6h0M2398.8 1899.2h0M2370.2 1892.7h0M2370.1 1904.0h0M2348.1 1901.4h0M2379.3 1892.0h0M2406.9 1890.4h0M2356.8 1859.2h0M2403.2 1891.8h0M2354.9 1909.6h0M2411.8 1938.3h0M2429.5 1905.5h0M2321.5 1927.6h0M2407.2 1936.3h0M2403.5 1914.0h0M2401.6 1934.4h0M2314.4 1946.3h0M2363.7 1892.0h0M2413.0 1911.5h0M2394.8 1873.9h0M2426.0 1912.1h0M2360.6 1911.5h0" fill="none" stroke="#4a5fd0" stroke-width="4.8" stroke-linecap="round" stroke-opacity=".62"/><text x="2188.7" y="1744.4" font-size="16" font-family='"DejaVu Serif", serif' font-weight="bold">(c)</text><text x="2380.5" y="1744.4" font-size="15" text-anchor="middle" font-family='"DejaVu Serif", serif' font-weight="bold">Dirichlet(5, 5, 5)</text><circle cx="2421.2" cy="1772.3" r="2.2" fill="#6b7bd6"/><circle cx="2421.2" cy="1797.4" r="6" fill="#f00" stroke="#000" stroke-width="1.3"/><text x="2452.8" y="1775.8" font-size="15.5" fill="#222" font-family='"DejaVu Serif", serif'>Samples</text><text x="2452.8" y="1800.9" font-size="15.5" fill="#222" font-family='"DejaVu Serif", serif'>Mean</text><text x="2200.8" y="1855.4" font-size="16.2" text-anchor="middle" fill="#111" font-family='"DejaVu Serif", serif'>1.0</text><text x="2201.9" y="1879.8" font-size="16.2" text-anchor="middle" fill="#111" font-family='"DejaVu Serif", serif'>0.8</text><text x="2203" y="1904.3" font-size="16.2" text-anchor="middle" fill="#111" font-family='"DejaVu Serif", serif'>0.6</text><text x="2204.2" y="1928.7" font-size="16.2" text-anchor="middle" fill="#111" font-family='"DejaVu Serif", serif'>0.4</text><text x="2205.3" y="1953.1" font-size="16.2" text-anchor="middle" fill="#111" font-family='"DejaVu Serif", serif'>0.2</text><text x="2206.4" y="1977.6" font-size="16.2" text-anchor="middle" fill="#111" font-family='"DejaVu Serif", serif'>0.0</text><text x="2230.9" y="2015.2" font-size="16.2" text-anchor="middle" fill="#111" font-family='"DejaVu Serif", serif'>0.0</text><text x="2538" y="2015.2" font-size="16.2" text-anchor="middle" fill="#111" font-family='"DejaVu Serif", serif'>0.0</text><text x="2256.2" y="2028.1" font-size="16.2" text-anchor="middle" fill="#111" font-family='"DejaVu Serif", serif'>0.2</text><text x="2513.1" y="2028.1" font-size="16.2" text-anchor="middle" fill="#111" font-family='"DejaVu Serif", serif'>0.2</text><text x="2281.4" y="2040.9" font-size="16.2" text-anchor="middle" fill="#111" font-family='"DejaVu Serif", serif'>0.4</text><text x="2488.1" y="2040.9" font-size="16.2" text-anchor="middle" fill="#111" font-family='"DejaVu Serif", serif'>0.4</text><text x="2306.6" y="2053.7" font-size="16.2" text-anchor="middle" fill="#111" font-family='"DejaVu Serif", serif'>0.6</text><text x="2463.1" y="2053.7" font-size="16.2" text-anchor="middle" fill="#111" font-family='"DejaVu Serif", serif'>0.6</text><text x="2331.9" y="2066.5" font-size="16.2" text-anchor="middle" fill="#111" font-family='"DejaVu Serif", serif'>0.8</text><text x="2438.1" y="2066.5" font-size="16.2" text-anchor="middle" fill="#111" font-family='"DejaVu Serif", serif'>0.8</text><text x="2357.1" y="2079.3" font-size="16.2" text-anchor="middle" fill="#111" font-family='"DejaVu Serif", serif'>1.0</text><text x="2413.1" y="2079.3" font-size="16.2" text-anchor="middle" fill="#111" font-family='"DejaVu Serif", serif'>1.0</text><text x="2263.6" y="2075.6" font-size="12.5" text-anchor="middle" fill="#111" font-family='"DejaVu Serif", serif'>P2</text><text x="2504.9" y="2075.6" font-size="12.5" text-anchor="middle" fill="#111" font-family='"DejaVu Serif", serif'>P1</text><text x="2259.3" y="1908.7" font-size="12.5" text-anchor="middle" fill="#111" font-family='"DejaVu Serif", serif'>P3</text><path d="M2743.4,1887.7 L2887.6,1978.7 M2761.0,1887.7 L2617.0,1978.7 M2718.1,1903.9 L2862.2,1991.3 M2786.4,1903.9 L2642.3,1991.3 M2692.9,1920.1 L2837.0,2003.9 M2811.6,1920.1 L2667.5,2003.9 M2667.5,1936.3 L2811.6,2016.6 M2837.0,1936.3 L2692.9,2016.6 M2642.3,1952.5 L2786.4,2029.2 M2862.2,1952.5 L2718.1,2029.2 M2617.0,1968.7 L2761.0,2041.8 M2887.6,1968.7 L2743.4,2041.8 M2743.4,1887.7 L2743.0,1790.6 M2752.2,1876.3 L2607.8,1965.7 M2718.1,1903.9 L2716.6,1798.6 M2752.2,1859.8 L2606.7,1940.8 M2692.9,1920.1 L2690.3,1806.5 M2752.2,1843.3 L2605.6,1916.1 M2667.5,1936.3 L2663.8,1814.4 M2752.2,1826.7 L2604.5,1891.3 M2642.3,1952.5 L2637.5,1822.4 M2752.2,1810.2 L2603.4,1866.6 M2617.0,1968.7 L2611.1,1830.3 M2752.2,1793.6 L2602.3,1841.7 M2761.0,1887.7 L2761.3,1790.6 M2752.2,1876.3 L2896.8,1965.7 M2786.4,1903.9 L2787.7,1798.6 M2752.2,1859.8 L2897.8,1940.8 M2811.6,1920.1 L2814.0,1806.5 M2752.2,1843.3 L2898.8,1916.1 M2837.0,1936.3 L2840.4,1814.4 M2752.2,1826.7 L2899.8,1891.3 M2862.2,1952.5 L2866.7,1822.4 M2752.2,1810.2 L2900.8,1866.6 M2887.6,1968.7 L2893.1,1830.3 M2752.2,1793.6 L2901.9,1841.7 " fill="none" stroke="#d4d4d4" stroke-width="0.9"/><path d="M2601.9,1833.1 L2752.2,1787.9 L2902.2,1833.1 M2752.2,1787.9 L2752.2,1882.1 M2608.2,1974.3 L2752.2,1882.1 L2896.4,1974.3" fill="none" stroke="#cfcfcf" stroke-width="0.9"/><path d="M2601.9,1833.1 L2608.2,1974.3 L2752.2,2046.2 L2896.4,1974.3" fill="none" stroke="#111" stroke-width="1.3"/><path d="M2607.8,1965.7 l-4,1.2 M2617.0,1978.7 l-3.5,2 M2887.6,1978.7 l3.5,2 M2606.7,1940.8 l-4,1.2 M2642.3,1991.3 l-3.5,2 M2862.2,1991.3 l3.5,2 M2605.6,1916.1 l-4,1.2 M2667.5,2003.9 l-3.5,2 M2837.0,2003.9 l3.5,2 M2604.5,1891.3 l-4,1.2 M2692.9,2016.6 l-3.5,2 M2811.6,2016.6 l3.5,2 M2603.4,1866.6 l-4,1.2 M2718.1,2029.2 l-3.5,2 M2786.4,2029.2 l3.5,2 M2602.3,1841.7 l-4,1.2 M2743.4,2041.8 l-3.5,2 M2761.0,2041.8 l3.5,2 " fill="none" stroke="#111" stroke-width="1.1"/><path d="M2878.3,1965.0 L2625.8,1965.0 L2752.2,1796.6Z" fill="none" stroke="#c0282d" stroke-width="1.5"/><path d="M2838.3 1915.5h0M2855.7 1945.7h0M2864.1 1956.2h0M2844.4 1962.6h0M2770.9 1963.8h0M2844.7 1961.9h0M2868.1 1952.2h0M2853.8 1952.3h0M2853.9 1951.7h0M2798.9 1939.2h0M2858.9 1960.8h0M2858.3 1960.0h0M2850.7 1951.2h0M2839.3 1915.4h0M2844.1 1951.5h0M2823.2 1956.7h0M2843.5 1922.5h0M2851.8 1957.8h0M2826.5 1937.5h0M2839.1 1934.0h0M2825.8 1920.1h0M2823.3 1939.8h0M2871.4 1957.1h0M2872.0 1959.7h0M2839.1 1949.7h0M2783.4 1950.2h0M2832.9 1926.6h0M2836.2 1959.2h0M2862.8 1956.9h0M2787.7 1912.2h0M2748.7 1964.1h0M2838.1 1943.1h0M2813.7 1921.3h0M2866.5 1950.1h0M2771.7 1880.2h0M2828.5 1899.2h0M2803.4 1964.7h0M2855.2 1942.5h0M2866.6 1957.4h0M2831.0 1960.6h0M2804.4 1891.1h0M2814.8 1956.1h0M2851.2 1935.9h0M2862.3 1960.2h0M2770.6 1942.2h0M2766.9 1953.7h0M2800.5 1948.9h0M2845.7 1930.8h0M2806.6 1951.2h0M2864.0 1960.5h0M2815.0 1935.0h0M2805.7 1929.8h0M2866.8 1961.6h0M2847.0 1964.0h0M2865.8 1957.2h0M2788.0 1852.4h0M2758.1 1963.4h0M2867.2 1961.1h0M2856.3 1957.1h0M2849.1 1936.0h0M2739.3 1930.7h0M2843.1 1930.2h0M2832.3 1943.0h0M2854.2 1960.3h0M2861.3 1955.9h0M2812.3 1883.6h0M2826.0 1928.5h0M2837.4 1961.6h0M2802.0 1940.5h0M2845.2 1935.9h0M2820.2 1961.0h0M2796.4 1889.5h0M2822.1 1957.8h0M2849.5 1950.5h0M2869.8 1959.7h0M2792.5 1876.7h0M2787.6 1942.2h0M2824.2 1956.7h0M2781.2 1901.9h0M2841.7 1939.7h0M2823.6 1957.5h0M2810.1 1891.4h0M2823.1 1914.9h0M2868.3 1964.7h0M2848.5 1938.6h0M2874.0 1959.4h0M2844.9 1943.1h0M2823.7 1921.6h0M2863.4 1951.7h0M2721.9 1963.7h0M2824.7 1955.9h0M2854.2 1947.9h0M2866.3 1964.3h0M2849.8 1952.4h0M2823.2 1963.6h0M2835.0 1950.2h0M2841.5 1960.8h0M2841.2 1924.7h0M2825.7 1922.6h0M2830.9 1950.4h0M2834.6 1911.2h0M2866.7 1955.9h0M2856.7 1946.8h0M2790.3 1949.9h0M2837.3 1952.3h0M2821.6 1908.0h0M2843.3 1922.7h0M2840.5 1942.9h0M2840.3 1938.6h0M2835.9 1936.5h0M2835.2 1951.6h0M2852.3 1946.5h0M2760.3 1919.8h0M2829.0 1944.9h0M2835.2 1963.6h0M2856.4 1951.5h0M2836.9 1929.4h0M2801.6 1950.5h0M2826.4 1933.1h0M2795.7 1932.3h0M2848.9 1927.6h0M2847.1 1958.5h0M2818.1 1900.9h0M2859.2 1959.1h0M2853.2 1956.6h0M2810.7 1884.7h0M2807.9 1895.6h0M2831.7 1959.7h0M2829.9 1951.9h0M2786.7 1921.7h0M2872.6 1959.8h0M2852.7 1943.9h0M2808.1 1933.5h0M2835.2 1946.6h0M2801.1 1964.4h0M2838.2 1924.9h0M2817.7 1962.0h0M2801.5 1875.0h0M2828.7 1960.8h0M2842.6 1947.1h0M2794.0 1874.9h0M2828.9 1902.3h0M2839.0 1953.0h0M2837.5 1950.2h0M2864.5 1958.7h0M2804.7 1908.9h0M2846.4 1933.0h0M2849.8 1951.6h0M2844.9 1932.7h0M2767.5 1947.0h0M2838.6 1921.9h0M2808.8 1896.9h0M2829.5 1924.3h0M2851.7 1930.1h0M2874.5 1963.9h0M2793.5 1960.5h0M2846.0 1957.1h0M2820.4 1902.7h0M2807.4 1939.2h0M2785.0 1948.5h0M2768.1 1908.2h0M2828.1 1913.3h0M2808.4 1890.9h0M2865.6 1948.7h0M2807.3 1907.2h0M2841.1 1954.2h0M2817.0 1917.7h0M2767.3 1900.4h0M2867.5 1950.9h0M2847.0 1962.8h0M2825.7 1948.7h0M2815.5 1964.4h0M2810.2 1957.7h0M2857.1 1939.1h0M2789.3 1931.9h0M2718.7 1946.6h0M2846.0 1959.4h0M2827.0 1956.7h0M2768.5 1914.1h0M2838.6 1931.5h0M2779.0 1946.9h0M2829.7 1947.7h0M2833.4 1960.7h0M2815.2 1957.4h0M2837.2 1937.1h0M2862.6 1959.9h0M2827.7 1953.7h0M2856.0 1947.4h0M2833.3 1949.8h0M2846.4 1936.9h0M2787.8 1925.5h0M2844.4 1957.5h0M2746.6 1926.1h0M2840.3 1923.4h0M2822.2 1962.1h0M2864.7 1964.3h0M2861.2 1948.3h0M2813.9 1957.7h0M2833.9 1944.6h0M2799.0 1932.2h0M2835.1 1929.6h0M2857.8 1960.1h0M2860.4 1962.6h0M2828.4 1937.4h0M2839.0 1959.4h0M2775.0 1936.2h0M2792.1 1953.0h0M2851.8 1954.7h0M2827.8 1914.2h0M2862.3 1950.9h0M2778.2 1963.7h0M2784.8 1931.4h0M2802.9 1932.4h0M2786.2 1931.1h0M2839.8 1959.3h0M2870.1 1963.1h0M2820.9 1962.7h0M2868.3 1963.3h0M2845.7 1942.0h0M2822.2 1957.3h0M2799.4 1867.0h0M2821.5 1941.0h0M2780.6 1898.0h0M2835.0 1930.0h0M2816.2 1925.1h0M2813.4 1918.4h0M2853.8 1934.1h0M2831.7 1941.5h0M2731.7 1933.2h0M2764.5 1934.5h0M2800.2 1957.7h0M2839.7 1935.3h0M2751.3 1922.3h0M2814.1 1950.0h0M2875.0 1963.5h0M2790.6 1910.3h0M2872.8 1961.7h0M2812.0 1910.2h0M2799.6 1861.9h0M2870.0 1964.0h0M2835.8 1953.7h0M2868.5 1959.8h0M2850.4 1954.9h0M2704.8 1948.6h0M2845.2 1940.6h0M2827.1 1950.1h0M2781.3 1876.7h0M2832.8 1933.8h0M2792.2 1926.3h0M2848.3 1928.4h0M2860.0 1944.9h0M2804.2 1958.0h0M2765.2 1922.4h0M2855.4 1940.0h0M2796.0 1896.0h0M2775.6 1954.5h0M2849.0 1933.7h0M2850.5 1955.0h0M2801.3 1863.1h0M2845.1 1952.5h0M2826.7 1927.4h0M2788.1 1920.3h0M2858.2 1940.7h0M2798.7 1949.9h0M2824.8 1938.3h0M2829.7 1930.0h0M2842.3 1957.6h0M2761.8 1963.9h0M2844.3 1946.6h0M2847.0 1960.7h0M2764.2 1934.3h0M2855.1 1938.0h0M2780.6 1961.5h0M2797.0 1908.9h0M2845.0 1942.3h0M2872.2 1960.7h0M2835.7 1956.7h0M2863.6 1961.1h0M2842.9 1945.5h0M2796.8 1964.9h0M2817.1 1964.8h0M2747.9 1960.3h0M2790.3 1952.0h0M2780.6 1925.6h0" fill="none" stroke="#4a5fd0" stroke-width="4.8" stroke-linecap="round" stroke-opacity=".62"/><path d="M2834.3 1928.1h0M2866.9 1961.8h0M2760.3 1954.0h0M2801.1 1952.0h0M2789.4 1960.9h0M2802.8 1896.0h0M2854.8 1956.7h0M2767.8 1927.8h0M2860.2 1955.9h0M2839.4 1940.9h0M2865.0 1957.9h0M2852.2 1956.6h0M2831.9 1917.8h0M2828.1 1963.9h0M2865.3 1965.0h0M2812.5 1907.1h0M2850.8 1952.9h0M2852.8 1953.2h0M2824.0 1930.9h0M2851.5 1954.2h0M2820.5 1910.5h0M2838.6 1939.3h0M2863.0 1960.7h0M2804.9 1922.2h0M2855.4 1950.3h0M2797.0 1964.4h0M2827.3 1942.5h0M2847.7 1958.8h0M2787.7 1914.0h0M2809.6 1906.0h0M2757.4 1957.6h0M2842.8 1956.2h0M2775.7 1930.4h0M2835.8 1948.2h0M2869.0 1955.8h0M2845.6 1941.4h0M2802.9 1963.0h0M2853.0 1958.9h0M2778.5 1948.7h0M2820.1 1931.4h0M2853.5 1952.4h0M2846.5 1928.4h0M2851.6 1946.5h0M2862.7 1958.0h0M2859.7 1947.9h0M2820.4 1951.9h0M2812.3 1916.3h0M2771.0 1959.5h0M2781.8 1954.3h0M2833.8 1928.2h0M2865.1 1963.1h0M2799.6 1950.7h0M2835.5 1926.7h0M2841.1 1942.8h0M2840.4 1953.3h0M2863.7 1960.8h0M2775.7 1891.9h0M2747.1 1947.1h0M2784.6 1957.2h0M2872.2 1962.6h0M2825.6 1953.5h0M2771.6 1950.4h0M2848.9 1954.0h0M2824.8 1943.0h0M2799.7 1940.1h0M2814.2 1937.8h0M2794.3 1865.3h0M2715.1 1948.6h0M2816.2 1891.5h0M2860.9 1950.3h0M2794.9 1958.3h0M2838.3 1940.0h0M2789.0 1884.6h0M2847.7 1952.8h0M2814.9 1958.4h0M2807.1 1881.7h0M2719.0 1934.1h0M2842.1 1944.7h0M2802.8 1916.3h0M2824.5 1925.6h0M2806.3 1960.2h0M2861.6 1957.3h0M2851.9 1962.3h0M2787.4 1945.6h0M2767.2 1920.7h0M2819.6 1964.2h0M2845.8 1944.6h0M2824.2 1895.1h0M2856.6 1939.8h0M2851.7 1943.3h0M2767.8 1919.4h0M2821.3 1919.5h0M2781.0 1914.8h0M2855.0 1961.0h0M2848.8 1929.5h0M2853.2 1951.2h0M2844.4 1954.6h0M2815.8 1931.2h0M2803.6 1866.9h0M2803.5 1956.7h0M2827.2 1927.2h0M2810.7 1898.0h0M2843.4 1959.3h0M2842.3 1932.8h0M2737.0 1959.0h0M2777.1 1938.9h0M2832.0 1925.5h0M2849.1 1953.2h0M2784.5 1962.5h0M2847.9 1928.0h0M2874.8 1963.1h0M2809.0 1943.3h0M2849.8 1950.1h0M2807.0 1958.0h0M2847.4 1947.1h0M2852.2 1935.5h0M2849.6 1964.8h0M2816.9 1898.3h0M2779.4 1916.5h0M2830.2 1953.7h0M2721.6 1949.0h0M2813.5 1928.9h0M2814.4 1953.3h0M2866.9 1958.5h0M2844.6 1955.8h0M2799.5 1960.8h0M2842.6 1922.3h0M2778.9 1961.3h0M2794.2 1912.5h0M2853.0 1943.6h0M2833.9 1940.2h0M2777.2 1951.2h0M2831.6 1927.7h0M2866.0 1960.1h0M2781.0 1950.3h0M2863.9 1958.3h0M2786.9 1897.9h0M2840.7 1936.2h0M2845.9 1960.9h0M2803.8 1959.5h0M2869.6 1955.8h0M2841.2 1963.8h0M2823.2 1916.5h0M2865.0 1961.2h0M2754.9 1920.2h0M2851.3 1945.7h0M2844.4 1942.7h0M2800.3 1951.1h0M2865.1 1956.2h0M2759.4 1918.4h0M2856.5 1942.1h0M2851.3 1936.3h0M2731.0 1952.8h0M2818.8 1922.0h0M2847.5 1955.0h0M2845.3 1934.3h0M2806.8 1924.0h0M2840.6 1958.0h0M2843.6 1963.0h0M2837.4 1964.4h0M2787.2 1940.7h0M2855.6 1950.4h0M2803.6 1906.5h0M2817.0 1915.6h0M2837.2 1946.5h0M2851.5 1952.9h0M2844.6 1946.2h0M2824.5 1952.8h0M2850.8 1951.5h0M2846.0 1957.1h0M2851.1 1961.1h0M2795.2 1870.7h0M2824.6 1933.0h0M2847.9 1951.4h0M2770.8 1933.8h0M2872.4 1957.8h0M2821.9 1913.6h0M2828.8 1932.7h0M2872.3 1962.0h0M2826.2 1951.1h0M2872.7 1963.8h0M2818.0 1963.1h0M2820.6 1926.4h0M2812.2 1941.7h0M2783.6 1960.2h0M2838.7 1955.5h0M2750.3 1914.1h0M2839.5 1936.2h0M2810.5 1921.1h0M2850.8 1953.8h0M2809.0 1959.4h0M2814.1 1960.4h0M2837.9 1958.2h0M2843.7 1951.8h0M2823.1 1930.4h0M2822.4 1954.0h0M2842.7 1922.9h0M2817.7 1964.5h0M2846.7 1933.4h0M2863.9 1946.2h0M2848.3 1933.1h0M2820.7 1940.4h0M2846.6 1955.5h0M2847.5 1960.5h0M2807.4 1957.8h0M2834.8 1941.5h0M2803.0 1920.1h0M2829.5 1953.6h0M2837.8 1912.2h0M2854.9 1958.7h0M2797.5 1913.1h0M2864.5 1962.6h0M2708.7 1932.7h0M2844.3 1924.0h0M2855.8 1956.2h0M2876.6 1963.6h0M2741.2 1911.8h0M2834.4 1922.0h0M2836.1 1916.5h0M2855.7 1957.9h0M2811.1 1901.2h0M2802.2 1930.7h0M2804.9 1927.8h0M2856.3 1963.1h0M2806.1 1898.7h0M2852.3 1960.8h0M2738.0 1928.3h0M2841.0 1922.5h0M2856.1 1957.2h0M2823.1 1904.5h0M2817.0 1942.1h0M2832.7 1937.2h0M2830.1 1931.4h0M2795.4 1928.5h0M2829.3 1945.3h0M2802.9 1946.3h0M2832.5 1948.3h0M2784.7 1911.5h0M2845.7 1952.3h0M2841.8 1928.0h0M2832.8 1941.7h0M2828.4 1927.4h0M2799.0 1887.7h0M2833.2 1928.2h0M2790.2 1959.6h0M2813.9 1899.5h0M2717.6 1964.4h0M2841.1 1941.3h0M2836.7 1954.6h0M2817.5 1933.7h0M2825.4 1898.7h0M2872.5 1963.8h0M2857.6 1956.3h0M2832.3 1959.7h0M2849.2 1964.7h0M2844.9 1961.0h0M2857.8 1944.8h0M2760.7 1960.8h0M2859.5 1953.4h0M2815.8 1954.0h0M2837.6 1947.3h0M2794.8 1961.3h0M2803.4 1904.0h0M2800.7 1964.0h0M2832.1 1924.2h0M2842.0 1926.5h0M2839.0 1964.1h0M2846.2 1925.6h0M2796.5 1946.8h0M2823.9 1954.6h0M2869.6 1964.5h0M2778.3 1934.4h0M2755.0 1926.2h0M2753.7 1935.7h0M2806.3 1962.4h0M2842.3 1936.5h0M2866.2 1960.5h0M2849.7 1947.7h0M2805.2 1955.7h0M2853.3 1963.5h0M2862.2 1946.7h0M2865.7 1961.9h0M2857.1 1961.5h0" fill="none" stroke="#4a5fd0" stroke-width="4.8" stroke-linecap="round" stroke-opacity=".62"/><path d="M2844.7 1934.7h0M2837.1 1943.2h0M2854.5 1963.1h0M2869.2 1962.8h0M2847.1 1951.8h0M2844.5 1926.2h0M2836.4 1938.8h0M2846.0 1958.5h0M2805.3 1941.6h0M2799.7 1939.6h0M2832.1 1930.2h0M2802.7 1932.1h0M2862.6 1946.9h0M2800.0 1951.3h0M2727.4 1927.0h0M2828.8 1932.9h0M2822.0 1920.5h0M2875.4 1964.5h0M2794.5 1928.6h0M2842.3 1924.9h0M2866.0 1960.6h0M2858.8 1954.7h0M2804.2 1932.8h0M2830.2 1921.5h0M2867.6 1953.9h0M2844.8 1961.3h0M2836.9 1921.7h0M2862.9 1958.8h0M2870.4 1965.0h0M2821.0 1906.6h0M2860.6 1964.6h0M2806.4 1940.2h0M2851.9 1955.8h0M2832.3 1917.2h0M2757.1 1869.1h0M2731.4 1963.9h0M2841.4 1958.6h0M2801.6 1940.6h0M2772.2 1947.5h0M2856.0 1949.8h0M2868.5 1961.3h0M2840.4 1937.3h0M2808.6 1959.8h0M2826.4 1952.0h0M2842.8 1919.0h0M2776.4 1960.9h0M2873.4 1961.2h0M2846.3 1932.1h0M2826.3 1906.4h0M2836.4 1949.6h0M2793.8 1893.9h0M2810.0 1964.3h0M2850.2 1959.1h0M2865.4 1948.4h0M2805.7 1960.6h0M2861.0 1949.3h0M2849.6 1945.5h0M2752.6 1940.5h0M2844.6 1937.3h0M2744.8 1964.8h0M2821.0 1945.0h0M2776.4 1952.5h0M2867.8 1951.3h0M2781.7 1961.7h0M2813.9 1953.0h0M2825.5 1938.3h0M2839.5 1956.8h0M2815.7 1952.3h0M2850.5 1935.1h0M2809.7 1906.6h0M2785.3 1940.9h0M2806.7 1959.6h0M2812.4 1947.1h0M2829.0 1951.5h0M2869.0 1959.5h0M2832.3 1937.0h0M2851.6 1961.7h0M2847.9 1936.7h0M2847.0 1954.3h0M2822.6 1940.3h0M2794.8 1882.6h0M2765.8 1930.2h0M2801.2 1956.3h0M2785.0 1872.4h0M2819.2 1935.5h0M2837.1 1933.5h0M2841.7 1955.3h0M2861.3 1950.2h0M2809.9 1889.7h0M2830.3 1936.7h0M2813.1 1958.1h0M2864.7 1951.0h0M2771.1 1958.6h0M2839.0 1958.8h0M2785.9 1959.4h0M2794.3 1870.6h0M2770.7 1948.6h0M2823.3 1949.3h0M2845.8 1947.5h0M2835.0 1938.0h0M2859.2 1953.7h0M2821.9 1956.2h0M2779.8 1961.1h0M2855.2 1963.4h0M2847.3 1929.6h0M2783.2 1944.7h0M2821.4 1963.9h0M2769.6 1911.0h0M2822.1 1926.9h0M2842.3 1924.8h0M2810.8 1882.1h0M2827.1 1931.2h0M2811.9 1951.2h0M2814.0 1962.9h0M2688.4 1962.2h0M2810.7 1932.6h0M2786.0 1944.3h0M2851.8 1940.7h0M2842.8 1959.0h0M2861.5 1952.9h0M2858.1 1952.3h0M2816.2 1915.2h0M2851.2 1955.5h0M2833.0 1950.1h0M2806.3 1931.8h0M2771.5 1960.7h0M2770.4 1956.2h0M2845.4 1928.8h0M2850.8 1957.6h0M2825.4 1960.2h0M2852.4 1948.1h0M2834.4 1937.0h0M2850.9 1958.9h0M2792.9 1919.1h0M2824.0 1944.4h0M2847.7 1963.4h0M2846.2 1945.1h0M2797.2 1962.0h0M2847.4 1950.8h0M2869.1 1954.3h0M2822.7 1962.3h0M2826.5 1958.7h0M2860.9 1958.9h0M2765.8 1962.5h0M2752.4 1931.8h0M2806.1 1960.5h0M2848.7 1957.4h0M2785.7 1964.6h0M2817.8 1937.7h0M2828.1 1957.8h0M2777.2 1893.4h0M2873.7 1963.8h0M2817.0 1886.5h0M2807.0 1925.1h0M2847.4 1949.9h0M2873.7 1961.2h0M2799.8 1952.6h0M2865.6 1951.0h0M2848.2 1959.1h0M2773.0 1944.6h0M2871.7 1960.2h0M2858.2 1943.7h0M2773.7 1946.3h0M2835.2 1929.1h0M2800.9 1875.1h0M2815.4 1946.2h0M2876.6 1963.6h0M2840.8 1943.7h0M2854.4 1963.0h0M2851.4 1947.2h0M2867.1 1964.5h0M2845.2 1921.7h0M2764.0 1939.4h0M2818.4 1945.1h0M2751.5 1953.6h0M2791.8 1939.1h0M2872.7 1960.3h0M2824.4 1921.7h0M2763.4 1921.1h0M2836.5 1963.8h0M2778.5 1944.6h0M2841.0 1949.3h0M2824.7 1933.7h0M2831.2 1916.3h0M2849.9 1937.5h0M2818.7 1926.8h0M2830.9 1961.0h0M2791.1 1933.1h0M2850.7 1955.1h0M2812.2 1905.8h0M2860.7 1959.3h0M2762.0 1898.0h0M2810.5 1920.1h0M2804.6 1893.7h0M2767.4 1957.0h0M2855.9 1949.6h0M2693.0 1963.4h0M2860.9 1947.5h0M2874.7 1962.6h0M2848.1 1933.0h0M2866.0 1951.3h0M2852.1 1955.1h0M2794.7 1925.6h0M2799.0 1958.8h0M2862.1 1962.7h0M2864.0 1955.8h0M2817.5 1892.9h0M2836.2 1931.2h0M2788.5 1927.9h0M2849.0 1950.0h0M2864.2 1963.8h0M2753.0 1936.4h0M2829.8 1928.2h0M2829.4 1957.5h0M2816.3 1942.2h0M2784.4 1909.2h0M2850.8 1934.1h0M2801.2 1957.7h0M2842.8 1959.1h0M2861.4 1957.4h0M2856.0 1951.7h0M2826.8 1949.3h0M2842.4 1932.3h0M2829.2 1910.8h0M2824.1 1948.8h0M2809.9 1940.4h0M2794.0 1930.8h0M2832.1 1928.7h0M2841.3 1963.5h0M2854.5 1935.1h0M2841.6 1954.5h0M2856.1 1962.4h0M2841.3 1946.1h0M2839.2 1962.0h0M2822.6 1962.8h0M2792.2 1951.3h0M2814.8 1949.3h0M2749.3 1928.0h0M2843.2 1944.1h0M2823.6 1924.3h0M2857.1 1937.1h0M2828.8 1937.0h0M2778.5 1946.8h0M2853.8 1950.7h0M2831.2 1944.6h0M2868.4 1963.4h0M2859.9 1943.1h0M2843.4 1958.5h0M2823.3 1895.5h0M2805.1 1952.7h0M2850.3 1960.4h0M2798.5 1952.5h0M2821.0 1948.0h0M2826.2 1957.1h0M2779.2 1951.2h0M2761.6 1899.8h0M2837.7 1911.8h0M2850.4 1950.2h0M2735.9 1964.4h0M2845.0 1960.9h0M2839.0 1954.1h0M2808.7 1962.7h0M2802.4 1942.9h0M2821.4 1932.3h0M2851.9 1942.0h0M2863.4 1964.3h0M2813.2 1950.3h0M2781.2 1950.3h0M2800.9 1894.7h0M2834.9 1953.8h0M2826.9 1926.7h0M2851.4 1952.4h0M2839.9 1934.7h0M2861.8 1958.4h0M2845.2 1957.7h0M2829.9 1931.4h0M2852.9 1936.5h0M2830.0 1915.2h0M2833.4 1952.3h0M2826.3 1943.6h0M2788.5 1936.9h0M2817.5 1957.5h0M2862.3 1958.6h0" fill="none" stroke="#4a5fd0" stroke-width="4.8" stroke-linecap="round" stroke-opacity=".62"/><text x="2555.9" y="1744.4" font-size="16" font-family='"DejaVu Serif", serif' font-weight="bold">(d)</text><text x="2747.7" y="1744.4" font-size="15" text-anchor="middle" font-family='"DejaVu Serif", serif' font-weight="bold">Dirichlet(1, 5, 1)</text><circle cx="2788.4" cy="1772.3" r="2.2" fill="#6b7bd6"/><circle cx="2788.4" cy="1797.4" r="6" fill="#f00" stroke="#000" stroke-width="1.3"/><text x="2820" y="1775.8" font-size="15.5" fill="#222" font-family='"DejaVu Serif", serif'>Samples</text><text x="2820" y="1800.9" font-size="15.5" fill="#222" font-family='"DejaVu Serif", serif'>Mean</text><text x="2568" y="1855.4" font-size="16.2" text-anchor="middle" fill="#111" font-family='"DejaVu Serif", serif'>1.0</text><text x="2569.1" y="1879.8" font-size="16.2" text-anchor="middle" fill="#111" font-family='"DejaVu Serif", serif'>0.8</text><text x="2570.2" y="1904.3" font-size="16.2" text-anchor="middle" fill="#111" font-family='"DejaVu Serif", serif'>0.6</text><text x="2571.4" y="1928.7" font-size="16.2" text-anchor="middle" fill="#111" font-family='"DejaVu Serif", serif'>0.4</text><text x="2572.5" y="1953.1" font-size="16.2" text-anchor="middle" fill="#111" font-family='"DejaVu Serif", serif'>0.2</text><text x="2573.6" y="1977.6" font-size="16.2" text-anchor="middle" fill="#111" font-family='"DejaVu Serif", serif'>0.0</text><text x="2598.1" y="2015.2" font-size="16.2" text-anchor="middle" fill="#111" font-family='"DejaVu Serif", serif'>0.0</text><text x="2905.2" y="2015.2" font-size="16.2" text-anchor="middle" fill="#111" font-family='"DejaVu Serif", serif'>0.0</text><text x="2623.4" y="2028.1" font-size="16.2" text-anchor="middle" fill="#111" font-family='"DejaVu Serif", serif'>0.2</text><text x="2880.3" y="2028.1" font-size="16.2" text-anchor="middle" fill="#111" font-family='"DejaVu Serif", serif'>0.2</text><text x="2648.6" y="2040.9" font-size="16.2" text-anchor="middle" fill="#111" font-family='"DejaVu Serif", serif'>0.4</text><text x="2855.3" y="2040.9" font-size="16.2" text-anchor="middle" fill="#111" font-family='"DejaVu Serif", serif'>0.4</text><text x="2673.8" y="2053.7" font-size="16.2" text-anchor="middle" fill="#111" font-family='"DejaVu Serif", serif'>0.6</text><text x="2830.3" y="2053.7" font-size="16.2" text-anchor="middle" fill="#111" font-family='"DejaVu Serif", serif'>0.6</text><text x="2699.1" y="2066.5" font-size="16.2" text-anchor="middle" fill="#111" font-family='"DejaVu Serif", serif'>0.8</text><text x="2805.3" y="2066.5" font-size="16.2" text-anchor="middle" fill="#111" font-family='"DejaVu Serif", serif'>0.8</text><text x="2724.3" y="2079.3" font-size="16.2" text-anchor="middle" fill="#111" font-family='"DejaVu Serif", serif'>1.0</text><text x="2780.3" y="2079.3" font-size="16.2" text-anchor="middle" fill="#111" font-family='"DejaVu Serif", serif'>1.0</text><text x="2630.8" y="2075.6" font-size="12.5" text-anchor="middle" fill="#111" font-family='"DejaVu Serif", serif'>P2</text><text x="2872.1" y="2075.6" font-size="12.5" text-anchor="middle" fill="#111" font-family='"DejaVu Serif", serif'>P1</text><text x="2626.5" y="1908.7" font-size="12.5" text-anchor="middle" fill="#111" font-family='"DejaVu Serif", serif'>P3</text><circle cx="1745" cy="2180" r="34" fill="none" stroke="#fff" stroke-width="4.6"/><text x="1745" y="2197.5" font-size="50" text-anchor="middle" fill="#fff" font-family='"Liberation Sans", sans-serif' font-weight="bold">3</text><text x="1803" y="2201.5" font-size="56" textLength="859" lengthAdjust="spacingAndGlyphs" fill="#fff" font-family='"Liberation Sans", sans-serif' font-weight="bold">GMM-Driven Bayesian Inference</text><text x="1462.6" y="2314.3" font-size="49" textLength="733.2" lengthAdjust="spacingAndGlyphs" fill="#065f46" font-family='"Liberation Sans", sans-serif' font-weight="bold">GMM Likelihood (class-specific):</text><text x="1773.5" y="2418.3" font-size="52" textLength="24.5" lengthAdjust="spacingAndGlyphs" font-family='"Liberation Serif", serif' font-style="italic" stroke="#000" stroke-width=".55">p</text><text x="1801.1" y="2428.7" font-size="36" textLength="87.5" lengthAdjust="spacingAndGlyphs" font-family='"Liberation Serif", serif' stroke="#000" stroke-width=".55">GMM</text><text x="1895.9" y="2418.3" font-size="52" textLength="14.1" lengthAdjust="spacingAndGlyphs" font-family='"Liberation Serif", serif' stroke="#000" stroke-width=".55">(</text><text x="1914.3" y="2418.3" font-size="52" textLength="36.7" lengthAdjust="spacingAndGlyphs" font-family='"Liberation Serif", serif' font-weight="bold" font-style="italic" stroke="#000" stroke-width=".55">α</text><text x="1957.1" y="2418.3" font-size="50" textLength="4.9" lengthAdjust="spacingAndGlyphs" font-family='"Liberation Serif", serif' stroke="#000" stroke-width=".55">|</text><text x="1967.5" y="2418.3" font-size="52" textLength="26.3" lengthAdjust="spacingAndGlyphs" font-family='"Liberation Serif", serif' font-style="italic" stroke="#000" stroke-width=".55">y</text><text x="1996.9" y="2418.3" font-size="52" textLength="13.5" lengthAdjust="spacingAndGlyphs" font-family='"Liberation Serif", serif' stroke="#000" stroke-width=".55">)</text><text x="2029.4" y="2418.3" font-size="52" textLength="31.8" lengthAdjust="spacingAndGlyphs" font-family='"Liberation Serif", serif' stroke="#000" stroke-width=".55">=</text><text x="2079.5" y="2442.8" font-size="118" textLength="63" lengthAdjust="spacingAndGlyphs" font-family='"Liberation Serif", serif' stroke="#000" stroke-width=".55">∑</text><text x="2148.1" y="2366.3" font-size="34" textLength="22" lengthAdjust="spacingAndGlyphs" font-family='"Liberation Serif", serif' font-style="italic" stroke="#000" stroke-width=".55">K</text><text x="2149.9" y="2459.9" font-size="34" textLength="14.1" lengthAdjust="spacingAndGlyphs" font-family='"Liberation Serif", serif' stroke="#000" stroke-width=".55">1</text><text x="2174.4" y="2418.3" font-size="52" textLength="30.6" lengthAdjust="spacingAndGlyphs" font-family='"Liberation Serif", serif' font-style="italic" stroke="#000" stroke-width=".55">π</text><text x="2205" y="2428.7" font-size="36" textLength="41.6" lengthAdjust="spacingAndGlyphs" font-family='"Liberation Serif", serif' font-style="italic" stroke="#000" stroke-width=".55">yk</text><text x="2250.9" y="2418.3" font-size="48" textLength="42.8" lengthAdjust="spacingAndGlyphs" font-family='"DejaVu Math TeX Gyre", "DejaVu Serif", serif' stroke="#000" stroke-width=".55">𝒩</text><text x="2306" y="2423.2" font-size="66" textLength="15.3" lengthAdjust="spacingAndGlyphs" font-family='"Liberation Serif", serif' stroke="#000" stroke-width=".55">(</text><text x="2327.4" y="2418.3" font-size="52" textLength="33.7" lengthAdjust="spacingAndGlyphs" font-family='"Liberation Serif", serif' font-weight="bold" font-style="italic" stroke="#000" stroke-width=".55">α</text><text x="2364.1" y="2418.3" font-size="52" textLength="7.3" lengthAdjust="spacingAndGlyphs" font-family='"Liberation Serif", serif' stroke="#000" stroke-width=".55">;</text><text x="2385.5" y="2418.3" font-size="52" textLength="30.6" lengthAdjust="spacingAndGlyphs" font-family='"Liberation Serif", serif' font-weight="bold" font-style="italic" stroke="#000" stroke-width=".55">μ</text><text x="2417.4" y="2428.7" font-size="36" textLength="40.4" lengthAdjust="spacingAndGlyphs" font-family='"Liberation Serif", serif' font-style="italic" stroke="#000" stroke-width=".55">yk</text><text x="2460.8" y="2418.3" font-size="52" textLength="7.3" lengthAdjust="spacingAndGlyphs" font-family='"Liberation Serif", serif' stroke="#000" stroke-width=".55">,</text><text x="2480.4" y="2418.3" font-size="52" textLength="37.9" lengthAdjust="spacingAndGlyphs" font-family='"Liberation Serif", serif' font-weight="bold" font-style="italic" stroke="#000" stroke-width=".55">Σ</text><text x="2518.3" y="2428.7" font-size="36" textLength="38.6" lengthAdjust="spacingAndGlyphs" font-family='"Liberation Serif", serif' font-style="italic" stroke="#000" stroke-width=".55">yk</text><text x="2564.9" y="2423.2" font-size="66" textLength="15.3" lengthAdjust="spacingAndGlyphs" font-family='"Liberation Serif", serif' stroke="#000" stroke-width=".55">)</text><text x="1462.6" y="2520.5" font-size="49" textLength="433.3" lengthAdjust="spacingAndGlyphs" fill="#065f46" font-family='"Liberation Sans", sans-serif' font-weight="bold">Bayesian Posterior:</text><text x="1762.5" y="2598.8" font-size="52" textLength="26.3" lengthAdjust="spacingAndGlyphs" font-family='"Liberation Serif", serif' font-style="italic" stroke="#000" stroke-width=".55">p</text><text x="1790.1" y="2609.2" font-size="36" textLength="46.5" lengthAdjust="spacingAndGlyphs" font-family='"Liberation Serif", serif' stroke="#000" stroke-width=".55">cal</text><text x="1840.9" y="2598.8" font-size="52" textLength="14.1" lengthAdjust="spacingAndGlyphs" font-family='"Liberation Serif", serif' stroke="#000" stroke-width=".55">(</text><text x="1859.2" y="2598.8" font-size="52" textLength="26.3" lengthAdjust="spacingAndGlyphs" font-family='"Liberation Serif", serif' font-style="italic" stroke="#000" stroke-width=".55">y</text><text x="1894.1" y="2598.8" font-size="50" textLength="4.9" lengthAdjust="spacingAndGlyphs" font-family='"Liberation Serif", serif' stroke="#000" stroke-width=".55">|</text><text x="1908.2" y="2598.8" font-size="52" textLength="33.7" lengthAdjust="spacingAndGlyphs" fill="#000" font-family='"Liberation Serif", serif' font-weight="bold" font-style="italic">α</text><path d="M1916.3,2572.8 L1927.7,2565.6 L1939.1,2572.8" fill="none" stroke="#000" stroke-width="2.9" stroke-linejoin="miter"/><text x="1943.1" y="2609.2" font-size="36" textLength="73.4" lengthAdjust="spacingAndGlyphs" font-family='"Liberation Serif", serif' stroke="#000" stroke-width=".55">MLE</text><text x="2020.2" y="2598.8" font-size="52" textLength="14.7" lengthAdjust="spacingAndGlyphs" font-family='"Liberation Serif", serif' stroke="#000" stroke-width=".55">)</text><text x="2056.9" y="2600.1" font-size="52" textLength="31.2" lengthAdjust="spacingAndGlyphs" font-family='"DejaVu Sans", sans-serif' stroke="#000" stroke-width=".55">∝</text><text x="2118.1" y="2598.8" font-size="52" textLength="25.7" lengthAdjust="spacingAndGlyphs" font-family='"Liberation Serif", serif' font-style="italic" stroke="#000" stroke-width=".55">p</text><text x="2145" y="2609.2" font-size="36" textLength="85.7" lengthAdjust="spacingAndGlyphs" font-family='"Liberation Serif", serif' stroke="#000" stroke-width=".55">GMM</text><text x="2237.4" y="2598.8" font-size="52" textLength="14.1" lengthAdjust="spacingAndGlyphs" font-family='"Liberation Serif", serif' stroke="#000" stroke-width=".55">(</text><text x="2257" y="2598.8" font-size="52" textLength="34.9" lengthAdjust="spacingAndGlyphs" fill="#000" font-family='"Liberation Serif", serif' font-weight="bold" font-style="italic">α</text><path d="M2265.4,2572.8 L2277.3,2565.6 L2289.1,2572.8" fill="none" stroke="#000" stroke-width="2.9" stroke-linejoin="miter"/><text x="2293.1" y="2609.2" font-size="36" textLength="74.1" lengthAdjust="spacingAndGlyphs" font-family='"Liberation Serif", serif' stroke="#000" stroke-width=".55">MLE</text><text x="2372.1" y="2598.8" font-size="50" textLength="4.9" lengthAdjust="spacingAndGlyphs" font-family='"Liberation Serif", serif' stroke="#000" stroke-width=".55">|</text><text x="2382.5" y="2598.8" font-size="52" textLength="27.5" lengthAdjust="spacingAndGlyphs" font-family='"Liberation Serif", serif' font-style="italic" stroke="#000" stroke-width=".55">y</text><text x="2413.1" y="2598.8" font-size="52" textLength="13.5" lengthAdjust="spacingAndGlyphs" font-family='"Liberation Serif", serif' stroke="#000" stroke-width=".55">)</text><text x="2445.5" y="2598.8" font-size="60" font-family='"Liberation Serif", serif' font-weight="bold" stroke="#000" stroke-width=".55">·</text><text x="2484.7" y="2598.8" font-size="52" textLength="26.3" lengthAdjust="spacingAndGlyphs" font-family='"Liberation Serif", serif' font-style="italic" stroke="#000" stroke-width=".55">p</text><text x="2512.2" y="2609.9" font-size="36" textLength="19" lengthAdjust="spacingAndGlyphs" font-family='"Liberation Serif", serif' font-weight="bold" font-style="italic" stroke="#000" stroke-width=".55">θ</text><text x="2538.5" y="2598.8" font-size="52" textLength="14.1" lengthAdjust="spacingAndGlyphs" font-family='"Liberation Serif", serif' stroke="#000" stroke-width=".55">(</text><text x="2556.9" y="2598.8" font-size="52" textLength="27.5" lengthAdjust="spacingAndGlyphs" font-family='"Liberation Serif", serif' font-style="italic" stroke="#000" stroke-width=".55">y</text><text x="2587.5" y="2598.8" font-size="52" textLength="14.1" lengthAdjust="spacingAndGlyphs" font-family='"Liberation Serif", serif' stroke="#000" stroke-width=".55">)</text><text x="3672.7" y="472" font-size="56" text-anchor="middle" textLength="327.5" lengthAdjust="spacingAndGlyphs" fill="#fff" font-family='"Liberation Sans", sans-serif' font-weight="bold">Experiments</text><text x="3669.5" y="551.5" font-size="49.5" text-anchor="middle" textLength="551" lengthAdjust="spacingAndGlyphs" font-family='"Liberation Sans", sans-serif'>Cross-subject adaptation</text><g font-family='"Liberation Serif", serif' font-size="23.5" fill="#000"><line x1="3017.5" y1="570" x2="4336.7" y2="570" stroke="#000" stroke-width="2.4" /><line x1="3017.5" y1="611" x2="4336.7" y2="611" stroke="#000" stroke-width="1.6" /><line x1="3017.5" y1="731" x2="4336.7" y2="731" stroke="#000" stroke-width="1.6" /><line x1="3017.5" y1="958" x2="4336.7" y2="958" stroke="#000" stroke-width="2.4" /><text x="3032.8" y="598" font-weight="bold">Setting</text><text x="3180.7" y="598" font-weight="bold">Method</text><text x="3399" y="598" font-weight="bold" text-anchor="middle">S0</text><text x="3496.6" y="598" font-weight="bold" text-anchor="middle">S1</text><text x="3594.6" y="598" font-weight="bold" text-anchor="middle">S2</text><text x="3686.8" y="598" font-weight="bold" text-anchor="middle">S3</text><text x="3773" y="598" font-weight="bold" text-anchor="middle">S4</text><text x="3858.8" y="598" font-weight="bold" text-anchor="middle">S5</text><text x="3951" y="598" font-weight="bold" text-anchor="middle">S6</text><text x="4049" y="598" font-weight="bold" text-anchor="middle">S7</text><text x="4140.6" y="598" font-weight="bold" text-anchor="middle">S8</text><text x="4260" y="598" font-weight="bold" text-anchor="middle">Avg.</text><line x1="3349.8" y1="578" x2="3349.8" y2="605" stroke="#000" stroke-width="1.3" /><line x1="4185" y1="578" x2="4185" y2="605" stroke="#000" stroke-width="1.3" /><line x1="3349.8" y1="619" x2="3349.8" y2="726" stroke="#000" stroke-width="1.3" /><line x1="4185" y1="619" x2="4185" y2="726" stroke="#000" stroke-width="1.3" /><line x1="3349.8" y1="739" x2="3349.8" y2="952" stroke="#000" stroke-width="1.3" /><line x1="4185" y1="739" x2="4185" y2="952" stroke="#000" stroke-width="1.3" /><text x="3032.8" y="664.6">Source</text><text x="3032.8" y="851.2">Online TTA</text><text x="3180.7" y="638">CSP</text><text x="3399" y="638" text-anchor="middle">83.33</text><text x="3496.6" y="638" text-anchor="middle">52.08</text><text x="3594.6" y="638" text-anchor="middle">97.92</text><text x="3686.8" y="638" text-anchor="middle">75.00</text><text x="3773" y="638" text-anchor="middle">56.25</text><text x="3858.8" y="638" text-anchor="middle">67.36</text><text x="3951" y="638" text-anchor="middle">72.22</text><text x="4049" y="638" text-anchor="middle">88.19</text><text x="4140.6" y="638" text-anchor="middle">71.53</text><text x="4254" y="638" text-anchor="middle">73.77</text><text x="3180.7" y="664.6">EEGNet</text><text x="3399" y="664.6" text-anchor="middle">83.19</text><text x="3496.6" y="664.6" text-anchor="middle">60.28</text><text x="3594.6" y="664.6" text-anchor="middle">92.08</text><text x="3686.8" y="664.6" text-anchor="middle">67.92</text><text x="3773" y="664.6" text-anchor="middle">57.22</text><text x="3858.8" y="664.6" text-anchor="middle">72.50</text><text x="3951" y="664.6" text-anchor="middle">64.86</text><text x="4049" y="664.6" text-anchor="middle">86.11</text><text x="4140.6" y="664.6" text-anchor="middle">79.44</text><text x="4206.4" y="664.6" letter-spacing=".4">73.73<tspan font-size="16.5" dy="5.5" letter-spacing=".9">±1.11</tspan></text><text x="3180.7" y="691.3">EEG conformer</text><text x="3399" y="691.3" text-anchor="middle">81.18</text><text x="3496.6" y="691.3" text-anchor="middle">64.16</text><text x="3594.6" y="691.3" text-anchor="middle">96.80</text><text x="3686.8" y="691.3" text-anchor="middle">74.44</text><text x="3773" y="691.3" text-anchor="middle">58.47</text><text x="3858.8" y="691.3" text-anchor="middle">70.76</text><text x="3951" y="691.3" text-anchor="middle">64.17</text><text x="4049" y="691.3" text-anchor="middle">92.71</text><text x="4140.6" y="691.3" text-anchor="middle">79.03</text><text x="4206.4" y="691.3" letter-spacing=".4">75.75<tspan font-size="16.5" dy="5.5" letter-spacing=".9">±2.15</tspan></text><text x="3180.7" y="717.9">SincAdaptNet</text><text x="3399" y="717.9" text-anchor="middle">84.97</text><text x="3496.6" y="717.9" text-anchor="middle">63.93</text><text x="3594.6" y="717.9" text-anchor="middle">97.68</text><text x="3686.8" y="717.9" text-anchor="middle">77.13</text><text x="3773" y="717.9" text-anchor="middle">56.22</text><text x="3858.8" y="717.9" text-anchor="middle">72.68</text><text x="3951" y="717.9" text-anchor="middle">67.26</text><text x="4049" y="717.9" text-anchor="middle">93.86</text><text x="4140.6" y="717.9" text-anchor="middle">79.56</text><text x="4206.4" y="717.9" letter-spacing=".4">77.03<tspan font-size="16.5" dy="5.5" letter-spacing=".9">±1.31</tspan></text><text x="3180.7" y="758">BN-adapt</text><text x="3399" y="758" text-anchor="middle">84.97</text><text x="3496.6" y="758" text-anchor="middle">63.93</text><text x="3594.6" y="758" text-anchor="middle">97.68</text><text x="3686.8" y="758" text-anchor="middle">77.13</text><text x="3773" y="758" text-anchor="middle">56.22</text><text x="3858.8" y="758" text-anchor="middle">72.68</text><text x="3951" y="758" text-anchor="middle">67.26</text><text x="4049" y="758" text-anchor="middle">93.86</text><text x="4140.6" y="758" text-anchor="middle">79.56</text><text x="4206.4" y="758" letter-spacing=".4">77.03<tspan font-size="16.5" dy="5.5" letter-spacing=".9">±1.31</tspan></text><text x="3180.7" y="784.6">Tent</text><text x="3399" y="784.6" text-anchor="middle">75.97</text><text x="3496.6" y="784.6" text-anchor="middle">57.92</text><text x="3594.6" y="784.6" text-anchor="middle">94.51</text><text x="3686.8" y="784.6" text-anchor="middle">68.54</text><text x="3773" y="784.6" text-anchor="middle">52.22</text><text x="3858.8" y="784.6" text-anchor="middle">65.21</text><text x="3951" y="784.6" text-anchor="middle">59.38</text><text x="4049" y="784.6" text-anchor="middle">90.14</text><text x="4140.6" y="784.6" text-anchor="middle">68.19</text><text x="4206.4" y="784.6" letter-spacing=".4">70.23<tspan font-size="16.5" dy="5.5" letter-spacing=".9">±3.28</tspan></text><text x="3180.7" y="811.3">PL</text><text x="3399" y="811.3" text-anchor="middle">76.46</text><text x="3496.6" y="811.3" text-anchor="middle">56.67</text><text x="3594.6" y="811.3" text-anchor="middle">97.92</text><text x="3686.8" y="811.3" text-anchor="middle">70.34</text><text x="3773" y="811.3" text-anchor="middle">52.29</text><text x="3858.8" y="811.3" text-anchor="middle">66.32</text><text x="3951" y="811.3" text-anchor="middle">60.42</text><text x="4049" y="811.3" text-anchor="middle">93.89</text><text x="4140.6" y="811.3" text-anchor="middle">72.15</text><text x="4206.4" y="811.3" letter-spacing=".4">71.83<tspan font-size="16.5" dy="5.5" letter-spacing=".9">±3.21</tspan></text><text x="3180.7" y="837.9">CoTTA</text><text x="3399" y="837.9" text-anchor="middle">85.00</text><text x="3496.6" y="837.9" text-anchor="middle">63.68</text><text x="3594.6" y="837.9" text-anchor="middle">98.05</text><text x="3686.8" y="837.9" text-anchor="middle">76.32</text><text x="3773" y="837.9" text-anchor="middle">57.22</text><text x="3858.8" y="837.9" text-anchor="middle">72.08</text><text x="3951" y="837.9" text-anchor="middle">67.64</text><text x="4049" y="837.9" text-anchor="middle">94.63</text><text x="4140.6" y="837.9" text-anchor="middle">80.48</text><text x="4206.4" y="837.9" letter-spacing=".4">77.24<tspan font-size="16.5" dy="5.5" letter-spacing=".9">±1.51</tspan></text><text x="3180.7" y="864.5">SAR</text><text x="3399" y="864.5" text-anchor="middle">84.24</text><text x="3496.6" y="864.5" text-anchor="middle">63.40</text><text x="3594.6" y="864.5" text-anchor="middle">97.36</text><text x="3686.8" y="864.5" text-anchor="middle">76.25</text><text x="3773" y="864.5" text-anchor="middle">54.72</text><text x="3858.8" y="864.5" text-anchor="middle">69.10</text><text x="3951" y="864.5" text-anchor="middle">67.50</text><text x="4049" y="864.5" text-anchor="middle">93.54</text><text x="4140.6" y="864.5" text-anchor="middle">80.28</text><text x="4206.4" y="864.5" letter-spacing=".4">76.27<tspan font-size="16.5" dy="5.5" letter-spacing=".9">±1.92</tspan></text><text x="3180.7" y="891.1">T-TIME</text><text x="3399" y="891.1" text-anchor="middle">84.44</text><text x="3496.6" y="891.1" text-anchor="middle">61.94</text><text x="3594.6" y="891.1" text-anchor="middle">97.43</text><text x="3686.8" y="891.1" text-anchor="middle">76.11</text><text x="3773" y="891.1" text-anchor="middle">56.60</text><text x="3858.8" y="891.1" text-anchor="middle">69.38</text><text x="3951" y="891.1" text-anchor="middle">63.13</text><text x="4049" y="891.1" text-anchor="middle">94.65</text><text x="4140.6" y="891.1" text-anchor="middle">79.38</text><text x="4206.4" y="891.1" letter-spacing=".4">75.90<tspan font-size="16.5" dy="5.5" letter-spacing=".9">±1.95</tspan></text><text x="3180.7" y="917.8">OTTA</text><text x="3399" y="917.8" text-anchor="middle">84.43</text><text x="3496.6" y="917.8" text-anchor="middle">63.60</text><text x="3594.6" y="917.8" text-anchor="middle">97.14</text><text x="3686.8" y="917.8" text-anchor="middle">77.63</text><text x="3773" y="917.8" text-anchor="middle">57.63</text><text x="3858.8" y="917.8" text-anchor="middle">73.04</text><text x="3951" y="917.8" text-anchor="middle">66.44</text><text x="4049" y="917.8" text-anchor="middle">95.26</text><text x="4140.6" y="917.8" text-anchor="middle" font-weight="bold">83.14</text><text x="4206.4" y="917.8" letter-spacing=".4">77.58<tspan font-size="16.5" dy="5.5" letter-spacing=".9">±1.33</tspan></text><text x="3180.7" y="944.4">BTTA-DG</text><text x="3399" y="944.4" text-anchor="middle" font-weight="bold">87.51*</text><text x="3496.6" y="944.4" text-anchor="middle" font-weight="bold">66.67*</text><text x="3594.6" y="944.4" text-anchor="middle" font-weight="bold">98.61*</text><text x="3686.8" y="944.4" text-anchor="middle">77.08</text><text x="3773" y="944.4" text-anchor="middle">57.64</text><text x="3858.8" y="944.4" text-anchor="middle" font-weight="bold">73.61</text><text x="3951" y="944.4" text-anchor="middle" font-weight="bold">68.75*</text><text x="4049" y="944.4" text-anchor="middle" font-weight="bold">95.83*</text><text x="4140.6" y="944.4" text-anchor="middle">82.64</text><text x="4202.4" y="944.4" font-weight="bold" letter-spacing=".8">78.70<tspan font-size="15" dy="-7">*</tspan><tspan font-size="15.5" dy="13" dx="-7">±1.32</tspan></text></g><text x="3669.5" y="1021.6" font-size="49.5" text-anchor="middle" textLength="553" lengthAdjust="spacingAndGlyphs" font-family='"Liberation Sans", sans-serif'>Cross-session adaptation</text><g font-family='"Liberation Serif", serif' font-size="23.5" fill="#000"><line x1="3020" y1="1043" x2="4341" y2="1043" stroke="#000" stroke-width="2.4" /><line x1="3020" y1="1084" x2="4341" y2="1084" stroke="#000" stroke-width="1.6" /><line x1="3020" y1="1203" x2="4341" y2="1203" stroke="#000" stroke-width="1.6" /><line x1="3020" y1="1428.5" x2="4341" y2="1428.5" stroke="#000" stroke-width="2.4" /><text x="3035.7" y="1071.5" font-weight="bold">Setting</text><text x="3182" y="1071.5" font-weight="bold">Method</text><text x="3396.8" y="1071.5" font-weight="bold" text-anchor="middle">S0</text><text x="3481" y="1071.5" font-weight="bold" text-anchor="middle">S1</text><text x="3578" y="1071.5" font-weight="bold" text-anchor="middle">S2</text><text x="3681" y="1071.5" font-weight="bold" text-anchor="middle">S3</text><text x="3772" y="1071.5" font-weight="bold" text-anchor="middle">S4</text><text x="3863" y="1071.5" font-weight="bold" text-anchor="middle">S5</text><text x="3954" y="1071.5" font-weight="bold" text-anchor="middle">S6</text><text x="4051" y="1071.5" font-weight="bold" text-anchor="middle">S7</text><text x="4147.7" y="1071.5" font-weight="bold" text-anchor="middle">S8</text><text x="4266" y="1071.5" font-weight="bold" text-anchor="middle">Avg.</text><line x1="3354" y1="1051" x2="3354" y2="1078" stroke="#000" stroke-width="1.3" /><line x1="4191" y1="1051" x2="4191" y2="1078" stroke="#000" stroke-width="1.3" /><line x1="3354" y1="1092" x2="3354" y2="1198" stroke="#000" stroke-width="1.3" /><line x1="4191" y1="1092" x2="4191" y2="1198" stroke="#000" stroke-width="1.3" /><line x1="3354" y1="1211" x2="3354" y2="1422.5" stroke="#000" stroke-width="1.3" /><line x1="4191" y1="1211" x2="4191" y2="1422.5" stroke="#000" stroke-width="1.3" /><text x="3035.7" y="1137.5">Source</text><text x="3035.7" y="1323.3">Online TTA</text><text x="3182" y="1111">CSP</text><text x="3396.8" y="1111" text-anchor="middle">88.19</text><text x="3481" y="1111" text-anchor="middle">54.17</text><text x="3578" y="1111" text-anchor="middle">97.22</text><text x="3681" y="1111" text-anchor="middle">65.97</text><text x="3772" y="1111" text-anchor="middle">48.61</text><text x="3863" y="1111" text-anchor="middle">70.14</text><text x="3954" y="1111" text-anchor="middle">68.06</text><text x="4051" y="1111" text-anchor="middle">94.44</text><text x="4147.7" y="1111" text-anchor="middle">90.97</text><text x="4260" y="1111" text-anchor="middle">75.31</text><text x="3182" y="1137.5">EEGNet</text><text x="3396.8" y="1137.5" text-anchor="middle">86.81</text><text x="3481" y="1137.5" text-anchor="middle" font-weight="bold">63.54</text><text x="3578" y="1137.5" text-anchor="middle">94.65</text><text x="3681" y="1137.5" text-anchor="middle">70.97</text><text x="3772" y="1137.5" text-anchor="middle">72.92</text><text x="3863" y="1137.5" text-anchor="middle">68.61</text><text x="3954" y="1137.5" text-anchor="middle">73.26</text><text x="4051" y="1137.5" text-anchor="middle">93.47</text><text x="4147.7" y="1137.5" text-anchor="middle">92.71</text><text x="4213" y="1137.5" letter-spacing=".4">79.66<tspan font-size="16.5" dy="5.5" letter-spacing=".9">±2.52</tspan></text><text x="3182" y="1164">EEG Conformer</text><text x="3396.8" y="1164" text-anchor="middle">87.92</text><text x="3481" y="1164" text-anchor="middle">58.75</text><text x="3578" y="1164" text-anchor="middle">97.15</text><text x="3681" y="1164" text-anchor="middle">70.35</text><text x="3772" y="1164" text-anchor="middle">75.83</text><text x="3863" y="1164" text-anchor="middle">68.54</text><text x="3954" y="1164" text-anchor="middle">77.77</text><text x="4051" y="1164" text-anchor="middle">95.63</text><text x="4147.7" y="1164" text-anchor="middle">89.23</text><text x="4213" y="1164" letter-spacing=".4">80.13<tspan font-size="16.5" dy="5.5" letter-spacing=".9">±3.18</tspan></text><text x="3182" y="1190.5">SincAdaptNet</text><text x="3396.8" y="1190.5" text-anchor="middle">84.69</text><text x="3481" y="1190.5" text-anchor="middle">56.64</text><text x="3578" y="1190.5" text-anchor="middle">98.51</text><text x="3681" y="1190.5" text-anchor="middle">70.32</text><text x="3772" y="1190.5" text-anchor="middle">86.22</text><text x="3863" y="1190.5" text-anchor="middle">72.06</text><text x="3954" y="1190.5" text-anchor="middle">82.47</text><text x="4051" y="1190.5" text-anchor="middle">97.54</text><text x="4147.7" y="1190.5" text-anchor="middle">92.47</text><text x="4213" y="1190.5" letter-spacing=".4">82.33<tspan font-size="16.5" dy="5.5" letter-spacing=".9">±2.62</tspan></text><text x="3182" y="1230.6">BN-adapt</text><text x="3396.8" y="1230.6" text-anchor="middle">84.69</text><text x="3481" y="1230.6" text-anchor="middle">56.64</text><text x="3578" y="1230.6" text-anchor="middle">98.51</text><text x="3681" y="1230.6" text-anchor="middle">70.32</text><text x="3772" y="1230.6" text-anchor="middle">86.22</text><text x="3863" y="1230.6" text-anchor="middle">72.06</text><text x="3954" y="1230.6" text-anchor="middle">82.47</text><text x="4051" y="1230.6" text-anchor="middle">97.54</text><text x="4147.7" y="1230.6" text-anchor="middle">92.47</text><text x="4213" y="1230.6" letter-spacing=".4">82.33<tspan font-size="16.5" dy="5.5" letter-spacing=".9">±2.62</tspan></text><text x="3182" y="1257.1">Tent</text><text x="3396.8" y="1257.1" text-anchor="middle">80.35</text><text x="3481" y="1257.1" text-anchor="middle">51.18</text><text x="3578" y="1257.1" text-anchor="middle">99.03</text><text x="3681" y="1257.1" text-anchor="middle">57.92</text><text x="3772" y="1257.1" text-anchor="middle">64.38</text><text x="3863" y="1257.1" text-anchor="middle">62.22</text><text x="3954" y="1257.1" text-anchor="middle">64.51</text><text x="4051" y="1257.1" text-anchor="middle">93.06</text><text x="4147.7" y="1257.1" text-anchor="middle">90.83</text><text x="4213" y="1257.1" letter-spacing=".4">73.72<tspan font-size="16.5" dy="5.5" letter-spacing=".9">±4.77</tspan></text><text x="3182" y="1283.6">PL</text><text x="3396.8" y="1283.6" text-anchor="middle">77.71</text><text x="3481" y="1283.6" text-anchor="middle">51.74</text><text x="3578" y="1283.6" text-anchor="middle">98.75</text><text x="3681" y="1283.6" text-anchor="middle">58.13</text><text x="3772" y="1283.6" text-anchor="middle">75.28</text><text x="3863" y="1283.6" text-anchor="middle">64.58</text><text x="3954" y="1283.6" text-anchor="middle">68.75</text><text x="4051" y="1283.6" text-anchor="middle">97.01</text><text x="4147.7" y="1283.6" text-anchor="middle">91.46</text><text x="4213" y="1283.6" letter-spacing=".4">75.93<tspan font-size="16.5" dy="5.5" letter-spacing=".9">±4.72</tspan></text><text x="3182" y="1310.1">CoTTA</text><text x="3396.8" y="1310.1" text-anchor="middle">85.63</text><text x="3481" y="1310.1" text-anchor="middle">54.51</text><text x="3578" y="1310.1" text-anchor="middle">99.44</text><text x="3681" y="1310.1" text-anchor="middle">69.03</text><text x="3772" y="1310.1" text-anchor="middle">86.46</text><text x="3863" y="1310.1" text-anchor="middle">72.36</text><text x="3954" y="1310.1" text-anchor="middle">82.71</text><text x="4051" y="1310.1" text-anchor="middle">98.33</text><text x="4147.7" y="1310.1" text-anchor="middle">93.06</text><text x="4213" y="1310.1" letter-spacing=".4">82.39<tspan font-size="16.5" dy="5.5" letter-spacing=".9">±2.83</tspan></text><text x="3182" y="1336.6">SAR</text><text x="3396.8" y="1336.6" text-anchor="middle">86.32</text><text x="3481" y="1336.6" text-anchor="middle">55.00</text><text x="3578" y="1336.6" text-anchor="middle">99.24</text><text x="3681" y="1336.6" text-anchor="middle">71.11</text><text x="3772" y="1336.6" text-anchor="middle">86.11</text><text x="3863" y="1336.6" text-anchor="middle">70.49</text><text x="3954" y="1336.6" text-anchor="middle">82.92</text><text x="4051" y="1336.6" text-anchor="middle">96.53</text><text x="4147.7" y="1336.6" text-anchor="middle">91.88</text><text x="4213" y="1336.6" letter-spacing=".4">82.18<tspan font-size="16.5" dy="5.5" letter-spacing=".9">±2.99</tspan></text><text x="3182" y="1363.1">T-TIME</text><text x="3396.8" y="1363.1" text-anchor="middle">78.40</text><text x="3481" y="1363.1" text-anchor="middle">54.03</text><text x="3578" y="1363.1" text-anchor="middle">98.33</text><text x="3681" y="1363.1" text-anchor="middle">69.79</text><text x="3772" y="1363.1" text-anchor="middle">81.94</text><text x="3863" y="1363.1" text-anchor="middle">70.49</text><text x="3954" y="1363.1" text-anchor="middle">80.69</text><text x="4051" y="1363.1" text-anchor="middle">97.50</text><text x="4147.7" y="1363.1" text-anchor="middle">91.53</text><text x="4213" y="1363.1" letter-spacing=".4">80.30<tspan font-size="16.5" dy="5.5" letter-spacing=".9">±3.42</tspan></text><text x="3182" y="1389.6">OTTA</text><text x="3396.8" y="1389.6" text-anchor="middle" font-weight="bold">89.71</text><text x="3481" y="1389.6" text-anchor="middle">55.89</text><text x="3578" y="1389.6" text-anchor="middle">96.79</text><text x="3681" y="1389.6" text-anchor="middle">72.42</text><text x="3772" y="1389.6" text-anchor="middle">91.58</text><text x="3863" y="1389.6" text-anchor="middle">73.67</text><text x="3954" y="1389.6" text-anchor="middle">87.49</text><text x="4051" y="1389.6" text-anchor="middle">96.03</text><text x="4147.7" y="1389.6" text-anchor="middle">91.58</text><text x="4213" y="1389.6" letter-spacing=".4">83.91<tspan font-size="16.5" dy="5.5" letter-spacing=".9">±2.25</tspan></text><text x="3182" y="1416.1">BTTA-DG</text><text x="3396.8" y="1416.1" text-anchor="middle">85.42</text><text x="3481" y="1416.1" text-anchor="middle">62.50</text><text x="3578" y="1416.1" text-anchor="middle" font-weight="bold">100.00*</text><text x="3681" y="1416.1" text-anchor="middle" font-weight="bold">76.39*</text><text x="3772" y="1416.1" text-anchor="middle" font-weight="bold">91.67</text><text x="3863" y="1416.1" text-anchor="middle" font-weight="bold">77.78*</text><text x="3954" y="1416.1" text-anchor="middle" font-weight="bold">90.97</text><text x="4051" y="1416.1" text-anchor="middle" font-weight="bold">100.00*</text><text x="4147.7" y="1416.1" text-anchor="middle" font-weight="bold">93.75</text><text x="4209" y="1416.1" font-weight="bold" letter-spacing=".8">86.50<tspan font-size="15" dy="-7">*</tspan><tspan font-size="15.5" dy="13" dx="-7">±2.49</tspan></text></g><text x="3355.3" y="1498.7" font-size="49.5" text-anchor="middle" textLength="337.4" lengthAdjust="spacingAndGlyphs" font-family='"Liberation Sans", sans-serif'>SincConv filters</text><text x="4057.5" y="1498.7" font-size="49.5" text-anchor="middle" textLength="309" lengthAdjust="spacingAndGlyphs" font-family='"Liberation Sans", sans-serif'>GMM clusters</text><clipPath id="cpf"><rect x="3095" y="1520.4" width="550" height="412.6"/></clipPath><path d="M3095,1520.4 V1933 M3205,1520.4 V1933 M3315,1520.4 V1933 M3425,1520.4 V1933 M3535,1520.4 V1933 M3645,1520.4 V1933 M3095,1915.5 H3645 M3095,1857.5 H3645 M3095,1799.5 H3645 M3095,1741.5 H3645 M3095,1683.5 H3645 M3095,1625.5 H3645 M3095,1567.5 H3645 " fill="none" stroke="#b0b0b0" stroke-width="1.5"/><g clip-path="url(#cpf)"><path d="M3095.0,1837.8L3097.8,1834.7L3100.5,1825.5L3103.2,1810.3L3106.0,1789.7L3108.8,1764.3L3111.5,1735.1L3114.2,1703.3L3117.0,1670.4L3119.8,1638.2L3122.5,1608.5L3125.2,1583.1L3128.0,1563.6L3130.8,1551.3L3133.5,1547.2L3136.2,1551.4L3139.0,1563.7L3141.8,1583.3L3144.5,1609.0L3147.2,1639.1L3150.0,1671.9L3152.8,1705.6L3155.5,1738.8L3158.2,1770.1L3161.0,1798.6L3163.8,1823.7L3166.5,1845.0L3169.2,1862.6L3172.0,1876.7L3174.8,1887.7L3177.5,1896.0L3180.2,1902.1L3183.0,1906.6L3185.8,1909.7L3188.5,1911.8L3191.2,1913.2L3194.0,1914.1L3196.8,1914.7L3199.5,1915.0L3202.2,1915.2L3205.0,1915.3L3207.8,1915.4L3210.5,1915.5L3213.2,1915.5L3216.0,1915.5L3218.8,1915.5L3221.5,1915.5L3224.2,1915.5L3227.0,1915.5L3229.8,1915.5L3232.5,1915.5L3235.2,1915.5L3238.0,1915.5L3240.8,1915.5L3243.5,1915.5L3246.2,1915.5L3249.0,1915.5L3251.8,1915.5L3254.5,1915.5L3257.2,1915.5L3260.0,1915.5L3262.8,1915.5L3265.5,1915.5L3268.2,1915.5L3271.0,1915.5L3273.8,1915.5L3276.5,1915.5L3279.2,1915.5L3282.0,1915.5L3284.8,1915.5L3287.5,1915.5L3290.2,1915.5L3293.0,1915.5L3295.8,1915.5L3298.5,1915.5L3301.2,1915.5L3304.0,1915.5L3306.8,1915.5L3309.5,1915.5L3312.2,1915.5L3315.0,1915.5L3317.8,1915.5L3320.5,1915.5L3323.2,1915.5L3326.0,1915.5L3328.8,1915.5L3331.5,1915.5L3334.2,1915.5L3337.0,1915.5L3339.8,1915.5L3342.5,1915.5L3345.2,1915.5L3348.0,1915.5L3350.8,1915.5L3353.5,1915.5L3356.2,1915.5L3359.0,1915.5L3361.8,1915.5L3364.5,1915.5L3367.2,1915.5L3370.0,1915.5L3372.8,1915.5L3375.5,1915.5L3378.2,1915.5L3381.0,1915.5L3383.8,1915.5L3386.5,1915.5L3389.2,1915.5L3392.0,1915.5L3394.8,1915.5L3397.5,1915.5L3400.2,1915.5L3403.0,1915.5L3405.8,1915.5L3408.5,1915.5L3411.2,1915.5L3414.0,1915.5L3416.8,1915.5L3419.5,1915.5L3422.2,1915.5L3425.0,1915.5L3427.8,1915.5L3430.5,1915.5L3433.2,1915.5L3436.0,1915.5L3438.8,1915.5L3441.5,1915.5L3444.2,1915.5L3447.0,1915.5L3449.8,1915.5L3452.5,1915.5L3455.2,1915.5L3458.0,1915.5L3460.8,1915.5L3463.5,1915.5L3466.2,1915.5L3469.0,1915.5L3471.8,1915.5L3474.5,1915.5L3477.2,1915.5L3480.0,1915.5L3482.8,1915.5L3485.5,1915.5L3488.2,1915.5L3491.0,1915.5L3493.8,1915.5L3496.5,1915.5L3499.2,1915.5L3502.0,1915.5L3504.8,1915.5L3507.5,1915.5L3510.2,1915.5L3513.0,1915.5L3515.8,1915.5L3518.5,1915.5L3521.2,1915.5L3524.0,1915.5L3526.8,1915.5L3529.5,1915.5L3532.2,1915.5L3535.0,1915.5L3537.8,1915.5L3540.5,1915.5L3543.2,1915.5L3546.0,1915.5L3548.8,1915.5L3551.5,1915.5L3554.2,1915.5L3557.0,1915.5L3559.8,1915.5L3562.5,1915.5L3565.2,1915.5L3568.0,1915.5L3570.8,1915.5L3573.5,1915.5L3576.2,1915.5L3579.0,1915.5L3581.8,1915.5L3584.5,1915.5L3587.2,1915.5L3590.0,1915.5L3592.8,1915.5L3595.5,1915.5L3598.2,1915.5L3601.0,1915.5L3603.8,1915.5L3606.5,1915.5L3609.2,1915.5L3612.0,1915.5L3614.8,1915.5L3617.5,1915.5L3620.2,1915.5L3623.0,1915.5L3625.8,1915.5L3628.5,1915.5L3631.2,1915.5L3634.0,1915.5L3636.8,1915.5L3639.5,1915.5L3642.2,1915.5L3645.0,1915.5" fill="none" stroke="#7b9ff9" stroke-width="1.3" stroke-opacity=".45"/><path d="M3095.0,1914.5L3097.8,1914.4L3100.5,1913.9L3103.2,1913.1L3106.0,1911.7L3108.8,1909.6L3111.5,1906.6L3114.2,1902.1L3117.0,1896.0L3119.8,1887.7L3122.5,1876.7L3125.2,1862.6L3128.0,1845.0L3130.8,1823.7L3133.5,1798.6L3136.2,1770.1L3139.0,1738.8L3141.8,1705.6L3144.5,1671.9L3147.2,1639.1L3150.0,1609.0L3152.8,1583.3L3155.5,1563.7L3158.2,1551.4L3161.0,1547.2L3163.8,1551.4L3166.5,1563.7L3169.2,1583.3L3172.0,1609.0L3174.8,1639.1L3177.5,1671.9L3180.2,1705.6L3183.0,1738.8L3185.8,1770.1L3188.5,1798.6L3191.2,1823.7L3194.0,1845.0L3196.8,1862.6L3199.5,1876.7L3202.2,1887.7L3205.0,1896.0L3207.8,1902.1L3210.5,1906.6L3213.2,1909.7L3216.0,1911.8L3218.8,1913.2L3221.5,1914.1L3224.2,1914.7L3227.0,1915.0L3229.8,1915.2L3232.5,1915.3L3235.2,1915.4L3238.0,1915.5L3240.8,1915.5L3243.5,1915.5L3246.2,1915.5L3249.0,1915.5L3251.8,1915.5L3254.5,1915.5L3257.2,1915.5L3260.0,1915.5L3262.8,1915.5L3265.5,1915.5L3268.2,1915.5L3271.0,1915.5L3273.8,1915.5L3276.5,1915.5L3279.2,1915.5L3282.0,1915.5L3284.8,1915.5L3287.5,1915.5L3290.2,1915.5L3293.0,1915.5L3295.8,1915.5L3298.5,1915.5L3301.2,1915.5L3304.0,1915.5L3306.8,1915.5L3309.5,1915.5L3312.2,1915.5L3315.0,1915.5L3317.8,1915.5L3320.5,1915.5L3323.2,1915.5L3326.0,1915.5L3328.8,1915.5L3331.5,1915.5L3334.2,1915.5L3337.0,1915.5L3339.8,1915.5L3342.5,1915.5L3345.2,1915.5L3348.0,1915.5L3350.8,1915.5L3353.5,1915.5L3356.2,1915.5L3359.0,1915.5L3361.8,1915.5L3364.5,1915.5L3367.2,1915.5L3370.0,1915.5L3372.8,1915.5L3375.5,1915.5L3378.2,1915.5L3381.0,1915.5L3383.8,1915.5L3386.5,1915.5L3389.2,1915.5L3392.0,1915.5L3394.8,1915.5L3397.5,1915.5L3400.2,1915.5L3403.0,1915.5L3405.8,1915.5L3408.5,1915.5L3411.2,1915.5L3414.0,1915.5L3416.8,1915.5L3419.5,1915.5L3422.2,1915.5L3425.0,1915.5L3427.8,1915.5L3430.5,1915.5L3433.2,1915.5L3436.0,1915.5L3438.8,1915.5L3441.5,1915.5L3444.2,1915.5L3447.0,1915.5L3449.8,1915.5L3452.5,1915.5L3455.2,1915.5L3458.0,1915.5L3460.8,1915.5L3463.5,1915.5L3466.2,1915.5L3469.0,1915.5L3471.8,1915.5L3474.5,1915.5L3477.2,1915.5L3480.0,1915.5L3482.8,1915.5L3485.5,1915.5L3488.2,1915.5L3491.0,1915.5L3493.8,1915.5L3496.5,1915.5L3499.2,1915.5L3502.0,1915.5L3504.8,1915.5L3507.5,1915.5L3510.2,1915.5L3513.0,1915.5L3515.8,1915.5L3518.5,1915.5L3521.2,1915.5L3524.0,1915.5L3526.8,1915.5L3529.5,1915.5L3532.2,1915.5L3535.0,1915.5L3537.8,1915.5L3540.5,1915.5L3543.2,1915.5L3546.0,1915.5L3548.8,1915.5L3551.5,1915.5L3554.2,1915.5L3557.0,1915.5L3559.8,1915.5L3562.5,1915.5L3565.2,1915.5L3568.0,1915.5L3570.8,1915.5L3573.5,1915.5L3576.2,1915.5L3579.0,1915.5L3581.8,1915.5L3584.5,1915.5L3587.2,1915.5L3590.0,1915.5L3592.8,1915.5L3595.5,1915.5L3598.2,1915.5L3601.0,1915.5L3603.8,1915.5L3606.5,1915.5L3609.2,1915.5L3612.0,1915.5L3614.8,1915.5L3617.5,1915.5L3620.2,1915.5L3623.0,1915.5L3625.8,1915.5L3628.5,1915.5L3631.2,1915.5L3634.0,1915.5L3636.8,1915.5L3639.5,1915.5L3642.2,1915.5L3645.0,1915.5" fill="none" stroke="#aac7fd" stroke-width="1.3" stroke-opacity=".45"/><path d="M3095.0,1915.3L3097.8,1915.3L3100.5,1915.2L3103.2,1915.0L3106.0,1914.7L3108.8,1914.1L3111.5,1913.2L3114.2,1911.8L3117.0,1909.7L3119.8,1906.6L3122.5,1902.3L3125.2,1896.2L3128.0,1887.9L3130.8,1877.0L3133.5,1863.0L3136.2,1845.5L3139.0,1824.4L3141.8,1799.6L3144.5,1771.3L3147.2,1740.2L3150.0,1707.3L3152.8,1673.8L3155.5,1641.3L3158.2,1611.4L3161.0,1586.0L3163.8,1566.5L3166.5,1554.3L3169.2,1550.1L3172.0,1554.3L3174.8,1566.5L3177.5,1586.0L3180.2,1611.4L3183.0,1641.3L3185.8,1673.8L3188.5,1707.3L3191.2,1740.2L3194.0,1771.3L3196.8,1799.6L3199.5,1824.4L3202.2,1845.5L3205.0,1863.0L3207.8,1877.0L3210.5,1887.9L3213.2,1896.2L3216.0,1902.3L3218.8,1906.6L3221.5,1909.7L3224.2,1911.8L3227.0,1913.2L3229.8,1914.1L3232.5,1914.7L3235.2,1915.0L3238.0,1915.2L3240.8,1915.3L3243.5,1915.4L3246.2,1915.5L3249.0,1915.5L3251.8,1915.5L3254.5,1915.5L3257.2,1915.5L3260.0,1915.5L3262.8,1915.5L3265.5,1915.5L3268.2,1915.5L3271.0,1915.5L3273.8,1915.5L3276.5,1915.5L3279.2,1915.5L3282.0,1915.5L3284.8,1915.5L3287.5,1915.5L3290.2,1915.5L3293.0,1915.5L3295.8,1915.5L3298.5,1915.5L3301.2,1915.5L3304.0,1915.5L3306.8,1915.5L3309.5,1915.5L3312.2,1915.5L3315.0,1915.5L3317.8,1915.5L3320.5,1915.5L3323.2,1915.5L3326.0,1915.5L3328.8,1915.5L3331.5,1915.5L3334.2,1915.5L3337.0,1915.5L3339.8,1915.5L3342.5,1915.5L3345.2,1915.5L3348.0,1915.5L3350.8,1915.5L3353.5,1915.5L3356.2,1915.5L3359.0,1915.5L3361.8,1915.5L3364.5,1915.5L3367.2,1915.5L3370.0,1915.5L3372.8,1915.5L3375.5,1915.5L3378.2,1915.5L3381.0,1915.5L3383.8,1915.5L3386.5,1915.5L3389.2,1915.5L3392.0,1915.5L3394.8,1915.5L3397.5,1915.5L3400.2,1915.5L3403.0,1915.5L3405.8,1915.5L3408.5,1915.5L3411.2,1915.5L3414.0,1915.5L3416.8,1915.5L3419.5,1915.5L3422.2,1915.5L3425.0,1915.5L3427.8,1915.5L3430.5,1915.5L3433.2,1915.5L3436.0,1915.5L3438.8,1915.5L3441.5,1915.5L3444.2,1915.5L3447.0,1915.5L3449.8,1915.5L3452.5,1915.5L3455.2,1915.5L3458.0,1915.5L3460.8,1915.5L3463.5,1915.5L3466.2,1915.5L3469.0,1915.5L3471.8,1915.5L3474.5,1915.5L3477.2,1915.5L3480.0,1915.5L3482.8,1915.5L3485.5,1915.5L3488.2,1915.5L3491.0,1915.5L3493.8,1915.5L3496.5,1915.5L3499.2,1915.5L3502.0,1915.5L3504.8,1915.5L3507.5,1915.5L3510.2,1915.5L3513.0,1915.5L3515.8,1915.5L3518.5,1915.5L3521.2,1915.5L3524.0,1915.5L3526.8,1915.5L3529.5,1915.5L3532.2,1915.5L3535.0,1915.5L3537.8,1915.5L3540.5,1915.5L3543.2,1915.5L3546.0,1915.5L3548.8,1915.5L3551.5,1915.5L3554.2,1915.5L3557.0,1915.5L3559.8,1915.5L3562.5,1915.5L3565.2,1915.5L3568.0,1915.5L3570.8,1915.5L3573.5,1915.5L3576.2,1915.5L3579.0,1915.5L3581.8,1915.5L3584.5,1915.5L3587.2,1915.5L3590.0,1915.5L3592.8,1915.5L3595.5,1915.5L3598.2,1915.5L3601.0,1915.5L3603.8,1915.5L3606.5,1915.5L3609.2,1915.5L3612.0,1915.5L3614.8,1915.5L3617.5,1915.5L3620.2,1915.5L3623.0,1915.5L3625.8,1915.5L3628.5,1915.5L3631.2,1915.5L3634.0,1915.5L3636.8,1915.5L3639.5,1915.5L3642.2,1915.5L3645.0,1915.5" fill="none" stroke="#b9d0f9" stroke-width="1.3" stroke-opacity=".45"/><path d="M3095.0,1915.5L3097.8,1915.5L3100.5,1915.5L3103.2,1915.5L3106.0,1915.5L3108.8,1915.5L3111.5,1915.5L3114.2,1915.4L3117.0,1915.3L3119.8,1915.2L3122.5,1915.0L3125.2,1914.6L3128.0,1914.1L3130.8,1913.1L3133.5,1911.7L3136.2,1909.6L3139.0,1906.5L3141.8,1902.0L3144.5,1895.8L3147.2,1887.4L3150.0,1876.4L3152.8,1862.1L3155.5,1844.4L3158.2,1822.9L3161.0,1797.7L3163.8,1769.0L3166.5,1737.4L3169.2,1704.0L3172.0,1669.9L3174.8,1636.9L3177.5,1606.6L3180.2,1580.7L3183.0,1561.0L3185.8,1548.5L3188.5,1544.3L3191.2,1548.5L3194.0,1561.0L3196.8,1580.7L3199.5,1606.6L3202.2,1636.9L3205.0,1669.9L3207.8,1704.0L3210.5,1737.4L3213.2,1769.0L3216.0,1797.7L3218.8,1822.9L3221.5,1844.4L3224.2,1862.1L3227.0,1876.4L3229.8,1887.4L3232.5,1895.8L3235.2,1902.0L3238.0,1906.5L3240.8,1909.6L3243.5,1911.7L3246.2,1913.1L3249.0,1914.1L3251.8,1914.6L3254.5,1915.0L3257.2,1915.2L3260.0,1915.3L3262.8,1915.4L3265.5,1915.5L3268.2,1915.5L3271.0,1915.5L3273.8,1915.5L3276.5,1915.5L3279.2,1915.5L3282.0,1915.5L3284.8,1915.5L3287.5,1915.5L3290.2,1915.5L3293.0,1915.5L3295.8,1915.5L3298.5,1915.5L3301.2,1915.5L3304.0,1915.5L3306.8,1915.5L3309.5,1915.5L3312.2,1915.5L3315.0,1915.5L3317.8,1915.5L3320.5,1915.5L3323.2,1915.5L3326.0,1915.5L3328.8,1915.5L3331.5,1915.5L3334.2,1915.5L3337.0,1915.5L3339.8,1915.5L3342.5,1915.5L3345.2,1915.5L3348.0,1915.5L3350.8,1915.5L3353.5,1915.5L3356.2,1915.5L3359.0,1915.5L3361.8,1915.5L3364.5,1915.5L3367.2,1915.5L3370.0,1915.5L3372.8,1915.5L3375.5,1915.5L3378.2,1915.5L3381.0,1915.5L3383.8,1915.5L3386.5,1915.5L3389.2,1915.5L3392.0,1915.5L3394.8,1915.5L3397.5,1915.5L3400.2,1915.5L3403.0,1915.5L3405.8,1915.5L3408.5,1915.5L3411.2,1915.5L3414.0,1915.5L3416.8,1915.5L3419.5,1915.5L3422.2,1915.5L3425.0,1915.5L3427.8,1915.5L3430.5,1915.5L3433.2,1915.5L3436.0,1915.5L3438.8,1915.5L3441.5,1915.5L3444.2,1915.5L3447.0,1915.5L3449.8,1915.5L3452.5,1915.5L3455.2,1915.5L3458.0,1915.5L3460.8,1915.5L3463.5,1915.5L3466.2,1915.5L3469.0,1915.5L3471.8,1915.5L3474.5,1915.5L3477.2,1915.5L3480.0,1915.5L3482.8,1915.5L3485.5,1915.5L3488.2,1915.5L3491.0,1915.5L3493.8,1915.5L3496.5,1915.5L3499.2,1915.5L3502.0,1915.5L3504.8,1915.5L3507.5,1915.5L3510.2,1915.5L3513.0,1915.5L3515.8,1915.5L3518.5,1915.5L3521.2,1915.5L3524.0,1915.5L3526.8,1915.5L3529.5,1915.5L3532.2,1915.5L3535.0,1915.5L3537.8,1915.5L3540.5,1915.5L3543.2,1915.5L3546.0,1915.5L3548.8,1915.5L3551.5,1915.5L3554.2,1915.5L3557.0,1915.5L3559.8,1915.5L3562.5,1915.5L3565.2,1915.5L3568.0,1915.5L3570.8,1915.5L3573.5,1915.5L3576.2,1915.5L3579.0,1915.5L3581.8,1915.5L3584.5,1915.5L3587.2,1915.5L3590.0,1915.5L3592.8,1915.5L3595.5,1915.5L3598.2,1915.5L3601.0,1915.5L3603.8,1915.5L3606.5,1915.5L3609.2,1915.5L3612.0,1915.5L3614.8,1915.5L3617.5,1915.5L3620.2,1915.5L3623.0,1915.5L3625.8,1915.5L3628.5,1915.5L3631.2,1915.5L3634.0,1915.5L3636.8,1915.5L3639.5,1915.5L3642.2,1915.5L3645.0,1915.5" fill="none" stroke="#d1dae9" stroke-width="1.3" stroke-opacity=".45"/><path d="M3095.0,1915.5L3097.8,1915.5L3100.5,1915.5L3103.2,1915.5L3106.0,1915.5L3108.8,1915.5L3111.5,1915.5L3114.2,1915.5L3117.0,1915.5L3119.8,1915.5L3122.5,1915.5L3125.2,1915.5L3128.0,1915.5L3130.8,1915.5L3133.5,1915.5L3136.2,1915.4L3139.0,1915.3L3141.8,1915.2L3144.5,1915.0L3147.2,1914.6L3150.0,1914.1L3152.8,1913.1L3155.5,1911.7L3158.2,1909.6L3161.0,1906.5L3163.8,1902.0L3166.5,1895.8L3169.2,1887.4L3172.0,1876.4L3174.8,1862.1L3177.5,1844.4L3180.2,1822.9L3183.0,1797.7L3185.8,1769.0L3188.5,1737.4L3191.2,1704.0L3194.0,1669.9L3196.8,1636.9L3199.5,1606.6L3202.2,1580.7L3205.0,1561.0L3207.8,1548.5L3210.5,1544.3L3213.2,1548.5L3216.0,1561.0L3218.8,1580.7L3221.5,1606.6L3224.2,1636.9L3227.0,1669.9L3229.8,1704.0L3232.5,1737.4L3235.2,1769.0L3238.0,1797.7L3240.8,1822.9L3243.5,1844.4L3246.2,1862.1L3249.0,1876.4L3251.8,1887.4L3254.5,1895.8L3257.2,1902.0L3260.0,1906.5L3262.8,1909.6L3265.5,1911.7L3268.2,1913.1L3271.0,1914.1L3273.8,1914.6L3276.5,1915.0L3279.2,1915.2L3282.0,1915.3L3284.8,1915.4L3287.5,1915.5L3290.2,1915.5L3293.0,1915.5L3295.8,1915.5L3298.5,1915.5L3301.2,1915.5L3304.0,1915.5L3306.8,1915.5L3309.5,1915.5L3312.2,1915.5L3315.0,1915.5L3317.8,1915.5L3320.5,1915.5L3323.2,1915.5L3326.0,1915.5L3328.8,1915.5L3331.5,1915.5L3334.2,1915.5L3337.0,1915.5L3339.8,1915.5L3342.5,1915.5L3345.2,1915.5L3348.0,1915.5L3350.8,1915.5L3353.5,1915.5L3356.2,1915.5L3359.0,1915.5L3361.8,1915.5L3364.5,1915.5L3367.2,1915.5L3370.0,1915.5L3372.8,1915.5L3375.5,1915.5L3378.2,1915.5L3381.0,1915.5L3383.8,1915.5L3386.5,1915.5L3389.2,1915.5L3392.0,1915.5L3394.8,1915.5L3397.5,1915.5L3400.2,1915.5L3403.0,1915.5L3405.8,1915.5L3408.5,1915.5L3411.2,1915.5L3414.0,1915.5L3416.8,1915.5L3419.5,1915.5L3422.2,1915.5L3425.0,1915.5L3427.8,1915.5L3430.5,1915.5L3433.2,1915.5L3436.0,1915.5L3438.8,1915.5L3441.5,1915.5L3444.2,1915.5L3447.0,1915.5L3449.8,1915.5L3452.5,1915.5L3455.2,1915.5L3458.0,1915.5L3460.8,1915.5L3463.5,1915.5L3466.2,1915.5L3469.0,1915.5L3471.8,1915.5L3474.5,1915.5L3477.2,1915.5L3480.0,1915.5L3482.8,1915.5L3485.5,1915.5L3488.2,1915.5L3491.0,1915.5L3493.8,1915.5L3496.5,1915.5L3499.2,1915.5L3502.0,1915.5L3504.8,1915.5L3507.5,1915.5L3510.2,1915.5L3513.0,1915.5L3515.8,1915.5L3518.5,1915.5L3521.2,1915.5L3524.0,1915.5L3526.8,1915.5L3529.5,1915.5L3532.2,1915.5L3535.0,1915.5L3537.8,1915.5L3540.5,1915.5L3543.2,1915.5L3546.0,1915.5L3548.8,1915.5L3551.5,1915.5L3554.2,1915.5L3557.0,1915.5L3559.8,1915.5L3562.5,1915.5L3565.2,1915.5L3568.0,1915.5L3570.8,1915.5L3573.5,1915.5L3576.2,1915.5L3579.0,1915.5L3581.8,1915.5L3584.5,1915.5L3587.2,1915.5L3590.0,1915.5L3592.8,1915.5L3595.5,1915.5L3598.2,1915.5L3601.0,1915.5L3603.8,1915.5L3606.5,1915.5L3609.2,1915.5L3612.0,1915.5L3614.8,1915.5L3617.5,1915.5L3620.2,1915.5L3623.0,1915.5L3625.8,1915.5L3628.5,1915.5L3631.2,1915.5L3634.0,1915.5L3636.8,1915.5L3639.5,1915.5L3642.2,1915.5L3645.0,1915.5" fill="none" stroke="#c9d7f0" stroke-width="1.3" stroke-opacity=".45"/><path d="M3095.0,1915.5L3097.8,1915.5L3100.5,1915.5L3103.2,1915.5L3106.0,1915.5L3108.8,1915.5L3111.5,1915.5L3114.2,1915.5L3117.0,1915.5L3119.8,1915.5L3122.5,1915.5L3125.2,1915.5L3128.0,1915.5L3130.8,1915.5L3133.5,1915.5L3136.2,1915.5L3139.0,1915.5L3141.8,1915.5L3144.5,1915.5L3147.2,1915.5L3150.0,1915.5L3152.8,1915.5L3155.5,1915.5L3158.2,1915.5L3161.0,1915.5L3163.8,1915.5L3166.5,1915.5L3169.2,1915.5L3172.0,1915.4L3174.8,1915.3L3177.5,1915.2L3180.2,1915.0L3183.0,1914.6L3185.8,1914.1L3188.5,1913.1L3191.2,1911.7L3194.0,1909.6L3196.8,1906.5L3199.5,1902.0L3202.2,1895.8L3205.0,1887.4L3207.8,1876.4L3210.5,1862.1L3213.2,1844.4L3216.0,1822.9L3218.8,1797.7L3221.5,1769.0L3224.2,1737.4L3227.0,1704.0L3229.8,1669.9L3232.5,1636.9L3235.2,1606.6L3238.0,1580.7L3240.8,1561.0L3243.5,1548.5L3246.2,1544.3L3249.0,1548.5L3251.8,1561.0L3254.5,1580.7L3257.2,1606.6L3260.0,1636.9L3262.8,1669.9L3265.5,1704.0L3268.2,1737.4L3271.0,1769.0L3273.8,1797.7L3276.5,1822.9L3279.2,1844.4L3282.0,1862.1L3284.8,1876.4L3287.5,1887.4L3290.2,1895.8L3293.0,1902.0L3295.8,1906.5L3298.5,1909.6L3301.2,1911.7L3304.0,1913.1L3306.8,1914.1L3309.5,1914.6L3312.2,1915.0L3315.0,1915.2L3317.8,1915.3L3320.5,1915.4L3323.2,1915.5L3326.0,1915.5L3328.8,1915.5L3331.5,1915.5L3334.2,1915.5L3337.0,1915.5L3339.8,1915.5L3342.5,1915.5L3345.2,1915.5L3348.0,1915.5L3350.8,1915.5L3353.5,1915.5L3356.2,1915.5L3359.0,1915.5L3361.8,1915.5L3364.5,1915.5L3367.2,1915.5L3370.0,1915.5L3372.8,1915.5L3375.5,1915.5L3378.2,1915.5L3381.0,1915.5L3383.8,1915.5L3386.5,1915.5L3389.2,1915.5L3392.0,1915.5L3394.8,1915.5L3397.5,1915.5L3400.2,1915.5L3403.0,1915.5L3405.8,1915.5L3408.5,1915.5L3411.2,1915.5L3414.0,1915.5L3416.8,1915.5L3419.5,1915.5L3422.2,1915.5L3425.0,1915.5L3427.8,1915.5L3430.5,1915.5L3433.2,1915.5L3436.0,1915.5L3438.8,1915.5L3441.5,1915.5L3444.2,1915.5L3447.0,1915.5L3449.8,1915.5L3452.5,1915.5L3455.2,1915.5L3458.0,1915.5L3460.8,1915.5L3463.5,1915.5L3466.2,1915.5L3469.0,1915.5L3471.8,1915.5L3474.5,1915.5L3477.2,1915.5L3480.0,1915.5L3482.8,1915.5L3485.5,1915.5L3488.2,1915.5L3491.0,1915.5L3493.8,1915.5L3496.5,1915.5L3499.2,1915.5L3502.0,1915.5L3504.8,1915.5L3507.5,1915.5L3510.2,1915.5L3513.0,1915.5L3515.8,1915.5L3518.5,1915.5L3521.2,1915.5L3524.0,1915.5L3526.8,1915.5L3529.5,1915.5L3532.2,1915.5L3535.0,1915.5L3537.8,1915.5L3540.5,1915.5L3543.2,1915.5L3546.0,1915.5L3548.8,1915.5L3551.5,1915.5L3554.2,1915.5L3557.0,1915.5L3559.8,1915.5L3562.5,1915.5L3565.2,1915.5L3568.0,1915.5L3570.8,1915.5L3573.5,1915.5L3576.2,1915.5L3579.0,1915.5L3581.8,1915.5L3584.5,1915.5L3587.2,1915.5L3590.0,1915.5L3592.8,1915.5L3595.5,1915.5L3598.2,1915.5L3601.0,1915.5L3603.8,1915.5L3606.5,1915.5L3609.2,1915.5L3612.0,1915.5L3614.8,1915.5L3617.5,1915.5L3620.2,1915.5L3623.0,1915.5L3625.8,1915.5L3628.5,1915.5L3631.2,1915.5L3634.0,1915.5L3636.8,1915.5L3639.5,1915.5L3642.2,1915.5L3645.0,1915.5" fill="none" stroke="#e6d7cf" stroke-width="1.3" stroke-opacity=".45"/><path d="M3095.0,1915.5L3097.8,1915.5L3100.5,1915.5L3103.2,1915.5L3106.0,1915.5L3108.8,1915.5L3111.5,1915.5L3114.2,1915.5L3117.0,1915.5L3119.8,1915.5L3122.5,1915.5L3125.2,1915.5L3128.0,1915.5L3130.8,1915.5L3133.5,1915.5L3136.2,1915.5L3139.0,1915.5L3141.8,1915.5L3144.5,1915.5L3147.2,1915.5L3150.0,1915.5L3152.8,1915.5L3155.5,1915.5L3158.2,1915.5L3161.0,1915.5L3163.8,1915.5L3166.5,1915.5L3169.2,1915.5L3172.0,1915.5L3174.8,1915.5L3177.5,1915.5L3180.2,1915.5L3183.0,1915.5L3185.8,1915.5L3188.5,1915.5L3191.2,1915.5L3194.0,1915.5L3196.8,1915.5L3199.5,1915.5L3202.2,1915.4L3205.0,1915.3L3207.8,1915.2L3210.5,1915.0L3213.2,1914.6L3216.0,1914.1L3218.8,1913.1L3221.5,1911.7L3224.2,1909.6L3227.0,1906.4L3229.8,1901.9L3232.5,1895.7L3235.2,1887.2L3238.0,1876.1L3240.8,1861.7L3243.5,1843.9L3246.2,1822.2L3249.0,1796.8L3251.8,1767.9L3254.5,1736.0L3257.2,1702.3L3260.0,1668.0L3262.8,1634.7L3265.5,1604.2L3268.2,1578.1L3271.0,1558.2L3273.8,1545.7L3276.5,1541.4L3279.2,1545.7L3282.0,1558.2L3284.8,1578.1L3287.5,1604.2L3290.2,1634.7L3293.0,1668.0L3295.8,1702.3L3298.5,1736.0L3301.2,1767.9L3304.0,1796.8L3306.8,1822.2L3309.5,1843.9L3312.2,1861.7L3315.0,1876.1L3317.8,1887.2L3320.5,1895.7L3323.2,1901.9L3326.0,1906.4L3328.8,1909.6L3331.5,1911.7L3334.2,1913.1L3337.0,1914.1L3339.8,1914.6L3342.5,1915.0L3345.2,1915.2L3348.0,1915.3L3350.8,1915.4L3353.5,1915.5L3356.2,1915.5L3359.0,1915.5L3361.8,1915.5L3364.5,1915.5L3367.2,1915.5L3370.0,1915.5L3372.8,1915.5L3375.5,1915.5L3378.2,1915.5L3381.0,1915.5L3383.8,1915.5L3386.5,1915.5L3389.2,1915.5L3392.0,1915.5L3394.8,1915.5L3397.5,1915.5L3400.2,1915.5L3403.0,1915.5L3405.8,1915.5L3408.5,1915.5L3411.2,1915.5L3414.0,1915.5L3416.8,1915.5L3419.5,1915.5L3422.2,1915.5L3425.0,1915.5L3427.8,1915.5L3430.5,1915.5L3433.2,1915.5L3436.0,1915.5L3438.8,1915.5L3441.5,1915.5L3444.2,1915.5L3447.0,1915.5L3449.8,1915.5L3452.5,1915.5L3455.2,1915.5L3458.0,1915.5L3460.8,1915.5L3463.5,1915.5L3466.2,1915.5L3469.0,1915.5L3471.8,1915.5L3474.5,1915.5L3477.2,1915.5L3480.0,1915.5L3482.8,1915.5L3485.5,1915.5L3488.2,1915.5L3491.0,1915.5L3493.8,1915.5L3496.5,1915.5L3499.2,1915.5L3502.0,1915.5L3504.8,1915.5L3507.5,1915.5L3510.2,1915.5L3513.0,1915.5L3515.8,1915.5L3518.5,1915.5L3521.2,1915.5L3524.0,1915.5L3526.8,1915.5L3529.5,1915.5L3532.2,1915.5L3535.0,1915.5L3537.8,1915.5L3540.5,1915.5L3543.2,1915.5L3546.0,1915.5L3548.8,1915.5L3551.5,1915.5L3554.2,1915.5L3557.0,1915.5L3559.8,1915.5L3562.5,1915.5L3565.2,1915.5L3568.0,1915.5L3570.8,1915.5L3573.5,1915.5L3576.2,1915.5L3579.0,1915.5L3581.8,1915.5L3584.5,1915.5L3587.2,1915.5L3590.0,1915.5L3592.8,1915.5L3595.5,1915.5L3598.2,1915.5L3601.0,1915.5L3603.8,1915.5L3606.5,1915.5L3609.2,1915.5L3612.0,1915.5L3614.8,1915.5L3617.5,1915.5L3620.2,1915.5L3623.0,1915.5L3625.8,1915.5L3628.5,1915.5L3631.2,1915.5L3634.0,1915.5L3636.8,1915.5L3639.5,1915.5L3642.2,1915.5L3645.0,1915.5" fill="none" stroke="#f5c4ac" stroke-width="1.3" stroke-opacity=".45"/><path d="M3095.0,1915.5L3097.8,1915.5L3100.5,1915.5L3103.2,1915.5L3106.0,1915.5L3108.8,1915.5L3111.5,1915.5L3114.2,1915.5L3117.0,1915.5L3119.8,1915.5L3122.5,1915.5L3125.2,1915.5L3128.0,1915.5L3130.8,1915.5L3133.5,1915.5L3136.2,1915.5L3139.0,1915.5L3141.8,1915.5L3144.5,1915.5L3147.2,1915.5L3150.0,1915.5L3152.8,1915.5L3155.5,1915.5L3158.2,1915.5L3161.0,1915.5L3163.8,1915.5L3166.5,1915.5L3169.2,1915.5L3172.0,1915.5L3174.8,1915.5L3177.5,1915.5L3180.2,1915.5L3183.0,1915.5L3185.8,1915.5L3188.5,1915.5L3191.2,1915.5L3194.0,1915.5L3196.8,1915.5L3199.5,1915.5L3202.2,1915.5L3205.0,1915.5L3207.8,1915.4L3210.5,1915.3L3213.2,1915.2L3216.0,1915.0L3218.8,1914.6L3221.5,1914.1L3224.2,1913.1L3227.0,1911.7L3229.8,1909.6L3232.5,1906.5L3235.2,1902.0L3238.0,1895.8L3240.8,1887.4L3243.5,1876.4L3246.2,1862.1L3249.0,1844.4L3251.8,1822.9L3254.5,1797.7L3257.2,1769.0L3260.0,1737.4L3262.8,1704.0L3265.5,1669.9L3268.2,1636.9L3271.0,1606.6L3273.8,1580.7L3276.5,1561.0L3279.2,1548.5L3282.0,1544.3L3284.8,1548.5L3287.5,1561.0L3290.2,1580.7L3293.0,1606.6L3295.8,1636.9L3298.5,1669.9L3301.2,1704.0L3304.0,1737.4L3306.8,1769.0L3309.5,1797.7L3312.2,1822.9L3315.0,1844.4L3317.8,1862.1L3320.5,1876.4L3323.2,1887.4L3326.0,1895.8L3328.8,1902.0L3331.5,1906.5L3334.2,1909.6L3337.0,1911.7L3339.8,1913.1L3342.5,1914.1L3345.2,1914.6L3348.0,1915.0L3350.8,1915.2L3353.5,1915.3L3356.2,1915.4L3359.0,1915.5L3361.8,1915.5L3364.5,1915.5L3367.2,1915.5L3370.0,1915.5L3372.8,1915.5L3375.5,1915.5L3378.2,1915.5L3381.0,1915.5L3383.8,1915.5L3386.5,1915.5L3389.2,1915.5L3392.0,1915.5L3394.8,1915.5L3397.5,1915.5L3400.2,1915.5L3403.0,1915.5L3405.8,1915.5L3408.5,1915.5L3411.2,1915.5L3414.0,1915.5L3416.8,1915.5L3419.5,1915.5L3422.2,1915.5L3425.0,1915.5L3427.8,1915.5L3430.5,1915.5L3433.2,1915.5L3436.0,1915.5L3438.8,1915.5L3441.5,1915.5L3444.2,1915.5L3447.0,1915.5L3449.8,1915.5L3452.5,1915.5L3455.2,1915.5L3458.0,1915.5L3460.8,1915.5L3463.5,1915.5L3466.2,1915.5L3469.0,1915.5L3471.8,1915.5L3474.5,1915.5L3477.2,1915.5L3480.0,1915.5L3482.8,1915.5L3485.5,1915.5L3488.2,1915.5L3491.0,1915.5L3493.8,1915.5L3496.5,1915.5L3499.2,1915.5L3502.0,1915.5L3504.8,1915.5L3507.5,1915.5L3510.2,1915.5L3513.0,1915.5L3515.8,1915.5L3518.5,1915.5L3521.2,1915.5L3524.0,1915.5L3526.8,1915.5L3529.5,1915.5L3532.2,1915.5L3535.0,1915.5L3537.8,1915.5L3540.5,1915.5L3543.2,1915.5L3546.0,1915.5L3548.8,1915.5L3551.5,1915.5L3554.2,1915.5L3557.0,1915.5L3559.8,1915.5L3562.5,1915.5L3565.2,1915.5L3568.0,1915.5L3570.8,1915.5L3573.5,1915.5L3576.2,1915.5L3579.0,1915.5L3581.8,1915.5L3584.5,1915.5L3587.2,1915.5L3590.0,1915.5L3592.8,1915.5L3595.5,1915.5L3598.2,1915.5L3601.0,1915.5L3603.8,1915.5L3606.5,1915.5L3609.2,1915.5L3612.0,1915.5L3614.8,1915.5L3617.5,1915.5L3620.2,1915.5L3623.0,1915.5L3625.8,1915.5L3628.5,1915.5L3631.2,1915.5L3634.0,1915.5L3636.8,1915.5L3639.5,1915.5L3642.2,1915.5L3645.0,1915.5" fill="none" stroke="#f7b89c" stroke-width="1.3" stroke-opacity=".45"/><path d="M3095.0,1915.5L3097.8,1915.5L3100.5,1915.5L3103.2,1915.5L3106.0,1915.5L3108.8,1915.5L3111.5,1915.5L3114.2,1915.5L3117.0,1915.5L3119.8,1915.5L3122.5,1915.5L3125.2,1915.5L3128.0,1915.5L3130.8,1915.5L3133.5,1915.5L3136.2,1915.5L3139.0,1915.5L3141.8,1915.5L3144.5,1915.5L3147.2,1915.5L3150.0,1915.5L3152.8,1915.5L3155.5,1915.5L3158.2,1915.5L3161.0,1915.5L3163.8,1915.5L3166.5,1915.5L3169.2,1915.5L3172.0,1915.5L3174.8,1915.5L3177.5,1915.5L3180.2,1915.5L3183.0,1915.5L3185.8,1915.5L3188.5,1915.5L3191.2,1915.5L3194.0,1915.5L3196.8,1915.5L3199.5,1915.5L3202.2,1915.5L3205.0,1915.5L3207.8,1915.5L3210.5,1915.5L3213.2,1915.5L3216.0,1915.5L3218.8,1915.5L3221.5,1915.5L3224.2,1915.5L3227.0,1915.5L3229.8,1915.5L3232.5,1915.5L3235.2,1915.5L3238.0,1915.5L3240.8,1915.5L3243.5,1915.5L3246.2,1915.5L3249.0,1915.5L3251.8,1915.5L3254.5,1915.5L3257.2,1915.5L3260.0,1915.5L3262.8,1915.5L3265.5,1915.5L3268.2,1915.5L3271.0,1915.5L3273.8,1915.4L3276.5,1915.3L3279.2,1915.2L3282.0,1915.0L3284.8,1914.6L3287.5,1914.1L3290.2,1913.1L3293.0,1911.7L3295.8,1909.6L3298.5,1906.4L3301.2,1901.9L3304.0,1895.7L3306.8,1887.2L3309.5,1876.1L3312.2,1861.7L3315.0,1843.9L3317.8,1822.2L3320.5,1796.8L3323.2,1767.9L3326.0,1736.0L3328.8,1702.3L3331.5,1668.0L3334.2,1634.7L3337.0,1604.2L3339.8,1578.1L3342.5,1558.2L3345.2,1545.7L3348.0,1541.4L3350.8,1545.7L3353.5,1558.2L3356.2,1578.1L3359.0,1604.2L3361.8,1634.7L3364.5,1668.0L3367.2,1702.3L3370.0,1736.0L3372.8,1767.9L3375.5,1796.8L3378.2,1822.2L3381.0,1843.9L3383.8,1861.7L3386.5,1876.1L3389.2,1887.2L3392.0,1895.7L3394.8,1901.9L3397.5,1906.4L3400.2,1909.6L3403.0,1911.7L3405.8,1913.1L3408.5,1914.1L3411.2,1914.6L3414.0,1915.0L3416.8,1915.2L3419.5,1915.3L3422.2,1915.4L3425.0,1915.5L3427.8,1915.5L3430.5,1915.5L3433.2,1915.5L3436.0,1915.5L3438.8,1915.5L3441.5,1915.5L3444.2,1915.5L3447.0,1915.5L3449.8,1915.5L3452.5,1915.5L3455.2,1915.5L3458.0,1915.5L3460.8,1915.5L3463.5,1915.5L3466.2,1915.5L3469.0,1915.5L3471.8,1915.5L3474.5,1915.5L3477.2,1915.5L3480.0,1915.5L3482.8,1915.5L3485.5,1915.5L3488.2,1915.5L3491.0,1915.5L3493.8,1915.5L3496.5,1915.5L3499.2,1915.5L3502.0,1915.5L3504.8,1915.5L3507.5,1915.5L3510.2,1915.5L3513.0,1915.5L3515.8,1915.5L3518.5,1915.5L3521.2,1915.5L3524.0,1915.5L3526.8,1915.5L3529.5,1915.5L3532.2,1915.5L3535.0,1915.5L3537.8,1915.5L3540.5,1915.5L3543.2,1915.5L3546.0,1915.5L3548.8,1915.5L3551.5,1915.5L3554.2,1915.5L3557.0,1915.5L3559.8,1915.5L3562.5,1915.5L3565.2,1915.5L3568.0,1915.5L3570.8,1915.5L3573.5,1915.5L3576.2,1915.5L3579.0,1915.5L3581.8,1915.5L3584.5,1915.5L3587.2,1915.5L3590.0,1915.5L3592.8,1915.5L3595.5,1915.5L3598.2,1915.5L3601.0,1915.5L3603.8,1915.5L3606.5,1915.5L3609.2,1915.5L3612.0,1915.5L3614.8,1915.5L3617.5,1915.5L3620.2,1915.5L3623.0,1915.5L3625.8,1915.5L3628.5,1915.5L3631.2,1915.5L3634.0,1915.5L3636.8,1915.5L3639.5,1915.5L3642.2,1915.5L3645.0,1915.5" fill="none" stroke="#f39778" stroke-width="1.3" stroke-opacity=".45"/><path d="M3095.0,1915.5L3097.8,1915.5L3100.5,1915.5L3103.2,1915.5L3106.0,1915.5L3108.8,1915.5L3111.5,1915.5L3114.2,1915.5L3117.0,1915.5L3119.8,1915.5L3122.5,1915.5L3125.2,1915.5L3128.0,1915.5L3130.8,1915.5L3133.5,1915.5L3136.2,1915.5L3139.0,1915.5L3141.8,1915.5L3144.5,1915.5L3147.2,1915.5L3150.0,1915.5L3152.8,1915.5L3155.5,1915.5L3158.2,1915.5L3161.0,1915.5L3163.8,1915.5L3166.5,1915.5L3169.2,1915.5L3172.0,1915.5L3174.8,1915.5L3177.5,1915.5L3180.2,1915.5L3183.0,1915.5L3185.8,1915.5L3188.5,1915.5L3191.2,1915.5L3194.0,1915.5L3196.8,1915.5L3199.5,1915.5L3202.2,1915.5L3205.0,1915.5L3207.8,1915.5L3210.5,1915.5L3213.2,1915.5L3216.0,1915.5L3218.8,1915.5L3221.5,1915.5L3224.2,1915.5L3227.0,1915.5L3229.8,1915.5L3232.5,1915.5L3235.2,1915.5L3238.0,1915.5L3240.8,1915.5L3243.5,1915.5L3246.2,1915.5L3249.0,1915.5L3251.8,1915.5L3254.5,1915.5L3257.2,1915.5L3260.0,1915.5L3262.8,1915.5L3265.5,1915.5L3268.2,1915.5L3271.0,1915.5L3273.8,1915.5L3276.5,1915.5L3279.2,1915.5L3282.0,1915.5L3284.8,1915.5L3287.5,1915.5L3290.2,1915.5L3293.0,1915.5L3295.8,1915.5L3298.5,1915.5L3301.2,1915.5L3304.0,1915.5L3306.8,1915.5L3309.5,1915.5L3312.2,1915.5L3315.0,1915.5L3317.8,1915.5L3320.5,1915.5L3323.2,1915.5L3326.0,1915.5L3328.8,1915.4L3331.5,1915.3L3334.2,1915.2L3337.0,1915.0L3339.8,1914.6L3342.5,1914.1L3345.2,1913.1L3348.0,1911.7L3350.8,1909.6L3353.5,1906.4L3356.2,1901.9L3359.0,1895.7L3361.8,1887.2L3364.5,1876.1L3367.2,1861.7L3370.0,1843.9L3372.8,1822.2L3375.5,1796.8L3378.2,1767.9L3381.0,1736.0L3383.8,1702.3L3386.5,1668.0L3389.2,1634.7L3392.0,1604.2L3394.8,1578.1L3397.5,1558.2L3400.2,1545.7L3403.0,1541.4L3405.8,1545.7L3408.5,1558.2L3411.2,1578.1L3414.0,1604.2L3416.8,1634.7L3419.5,1668.0L3422.2,1702.3L3425.0,1736.0L3427.8,1767.9L3430.5,1796.8L3433.2,1822.2L3436.0,1843.9L3438.8,1861.7L3441.5,1876.1L3444.2,1887.2L3447.0,1895.7L3449.8,1901.9L3452.5,1906.4L3455.2,1909.6L3458.0,1911.7L3460.8,1913.1L3463.5,1914.1L3466.2,1914.6L3469.0,1915.0L3471.8,1915.2L3474.5,1915.3L3477.2,1915.4L3480.0,1915.5L3482.8,1915.5L3485.5,1915.5L3488.2,1915.5L3491.0,1915.5L3493.8,1915.5L3496.5,1915.5L3499.2,1915.5L3502.0,1915.5L3504.8,1915.5L3507.5,1915.5L3510.2,1915.5L3513.0,1915.5L3515.8,1915.5L3518.5,1915.5L3521.2,1915.5L3524.0,1915.5L3526.8,1915.5L3529.5,1915.5L3532.2,1915.5L3535.0,1915.5L3537.8,1915.5L3540.5,1915.5L3543.2,1915.5L3546.0,1915.5L3548.8,1915.5L3551.5,1915.5L3554.2,1915.5L3557.0,1915.5L3559.8,1915.5L3562.5,1915.5L3565.2,1915.5L3568.0,1915.5L3570.8,1915.5L3573.5,1915.5L3576.2,1915.5L3579.0,1915.5L3581.8,1915.5L3584.5,1915.5L3587.2,1915.5L3590.0,1915.5L3592.8,1915.5L3595.5,1915.5L3598.2,1915.5L3601.0,1915.5L3603.8,1915.5L3606.5,1915.5L3609.2,1915.5L3612.0,1915.5L3614.8,1915.5L3617.5,1915.5L3620.2,1915.5L3623.0,1915.5L3625.8,1915.5L3628.5,1915.5L3631.2,1915.5L3634.0,1915.5L3636.8,1915.5L3639.5,1915.5L3642.2,1915.5L3645.0,1915.5" fill="none" stroke="#e36c55" stroke-width="1.3" stroke-opacity=".45"/><path d="M3095.0,1915.5L3097.8,1915.5L3100.5,1915.5L3103.2,1915.5L3106.0,1915.5L3108.8,1915.5L3111.5,1915.5L3114.2,1915.5L3117.0,1915.5L3119.8,1915.5L3122.5,1915.5L3125.2,1915.5L3128.0,1915.5L3130.8,1915.5L3133.5,1915.5L3136.2,1915.5L3139.0,1915.5L3141.8,1915.5L3144.5,1915.5L3147.2,1915.5L3150.0,1915.5L3152.8,1915.5L3155.5,1915.5L3158.2,1915.5L3161.0,1915.5L3163.8,1915.5L3166.5,1915.5L3169.2,1915.5L3172.0,1915.5L3174.8,1915.5L3177.5,1915.5L3180.2,1915.5L3183.0,1915.5L3185.8,1915.5L3188.5,1915.5L3191.2,1915.5L3194.0,1915.5L3196.8,1915.5L3199.5,1915.5L3202.2,1915.5L3205.0,1915.5L3207.8,1915.5L3210.5,1915.5L3213.2,1915.5L3216.0,1915.5L3218.8,1915.5L3221.5,1915.5L3224.2,1915.5L3227.0,1915.4L3229.8,1915.4L3232.5,1915.3L3235.2,1915.1L3238.0,1914.8L3240.8,1914.4L3243.5,1913.7L3246.2,1912.8L3249.0,1911.3L3251.8,1909.3L3254.5,1906.5L3257.2,1902.6L3260.0,1897.4L3262.8,1890.7L3265.5,1882.1L3268.2,1871.6L3271.0,1858.8L3273.8,1843.8L3276.5,1826.6L3279.2,1807.6L3282.0,1787.2L3284.8,1766.0L3287.5,1744.8L3290.2,1724.5L3293.0,1706.1L3295.8,1690.6L3298.5,1678.9L3301.2,1671.5L3304.0,1669.0L3306.8,1671.5L3309.5,1678.9L3312.2,1690.6L3315.0,1706.1L3317.8,1724.5L3320.5,1744.8L3323.2,1766.0L3326.0,1787.2L3328.8,1807.6L3331.5,1826.6L3334.2,1843.8L3337.0,1858.8L3339.8,1871.6L3342.5,1882.1L3345.2,1890.7L3348.0,1897.4L3350.8,1902.6L3353.5,1906.5L3356.2,1909.3L3359.0,1911.3L3361.8,1912.8L3364.5,1913.7L3367.2,1914.4L3370.0,1914.8L3372.8,1915.1L3375.5,1915.3L3378.2,1915.4L3381.0,1915.4L3383.8,1915.5L3386.5,1915.5L3389.2,1915.5L3392.0,1915.5L3394.8,1915.5L3397.5,1915.5L3400.2,1915.5L3403.0,1915.5L3405.8,1915.5L3408.5,1915.5L3411.2,1915.5L3414.0,1915.5L3416.8,1915.5L3419.5,1915.5L3422.2,1915.5L3425.0,1915.5L3427.8,1915.5L3430.5,1915.5L3433.2,1915.5L3436.0,1915.5L3438.8,1915.5L3441.5,1915.5L3444.2,1915.5L3447.0,1915.5L3449.8,1915.5L3452.5,1915.5L3455.2,1915.5L3458.0,1915.5L3460.8,1915.5L3463.5,1915.5L3466.2,1915.5L3469.0,1915.5L3471.8,1915.5L3474.5,1915.5L3477.2,1915.5L3480.0,1915.5L3482.8,1915.5L3485.5,1915.5L3488.2,1915.5L3491.0,1915.5L3493.8,1915.5L3496.5,1915.5L3499.2,1915.5L3502.0,1915.5L3504.8,1915.5L3507.5,1915.5L3510.2,1915.5L3513.0,1915.5L3515.8,1915.5L3518.5,1915.5L3521.2,1915.5L3524.0,1915.5L3526.8,1915.5L3529.5,1915.5L3532.2,1915.5L3535.0,1915.5L3537.8,1915.5L3540.5,1915.5L3543.2,1915.5L3546.0,1915.5L3548.8,1915.5L3551.5,1915.5L3554.2,1915.5L3557.0,1915.5L3559.8,1915.5L3562.5,1915.5L3565.2,1915.5L3568.0,1915.5L3570.8,1915.5L3573.5,1915.5L3576.2,1915.5L3579.0,1915.5L3581.8,1915.5L3584.5,1915.5L3587.2,1915.5L3590.0,1915.5L3592.8,1915.5L3595.5,1915.5L3598.2,1915.5L3601.0,1915.5L3603.8,1915.5L3606.5,1915.5L3609.2,1915.5L3612.0,1915.5L3614.8,1915.5L3617.5,1915.5L3620.2,1915.5L3623.0,1915.5L3625.8,1915.5L3628.5,1915.5L3631.2,1915.5L3634.0,1915.5L3636.8,1915.5L3639.5,1915.5L3642.2,1915.5L3645.0,1915.5" fill="none" stroke="#f6bfa6" stroke-width="1.3" stroke-opacity=".45"/><path d="M3095.0,1915.5L3097.8,1915.5L3100.5,1915.5L3103.2,1915.5L3106.0,1915.5L3108.8,1915.5L3111.5,1915.5L3114.2,1915.5L3117.0,1915.5L3119.8,1915.5L3122.5,1915.5L3125.2,1915.5L3128.0,1915.5L3130.8,1915.5L3133.5,1915.5L3136.2,1915.5L3139.0,1915.5L3141.8,1915.5L3144.5,1915.5L3147.2,1915.5L3150.0,1915.5L3152.8,1915.5L3155.5,1915.5L3158.2,1915.5L3161.0,1915.5L3163.8,1915.5L3166.5,1915.5L3169.2,1915.5L3172.0,1915.5L3174.8,1915.5L3177.5,1915.5L3180.2,1915.5L3183.0,1915.5L3185.8,1915.5L3188.5,1915.5L3191.2,1915.5L3194.0,1915.5L3196.8,1915.5L3199.5,1915.5L3202.2,1915.5L3205.0,1915.5L3207.8,1915.5L3210.5,1915.5L3213.2,1915.5L3216.0,1915.5L3218.8,1915.5L3221.5,1915.5L3224.2,1915.5L3227.0,1915.5L3229.8,1915.5L3232.5,1915.5L3235.2,1915.5L3238.0,1915.5L3240.8,1915.5L3243.5,1915.5L3246.2,1915.5L3249.0,1915.5L3251.8,1915.5L3254.5,1915.5L3257.2,1915.5L3260.0,1915.5L3262.8,1915.5L3265.5,1915.5L3268.2,1915.5L3271.0,1915.5L3273.8,1915.5L3276.5,1915.5L3279.2,1915.5L3282.0,1915.5L3284.8,1915.5L3287.5,1915.5L3290.2,1915.5L3293.0,1915.5L3295.8,1915.5L3298.5,1915.5L3301.2,1915.5L3304.0,1915.5L3306.8,1915.5L3309.5,1915.5L3312.2,1915.5L3315.0,1915.5L3317.8,1915.5L3320.5,1915.5L3323.2,1915.5L3326.0,1915.5L3328.8,1915.5L3331.5,1915.5L3334.2,1915.5L3337.0,1915.5L3339.8,1915.5L3342.5,1915.5L3345.2,1915.5L3348.0,1915.4L3350.8,1915.4L3353.5,1915.3L3356.2,1915.2L3359.0,1915.0L3361.8,1914.7L3364.5,1914.3L3367.2,1913.7L3370.0,1912.8L3372.8,1911.6L3375.5,1910.0L3378.2,1907.8L3381.0,1904.9L3383.8,1901.2L3386.5,1896.4L3389.2,1890.3L3392.0,1882.9L3394.8,1874.0L3397.5,1863.4L3400.2,1851.2L3403.0,1837.4L3405.8,1822.0L3408.5,1805.3L3411.2,1787.7L3414.0,1769.5L3416.8,1751.4L3419.5,1733.8L3422.2,1717.5L3425.0,1703.1L3427.8,1691.1L3430.5,1682.2L3433.2,1676.7L3436.0,1674.8L3438.8,1676.7L3441.5,1682.2L3444.2,1691.1L3447.0,1703.1L3449.8,1717.5L3452.5,1733.8L3455.2,1751.4L3458.0,1769.5L3460.8,1787.7L3463.5,1805.3L3466.2,1822.0L3469.0,1837.4L3471.8,1851.2L3474.5,1863.4L3477.2,1874.0L3480.0,1882.9L3482.8,1890.3L3485.5,1896.4L3488.2,1901.2L3491.0,1904.9L3493.8,1907.8L3496.5,1910.0L3499.2,1911.6L3502.0,1912.8L3504.8,1913.7L3507.5,1914.3L3510.2,1914.7L3513.0,1915.0L3515.8,1915.2L3518.5,1915.3L3521.2,1915.4L3524.0,1915.4L3526.8,1915.5L3529.5,1915.5L3532.2,1915.5L3535.0,1915.5L3537.8,1915.5L3540.5,1915.5L3543.2,1915.5L3546.0,1915.5L3548.8,1915.5L3551.5,1915.5L3554.2,1915.5L3557.0,1915.5L3559.8,1915.5L3562.5,1915.5L3565.2,1915.5L3568.0,1915.5L3570.8,1915.5L3573.5,1915.5L3576.2,1915.5L3579.0,1915.5L3581.8,1915.5L3584.5,1915.5L3587.2,1915.5L3590.0,1915.5L3592.8,1915.5L3595.5,1915.5L3598.2,1915.5L3601.0,1915.5L3603.8,1915.5L3606.5,1915.5L3609.2,1915.5L3612.0,1915.5L3614.8,1915.5L3617.5,1915.5L3620.2,1915.5L3623.0,1915.5L3625.8,1915.5L3628.5,1915.5L3631.2,1915.5L3634.0,1915.5L3636.8,1915.5L3639.5,1915.5L3642.2,1915.5L3645.0,1915.5" fill="none" stroke="#e8765c" stroke-width="1.3" stroke-opacity=".45"/><path d="M3095.0,1681.8L3097.8,1678.3L3100.5,1668.3L3103.2,1652.7L3106.0,1633.0L3108.8,1611.2L3111.5,1589.5L3114.2,1570.0L3117.0,1554.8L3119.8,1545.6L3122.5,1543.5L3125.2,1549.1L3128.0,1562.3L3130.8,1582.5L3133.5,1608.5L3136.2,1638.8L3139.0,1671.7L3141.8,1705.6L3144.5,1738.8L3147.2,1770.1L3150.0,1798.6L3152.8,1823.7L3155.5,1845.0L3158.2,1862.6L3161.0,1876.7L3163.8,1887.7L3166.5,1896.0L3169.2,1902.1L3172.0,1906.6L3174.8,1909.7L3177.5,1911.8L3180.2,1913.2L3183.0,1914.1L3185.8,1914.7L3188.5,1915.0L3191.2,1915.2L3194.0,1915.3L3196.8,1915.4L3199.5,1915.5L3202.2,1915.5L3205.0,1915.5L3207.8,1915.5L3210.5,1915.5L3213.2,1915.5L3216.0,1915.5L3218.8,1915.5L3221.5,1915.5L3224.2,1915.5L3227.0,1915.5L3229.8,1915.5L3232.5,1915.5L3235.2,1915.5L3238.0,1915.5L3240.8,1915.5L3243.5,1915.5L3246.2,1915.5L3249.0,1915.5L3251.8,1915.5L3254.5,1915.5L3257.2,1915.5L3260.0,1915.5L3262.8,1915.5L3265.5,1915.5L3268.2,1915.5L3271.0,1915.5L3273.8,1915.5L3276.5,1915.5L3279.2,1915.5L3282.0,1915.5L3284.8,1915.5L3287.5,1915.5L3290.2,1915.5L3293.0,1915.5L3295.8,1915.5L3298.5,1915.5L3301.2,1915.5L3304.0,1915.5L3306.8,1915.5L3309.5,1915.5L3312.2,1915.5L3315.0,1915.5L3317.8,1915.5L3320.5,1915.5L3323.2,1915.5L3326.0,1915.5L3328.8,1915.5L3331.5,1915.5L3334.2,1915.5L3337.0,1915.5L3339.8,1915.5L3342.5,1915.5L3345.2,1915.5L3348.0,1915.5L3350.8,1915.5L3353.5,1915.5L3356.2,1915.5L3359.0,1915.5L3361.8,1915.5L3364.5,1915.5L3367.2,1915.5L3370.0,1915.5L3372.8,1915.5L3375.5,1915.5L3378.2,1915.5L3381.0,1915.5L3383.8,1915.5L3386.5,1915.5L3389.2,1915.5L3392.0,1915.5L3394.8,1915.5L3397.5,1915.5L3400.2,1915.5L3403.0,1915.5L3405.8,1915.5L3408.5,1915.5L3411.2,1915.5L3414.0,1915.5L3416.8,1915.5L3419.5,1915.5L3422.2,1915.5L3425.0,1915.5L3427.8,1915.5L3430.5,1915.5L3433.2,1915.5L3436.0,1915.5L3438.8,1915.5L3441.5,1915.5L3444.2,1915.5L3447.0,1915.5L3449.8,1915.5L3452.5,1915.5L3455.2,1915.5L3458.0,1915.5L3460.8,1915.5L3463.5,1915.5L3466.2,1915.5L3469.0,1915.5L3471.8,1915.5L3474.5,1915.5L3477.2,1915.5L3480.0,1915.5L3482.8,1915.5L3485.5,1915.5L3488.2,1915.5L3491.0,1915.5L3493.8,1915.5L3496.5,1915.5L3499.2,1915.5L3502.0,1915.5L3504.8,1915.5L3507.5,1915.5L3510.2,1915.5L3513.0,1915.5L3515.8,1915.5L3518.5,1915.5L3521.2,1915.5L3524.0,1915.5L3526.8,1915.5L3529.5,1915.5L3532.2,1915.5L3535.0,1915.5L3537.8,1915.5L3540.5,1915.5L3543.2,1915.5L3546.0,1915.5L3548.8,1915.5L3551.5,1915.5L3554.2,1915.5L3557.0,1915.5L3559.8,1915.5L3562.5,1915.5L3565.2,1915.5L3568.0,1915.5L3570.8,1915.5L3573.5,1915.5L3576.2,1915.5L3579.0,1915.5L3581.8,1915.5L3584.5,1915.5L3587.2,1915.5L3590.0,1915.5L3592.8,1915.5L3595.5,1915.5L3598.2,1915.5L3601.0,1915.5L3603.8,1915.5L3606.5,1915.5L3609.2,1915.5L3612.0,1915.5L3614.8,1915.5L3617.5,1915.5L3620.2,1915.5L3623.0,1915.5L3625.8,1915.5L3628.5,1915.5L3631.2,1915.5L3634.0,1915.5L3636.8,1915.5L3639.5,1915.5L3642.2,1915.5L3645.0,1915.5" fill="none" stroke="#5a78e4" stroke-width="1.3" stroke-opacity=".45"/><path d="M3095.0,1633.9L3097.8,1631.8L3100.5,1625.7L3103.2,1616.0L3106.0,1603.6L3108.8,1589.6L3111.5,1575.0L3114.2,1561.3L3117.0,1549.5L3119.8,1540.9L3122.5,1536.4L3125.2,1536.6L3128.0,1541.9L3130.8,1552.3L3133.5,1567.6L3136.2,1587.3L3139.0,1610.6L3141.8,1636.6L3144.5,1664.4L3147.2,1692.9L3150.0,1721.3L3152.8,1748.8L3155.5,1774.6L3158.2,1798.4L3161.0,1819.6L3163.8,1838.3L3166.5,1854.3L3169.2,1867.8L3172.0,1878.8L3174.8,1887.8L3177.5,1894.9L3180.2,1900.4L3183.0,1904.7L3185.8,1907.8L3188.5,1910.1L3191.2,1911.8L3194.0,1913.0L3196.8,1913.8L3199.5,1914.4L3202.2,1914.8L3205.0,1915.1L3207.8,1915.2L3210.5,1915.3L3213.2,1915.4L3216.0,1915.4L3218.8,1915.5L3221.5,1915.5L3224.2,1915.5L3227.0,1915.5L3229.8,1915.5L3232.5,1915.5L3235.2,1915.5L3238.0,1915.5L3240.8,1915.5L3243.5,1915.5L3246.2,1915.5L3249.0,1915.5L3251.8,1915.5L3254.5,1915.5L3257.2,1915.5L3260.0,1915.5L3262.8,1915.5L3265.5,1915.5L3268.2,1915.5L3271.0,1915.5L3273.8,1915.5L3276.5,1915.5L3279.2,1915.5L3282.0,1915.5L3284.8,1915.5L3287.5,1915.5L3290.2,1915.5L3293.0,1915.5L3295.8,1915.5L3298.5,1915.5L3301.2,1915.5L3304.0,1915.5L3306.8,1915.5L3309.5,1915.5L3312.2,1915.5L3315.0,1915.5L3317.8,1915.5L3320.5,1915.5L3323.2,1915.5L3326.0,1915.5L3328.8,1915.5L3331.5,1915.5L3334.2,1915.5L3337.0,1915.5L3339.8,1915.5L3342.5,1915.5L3345.2,1915.5L3348.0,1915.5L3350.8,1915.5L3353.5,1915.5L3356.2,1915.5L3359.0,1915.5L3361.8,1915.5L3364.5,1915.5L3367.2,1915.5L3370.0,1915.5L3372.8,1915.5L3375.5,1915.5L3378.2,1915.5L3381.0,1915.5L3383.8,1915.5L3386.5,1915.5L3389.2,1915.5L3392.0,1915.5L3394.8,1915.5L3397.5,1915.5L3400.2,1915.5L3403.0,1915.5L3405.8,1915.5L3408.5,1915.5L3411.2,1915.5L3414.0,1915.5L3416.8,1915.5L3419.5,1915.5L3422.2,1915.5L3425.0,1915.5L3427.8,1915.5L3430.5,1915.5L3433.2,1915.5L3436.0,1915.5L3438.8,1915.5L3441.5,1915.5L3444.2,1915.5L3447.0,1915.5L3449.8,1915.5L3452.5,1915.5L3455.2,1915.5L3458.0,1915.5L3460.8,1915.5L3463.5,1915.5L3466.2,1915.5L3469.0,1915.5L3471.8,1915.5L3474.5,1915.5L3477.2,1915.5L3480.0,1915.5L3482.8,1915.5L3485.5,1915.5L3488.2,1915.5L3491.0,1915.5L3493.8,1915.5L3496.5,1915.5L3499.2,1915.5L3502.0,1915.5L3504.8,1915.5L3507.5,1915.5L3510.2,1915.5L3513.0,1915.5L3515.8,1915.5L3518.5,1915.5L3521.2,1915.5L3524.0,1915.5L3526.8,1915.5L3529.5,1915.5L3532.2,1915.5L3535.0,1915.5L3537.8,1915.5L3540.5,1915.5L3543.2,1915.5L3546.0,1915.5L3548.8,1915.5L3551.5,1915.5L3554.2,1915.5L3557.0,1915.5L3559.8,1915.5L3562.5,1915.5L3565.2,1915.5L3568.0,1915.5L3570.8,1915.5L3573.5,1915.5L3576.2,1915.5L3579.0,1915.5L3581.8,1915.5L3584.5,1915.5L3587.2,1915.5L3590.0,1915.5L3592.8,1915.5L3595.5,1915.5L3598.2,1915.5L3601.0,1915.5L3603.8,1915.5L3606.5,1915.5L3609.2,1915.5L3612.0,1915.5L3614.8,1915.5L3617.5,1915.5L3620.2,1915.5L3623.0,1915.5L3625.8,1915.5L3628.5,1915.5L3631.2,1915.5L3634.0,1915.5L3636.8,1915.5L3639.5,1915.5L3642.2,1915.5L3645.0,1915.5" fill="none" stroke="#3b4cc0" stroke-width="3"/><path d="M3095.0,1893.0L3097.8,1891.5L3100.5,1887.1L3103.2,1879.5L3106.0,1868.6L3108.8,1854.1L3111.5,1835.9L3114.2,1814.0L3117.0,1788.4L3119.8,1759.5L3122.5,1728.2L3125.2,1695.2L3128.0,1662.0L3130.8,1630.0L3133.5,1600.8L3136.2,1576.1L3139.0,1557.2L3141.8,1545.4L3144.5,1541.4L3147.2,1545.4L3150.0,1557.2L3152.8,1576.1L3155.5,1600.8L3158.2,1630.0L3161.0,1662.0L3163.8,1695.3L3166.5,1728.2L3169.2,1759.7L3172.0,1788.6L3174.8,1814.4L3177.5,1836.7L3180.2,1855.3L3183.0,1870.6L3185.8,1882.7L3188.5,1892.0L3191.2,1899.1L3194.0,1904.2L3196.8,1908.0L3199.5,1910.6L3202.2,1912.3L3205.0,1913.5L3207.8,1914.3L3210.5,1914.8L3213.2,1915.1L3216.0,1915.2L3218.8,1915.4L3221.5,1915.4L3224.2,1915.5L3227.0,1915.5L3229.8,1915.5L3232.5,1915.5L3235.2,1915.5L3238.0,1915.5L3240.8,1915.5L3243.5,1915.5L3246.2,1915.5L3249.0,1915.5L3251.8,1915.5L3254.5,1915.5L3257.2,1915.5L3260.0,1915.5L3262.8,1915.5L3265.5,1915.5L3268.2,1915.5L3271.0,1915.5L3273.8,1915.5L3276.5,1915.5L3279.2,1915.5L3282.0,1915.5L3284.8,1915.5L3287.5,1915.5L3290.2,1915.5L3293.0,1915.5L3295.8,1915.5L3298.5,1915.5L3301.2,1915.5L3304.0,1915.5L3306.8,1915.5L3309.5,1915.5L3312.2,1915.5L3315.0,1915.5L3317.8,1915.5L3320.5,1915.5L3323.2,1915.5L3326.0,1915.5L3328.8,1915.5L3331.5,1915.5L3334.2,1915.5L3337.0,1915.5L3339.8,1915.5L3342.5,1915.5L3345.2,1915.5L3348.0,1915.5L3350.8,1915.5L3353.5,1915.5L3356.2,1915.5L3359.0,1915.5L3361.8,1915.5L3364.5,1915.5L3367.2,1915.5L3370.0,1915.5L3372.8,1915.5L3375.5,1915.5L3378.2,1915.5L3381.0,1915.5L3383.8,1915.5L3386.5,1915.5L3389.2,1915.5L3392.0,1915.5L3394.8,1915.5L3397.5,1915.5L3400.2,1915.5L3403.0,1915.5L3405.8,1915.5L3408.5,1915.5L3411.2,1915.5L3414.0,1915.5L3416.8,1915.5L3419.5,1915.5L3422.2,1915.5L3425.0,1915.5L3427.8,1915.5L3430.5,1915.5L3433.2,1915.5L3436.0,1915.5L3438.8,1915.5L3441.5,1915.5L3444.2,1915.5L3447.0,1915.5L3449.8,1915.5L3452.5,1915.5L3455.2,1915.5L3458.0,1915.5L3460.8,1915.5L3463.5,1915.5L3466.2,1915.5L3469.0,1915.5L3471.8,1915.5L3474.5,1915.5L3477.2,1915.5L3480.0,1915.5L3482.8,1915.5L3485.5,1915.5L3488.2,1915.5L3491.0,1915.5L3493.8,1915.5L3496.5,1915.5L3499.2,1915.5L3502.0,1915.5L3504.8,1915.5L3507.5,1915.5L3510.2,1915.5L3513.0,1915.5L3515.8,1915.5L3518.5,1915.5L3521.2,1915.5L3524.0,1915.5L3526.8,1915.5L3529.5,1915.5L3532.2,1915.5L3535.0,1915.5L3537.8,1915.5L3540.5,1915.5L3543.2,1915.5L3546.0,1915.5L3548.8,1915.5L3551.5,1915.5L3554.2,1915.5L3557.0,1915.5L3559.8,1915.5L3562.5,1915.5L3565.2,1915.5L3568.0,1915.5L3570.8,1915.5L3573.5,1915.5L3576.2,1915.5L3579.0,1915.5L3581.8,1915.5L3584.5,1915.5L3587.2,1915.5L3590.0,1915.5L3592.8,1915.5L3595.5,1915.5L3598.2,1915.5L3601.0,1915.5L3603.8,1915.5L3606.5,1915.5L3609.2,1915.5L3612.0,1915.5L3614.8,1915.5L3617.5,1915.5L3620.2,1915.5L3623.0,1915.5L3625.8,1915.5L3628.5,1915.5L3631.2,1915.5L3634.0,1915.5L3636.8,1915.5L3639.5,1915.5L3642.2,1915.5L3645.0,1915.5" fill="none" stroke="#6788ee" stroke-width="3"/><path d="M3095.0,1915.5L3097.8,1915.5L3100.5,1915.5L3103.2,1915.5L3106.0,1915.5L3108.8,1915.5L3111.5,1915.5L3114.2,1915.5L3117.0,1915.5L3119.8,1915.5L3122.5,1915.5L3125.2,1915.5L3128.0,1915.5L3130.8,1915.5L3133.5,1915.5L3136.2,1915.5L3139.0,1915.5L3141.8,1915.5L3144.5,1915.4L3147.2,1915.4L3150.0,1915.3L3152.8,1915.2L3155.5,1914.9L3158.2,1914.5L3161.0,1913.9L3163.8,1912.9L3166.5,1911.3L3169.2,1909.0L3172.0,1905.6L3174.8,1900.8L3177.5,1894.2L3180.2,1885.2L3183.0,1873.5L3185.8,1858.5L3188.5,1839.8L3191.2,1817.4L3194.0,1791.3L3196.8,1761.7L3199.5,1729.4L3202.2,1695.5L3205.0,1661.2L3207.8,1628.3L3210.5,1598.5L3213.2,1573.6L3216.0,1555.1L3218.8,1544.1L3221.5,1541.6L3224.2,1547.5L3227.0,1561.6L3229.8,1582.9L3232.5,1610.0L3235.2,1641.2L3238.0,1674.9L3240.8,1709.2L3243.5,1742.6L3246.2,1773.9L3249.0,1802.2L3251.8,1826.9L3254.5,1847.7L3257.2,1864.9L3260.0,1878.5L3262.8,1889.1L3265.5,1897.1L3268.2,1903.0L3271.0,1907.1L3273.8,1910.1L3276.5,1912.0L3279.2,1913.3L3282.0,1914.2L3284.8,1914.7L3287.5,1915.0L3290.2,1915.2L3293.0,1915.4L3295.8,1915.4L3298.5,1915.5L3301.2,1915.5L3304.0,1915.5L3306.8,1915.5L3309.5,1915.5L3312.2,1915.5L3315.0,1915.5L3317.8,1915.5L3320.5,1915.5L3323.2,1915.5L3326.0,1915.5L3328.8,1915.5L3331.5,1915.5L3334.2,1915.5L3337.0,1915.5L3339.8,1915.5L3342.5,1915.5L3345.2,1915.5L3348.0,1915.5L3350.8,1915.5L3353.5,1915.5L3356.2,1915.5L3359.0,1915.5L3361.8,1915.5L3364.5,1915.5L3367.2,1915.5L3370.0,1915.5L3372.8,1915.5L3375.5,1915.5L3378.2,1915.5L3381.0,1915.5L3383.8,1915.5L3386.5,1915.5L3389.2,1915.5L3392.0,1915.5L3394.8,1915.5L3397.5,1915.5L3400.2,1915.5L3403.0,1915.5L3405.8,1915.5L3408.5,1915.5L3411.2,1915.5L3414.0,1915.5L3416.8,1915.5L3419.5,1915.5L3422.2,1915.5L3425.0,1915.5L3427.8,1915.5L3430.5,1915.5L3433.2,1915.5L3436.0,1915.5L3438.8,1915.5L3441.5,1915.5L3444.2,1915.5L3447.0,1915.5L3449.8,1915.5L3452.5,1915.5L3455.2,1915.5L3458.0,1915.5L3460.8,1915.5L3463.5,1915.5L3466.2,1915.5L3469.0,1915.5L3471.8,1915.5L3474.5,1915.5L3477.2,1915.5L3480.0,1915.5L3482.8,1915.5L3485.5,1915.5L3488.2,1915.5L3491.0,1915.5L3493.8,1915.5L3496.5,1915.5L3499.2,1915.5L3502.0,1915.5L3504.8,1915.5L3507.5,1915.5L3510.2,1915.5L3513.0,1915.5L3515.8,1915.5L3518.5,1915.5L3521.2,1915.5L3524.0,1915.5L3526.8,1915.5L3529.5,1915.5L3532.2,1915.5L3535.0,1915.5L3537.8,1915.5L3540.5,1915.5L3543.2,1915.5L3546.0,1915.5L3548.8,1915.5L3551.5,1915.5L3554.2,1915.5L3557.0,1915.5L3559.8,1915.5L3562.5,1915.5L3565.2,1915.5L3568.0,1915.5L3570.8,1915.5L3573.5,1915.5L3576.2,1915.5L3579.0,1915.5L3581.8,1915.5L3584.5,1915.5L3587.2,1915.5L3590.0,1915.5L3592.8,1915.5L3595.5,1915.5L3598.2,1915.5L3601.0,1915.5L3603.8,1915.5L3606.5,1915.5L3609.2,1915.5L3612.0,1915.5L3614.8,1915.5L3617.5,1915.5L3620.2,1915.5L3623.0,1915.5L3625.8,1915.5L3628.5,1915.5L3631.2,1915.5L3634.0,1915.5L3636.8,1915.5L3639.5,1915.5L3642.2,1915.5L3645.0,1915.5" fill="none" stroke="#9abbff" stroke-width="3"/><path d="M3095.0,1915.5L3097.8,1915.5L3100.5,1915.5L3103.2,1915.5L3106.0,1915.5L3108.8,1915.5L3111.5,1915.5L3114.2,1915.5L3117.0,1915.5L3119.8,1915.5L3122.5,1915.5L3125.2,1915.5L3128.0,1915.5L3130.8,1915.5L3133.5,1915.5L3136.2,1915.5L3139.0,1915.5L3141.8,1915.5L3144.5,1915.5L3147.2,1915.5L3150.0,1915.5L3152.8,1915.5L3155.5,1915.4L3158.2,1915.4L3161.0,1915.3L3163.8,1915.1L3166.5,1914.8L3169.2,1914.3L3172.0,1913.5L3174.8,1912.3L3177.5,1910.5L3180.2,1907.8L3183.0,1903.9L3185.8,1898.4L3188.5,1890.9L3191.2,1880.9L3194.0,1867.9L3196.8,1851.5L3199.5,1831.3L3202.2,1807.4L3205.0,1779.8L3207.8,1749.1L3210.5,1716.0L3213.2,1681.7L3216.0,1647.8L3218.8,1615.9L3221.5,1587.9L3224.2,1565.3L3227.0,1549.7L3229.8,1542.1L3232.5,1542.9L3235.2,1552.2L3238.0,1569.3L3240.8,1593.1L3243.5,1622.1L3246.2,1654.5L3249.0,1688.6L3251.8,1722.7L3254.5,1755.4L3257.2,1785.6L3260.0,1812.5L3262.8,1835.7L3265.5,1855.0L3268.2,1870.7L3271.0,1883.1L3273.8,1892.6L3276.5,1899.7L3279.2,1904.8L3282.0,1908.4L3284.8,1911.0L3287.5,1912.6L3290.2,1913.7L3293.0,1914.4L3295.8,1914.9L3298.5,1915.1L3301.2,1915.3L3304.0,1915.4L3306.8,1915.4L3309.5,1915.5L3312.2,1915.5L3315.0,1915.5L3317.8,1915.5L3320.5,1915.5L3323.2,1915.5L3326.0,1915.5L3328.8,1915.5L3331.5,1915.5L3334.2,1915.5L3337.0,1915.5L3339.8,1915.5L3342.5,1915.5L3345.2,1915.5L3348.0,1915.5L3350.8,1915.5L3353.5,1915.5L3356.2,1915.5L3359.0,1915.5L3361.8,1915.5L3364.5,1915.5L3367.2,1915.5L3370.0,1915.5L3372.8,1915.5L3375.5,1915.5L3378.2,1915.5L3381.0,1915.5L3383.8,1915.5L3386.5,1915.5L3389.2,1915.5L3392.0,1915.5L3394.8,1915.5L3397.5,1915.5L3400.2,1915.5L3403.0,1915.5L3405.8,1915.5L3408.5,1915.5L3411.2,1915.5L3414.0,1915.5L3416.8,1915.5L3419.5,1915.5L3422.2,1915.5L3425.0,1915.5L3427.8,1915.5L3430.5,1915.5L3433.2,1915.5L3436.0,1915.5L3438.8,1915.5L3441.5,1915.5L3444.2,1915.5L3447.0,1915.5L3449.8,1915.5L3452.5,1915.5L3455.2,1915.5L3458.0,1915.5L3460.8,1915.5L3463.5,1915.5L3466.2,1915.5L3469.0,1915.5L3471.8,1915.5L3474.5,1915.5L3477.2,1915.5L3480.0,1915.5L3482.8,1915.5L3485.5,1915.5L3488.2,1915.5L3491.0,1915.5L3493.8,1915.5L3496.5,1915.5L3499.2,1915.5L3502.0,1915.5L3504.8,1915.5L3507.5,1915.5L3510.2,1915.5L3513.0,1915.5L3515.8,1915.5L3518.5,1915.5L3521.2,1915.5L3524.0,1915.5L3526.8,1915.5L3529.5,1915.5L3532.2,1915.5L3535.0,1915.5L3537.8,1915.5L3540.5,1915.5L3543.2,1915.5L3546.0,1915.5L3548.8,1915.5L3551.5,1915.5L3554.2,1915.5L3557.0,1915.5L3559.8,1915.5L3562.5,1915.5L3565.2,1915.5L3568.0,1915.5L3570.8,1915.5L3573.5,1915.5L3576.2,1915.5L3579.0,1915.5L3581.8,1915.5L3584.5,1915.5L3587.2,1915.5L3590.0,1915.5L3592.8,1915.5L3595.5,1915.5L3598.2,1915.5L3601.0,1915.5L3603.8,1915.5L3606.5,1915.5L3609.2,1915.5L3612.0,1915.5L3614.8,1915.5L3617.5,1915.5L3620.2,1915.5L3623.0,1915.5L3625.8,1915.5L3628.5,1915.5L3631.2,1915.5L3634.0,1915.5L3636.8,1915.5L3639.5,1915.5L3642.2,1915.5L3645.0,1915.5" fill="none" stroke="#dddcdc" stroke-width="3"/><path d="M3095.0,1915.5L3097.8,1915.5L3100.5,1915.5L3103.2,1915.5L3106.0,1915.5L3108.8,1915.5L3111.5,1915.5L3114.2,1915.5L3117.0,1915.5L3119.8,1915.5L3122.5,1915.5L3125.2,1915.5L3128.0,1915.5L3130.8,1915.5L3133.5,1915.5L3136.2,1915.5L3139.0,1915.5L3141.8,1915.5L3144.5,1915.5L3147.2,1915.5L3150.0,1915.5L3152.8,1915.5L3155.5,1915.5L3158.2,1915.5L3161.0,1915.5L3163.8,1915.5L3166.5,1915.5L3169.2,1915.5L3172.0,1915.5L3174.8,1915.5L3177.5,1915.5L3180.2,1915.5L3183.0,1915.5L3185.8,1915.5L3188.5,1915.5L3191.2,1915.5L3194.0,1915.4L3196.8,1915.4L3199.5,1915.3L3202.2,1915.1L3205.0,1914.9L3207.8,1914.4L3210.5,1913.7L3213.2,1912.6L3216.0,1911.0L3218.8,1908.4L3221.5,1904.8L3224.2,1899.7L3227.0,1892.6L3229.8,1883.1L3232.5,1870.7L3235.2,1855.0L3238.0,1835.7L3240.8,1812.5L3243.5,1785.6L3246.2,1755.4L3249.0,1722.7L3251.8,1688.6L3254.5,1654.5L3257.2,1622.1L3260.0,1593.1L3262.8,1569.3L3265.5,1552.2L3268.2,1542.9L3271.0,1542.1L3273.8,1549.7L3276.5,1565.3L3279.2,1587.9L3282.0,1615.9L3284.8,1647.8L3287.5,1681.7L3290.2,1716.0L3293.0,1749.1L3295.8,1779.8L3298.5,1807.4L3301.2,1831.3L3304.0,1851.5L3306.8,1867.9L3309.5,1880.9L3312.2,1890.9L3315.0,1898.4L3317.8,1903.9L3320.5,1907.8L3323.2,1910.5L3326.0,1912.3L3328.8,1913.5L3331.5,1914.3L3334.2,1914.8L3337.0,1915.1L3339.8,1915.3L3342.5,1915.4L3345.2,1915.4L3348.0,1915.5L3350.8,1915.5L3353.5,1915.5L3356.2,1915.5L3359.0,1915.5L3361.8,1915.5L3364.5,1915.5L3367.2,1915.5L3370.0,1915.5L3372.8,1915.5L3375.5,1915.5L3378.2,1915.5L3381.0,1915.5L3383.8,1915.5L3386.5,1915.5L3389.2,1915.5L3392.0,1915.5L3394.8,1915.5L3397.5,1915.5L3400.2,1915.5L3403.0,1915.5L3405.8,1915.5L3408.5,1915.5L3411.2,1915.5L3414.0,1915.5L3416.8,1915.5L3419.5,1915.5L3422.2,1915.5L3425.0,1915.5L3427.8,1915.5L3430.5,1915.5L3433.2,1915.5L3436.0,1915.5L3438.8,1915.5L3441.5,1915.5L3444.2,1915.5L3447.0,1915.5L3449.8,1915.5L3452.5,1915.5L3455.2,1915.5L3458.0,1915.5L3460.8,1915.5L3463.5,1915.5L3466.2,1915.5L3469.0,1915.5L3471.8,1915.5L3474.5,1915.5L3477.2,1915.5L3480.0,1915.5L3482.8,1915.5L3485.5,1915.5L3488.2,1915.5L3491.0,1915.5L3493.8,1915.5L3496.5,1915.5L3499.2,1915.5L3502.0,1915.5L3504.8,1915.5L3507.5,1915.5L3510.2,1915.5L3513.0,1915.5L3515.8,1915.5L3518.5,1915.5L3521.2,1915.5L3524.0,1915.5L3526.8,1915.5L3529.5,1915.5L3532.2,1915.5L3535.0,1915.5L3537.8,1915.5L3540.5,1915.5L3543.2,1915.5L3546.0,1915.5L3548.8,1915.5L3551.5,1915.5L3554.2,1915.5L3557.0,1915.5L3559.8,1915.5L3562.5,1915.5L3565.2,1915.5L3568.0,1915.5L3570.8,1915.5L3573.5,1915.5L3576.2,1915.5L3579.0,1915.5L3581.8,1915.5L3584.5,1915.5L3587.2,1915.5L3590.0,1915.5L3592.8,1915.5L3595.5,1915.5L3598.2,1915.5L3601.0,1915.5L3603.8,1915.5L3606.5,1915.5L3609.2,1915.5L3612.0,1915.5L3614.8,1915.5L3617.5,1915.5L3620.2,1915.5L3623.0,1915.5L3625.8,1915.5L3628.5,1915.5L3631.2,1915.5L3634.0,1915.5L3636.8,1915.5L3639.5,1915.5L3642.2,1915.5L3645.0,1915.5" fill="none" stroke="#f4b89c" stroke-width="3"/><path d="M3095.0,1915.5L3097.8,1915.5L3100.5,1915.5L3103.2,1915.5L3106.0,1915.5L3108.8,1915.5L3111.5,1915.5L3114.2,1915.5L3117.0,1915.5L3119.8,1915.5L3122.5,1915.5L3125.2,1915.5L3128.0,1915.5L3130.8,1915.5L3133.5,1915.5L3136.2,1915.5L3139.0,1915.5L3141.8,1915.5L3144.5,1915.5L3147.2,1915.5L3150.0,1915.5L3152.8,1915.5L3155.5,1915.5L3158.2,1915.5L3161.0,1915.5L3163.8,1915.5L3166.5,1915.5L3169.2,1915.5L3172.0,1915.5L3174.8,1915.5L3177.5,1915.5L3180.2,1915.5L3183.0,1915.5L3185.8,1915.5L3188.5,1915.5L3191.2,1915.5L3194.0,1915.5L3196.8,1915.5L3199.5,1915.5L3202.2,1915.5L3205.0,1915.5L3207.8,1915.5L3210.5,1915.5L3213.2,1915.5L3216.0,1915.5L3218.8,1915.5L3221.5,1915.5L3224.2,1915.5L3227.0,1915.5L3229.8,1915.5L3232.5,1915.5L3235.2,1915.5L3238.0,1915.5L3240.8,1915.5L3243.5,1915.5L3246.2,1915.5L3249.0,1915.5L3251.8,1915.5L3254.5,1915.5L3257.2,1915.5L3260.0,1915.5L3262.8,1915.5L3265.5,1915.5L3268.2,1915.5L3271.0,1915.4L3273.8,1915.4L3276.5,1915.4L3279.2,1915.3L3282.0,1915.2L3284.8,1915.1L3287.5,1914.9L3290.2,1914.6L3293.0,1914.2L3295.8,1913.7L3298.5,1912.9L3301.2,1912.0L3304.0,1910.7L3306.8,1909.0L3309.5,1906.8L3312.2,1904.1L3315.0,1900.6L3317.8,1896.4L3320.5,1891.2L3323.2,1884.9L3326.0,1877.6L3328.8,1869.0L3331.5,1859.1L3334.2,1847.9L3337.0,1835.5L3339.8,1821.9L3342.5,1807.2L3345.2,1791.7L3348.0,1775.7L3350.8,1759.5L3353.5,1743.4L3356.2,1727.9L3359.0,1713.4L3361.8,1700.4L3364.5,1689.2L3367.2,1680.2L3370.0,1673.7L3372.8,1669.9L3375.5,1669.1L3378.2,1671.1L3381.0,1675.9L3383.8,1683.5L3386.5,1693.4L3389.2,1705.4L3392.0,1719.1L3394.8,1734.0L3397.5,1749.8L3400.2,1766.0L3403.0,1782.2L3405.8,1798.0L3408.5,1813.2L3411.2,1827.4L3414.0,1840.6L3416.8,1852.5L3419.5,1863.2L3422.2,1872.6L3425.0,1880.7L3427.8,1887.6L3430.5,1893.4L3433.2,1898.2L3436.0,1902.1L3438.8,1905.2L3441.5,1907.7L3444.2,1909.7L3447.0,1911.2L3449.8,1912.4L3452.5,1913.3L3455.2,1913.9L3458.0,1914.4L3460.8,1914.7L3463.5,1915.0L3466.2,1915.1L3469.0,1915.3L3471.8,1915.3L3474.5,1915.4L3477.2,1915.4L3480.0,1915.5L3482.8,1915.5L3485.5,1915.5L3488.2,1915.5L3491.0,1915.5L3493.8,1915.5L3496.5,1915.5L3499.2,1915.5L3502.0,1915.5L3504.8,1915.5L3507.5,1915.5L3510.2,1915.5L3513.0,1915.5L3515.8,1915.5L3518.5,1915.5L3521.2,1915.5L3524.0,1915.5L3526.8,1915.5L3529.5,1915.5L3532.2,1915.5L3535.0,1915.5L3537.8,1915.5L3540.5,1915.5L3543.2,1915.5L3546.0,1915.5L3548.8,1915.5L3551.5,1915.5L3554.2,1915.5L3557.0,1915.5L3559.8,1915.5L3562.5,1915.5L3565.2,1915.5L3568.0,1915.5L3570.8,1915.5L3573.5,1915.5L3576.2,1915.5L3579.0,1915.5L3581.8,1915.5L3584.5,1915.5L3587.2,1915.5L3590.0,1915.5L3592.8,1915.5L3595.5,1915.5L3598.2,1915.5L3601.0,1915.5L3603.8,1915.5L3606.5,1915.5L3609.2,1915.5L3612.0,1915.5L3614.8,1915.5L3617.5,1915.5L3620.2,1915.5L3623.0,1915.5L3625.8,1915.5L3628.5,1915.5L3631.2,1915.5L3634.0,1915.5L3636.8,1915.5L3639.5,1915.5L3642.2,1915.5L3645.0,1915.5" fill="none" stroke="#e26952" stroke-width="3"/><path d="M3095.0,1915.5L3097.8,1915.5L3100.5,1915.5L3103.2,1915.5L3106.0,1915.5L3108.8,1915.5L3111.5,1915.5L3114.2,1915.5L3117.0,1915.5L3119.8,1915.5L3122.5,1915.5L3125.2,1915.5L3128.0,1915.5L3130.8,1915.5L3133.5,1915.5L3136.2,1915.5L3139.0,1915.5L3141.8,1915.5L3144.5,1915.5L3147.2,1915.5L3150.0,1915.5L3152.8,1915.5L3155.5,1915.5L3158.2,1915.5L3161.0,1915.5L3163.8,1915.5L3166.5,1915.5L3169.2,1915.5L3172.0,1915.5L3174.8,1915.5L3177.5,1915.5L3180.2,1915.5L3183.0,1915.5L3185.8,1915.5L3188.5,1915.5L3191.2,1915.5L3194.0,1915.5L3196.8,1915.5L3199.5,1915.5L3202.2,1915.5L3205.0,1915.5L3207.8,1915.5L3210.5,1915.5L3213.2,1915.5L3216.0,1915.5L3218.8,1915.5L3221.5,1915.5L3224.2,1915.5L3227.0,1915.5L3229.8,1915.5L3232.5,1915.5L3235.2,1915.5L3238.0,1915.5L3240.8,1915.5L3243.5,1915.5L3246.2,1915.5L3249.0,1915.5L3251.8,1915.5L3254.5,1915.5L3257.2,1915.5L3260.0,1915.5L3262.8,1915.5L3265.5,1915.5L3268.2,1915.5L3271.0,1915.5L3273.8,1915.5L3276.5,1915.5L3279.2,1915.5L3282.0,1915.5L3284.8,1915.5L3287.5,1915.5L3290.2,1915.5L3293.0,1915.5L3295.8,1915.5L3298.5,1915.5L3301.2,1915.5L3304.0,1915.5L3306.8,1915.5L3309.5,1915.5L3312.2,1915.5L3315.0,1915.5L3317.8,1915.5L3320.5,1915.4L3323.2,1915.4L3326.0,1915.4L3328.8,1915.3L3331.5,1915.2L3334.2,1915.0L3337.0,1914.9L3339.8,1914.6L3342.5,1914.3L3345.2,1913.8L3348.0,1913.2L3350.8,1912.3L3353.5,1911.3L3356.2,1909.9L3359.0,1908.2L3361.8,1906.1L3364.5,1903.4L3367.2,1900.1L3370.0,1896.2L3372.8,1891.4L3375.5,1885.8L3378.2,1879.3L3381.0,1871.7L3383.8,1863.2L3386.5,1853.5L3389.2,1842.9L3392.0,1831.2L3394.8,1818.6L3397.5,1805.3L3400.2,1791.3L3403.0,1777.0L3405.8,1762.6L3408.5,1748.4L3411.2,1734.7L3414.0,1721.7L3416.8,1710.0L3419.5,1699.6L3422.2,1691.1L3425.0,1684.5L3427.8,1680.0L3430.5,1677.9L3433.2,1678.1L3436.0,1680.7L3438.8,1685.6L3441.5,1692.6L3444.2,1701.6L3447.0,1712.2L3449.8,1724.2L3452.5,1737.3L3455.2,1751.2L3458.0,1765.5L3460.8,1779.9L3463.5,1794.2L3466.2,1808.0L3469.0,1821.2L3471.8,1833.6L3474.5,1845.1L3477.2,1855.5L3480.0,1865.0L3482.8,1873.3L3485.5,1880.7L3488.2,1887.0L3491.0,1892.4L3493.8,1897.0L3496.5,1900.8L3499.2,1904.0L3502.0,1906.5L3504.8,1908.6L3507.5,1910.2L3510.2,1911.5L3513.0,1912.5L3515.8,1913.3L3518.5,1913.9L3521.2,1914.3L3524.0,1914.7L3526.8,1914.9L3529.5,1915.1L3532.2,1915.2L3535.0,1915.3L3537.8,1915.4L3540.5,1915.4L3543.2,1915.4L3546.0,1915.5L3548.8,1915.5L3551.5,1915.5L3554.2,1915.5L3557.0,1915.5L3559.8,1915.5L3562.5,1915.5L3565.2,1915.5L3568.0,1915.5L3570.8,1915.5L3573.5,1915.5L3576.2,1915.5L3579.0,1915.5L3581.8,1915.5L3584.5,1915.5L3587.2,1915.5L3590.0,1915.5L3592.8,1915.5L3595.5,1915.5L3598.2,1915.5L3601.0,1915.5L3603.8,1915.5L3606.5,1915.5L3609.2,1915.5L3612.0,1915.5L3614.8,1915.5L3617.5,1915.5L3620.2,1915.5L3623.0,1915.5L3625.8,1915.5L3628.5,1915.5L3631.2,1915.5L3634.0,1915.5L3636.8,1915.5L3639.5,1915.5L3642.2,1915.5L3645.0,1915.5" fill="none" stroke="#c32e31" stroke-width="3"/><path d="M3095.0,1892.3 C3096.8,1891.3 3102.3,1890.8 3106.0,1886.5 C3109.7,1882.2 3113.3,1873.5 3117.0,1866.2 C3120.7,1859.0 3124.3,1849.8 3128.0,1843.0 C3131.7,1836.2 3135.3,1829.6 3139.0,1825.6 C3142.7,1821.6 3146.3,1819.2 3150.0,1819.2 C3153.7,1819.2 3157.3,1821.6 3161.0,1825.6 C3164.7,1829.6 3168.3,1838.1 3172.0,1843.0 C3175.7,1847.9 3179.8,1852.9 3183.0,1855.2 C3186.2,1857.5 3188.5,1857.2 3191.2,1856.6 C3194.0,1856.1 3196.3,1854.9 3199.5,1851.7 C3202.7,1848.5 3206.8,1842.0 3210.5,1837.2 C3214.2,1832.4 3217.8,1826.8 3221.5,1822.7 C3225.2,1818.6 3228.8,1815.2 3232.5,1812.5 C3236.2,1809.9 3240.3,1807.9 3243.5,1806.8 C3246.7,1805.6 3249.0,1805.6 3251.8,1805.9 C3254.5,1806.1 3256.8,1805.9 3260.0,1808.2 C3263.2,1810.5 3267.3,1814.0 3271.0,1819.8 C3274.7,1825.6 3278.3,1834.8 3282.0,1843.0 C3285.7,1851.2 3289.3,1861.6 3293.0,1869.1 C3296.7,1876.6 3300.3,1883.1 3304.0,1888.0 C3307.7,1892.8 3312.2,1896.2 3315.0,1898.1 C3317.8,1900.0 3317.8,1900.0 3320.5,1899.5 C3323.2,1899.1 3327.8,1897.4 3331.5,1895.2 C3335.2,1893.0 3338.8,1888.9 3342.5,1886.5 C3346.2,1884.1 3348.9,1882.2 3353.5,1880.7 C3358.1,1879.2 3364.5,1878.6 3370.0,1877.8 C3375.5,1877.0 3381.0,1876.4 3386.5,1876.1 C3392.0,1875.7 3398.4,1874.7 3403.0,1875.5 C3407.6,1876.3 3410.3,1878.4 3414.0,1880.7 C3417.7,1883.0 3420.4,1886.0 3425.0,1889.4 C3429.6,1892.8 3436.0,1898.1 3441.5,1901.0 C3447.0,1903.9 3451.6,1905.0 3458.0,1906.8 C3464.4,1908.6 3471.8,1910.7 3480.0,1912.0 C3488.2,1913.3 3493.8,1914.1 3507.5,1914.6 C3521.2,1915.1 3539.6,1914.8 3562.5,1914.9 C3585.4,1915.1 3631.2,1915.4 3645.0,1915.5" fill="none" stroke="#000" stroke-width="4.2" stroke-linejoin="round"/></g><rect x="3095" y="1520.4" width="550" height="412.6" fill="none" stroke="#000" stroke-width="1.8"/><text x="3095" y="1975.4" font-size="22.5" text-anchor="middle" font-family='"DejaVu Serif", serif'>0</text><text x="3205" y="1975.4" font-size="22.5" text-anchor="middle" font-family='"DejaVu Serif", serif'>20</text><text x="3315" y="1975.4" font-size="22.5" text-anchor="middle" font-family='"DejaVu Serif", serif'>40</text><text x="3425" y="1975.4" font-size="22.5" text-anchor="middle" font-family='"DejaVu Serif", serif'>60</text><text x="3535" y="1975.4" font-size="22.5" text-anchor="middle" font-family='"DejaVu Serif", serif'>80</text><text x="3645" y="1975.4" font-size="22.5" text-anchor="middle" font-family='"DejaVu Serif", serif'>100</text><text x="3072.5" y="1923.5" font-size="22.5" text-anchor="end" font-family='"DejaVu Serif", serif'>0</text><text x="3072.5" y="1865.5" font-size="22.5" text-anchor="end" font-family='"DejaVu Serif", serif'>2</text><text x="3072.5" y="1807.5" font-size="22.5" text-anchor="end" font-family='"DejaVu Serif", serif'>4</text><text x="3072.5" y="1749.5" font-size="22.5" text-anchor="end" font-family='"DejaVu Serif", serif'>6</text><text x="3072.5" y="1691.5" font-size="22.5" text-anchor="end" font-family='"DejaVu Serif", serif'>8</text><text x="3072.5" y="1633.5" font-size="22.5" text-anchor="end" font-family='"DejaVu Serif", serif'>10</text><text x="3072.5" y="1575.5" font-size="22.5" text-anchor="end" font-family='"DejaVu Serif", serif'>12</text><path d="M3095,1933 v7 M3205,1933 v7 M3315,1933 v7 M3425,1933 v7 M3535,1933 v7 M3645,1933 v7 M3095,1915.5 h-7 M3095,1857.5 h-7 M3095,1799.5 h-7 M3095,1741.5 h-7 M3095,1683.5 h-7 M3095,1625.5 h-7 M3095,1567.5 h-7 " fill="none" stroke="#000" stroke-width="1.6"/><text x="3369.8" y="2006.6" font-size="18" text-anchor="middle" textLength="158.5" lengthAdjust="spacingAndGlyphs" font-family='"DejaVu Serif", serif' font-weight="bold">Frequency (Hz)</text><text x="3025" y="1727.7" font-size="16.5" text-anchor="middle" textLength="106" lengthAdjust="spacingAndGlyphs" font-family='"DejaVu Serif", serif' font-weight="bold" transform="rotate(-90 3025 1727.7)">Amplitude</text><rect x="3354" y="1529" width="281" height="225" fill="#fff" stroke="#ccc" stroke-width="1.5" rx="4" fill-opacity=".82"/><line x1="3361" y1="1545.5" x2="3400" y2="1545.5" stroke="#3b4cc0" stroke-width="3" /><text x="3413.8" y="1551.5" font-size="17.5" textLength="179" lengthAdjust="spacingAndGlyphs" fill="#111" font-family='"DejaVu Serif", serif'>Filter 1: 3.1-7.9 Hz</text><line x1="3361" y1="1572.8" x2="3400" y2="1572.8" stroke="#6788ee" stroke-width="3" /><text x="3413.8" y="1578.8" font-size="17.5" textLength="191" lengthAdjust="spacingAndGlyphs" fill="#111" font-family='"DejaVu Serif", serif'>Filter 5: 6.9-11.0 Hz</text><line x1="3361" y1="1600.2" x2="3400" y2="1600.2" stroke="#9abbff" stroke-width="3" /><text x="3413.8" y="1606.2" font-size="17.5" textLength="203" lengthAdjust="spacingAndGlyphs" fill="#111" font-family='"DejaVu Serif", serif'>Filter 9: 20.8-25.0 Hz</text><line x1="3361" y1="1627.5" x2="3400" y2="1627.5" stroke="#dddcdc" stroke-width="3" /><text x="3413.8" y="1633.5" font-size="17.5" textLength="214.5" lengthAdjust="spacingAndGlyphs" fill="#111" font-family='"DejaVu Serif", serif'>Filter 13: 22.6-26.7 Hz</text><line x1="3361" y1="1654.8" x2="3400" y2="1654.8" stroke="#f4b89c" stroke-width="3" /><text x="3413.8" y="1660.8" font-size="17.5" textLength="214.5" lengthAdjust="spacingAndGlyphs" fill="#111" font-family='"DejaVu Serif", serif'>Filter 17: 29.7-33.9 Hz</text><line x1="3361" y1="1682.2" x2="3400" y2="1682.2" stroke="#e26952" stroke-width="3" /><text x="3413.8" y="1688.2" font-size="17.5" textLength="214.5" lengthAdjust="spacingAndGlyphs" fill="#111" font-family='"DejaVu Serif", serif'>Filter 21: 43.7-58.0 Hz</text><line x1="3361" y1="1709.5" x2="3400" y2="1709.5" stroke="#c32e31" stroke-width="3" /><text x="3413.8" y="1715.5" font-size="17.5" textLength="214.5" lengthAdjust="spacingAndGlyphs" fill="#111" font-family='"DejaVu Serif", serif'>Filter 24: 53.8-68.5 Hz</text><line x1="3361" y1="1736.8" x2="3400" y2="1736.8" stroke="#000" stroke-width="4.4" /><text x="3413.8" y="1742.8" font-size="17.5" textLength="203" lengthAdjust="spacingAndGlyphs" fill="#111" font-family='"DejaVu Serif", serif'>Cumulative Response</text><clipPath id="cpg"><rect x="3752.6" y="1527" width="595.9" height="425"/></clipPath><path d="M3895,1527 V1952 M4056,1527 V1952 M4217.5,1527 V1952 M3752.6,1906.7 H4348.5 M3752.6,1846.7 H4348.5 M3752.6,1786.8 H4348.5 M3752.6,1726.8 H4348.5 M3752.6,1666.8 H4348.5 M3752.6,1606.8 H4348.5 M3752.6,1546.9 H4348.5 " fill="none" stroke="#b0b0b0" stroke-width="1.5"/><g clip-path="url(#cpg)"><g fill="#d9a183" fill-opacity=".85"><ellipse cx="4018.5" cy="1660.2" rx="38.2" ry="22.3" transform="rotate(10 4018.5 1660.2)"/><ellipse cx="4109.5" cy="1633.7" rx="32.3" ry="16.4" transform="rotate(-30 4109.5 1633.7)"/><ellipse cx="4224.0" cy="1570.3" rx="30.5" ry="24.7" transform="rotate(0 4224.0 1570.3)"/><ellipse cx="3992.1" cy="1720.6" rx="44.0" ry="4.7" transform="rotate(0 3992.1 1720.6)"/><ellipse cx="3983.3" cy="1760.0" rx="22.3" ry="14.7" transform="rotate(-20 3983.3 1760.0)"/><ellipse cx="3918.7" cy="1780.5" rx="20.5" ry="16.4" transform="rotate(30 3918.7 1780.5)"/><ellipse cx="3795.4" cy="1818.7" rx="12.9" ry="29.4" transform="rotate(25 3795.4 1818.7)"/><ellipse cx="3881.7" cy="1845.1" rx="10.6" ry="4.7" transform="rotate(-10 3881.7 1845.1)"/></g><g fill="#7b84bf" fill-opacity=".85"><ellipse cx="4211.1" cy="1663.1" rx="38.2" ry="17.6" transform="rotate(5 4211.1 1663.1)"/><ellipse cx="4100.7" cy="1723.6" rx="54.0" ry="20.0" transform="rotate(-28 4100.7 1723.6)"/><ellipse cx="4043.2" cy="1792.3" rx="18.8" ry="29.4" transform="rotate(-25 4043.2 1792.3)"/><ellipse cx="4212.3" cy="1761.7" rx="20.5" ry="4.7" transform="rotate(30 4212.3 1761.7)"/><ellipse cx="4288.6" cy="1770.0" rx="22.3" ry="34.1" transform="rotate(12 4288.6 1770.0)"/><ellipse cx="4106.6" cy="1824.6" rx="28.2" ry="42.3" transform="rotate(8 4106.6 1824.6)"/><ellipse cx="3998.0" cy="1846.3" rx="17.6" ry="32.3" transform="rotate(15 3998.0 1846.3)"/><ellipse cx="3899.9" cy="1899.1" rx="32.3" ry="17.6" transform="rotate(25 3899.9 1899.1)"/></g><path d="M4195.0 1671.9h0M4225.5 1669.6h0M4234.2 1669.9h0M4057.5 1772.1h0M4073.9 1718.0h0M4184.1 1668.0h0M4012.6 1802.2h0M4092.8 1725.6h0M4128.9 1693.9h0M4101.3 1724.5h0M4106.2 1717.5h0M4103.1 1715.4h0M4096.7 1683.4h0M4047.2 1792.5h0M4046.2 1799.2h0M4062.4 1812.0h0M4066.5 1796.8h0M4071.7 1772.8h0M4213.7 1758.5h0M4214.1 1762.6h0M4211.7 1761.4h0M4288.2 1777.9h0M4298.7 1755.0h0M4262.1 1723.3h0M4059.7 1850.4h0M4091.9 1860.4h0M4099.4 1821.0h0M4152.9 1835.7h0M4105.4 1816.2h0M4105.3 1822.9h0M3994.8 1824.7h0M3988.3 1879.2h0M3958.5 1874.9h0M4000.8 1860.9h0M3999.7 1850.3h0M3995.6 1847.0h0M3912.5 1919.7h0M3916.3 1921.8h0M3886.0 1890.1h0M4279.8 1664.9h0M4320.9 1761.1h0M4272.7 1811.6h0M4170.0 1828.7h0M4121.3 1869.8h0M4091.9 1892.1h0M4009.7 1902.0h0M3940.4 1932.0h0M3962.7 1885.0h0M3865.9 1893.2h0M3912.8 1878.6h0M4194.7 1730.6h0M4157.7 1708.9h0M4135.9 1740.6h0M4210.5 1689.5h0M4196.4 1639.6h0M4149.4 1682.5h0M4124.2 1683.6h0M4046.1 1821.6h0M4015.6 1830.4h0M4081.9 1814.6h0M4059.6 1838.1h0M3971.6 1851.0h0M4084.3 1868.6h0M4241.6 1780.5h0M4272.1 1736.5h0" fill="none" stroke="#2a7db8" stroke-width="6.6" stroke-linecap="round" stroke-opacity=".9"/><path d="M4026.8 1671.9h0M3968.7 1655.3h0M4020.5 1671.2h0M3953.4 1645.6h0M4018.3 1660.1h0M4108.5 1635.4h0M4064.0 1644.4h0M4118.0 1643.0h0M4147.0 1675.2h0M4100.2 1621.8h0M4112.3 1629.5h0M4108.5 1637.3h0M4058.3 1663.9h0M4088.4 1668.8h0M4227.7 1574.7h0M4236.9 1565.3h0M4198.6 1576.6h0M3979.2 1720.8h0M4025.3 1729.1h0M3994.0 1722.8h0M3997.7 1717.5h0M4017.3 1723.0h0M3982.8 1758.5h0M3973.3 1743.3h0M4017.7 1767.6h0M3986.4 1763.0h0M3996.0 1749.7h0M3976.5 1770.2h0M3871.2 1767.0h0M3878.5 1783.8h0M3940.1 1797.1h0M3934.7 1789.0h0M3896.0 1768.0h0M3796.2 1816.9h0M3785.4 1845.5h0M3795.6 1800.6h0M3884.0 1846.6h0M3889.0 1842.1h0M3968.6 1609.1h0M4131.2 1592.6h0M4135.9 1594.4h0M3977.4 1654.3h0M3986.2 1692.5h0M3936.3 1725.9h0M3951.0 1720.6h0M3874.7 1767.0h0M3817.1 1794.0h0M3786.6 1853.9h0M3868.8 1863.9h0M4056.7 1640.8h0M4071.4 1648.4h0M4058.4 1677.8h0M4078.4 1667.8h0M4042.0 1726.5h0M3924.6 1802.8h0M3953.9 1755.9h0M4160.6 1623.8h0M4100.7 1677.8h0" fill="none" stroke="#ff8c1a" stroke-width="6.6" stroke-linecap="round" stroke-opacity=".9"/><g stroke="#d62728" stroke-width="2.2"><circle cx="4181.7" cy="1632.6" r="4.1" fill="#2a7db8"/><circle cx="4174.1" cy="1647.2" r="4.1" fill="#ff8c1a"/><circle cx="4209.3" cy="1651.4" r="4.1" fill="#2a7db8"/><circle cx="4144.7" cy="1665.4" r="4.1" fill="#ff8c1a"/><circle cx="4118.3" cy="1669.0" r="4.1" fill="#2a7db8"/><circle cx="4185.8" cy="1684.8" r="4.1" fill="#ff8c1a"/><circle cx="4106.6" cy="1695.4" r="4.1" fill="#2a7db8"/><circle cx="4068.4" cy="1723.6" r="4.1" fill="#ff8c1a"/><circle cx="4059.6" cy="1725.9" r="4.1" fill="#2a7db8"/><circle cx="4047.9" cy="1745.3" r="4.1" fill="#2a7db8"/><circle cx="4074.3" cy="1748.2" r="4.1" fill="#2a7db8"/><circle cx="4006.8" cy="1746.5" r="4.1" fill="#ff8c1a"/><circle cx="4015.6" cy="1760.0" r="4.1" fill="#ff8c1a"/><circle cx="4023.2" cy="1757.0" r="4.1" fill="#ff8c1a"/><circle cx="4044.9" cy="1761.1" r="4.1" fill="#2a7db8"/><circle cx="3978.6" cy="1780.5" r="4.1" fill="#ff8c1a"/><circle cx="3989.2" cy="1792.3" r="4.1" fill="#ff8c1a"/><circle cx="3880.6" cy="1846.3" r="4.1" fill="#ff8c1a"/></g><g font-family='"DejaVu Serif", serif' font-size="16" text-anchor="middle" fill="#222"><text x="4018.5" y="1657.2">Right</text><text x="4018.5" y="1675.2"><tspan font-style="italic">π</tspan><tspan font-size="11" dy="3">4</tspan><tspan dy="-3">: 0.15</tspan></text><text x="4109.5" y="1630.7">Right</text><text x="4109.5" y="1648.7"><tspan font-style="italic">π</tspan><tspan font-size="11" dy="3">1</tspan><tspan dy="-3">: 0.27</tspan></text><text x="4224.0" y="1567.3">Right</text><text x="4224.0" y="1585.3"><tspan font-style="italic">π</tspan><tspan font-size="11" dy="3">5</tspan><tspan dy="-3">: 0.07</tspan></text><text x="3992.1" y="1717.6">Right</text><text x="3992.1" y="1735.6"><tspan font-style="italic">π</tspan><tspan font-size="11" dy="3">7</tspan><tspan dy="-3">: 0.09</tspan></text><text x="3983.3" y="1757.0">Right</text><text x="3983.3" y="1775.0"><tspan font-style="italic">π</tspan><tspan font-size="11" dy="3">2</tspan><tspan dy="-3">: 0.20</tspan></text><text x="3918.7" y="1777.5">Right</text><text x="3918.7" y="1795.5"><tspan font-style="italic">π</tspan><tspan font-size="11" dy="3">0</tspan><tspan dy="-3">: 0.14</tspan></text><text x="3795.4" y="1815.7">Right</text><text x="3795.4" y="1833.7"><tspan font-style="italic">π</tspan><tspan font-size="11" dy="3">3</tspan><tspan dy="-3">: 0.05</tspan></text><text x="3881.7" y="1842.1">Right</text><text x="3881.7" y="1860.1"><tspan font-style="italic">π</tspan><tspan font-size="11" dy="3">6</tspan><tspan dy="-3">: 0.03</tspan></text><text x="4211.1" y="1660.1">Left</text><text x="4211.1" y="1678.1"><tspan font-style="italic">π</tspan><tspan font-size="11" dy="3">6</tspan><tspan dy="-3">: 0.07</tspan></text><text x="4100.7" y="1720.6">Left</text><text x="4100.7" y="1738.6"><tspan font-style="italic">π</tspan><tspan font-size="11" dy="3">7</tspan><tspan dy="-3">: 0.33</tspan></text><text x="4043.2" y="1789.3">Left</text><text x="4043.2" y="1807.3"><tspan font-style="italic">π</tspan><tspan font-size="11" dy="3">0</tspan><tspan dy="-3">: 0.15</tspan></text><text x="4212.3" y="1758.7">Left</text><text x="4212.3" y="1776.7"><tspan font-style="italic">π</tspan><tspan font-size="11" dy="3">1</tspan><tspan dy="-3">: 0.04</tspan></text><text x="4288.6" y="1767.0">Left</text><text x="4288.6" y="1785.0"><tspan font-style="italic">π</tspan><tspan font-size="11" dy="3">3</tspan><tspan dy="-3">: 0.04</tspan></text><text x="4106.6" y="1821.6">Left</text><text x="4106.6" y="1839.6"><tspan font-style="italic">π</tspan><tspan font-size="11" dy="3">5</tspan><tspan dy="-3">: 0.17</tspan></text><text x="3998.0" y="1843.3">Left</text><text x="3998.0" y="1861.3"><tspan font-style="italic">π</tspan><tspan font-size="11" dy="3">2</tspan><tspan dy="-3">: 0.16</tspan></text><text x="3899.9" y="1896.1">Left</text><text x="3899.9" y="1914.1"><tspan font-style="italic">π</tspan><tspan font-size="11" dy="3">4</tspan><tspan dy="-3">: 0.05</tspan></text></g><rect x="3753.5" y="1528" width="418" height="62" fill="#fff" fill-opacity=".8"/><rect x="3764" y="1532.8" width="150" height="19" fill="#bcd3f5" fill-opacity=".85"/><text x="3764.3" y="1549.8" font-size="15.5" textLength="279" lengthAdjust="spacingAndGlyphs" fill="#111" font-family='"DejaVu Serif", serif' font-weight="bold">Inter-class KL Div &gt; 31.85</text><text x="3764.3" y="1571.5" font-size="15.5" textLength="407" lengthAdjust="spacingAndGlyphs" fill="#111" font-family='"DejaVu Serif", serif' font-weight="bold">Intra-class Avg. Cov of Clusters &lt; 0.27</text><rect x="4164" y="1537" width="174.5" height="91" fill="#fff" stroke="#ccc" stroke-width="1.5" rx="4" fill-opacity=".82"/><circle cx="4190.5" cy="1552.7" r="10.5" fill="#1f77b4"/><circle cx="4190.5" cy="1581.5" r="10.5" fill="#ff7f0e"/><circle cx="4190.5" cy="1611.4" r="4.3" fill="#fff" stroke="#d62728" stroke-width="2"/><text x="4225" y="1559" font-size="18" textLength="91" lengthAdjust="spacingAndGlyphs" fill="#111" font-family='"DejaVu Serif", serif'>Left hand</text><text x="4225" y="1588" font-size="18" textLength="104.5" lengthAdjust="spacingAndGlyphs" fill="#111" font-family='"DejaVu Serif", serif'>Right hand</text><text x="4225" y="1617.3" font-size="18" textLength="51" lengthAdjust="spacingAndGlyphs" fill="#111" font-family='"DejaVu Serif", serif'>Error</text></g><rect x="3752.6" y="1527" width="595.9" height="425" fill="none" stroke="#000" stroke-width="1.8"/><text x="3895" y="1994" font-size="22.5" text-anchor="middle" font-family='"DejaVu Serif", serif'>4</text><text x="4056" y="1994" font-size="22.5" text-anchor="middle" font-family='"DejaVu Serif", serif'>6</text><text x="4217.5" y="1994" font-size="22.5" text-anchor="middle" font-family='"DejaVu Serif", serif'>8</text><text x="3730" y="1914.7" font-size="22.5" text-anchor="end" font-family='"DejaVu Serif", serif'>3</text><text x="3730" y="1854.7" font-size="22.5" text-anchor="end" font-family='"DejaVu Serif", serif'>4</text><text x="3730" y="1794.8" font-size="22.5" text-anchor="end" font-family='"DejaVu Serif", serif'>5</text><text x="3730" y="1734.8" font-size="22.5" text-anchor="end" font-family='"DejaVu Serif", serif'>6</text><text x="3730" y="1674.8" font-size="22.5" text-anchor="end" font-family='"DejaVu Serif", serif'>7</text><text x="3730" y="1614.8" font-size="22.5" text-anchor="end" font-family='"DejaVu Serif", serif'>8</text><text x="3730" y="1554.9" font-size="22.5" text-anchor="end" font-family='"DejaVu Serif", serif'>9</text><path d="M3895,1952 v7 M4056,1952 v7 M4217.5,1952 v7 M3752.6,1906.7 h-7 M3752.6,1846.7 h-7 M3752.6,1786.8 h-7 M3752.6,1726.8 h-7 M3752.6,1666.8 h-7 M3752.6,1606.8 h-7 M3752.6,1546.9 h-7 " fill="none" stroke="#000" stroke-width="1.6"/><text x="4040" y="2027" font-size="22" font-style="italic" font-family='"DejaVu Sans", sans-serif'>α<tspan font-style="normal" font-size="15" dy="6">1</tspan></text><text x="3696" y="1755" font-size="22" font-style="italic" font-family='"DejaVu Sans", sans-serif' transform="rotate(-90 3696 1755)">α<tspan font-style="normal" font-size="15" dy="6">2</tspan></text><defs><radialGradient id="gr"><stop offset="0" stop-color="#b2182b"/><stop offset=".45" stop-color="#e8836a" stop-opacity=".8"/><stop offset="1" stop-color="#fddbc7" stop-opacity="0"/></radialGradient><radialGradient id="gb"><stop offset="0" stop-color="#2166ac"/><stop offset=".45" stop-color="#6aabd2" stop-opacity=".8"/><stop offset="1" stop-color="#d1e5f0" stop-opacity="0"/></radialGradient><linearGradient id="cbar" x1="0" y1="0" x2="0" y2="1"><stop offset="0" stop-color="#67001f"/><stop offset=".1" stop-color="#b2182b"/><stop offset=".2" stop-color="#d6604d"/><stop offset=".3" stop-color="#f4a582"/><stop offset=".4" stop-color="#fddbc7"/><stop offset=".5" stop-color="#f7f7f7"/><stop offset=".6" stop-color="#d1e5f0"/><stop offset=".7" stop-color="#92c5de"/><stop offset=".8" stop-color="#4393c3"/><stop offset=".9" stop-color="#2166ac"/><stop offset="1" stop-color="#053061"/></linearGradient><clipPath id="hc"><circle cx="0" cy="0" r="61.6"/></clipPath><filter id="bl" x="-20%" y="-20%" width="140%" height="140%"><feGaussianBlur stdDeviation="2.2"/></filter><g id="hd" fill="none" stroke="#222" stroke-width="1.1"><circle cx="0" cy="0" r="56"/><path d="M-7,-55.5 L0,-62.5 L7,-55.5"/><path d="M-56,-10 q-5,-2 -4.5,5 l1.5,14 q1,5 4,3"/><path d="M56,-10 q5,-2 4.5,5 l-1.5,14 q-1,5 -4,3"/></g><g id="el" font-family='"DejaVu Serif", serif' font-size="5.6" text-anchor="middle" fill="#222"><text x="0.0" y="-28.5">Fz</text><text x="-35.2" y="-8.0">FC3</text><text x="-19.4" y="-9.7">FC1</text><text x="0.0" y="-10.9">FCz</text><text x="20.5" y="-9.7">FC2</text><text x="36.4" y="-8.0">FC4</text><text x="-48.1" y="13.7">C5</text><text x="-37.0" y="12.6">C3</text><text x="-20.5" y="12.0">C1</text><text x="0.0" y="10.8">Cz</text><text x="22.3" y="12.0">C2</text><text x="39.9" y="12.6">C4</text><text x="49.9" y="13.7">C6</text><text x="-36.4" y="33.1">CP3</text><text x="-20.5" y="33.1">CP1</text><text x="0.0" y="33.1">CPz</text><text x="22.3" y="33.1">CP2</text><text x="38.2" y="33.1">CP4</text><text x="-15.9" y="53.7">P1</text><text x="0.0" y="53.7">Pz</text><text x="17.6" y="53.7">P2</text><text x="0.0" y="65.4">POz</text></g></defs><g transform="translate(3067.4 2126.9)"><g clip-path="url(#hc)"><circle r="62" fill="#f8f1ee"/><g filter="url(#bl)"><circle cx="0.0" cy="-35.2" r="71.9" fill="url(#gr)" fill-opacity="0.68"/><circle cx="-41.1" cy="0.0" r="41.1" fill="url(#gr)" fill-opacity="0.56"/><circle cx="29.4" cy="29.4" r="46.2" fill="url(#gb)" fill-opacity="1.00"/><circle cx="-23.5" cy="35.2" r="36.0" fill="url(#gb)" fill-opacity="0.56"/><circle cx="0.0" cy="52.8" r="20.5" fill="url(#gr)" fill-opacity="0.68"/></g><g fill="none" stroke="#333" stroke-width=".6"><circle cx="29.4" cy="29.4" r="14.5" stroke-dasharray="2 1.3"/><circle cx="29.4" cy="29.4" r="25.1" stroke-dasharray="2 1.3"/></g></g><use href="#hd"/><use href="#el"/><text x="0" y="-72" text-anchor="middle" font-size="7.6" font-family='"DejaVu Serif", serif' fill="#222">Spat-Conv Kernel 0</text></g><g transform="translate(3295 2126.9)"><g clip-path="url(#hc)"><circle r="62" fill="#f8f1ee"/><g filter="url(#bl)"><circle cx="-2.9" cy="-11.7" r="36.0" fill="url(#gr)" fill-opacity="1.00"/><circle cx="-29.4" cy="-29.4" r="41.1" fill="url(#gr)" fill-opacity="0.56"/><circle cx="-38.2" cy="11.7" r="22.6" fill="url(#gb)" fill-opacity="1.00"/><circle cx="23.5" cy="-23.5" r="25.7" fill="url(#gb)" fill-opacity="0.91"/><circle cx="47.0" cy="35.2" r="41.1" fill="url(#gb)" fill-opacity="0.79"/><circle cx="0.0" cy="52.8" r="15.4" fill="url(#gb)" fill-opacity="0.79"/><circle cx="35.2" cy="5.9" r="30.8" fill="url(#gr)" fill-opacity="0.45"/><circle cx="-23.5" cy="35.2" r="30.8" fill="url(#gr)" fill-opacity="0.56"/></g><g fill="none" stroke="#333" stroke-width=".6"><circle cx="-2.9" cy="-11.7" r="11.3"/><circle cx="-2.9" cy="-11.7" r="19.5"/><circle cx="-38.2" cy="11.7" r="7.1" stroke-dasharray="2 1.3"/><circle cx="-38.2" cy="11.7" r="12.3" stroke-dasharray="2 1.3"/><circle cx="23.5" cy="-23.5" r="8.1" stroke-dasharray="2 1.3"/><circle cx="23.5" cy="-23.5" r="13.9" stroke-dasharray="2 1.3"/><circle cx="47.0" cy="35.2" r="12.9" stroke-dasharray="2 1.3"/><circle cx="47.0" cy="35.2" r="22.3" stroke-dasharray="2 1.3"/><circle cx="0.0" cy="52.8" r="4.8" stroke-dasharray="2 1.3"/><circle cx="0.0" cy="52.8" r="8.4" stroke-dasharray="2 1.3"/></g></g><use href="#hd"/><use href="#el"/><text x="0" y="-72" text-anchor="middle" font-size="7.6" font-family='"DejaVu Serif", serif' fill="#222">Spat-Conv Kernel 1</text></g><g transform="translate(3522.4 2126.9)"><g clip-path="url(#hc)"><circle r="62" fill="#f8f1ee"/><g filter="url(#bl)"><circle cx="35.2" cy="10.6" r="32.9" fill="url(#gb)" fill-opacity="1.00"/><circle cx="57.5" cy="11.7" r="12.3" fill="url(#gr)" fill-opacity="1.00"/><circle cx="0.0" cy="-41.1" r="51.4" fill="url(#gr)" fill-opacity="0.56"/><circle cx="0.0" cy="47.0" r="51.4" fill="url(#gr)" fill-opacity="0.56"/><circle cx="-52.8" cy="8.8" r="20.5" fill="url(#gb)" fill-opacity="0.68"/><circle cx="0.0" cy="-8.8" r="25.7" fill="url(#gb)" fill-opacity="0.45"/></g><g fill="none" stroke="#333" stroke-width=".6"><circle cx="35.2" cy="10.6" r="10.3" stroke-dasharray="2 1.3"/><circle cx="35.2" cy="10.6" r="17.8" stroke-dasharray="2 1.3"/><circle cx="57.5" cy="11.7" r="3.9"/><circle cx="57.5" cy="11.7" r="6.7"/></g></g><use href="#hd"/><use href="#el"/><text x="0" y="-72" text-anchor="middle" font-size="7.6" font-family='"DejaVu Serif", serif' fill="#222">Spat-Conv Kernel 2</text></g><g transform="translate(3748.5 2126.9)"><g clip-path="url(#hc)"><circle r="62" fill="#f8f1ee"/><g filter="url(#bl)"><circle cx="38.2" cy="10.6" r="22.6" fill="url(#gb)" fill-opacity="1.00"/><circle cx="0.0" cy="-12.9" r="18.5" fill="url(#gr)" fill-opacity="0.91"/><circle cx="11.7" cy="49.9" r="36.0" fill="url(#gr)" fill-opacity="0.91"/><circle cx="0.0" cy="-44.0" r="51.4" fill="url(#gb)" fill-opacity="0.56"/><circle cx="-35.2" cy="35.2" r="36.0" fill="url(#gb)" fill-opacity="0.79"/><circle cx="-55.8" cy="8.8" r="12.3" fill="url(#gr)" fill-opacity="1.00"/><circle cx="57.5" cy="10.6" r="10.3" fill="url(#gr)" fill-opacity="0.91"/><circle cx="-41.1" cy="11.7" r="15.4" fill="url(#gr)" fill-opacity="0.56"/></g><g fill="none" stroke="#333" stroke-width=".6"><circle cx="38.2" cy="10.6" r="7.1" stroke-dasharray="2 1.3"/><circle cx="38.2" cy="10.6" r="12.3" stroke-dasharray="2 1.3"/><circle cx="0.0" cy="-12.9" r="5.8"/><circle cx="0.0" cy="-12.9" r="10.0"/><circle cx="11.7" cy="49.9" r="11.3"/><circle cx="11.7" cy="49.9" r="19.5"/><circle cx="-35.2" cy="35.2" r="11.3" stroke-dasharray="2 1.3"/><circle cx="-35.2" cy="35.2" r="19.5" stroke-dasharray="2 1.3"/><circle cx="-55.8" cy="8.8" r="3.9"/><circle cx="-55.8" cy="8.8" r="6.7"/><circle cx="57.5" cy="10.6" r="3.2"/><circle cx="57.5" cy="10.6" r="5.6"/></g></g><use href="#hd"/><use href="#el"/><text x="0" y="-72" text-anchor="middle" font-size="7.6" font-family='"DejaVu Serif", serif' fill="#222">Spat-Conv Kernel 3</text></g><g transform="translate(3067.4 2282.5)"><g clip-path="url(#hc)"><circle r="62" fill="#f8f1ee"/><g filter="url(#bl)"><circle cx="-23.5" cy="29.4" r="30.8" fill="url(#gr)" fill-opacity="0.91"/><circle cx="0.0" cy="52.8" r="15.4" fill="url(#gr)" fill-opacity="0.91"/><circle cx="-23.5" cy="-17.6" r="25.7" fill="url(#gr)" fill-opacity="0.56"/><circle cx="23.5" cy="-23.5" r="25.7" fill="url(#gr)" fill-opacity="0.56"/><circle cx="0.0" cy="-47.0" r="41.1" fill="url(#gb)" fill-opacity="0.56"/><circle cx="41.1" cy="17.6" r="36.0" fill="url(#gb)" fill-opacity="0.68"/><circle cx="-47.0" cy="5.9" r="25.7" fill="url(#gb)" fill-opacity="0.45"/></g><g fill="none" stroke="#333" stroke-width=".6"><circle cx="-23.5" cy="29.4" r="9.7"/><circle cx="-23.5" cy="29.4" r="16.7"/><circle cx="0.0" cy="52.8" r="4.8"/><circle cx="0.0" cy="52.8" r="8.4"/></g></g><use href="#hd"/><use href="#el"/><text x="0" y="-72" text-anchor="middle" font-size="7.6" font-family='"DejaVu Serif", serif' fill="#222">Spat-Conv Kernel 4</text></g><g transform="translate(3295 2282.5)"><g clip-path="url(#hc)"><circle r="62" fill="#f8f1ee"/><g filter="url(#bl)"><circle cx="29.4" cy="10.0" r="28.8" fill="url(#gb)" fill-opacity="0.91"/><circle cx="-32.3" cy="10.0" r="28.8" fill="url(#gb)" fill-opacity="0.79"/><circle cx="5.9" cy="29.4" r="36.0" fill="url(#gr)" fill-opacity="0.68"/><circle cx="-41.1" cy="-23.5" r="41.1" fill="url(#gr)" fill-opacity="0.68"/><circle cx="0.0" cy="-41.1" r="36.0" fill="url(#gb)" fill-opacity="0.45"/><circle cx="0.0" cy="55.8" r="30.8" fill="url(#gr)" fill-opacity="0.56"/><circle cx="35.2" cy="41.1" r="20.5" fill="url(#gb)" fill-opacity="0.56"/></g><g fill="none" stroke="#333" stroke-width=".6"><circle cx="29.4" cy="10.0" r="9.0" stroke-dasharray="2 1.3"/><circle cx="29.4" cy="10.0" r="15.6" stroke-dasharray="2 1.3"/><circle cx="-32.3" cy="10.0" r="9.0" stroke-dasharray="2 1.3"/><circle cx="-32.3" cy="10.0" r="15.6" stroke-dasharray="2 1.3"/></g></g><use href="#hd"/><use href="#el"/><text x="0" y="-72" text-anchor="middle" font-size="7.6" font-family='"DejaVu Serif", serif' fill="#222">Spat-Conv Kernel 5</text></g><g transform="translate(3522.4 2282.5)"><g clip-path="url(#hc)"><circle r="62" fill="#f8f1ee"/><g filter="url(#bl)"><circle cx="47.0" cy="23.5" r="36.0" fill="url(#gb)" fill-opacity="1.00"/><circle cx="-41.1" cy="-17.6" r="51.4" fill="url(#gr)" fill-opacity="0.68"/><circle cx="0.0" cy="52.8" r="51.4" fill="url(#gr)" fill-opacity="0.68"/><circle cx="41.1" cy="-29.4" r="41.1" fill="url(#gr)" fill-opacity="0.56"/><circle cx="0.0" cy="-11.7" r="41.1" fill="url(#gb)" fill-opacity="0.45"/><circle cx="0.0" cy="55.8" r="12.3" fill="url(#gb)" fill-opacity="0.91"/></g><g fill="none" stroke="#333" stroke-width=".6"><circle cx="47.0" cy="23.5" r="11.3" stroke-dasharray="2 1.3"/><circle cx="47.0" cy="23.5" r="19.5" stroke-dasharray="2 1.3"/><circle cx="0.0" cy="55.8" r="3.9" stroke-dasharray="2 1.3"/><circle cx="0.0" cy="55.8" r="6.7" stroke-dasharray="2 1.3"/></g></g><use href="#hd"/><use href="#el"/><text x="0" y="-72" text-anchor="middle" font-size="7.6" font-family='"DejaVu Serif", serif' fill="#222">Spat-Conv Kernel 6</text></g><g transform="translate(3748.5 2282.5)"><g clip-path="url(#hc)"><circle r="62" fill="#f8f1ee"/><g filter="url(#bl)"><circle cx="-5.9" cy="-49.9" r="36.0" fill="url(#gr)" fill-opacity="1.00"/><circle cx="-32.3" cy="5.9" r="28.8" fill="url(#gr)" fill-opacity="1.00"/><circle cx="-44.0" cy="41.1" r="41.1" fill="url(#gb)" fill-opacity="1.00"/><circle cx="20.5" cy="-17.6" r="25.7" fill="url(#gb)" fill-opacity="0.68"/><circle cx="35.2" cy="35.2" r="41.1" fill="url(#gr)" fill-opacity="0.56"/><circle cx="-35.2" cy="-29.4" r="41.1" fill="url(#gr)" fill-opacity="0.68"/></g><g fill="none" stroke="#333" stroke-width=".6"><circle cx="-5.9" cy="-49.9" r="11.3"/><circle cx="-5.9" cy="-49.9" r="19.5"/><circle cx="-32.3" cy="5.9" r="9.0"/><circle cx="-32.3" cy="5.9" r="15.6"/><circle cx="-44.0" cy="41.1" r="12.9" stroke-dasharray="2 1.3"/><circle cx="-44.0" cy="41.1" r="22.3" stroke-dasharray="2 1.3"/></g></g><use href="#hd"/><use href="#el"/><text x="0" y="-72" text-anchor="middle" font-size="7.6" font-family='"DejaVu Serif", serif' fill="#222">Spat-Conv Kernel 7</text></g><g transform="translate(3067.4 2436)"><g clip-path="url(#hc)"><circle r="62" fill="#f8f1ee"/><g filter="url(#bl)"><circle cx="-23.5" cy="47.0" r="36.0" fill="url(#gr)" fill-opacity="0.91"/><circle cx="49.9" cy="-17.6" r="30.8" fill="url(#gr)" fill-opacity="0.79"/><circle cx="2.9" cy="26.4" r="22.6" fill="url(#gb)" fill-opacity="0.79"/><circle cx="-11.7" cy="-41.1" r="41.1" fill="url(#gb)" fill-opacity="0.56"/><circle cx="0.0" cy="-14.7" r="15.4" fill="url(#gr)" fill-opacity="0.56"/><circle cx="23.5" cy="0.0" r="25.7" fill="url(#gb)" fill-opacity="0.56"/><circle cx="29.4" cy="47.0" r="30.8" fill="url(#gr)" fill-opacity="0.56"/></g><g fill="none" stroke="#333" stroke-width=".6"><circle cx="-23.5" cy="47.0" r="11.3"/><circle cx="-23.5" cy="47.0" r="19.5"/><circle cx="49.9" cy="-17.6" r="9.7"/><circle cx="49.9" cy="-17.6" r="16.7"/><circle cx="2.9" cy="26.4" r="7.1" stroke-dasharray="2 1.3"/><circle cx="2.9" cy="26.4" r="12.3" stroke-dasharray="2 1.3"/></g></g><use href="#hd"/><use href="#el"/><text x="0" y="-72" text-anchor="middle" font-size="7.6" font-family='"DejaVu Serif", serif' fill="#222">Spat-Conv Kernel 8</text></g><g transform="translate(3295 2436)"><g clip-path="url(#hc)"><circle r="62" fill="#f8f1ee"/><g filter="url(#bl)"><circle cx="-35.2" cy="14.7" r="28.8" fill="url(#gr)" fill-opacity="1.00"/><circle cx="38.2" cy="10.6" r="20.5" fill="url(#gb)" fill-opacity="1.00"/><circle cx="-35.2" cy="-35.2" r="36.0" fill="url(#gb)" fill-opacity="0.91"/><circle cx="-41.1" cy="35.2" r="30.8" fill="url(#gr)" fill-opacity="0.91"/><circle cx="0.0" cy="-8.8" r="25.7" fill="url(#gr)" fill-opacity="0.56"/><circle cx="57.5" cy="8.8" r="12.3" fill="url(#gr)" fill-opacity="1.00"/><circle cx="-57.5" cy="5.9" r="12.3" fill="url(#gb)" fill-opacity="0.79"/><circle cx="29.4" cy="41.1" r="36.0" fill="url(#gb)" fill-opacity="0.56"/></g><g fill="none" stroke="#333" stroke-width=".6"><circle cx="-35.2" cy="14.7" r="9.0"/><circle cx="-35.2" cy="14.7" r="15.6"/><circle cx="38.2" cy="10.6" r="6.5" stroke-dasharray="2 1.3"/><circle cx="38.2" cy="10.6" r="11.2" stroke-dasharray="2 1.3"/><circle cx="-35.2" cy="-35.2" r="11.3" stroke-dasharray="2 1.3"/><circle cx="-35.2" cy="-35.2" r="19.5" stroke-dasharray="2 1.3"/><circle cx="-41.1" cy="35.2" r="9.7"/><circle cx="-41.1" cy="35.2" r="16.7"/><circle cx="57.5" cy="8.8" r="3.9"/><circle cx="57.5" cy="8.8" r="6.7"/><circle cx="-57.5" cy="5.9" r="3.9" stroke-dasharray="2 1.3"/><circle cx="-57.5" cy="5.9" r="6.7" stroke-dasharray="2 1.3"/></g></g><use href="#hd"/><use href="#el"/><text x="0" y="-72" text-anchor="middle" font-size="7.6" font-family='"DejaVu Serif", serif' fill="#222">Spat-Conv Kernel 9</text></g><g transform="translate(3522.4 2436)"><g clip-path="url(#hc)"><circle r="62" fill="#f8f1ee"/><g filter="url(#bl)"><circle cx="41.1" cy="32.3" r="30.8" fill="url(#gb)" fill-opacity="1.00"/><circle cx="5.9" cy="11.7" r="30.8" fill="url(#gr)" fill-opacity="0.79"/><circle cx="29.4" cy="-35.2" r="51.4" fill="url(#gr)" fill-opacity="0.68"/><circle cx="-35.2" cy="35.2" r="41.1" fill="url(#gb)" fill-opacity="0.68"/><circle cx="-35.2" cy="-17.6" r="36.0" fill="url(#gr)" fill-opacity="0.56"/><circle cx="0.0" cy="52.8" r="20.5" fill="url(#gr)" fill-opacity="0.56"/></g><g fill="none" stroke="#333" stroke-width=".6"><circle cx="41.1" cy="32.3" r="9.7" stroke-dasharray="2 1.3"/><circle cx="41.1" cy="32.3" r="16.7" stroke-dasharray="2 1.3"/><circle cx="5.9" cy="11.7" r="9.7"/><circle cx="5.9" cy="11.7" r="16.7"/></g></g><use href="#hd"/><use href="#el"/><text x="0" y="-72" text-anchor="middle" font-size="7.6" font-family='"DejaVu Serif", serif' fill="#222">Spat-Conv Kernel 10</text></g><g transform="translate(3748.5 2436)"><g clip-path="url(#hc)"><circle r="62" fill="#f8f1ee"/><g filter="url(#bl)"><circle cx="-20.5" cy="41.1" r="36.0" fill="url(#gr)" fill-opacity="1.00"/><circle cx="23.5" cy="-17.6" r="36.0" fill="url(#gb)" fill-opacity="0.91"/><circle cx="-47.0" cy="0.0" r="30.8" fill="url(#gr)" fill-opacity="0.56"/><circle cx="41.1" cy="-35.2" r="30.8" fill="url(#gb)" fill-opacity="0.56"/><circle cx="29.4" cy="41.1" r="30.8" fill="url(#gr)" fill-opacity="0.56"/></g><g fill="none" stroke="#333" stroke-width=".6"><circle cx="-20.5" cy="41.1" r="11.3"/><circle cx="-20.5" cy="41.1" r="19.5"/><circle cx="23.5" cy="-17.6" r="11.3" stroke-dasharray="2 1.3"/><circle cx="23.5" cy="-17.6" r="19.5" stroke-dasharray="2 1.3"/></g></g><use href="#hd"/><use href="#el"/><text x="0" y="-72" text-anchor="middle" font-size="7.6" font-family='"DejaVu Serif", serif' fill="#222">Spat-Conv Kernel 11</text></g><g transform="translate(3067.4 2592)"><g clip-path="url(#hc)"><circle r="62" fill="#f8f1ee"/><g filter="url(#bl)"><circle cx="-20.5" cy="29.4" r="28.8" fill="url(#gr)" fill-opacity="1.00"/><circle cx="17.6" cy="-35.2" r="46.2" fill="url(#gr)" fill-opacity="0.91"/><circle cx="-41.1" cy="5.9" r="41.1" fill="url(#gb)" fill-opacity="0.56"/><circle cx="35.2" cy="29.4" r="46.2" fill="url(#gb)" fill-opacity="0.68"/><circle cx="0.0" cy="0.0" r="30.8" fill="url(#gb)" fill-opacity="0.45"/></g><g fill="none" stroke="#333" stroke-width=".6"><circle cx="-20.5" cy="29.4" r="9.0"/><circle cx="-20.5" cy="29.4" r="15.6"/><circle cx="17.6" cy="-35.2" r="14.5"/><circle cx="17.6" cy="-35.2" r="25.1"/></g></g><use href="#hd"/><use href="#el"/><text x="0" y="-72" text-anchor="middle" font-size="7.6" font-family='"DejaVu Serif", serif' fill="#222">Spat-Conv Kernel 12</text></g><g transform="translate(3295 2592)"><g clip-path="url(#hc)"><circle r="62" fill="#f8f1ee"/><g filter="url(#bl)"><circle cx="38.2" cy="8.8" r="20.5" fill="url(#gb)" fill-opacity="1.00"/><circle cx="23.5" cy="-26.4" r="25.7" fill="url(#gb)" fill-opacity="1.00"/><circle cx="-29.4" cy="8.8" r="22.6" fill="url(#gb)" fill-opacity="0.91"/><circle cx="0.0" cy="52.8" r="25.7" fill="url(#gr)" fill-opacity="0.68"/><circle cx="-29.4" cy="-35.2" r="41.1" fill="url(#gr)" fill-opacity="0.68"/><circle cx="55.8" cy="-11.7" r="25.7" fill="url(#gr)" fill-opacity="0.68"/><circle cx="0.0" cy="-5.9" r="20.5" fill="url(#gr)" fill-opacity="0.56"/><circle cx="-35.2" cy="35.2" r="30.8" fill="url(#gr)" fill-opacity="0.56"/><circle cx="41.1" cy="41.1" r="25.7" fill="url(#gb)" fill-opacity="0.56"/></g><g fill="none" stroke="#333" stroke-width=".6"><circle cx="38.2" cy="8.8" r="6.5" stroke-dasharray="2 1.3"/><circle cx="38.2" cy="8.8" r="11.2" stroke-dasharray="2 1.3"/><circle cx="23.5" cy="-26.4" r="8.1" stroke-dasharray="2 1.3"/><circle cx="23.5" cy="-26.4" r="13.9" stroke-dasharray="2 1.3"/><circle cx="-29.4" cy="8.8" r="7.1" stroke-dasharray="2 1.3"/><circle cx="-29.4" cy="8.8" r="12.3" stroke-dasharray="2 1.3"/></g></g><use href="#hd"/><use href="#el"/><text x="0" y="-72" text-anchor="middle" font-size="7.6" font-family='"DejaVu Serif", serif' fill="#222">Spat-Conv Kernel 13</text></g><g transform="translate(3522.4 2592)"><g clip-path="url(#hc)"><circle r="62" fill="#f8f1ee"/><g filter="url(#bl)"><circle cx="-11.7" cy="17.6" r="39.0" fill="url(#gr)" fill-opacity="1.00"/><circle cx="26.4" cy="-32.3" r="30.8" fill="url(#gb)" fill-opacity="0.79"/><circle cx="0.0" cy="52.8" r="15.4" fill="url(#gb)" fill-opacity="0.91"/><circle cx="-47.0" cy="-23.5" r="36.0" fill="url(#gb)" fill-opacity="0.56"/><circle cx="47.0" cy="17.6" r="36.0" fill="url(#gb)" fill-opacity="0.56"/><circle cx="35.2" cy="47.0" r="30.8" fill="url(#gb)" fill-opacity="0.56"/></g><g fill="none" stroke="#333" stroke-width=".6"><circle cx="-11.7" cy="17.6" r="12.3"/><circle cx="-11.7" cy="17.6" r="21.2"/><circle cx="26.4" cy="-32.3" r="9.7" stroke-dasharray="2 1.3"/><circle cx="26.4" cy="-32.3" r="16.7" stroke-dasharray="2 1.3"/><circle cx="0.0" cy="52.8" r="4.8" stroke-dasharray="2 1.3"/><circle cx="0.0" cy="52.8" r="8.4" stroke-dasharray="2 1.3"/></g></g><use href="#hd"/><use href="#el"/><text x="0" y="-72" text-anchor="middle" font-size="7.6" font-family='"DejaVu Serif", serif' fill="#222">Spat-Conv Kernel 14</text></g><g transform="translate(3748.5 2592)"><g clip-path="url(#hc)"><circle r="62" fill="#f8f1ee"/><g filter="url(#bl)"><circle cx="-36.4" cy="8.8" r="22.6" fill="url(#gr)" fill-opacity="1.00"/><circle cx="51.7" cy="35.2" r="25.7" fill="url(#gr)" fill-opacity="1.00"/><circle cx="0.0" cy="-49.9" r="46.2" fill="url(#gb)" fill-opacity="0.91"/><circle cx="17.6" cy="47.0" r="41.1" fill="url(#gb)" fill-opacity="0.68"/><circle cx="0.0" cy="-26.4" r="41.1" fill="url(#gr)" fill-opacity="0.56"/><circle cx="-52.8" cy="-17.6" r="25.7" fill="url(#gb)" fill-opacity="0.68"/><circle cx="-23.5" cy="41.1" r="25.7" fill="url(#gb)" fill-opacity="0.56"/></g><g fill="none" stroke="#333" stroke-width=".6"><circle cx="-36.4" cy="8.8" r="7.1"/><circle cx="-36.4" cy="8.8" r="12.3"/><circle cx="51.7" cy="35.2" r="8.1"/><circle cx="51.7" cy="35.2" r="13.9"/><circle cx="0.0" cy="-49.9" r="14.5" stroke-dasharray="2 1.3"/><circle cx="0.0" cy="-49.9" r="25.1" stroke-dasharray="2 1.3"/></g></g><use href="#hd"/><use href="#el"/><text x="0" y="-72" text-anchor="middle" font-size="7.6" font-family='"DejaVu Serif", serif' fill="#222">Spat-Conv Kernel 15</text></g><rect x="3816.6" y="2116" width="14.1" height="454" fill="url(#cbar)"/><line x1="3830.7" y1="2173" x2="3834" y2="2173" stroke="#000" stroke-width="0.8" /><text x="3837" y="2176" font-size="8" fill="#222" font-family='"DejaVu Serif", serif'>0.2</text><line x1="3830.7" y1="2258" x2="3834" y2="2258" stroke="#000" stroke-width="0.8" /><text x="3837" y="2261" font-size="8" fill="#222" font-family='"DejaVu Serif", serif'>0.1</text><line x1="3830.7" y1="2343.5" x2="3834" y2="2343.5" stroke="#000" stroke-width="0.8" /><text x="3837" y="2346.5" font-size="8" fill="#222" font-family='"DejaVu Serif", serif'>0.0</text><line x1="3830.7" y1="2428" x2="3834" y2="2428" stroke="#000" stroke-width="0.8" /><text x="3837" y="2431" font-size="8" fill="#222" font-family='"DejaVu Serif", serif'>−0.1</text><line x1="3830.7" y1="2513" x2="3834" y2="2513" stroke="#000" stroke-width="0.8" /><text x="3837" y="2516" font-size="8" fill="#222" font-family='"DejaVu Serif", serif'>−0.2</text><text x="3866" y="2343" font-size="8" text-anchor="middle" fill="#222" font-family='"DejaVu Serif", serif' transform="rotate(90 3866 2343)">Weight (AU)</text><text x="3915.8" y="2121" font-size="53" textLength="108" lengthAdjust="spacingAndGlyphs" fill="#60a5fa" font-family='"Liberation Sans", sans-serif' font-weight="bold">+4%</text><text x="3915.8" y="2181.5" font-size="53" textLength="77" lengthAdjust="spacingAndGlyphs" font-family='"Liberation Sans", sans-serif'>Acc</text><text x="3915.8" y="2267.8" font-size="53" textLength="189.6" lengthAdjust="spacingAndGlyphs" fill="#fbbf24" font-family='"Liberation Sans", sans-serif' font-weight="bold">15.7ms</text><text x="3915.8" y="2327.7" font-size="53" textLength="321.7" lengthAdjust="spacingAndGlyphs" font-family='"Liberation Sans", sans-serif'>Inference time</text><text x="3915.8" y="2420" font-size="53" textLength="155.6" lengthAdjust="spacingAndGlyphs" fill="#f9a8d4" font-family='"Liberation Sans", sans-serif' font-weight="bold">KL&gt;31</text><text x="3915.8" y="2480" font-size="53" textLength="374.6" lengthAdjust="spacingAndGlyphs" font-family='"Liberation Sans", sans-serif'>Inter-class KL Div</text><text x="3915.8" y="2570" font-size="53" textLength="161.5" lengthAdjust="spacingAndGlyphs" fill="#a78bfa" font-family='"Liberation Sans", sans-serif' font-weight="bold">92.1%</text><text x="3915.8" y="2631.8" font-size="54" textLength="225" lengthAdjust="spacingAndGlyphs" font-family='"Liberation Serif", serif' font-style="italic">μ + β + γ</text>
</svg>
<div class="ln " style="left:76px;top:582.9px;width:1270px;font-size:46.5px;line-height:60px;color:#7f1d1d;">Gradient-based TTA continuously overwrites pretrained MI</div><div class="ln " style="left:76px;top:643.9px;width:1270px;font-size:46.5px;line-height:60px;text-align-last:left;text-align:left;color:#7f1d1d;">representations in online settings (batch =1).</div><div class="ln " style="left:76px;top:789.6px;width:1270px;font-size:46.5px;line-height:60px;color:#7f1d1d;">BN statistics / data alignment fails to model deep distribu-</div><div class="ln " style="left:76px;top:849.4px;width:1270px;font-size:46.5px;line-height:60px;text-align-last:left;text-align:left;color:#7f1d1d;">tional shifts in temporal predictive embeddings.</div><div class="ln " style="left:76px;top:987.9px;width:1270px;font-size:46.5px;line-height:60px;color:#7f1d1d;">Backpropagation at infer-ence time is impractical for real-time</div><div class="ln " style="left:76px;top:1048.9px;width:1270px;font-size:46.5px;line-height:60px;text-align-last:left;text-align:left;color:#7f1d1d;">BCI deployment on portable hardware.</div><div class="ln " style="left:177.5px;top:1250.9px;width:1169.5px;font-size:46.5px;line-height:60px;color:#1e293b;"><b class="bl">SincAdaptNet:</b> Lightweight encoder with learnable Sinc</div><div class="ln " style="left:177.5px;top:1311.9px;width:1169.5px;font-size:46.5px;line-height:60px;color:#1e293b;">bandpass filters extracting physiologically meaningful <span class="mr" style="font-size:48px">μ</span></div><div class="ln " style="left:177.5px;top:1371.9px;width:1169.5px;font-size:46.5px;line-height:60px;text-align-last:left;text-align:left;color:#1e293b;"><span class="m" style="font-size:52px;letter-spacing:5px">/β/γ</span> EEG rhythms.</div><div class="ln " style="left:177.5px;top:1447.4px;width:1169.5px;font-size:46.5px;line-height:60px;color:#1e293b;"><b class="bl">Dirichlet Feature Projection:</b> First use of Dirichlet</div><div class="ln " style="left:177.5px;top:1507.9px;width:1169.5px;font-size:46.5px;line-height:60px;color:#1e293b;letter-spacing:-0.14px;">distribution in EEG-TTA: maps temporal embeddings to a</div><div class="ln " style="left:177.5px;top:1567.9px;width:1169.5px;font-size:46.5px;line-height:60px;text-align-last:left;text-align:left;color:#1e293b;">compact, interpretable parameter space <span class="m" style="font-size:52px;font-weight:bold;color:#000;position:relative">α<svg style="position:absolute;left:.13em;top:.2em;overflow:visible" width=".5em" height=".16em" viewBox="0 0 10 3.2"><path d="M0.3,3.2 L5,0.3 L9.7,3.2" fill="none" stroke="#000" stroke-width="1.15"/></svg></span><span class="mr" style="font-size:36px;position:relative;top:10px;color:#000">MLE</span>.</div><div class="ln " style="left:177.5px;top:1643.9px;width:1169.5px;font-size:46.5px;line-height:60px;color:#1e293b;letter-spacing:-0.12px;"><b class="bl">GMM-driven Bayesian Inference:</b> Gradient-free calibra-</div><div class="ln " style="left:177.5px;top:1703.9px;width:1169.5px;font-size:46.5px;line-height:60px;color:#1e293b;">tion: GMM models historical Dirichlet parameters;</div><div class="ln " style="left:177.5px;top:1764.9px;width:1169.5px;font-size:46.5px;line-height:60px;text-align-last:left;text-align:left;color:#1e293b;letter-spacing:-0.15px;">Bayesian inference fuses evidence with prior predictions.</div><div class="ln " style="left:73px;top:2478.7px;width:1275px;font-size:47px;line-height:60px;color:#1e293b;"><b class="bl">We propose BTTA-DG</b>—a novel Bayesian TTA framework</div><div class="ln " style="left:73px;top:2539.7px;width:1275px;font-size:47px;line-height:60px;color:#1e293b;">achieving efficient, gradient-free adaptation via Dirichlet</div><div class="ln " style="left:73px;top:2600.7px;width:1275px;font-size:47px;line-height:60px;text-align-last:left;text-align:left;color:#1e293b;">feature projection and GMM-driven Bayesian inference.</div><div class="ln " style="left:1448.5px;top:1008.6px;width:1469px;font-size:46.5px;line-height:60px;color:#1e293b;"><b class="bl">SpatConv</b> <span style="font-family:'DejaVu Sans',sans-serif;font-size:42px">→</span> spatial filtering (<span class="m" style="font-size:50px">C</span><span class="mr" style="font-size:50px"> × 1, </span><span class="m" style="font-size:50px">F</span><span class="mr" style="font-size:36px;position:relative;top:11px">spat</span><span class="mr" style="font-size:50px"> = 16</span>); &nbsp; <b class="bl">SincConv</b> <span style="font-family:'DejaVu Sans',sans-serif;font-size:42px">→</span> learn-</div><div class="ln " style="left:1448.5px;top:1074.5px;width:1469px;font-size:46.5px;line-height:60px;color:#1e293b;letter-spacing:-0.35px;">able Sinc bandpass; <b class="bl">IncChConv</b> <span style="font-family:'DejaVu Sans',sans-serif;font-size:42px">→</span> channel expansion; <b class="bl">ClsConv</b> <span style="font-family:'DejaVu Sans',sans-serif;font-size:42px">→</span> <span class="mr" style="font-size:50px">|</span><span class="m" style="font-size:50px">L</span><span class="mr" style="font-size:50px">| ×</span></div><div class="ln " style="left:1448.5px;top:1134.9px;width:1469px;font-size:46.5px;line-height:60px;text-align-last:left;text-align:left;color:#1e293b;"><span class="m" style="font-size:50px">T</span> temporal embeddings <span class="m" style="font-size:50px">X</span>.</div>
</body></html>
